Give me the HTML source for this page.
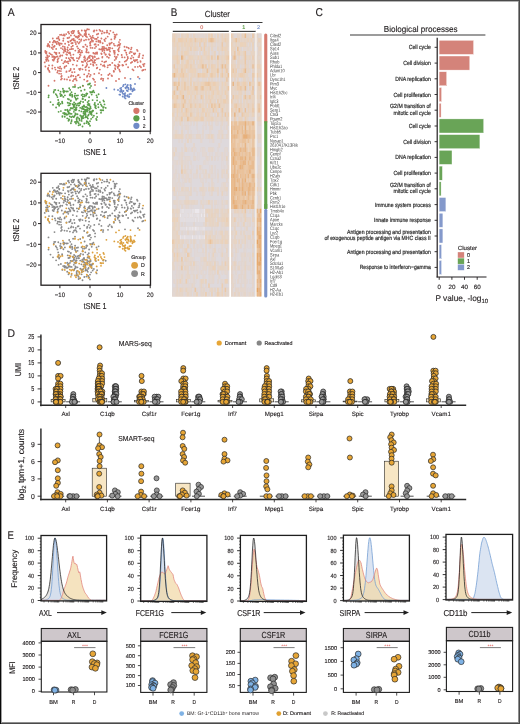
<!DOCTYPE html>
<html><head><meta charset="utf-8"><style>
html,body{margin:0;padding:0;background:#fff;}
body{width:520px;height:724px;overflow:hidden;}
svg{display:block;font-family:"Liberation Sans",sans-serif;text-rendering:geometricPrecision;will-change:transform;}
svg{fill:#231f20;}
text:not([fill]){stroke:#231f20;stroke-width:0.14px;}
</style></head><body>
<svg width="520" height="724" viewBox="0 0 520 724">
<rect x="0" y="0" width="520" height="724" fill="#fff"/>
<rect x="41" y="24.5" width="109.5" height="106.7" fill="none" stroke="#231f20" stroke-width="1.3"/>
<line x1="38" y1="33.2" x2="41" y2="33.2" stroke="#231f20" stroke-width="1"/>
<text x="36.5" y="35.4" font-size="6.3" text-anchor="end" textLength="6.7" lengthAdjust="spacingAndGlyphs">20</text>
<line x1="38" y1="52.9" x2="41" y2="52.9" stroke="#231f20" stroke-width="1"/>
<text x="36.5" y="55.1" font-size="6.3" text-anchor="end" textLength="6.7" lengthAdjust="spacingAndGlyphs">10</text>
<line x1="38" y1="72.6" x2="41" y2="72.6" stroke="#231f20" stroke-width="1"/>
<text x="36.5" y="74.8" font-size="6.3" text-anchor="end" textLength="3.6" lengthAdjust="spacingAndGlyphs">0</text>
<line x1="38" y1="92.3" x2="41" y2="92.3" stroke="#231f20" stroke-width="1"/>
<text x="36.5" y="94.5" font-size="6.3" text-anchor="end" textLength="10.2" lengthAdjust="spacingAndGlyphs">&#8722;10</text>
<line x1="38" y1="112" x2="41" y2="112" stroke="#231f20" stroke-width="1"/>
<text x="36.5" y="114.2" font-size="6.3" text-anchor="end" textLength="10.2" lengthAdjust="spacingAndGlyphs">&#8722;20</text>
<line x1="59.9" y1="131.2" x2="59.9" y2="134.2" stroke="#231f20" stroke-width="1"/>
<text x="59.9" y="142.6" font-size="6.3" text-anchor="middle" textLength="10.2" lengthAdjust="spacingAndGlyphs">&#8722;10</text>
<line x1="90" y1="131.2" x2="90" y2="134.2" stroke="#231f20" stroke-width="1"/>
<text x="90" y="142.6" font-size="6.3" text-anchor="middle" textLength="3.6" lengthAdjust="spacingAndGlyphs">0</text>
<line x1="120.1" y1="131.2" x2="120.1" y2="134.2" stroke="#231f20" stroke-width="1"/>
<text x="120.1" y="142.6" font-size="6.3" text-anchor="middle" textLength="6.7" lengthAdjust="spacingAndGlyphs">10</text>
<line x1="150.2" y1="131.2" x2="150.2" y2="134.2" stroke="#231f20" stroke-width="1"/>
<text x="150.2" y="142.6" font-size="6.3" text-anchor="middle" textLength="6.7" lengthAdjust="spacingAndGlyphs">20</text>
<text x="95.2" y="154.8" font-size="8.6" text-anchor="middle" textLength="22.7" lengthAdjust="spacingAndGlyphs">tSNE 1</text>
<text transform="translate(19 78) rotate(-90)" font-size="8.6" text-anchor="middle" textLength="22.7" lengthAdjust="spacingAndGlyphs">tSNE 2</text>
<path d="M88.6 52.5h0M52.3 68.5h0M90.5 45.4h0M105.8 38.4h0M64.9 48.5h0M52.8 38.5h0M86 35h0M53 42.5h0M46.5 51.9h0M72.1 39.4h0M119 42.1h0M119.5 65.3h0M48.1 43.9h0M119 79h0M96.1 46.5h0M121.7 55h0M83 62h0M74.1 69h0M78.4 31h0M114.6 38.7h0M75.7 36.8h0M83.7 46.9h0M69.3 53.2h0M57.8 61.2h0M102.6 48.7h0M49.2 56.1h0M58 67.5h0M47.8 68.5h0M48.2 67.9h0M94.3 73.9h0M143.3 70h0M52.7 59.8h0M115.3 69.2h0M50.6 54.1h0M94.5 56.5h0M58 38.3h0M74.1 30.8h0M80 77.3h0M93.1 64.4h0M81 35.1h0M95.5 53.8h0M63.1 35.3h0M90.9 60h0M116 81h0M114 71.2h0M119.3 69.7h0M49.1 45.5h0M70.4 70.3h0M75 85h0M87.2 64.7h0M75.9 44h0M62.9 46.5h0M102.4 51h0M68.3 63.3h0M57.5 56.5h0M73.3 33.1h0M118.2 49.6h0M143.1 55.5h0M47.5 46.2h0M133.3 57.6h0M64.7 47h0M56.2 48.9h0M73 81h0M84.2 74.3h0M61.3 68.7h0M69.1 33.5h0M130.4 51.6h0M47.5 45.7h0M64.7 66.7h0M79.6 51.9h0M47.6 59.1h0M90.2 45.5h0M61.8 60.1h0M85.2 61.3h0M70.7 68.9h0M61 79.5h0M53.4 60.5h0M87.3 75.6h0M138 77h0M80 34.2h0M74 79.3h0M69.1 52.7h0M66.5 71.5h0M118.6 49.3h0M114.2 52.4h0M75.2 42.1h0M102.4 31.2h0M108.3 75h0M68.8 58.2h0M80.6 52.8h0M96.3 41.4h0M82.7 65.2h0M132.5 69.3h0M94.6 44.5h0M131 49.3h0M139.2 55.5h0M57.5 61.4h0M47.7 45.3h0M74.6 72.1h0M114.7 50.8h0M69.3 37.5h0M62.3 55.5h0M128.1 67.2h0M119.7 45h0M119.5 47.1h0M73.7 38.8h0M56.9 56.6h0M53.7 60.6h0M87.6 80.8h0M125.3 50.5h0M102.1 61.3h0M72.6 43h0M119.9 39.8h0M85.6 33.1h0M112 76h0M79.2 36.1h0M58.5 42.6h0M69.9 49.3h0M93.5 37.8h0M67.4 49.5h0M71.4 31.9h0M108.8 57.7h0M140.6 61.8h0M145.2 69.6h0M126.2 60.6h0M101.4 74.8h0M109.9 55.2h0M95.3 60.1h0M61.7 75.9h0M142.6 58.1h0M84.6 56.3h0M69.2 71.1h0M68 41.6h0M54.1 57.8h0M54.6 40.8h0M108 78.5h0M55.2 42.3h0M128.8 48.4h0M88.7 73.7h0M100.5 42.2h0M86 39.7h0M84.3 59.9h0M72.1 33.2h0M63.2 40.7h0M90.1 42.3h0M96.6 30.4h0M66.4 71.9h0M117.6 66.9h0M80.5 68.6h0M78.2 31.6h0M118.6 66.3h0M103.3 78.8h0M46.1 59.5h0M59.3 40.1h0M130.9 62.9h0M92.8 57.2h0M115.2 35.1h0M84.1 40.4h0M117.4 45.8h0M56.8 38.4h0M136.4 60.2h0M115.6 65.9h0M128.4 47.8h0M55.8 42.4h0M104.2 65.1h0M60.4 55.5h0M97.9 37.3h0M79.1 68.9h0M103 65.7h0M88.9 34.3h0M53.6 56.4h0M123.2 65.3h0M57.3 41.6h0M110.2 64.9h0M54.6 45.9h0M56.3 54.3h0M109.7 54.9h0M66.2 34.1h0M85.7 69.9h0M137.6 50.9h0M60.1 66.7h0M66.9 61.8h0M59.3 39.5h0M52.4 65.5h0M97.1 53.8h0M89.7 57.9h0M90.7 64.1h0M91.3 59.8h0M139.1 56.9h0M102.4 46.8h0M64.5 79.2h0M96 52.6h0M91.3 37.4h0M71.5 49h0M70.1 53.2h0M114.6 34.6h0M65.3 51.2h0M89.8 76.6h0M86.4 48.8h0M69.9 59.7h0M86.7 50.4h0M84.7 34h0M127.7 56.9h0M47.3 55.5h0M61.7 43.7h0M131.9 55.8h0M116.8 56.9h0M54.3 58.8h0M109.2 54.2h0M122.1 57.2h0M88.5 39.4h0M49 65.4h0M55.5 69.6h0M127.9 58.2h0M81 40.8h0M86.8 52.4h0M137.8 66.8h0M46.4 60.9h0M118.8 48.3h0M95 38.9h0M79.9 54.6h0M71.4 75.3h0M78.7 43.4h0M108 65.3h0M113.8 43.8h0M55.6 41.9h0M54.5 56.8h0M52.8 60.1h0M91.8 40h0M48.4 60.7h0M66.3 65.9h0M88 61.3h0M93 40.8h0M70.7 55.1h0M105.6 48.4h0M67.1 52.2h0M75.8 76.7h0M106.1 61.4h0M122.4 64.9h0M97.1 52.4h0M84.5 35h0M61.1 73.8h0M62.7 49.1h0M109.2 33.7h0M78.7 58.7h0M71.1 57.4h0M73.8 31.8h0M68 38.1h0M122.6 65.5h0M86.4 66.2h0M77.5 37.8h0M87 37.1h0M124.6 57.4h0M111.8 42.6h0M75.3 50.6h0M99.5 29.8h0M70.4 60.5h0M54.1 46.8h0M93.7 31.2h0M72.2 39.3h0M94.3 30.3h0M79.2 39.3h0M119.5 61.9h0M54.9 67.6h0M86.3 30.6h0M124.8 61.6h0M76.6 80.4h0M93.7 31.1h0M100.2 42.5h0M98.4 40.7h0M68.1 61.3h0M117.9 68.1h0M126.7 54.7h0M96 38.9h0M84.7 30.4h0M102.4 56.8h0M109.4 43.3h0M117.9 54.7h0M72.8 45.7h0M85.7 32.3h0M90.1 55.7h0M114.7 60.1h0M87.1 46.5h0M108.9 47.6h0M142.3 70.5h0M88.9 29.4h0M63.5 38.5h0M49.1 70.7h0M118.3 64.5h0M76.9 58.1h0M93 78.6h0M129.6 53.1h0M133.8 53.4h0M57.3 72.5h0M120.3 43.8h0M87.4 76h0M105.7 54.8h0M86.2 52h0M78.9 58.1h0M88.2 57.7h0M101.8 33.5h0M102.7 43.2h0M143.1 64.4h0M85.9 36.3h0M84.1 57.4h0M72.9 64.6h0M52.3 56.9h0M72.6 30.8h0M96.9 58.8h0M107.4 49.9h0M56.5 52.9h0M143.8 66h0M68.5 31.8h0M49.4 53.1h0M88.9 39.5h0M87.3 59.2h0M110.6 43.4h0M73 48.9h0M61.4 34.7h0M75.9 79h0M94 31.5h0M99.9 69.6h0M124.6 50.3h0M77.1 46.5h0M67.5 38h0M65.3 49.4h0M64.5 61.7h0M114.9 45.6h0M74.2 60.3h0M102.3 57.5h0M115.1 68.2h0M64.7 35.5h0M102.2 48.3h0M94.9 48.1h0M96.5 64.8h0M61.2 76.7h0M90.1 36.1h0M78.2 52.4h0M118.8 51.2h0M104.4 62.2h0M114.6 51.9h0M118.1 50.1h0M64.9 62h0M114.8 52.8h0M119.4 45h0M130.7 58.3h0M86.8 49.4h0M88.9 67.3h0M135.4 60.2h0M84.2 79.6h0M93 62.2h0M107.1 56.7h0M82.5 69.3h0M91 38.4h0M82.7 36.4h0M98.2 33.7h0M67 54.7h0M59.5 68.3h0M104.3 48.2h0M90.6 74.9h0M57.8 70.8h0M126.2 64.4h0M55.5 57.2h0M101.6 78.5h0M70.9 35.5h0M99.3 49.2h0M100.4 30.9h0M116.1 58.8h0M102.7 49.6h0M115.4 37h0M68.5 42.2h0M87 81.2h0M78.6 50.8h0M89.1 70.7h0M108.6 49.5h0M93.4 65.5h0M66.9 62h0M75.1 78.8h0M60.1 43.5h0M110 51.5h0M71.2 40.4h0M80.6 55.1h0M46.7 58.8h0M103.9 46.9h0M52.4 44.8h0M120 71.5h0M93.9 62.2h0M94.9 57h0M103.8 48.9h0M94.4 60.1h0M86.8 63.1h0M79.8 56.8h0M74.5 35.4h0M100.9 64.4h0M57.5 62.1h0M73.3 76h0M81.8 61.7h0M53.3 46.8h0M63.3 63.3h0M126 60.9h0M61 48.1h0M106.5 48.5h0M47.8 57.2h0M60 34.8h0M59.4 70.8h0M77.4 61h0M63.6 52.5h0M57.7 59.5h0M49.6 46.8h0M86.1 33.9h0M78.2 31.8h0M83.1 46.7h0M54.3 59h0M101.3 53.5h0M85.5 44.7h0M104.4 50.5h0M89.1 56.5h0M125 78h0M107 30.7h0M134.8 61.2h0M71.4 43.2h0M46 53.2h0M104.4 39.7h0M101.4 38.5h0M139.6 53.7h0M78.1 48.4h0M113.7 70.9h0M68.9 52.9h0M107.7 36.6h0M105.9 54.3h0M79.8 49.7h0M89.7 61h0M65.1 43.7h0M92.9 41.6h0M101.6 54h0M61.9 78.6h0M92.1 37.5h0M135.1 66.9h0M111.3 39.4h0M114.4 45.3h0M137.2 59.8h0M94.1 53.5h0M95 85h0M107.2 45.2h0M126.2 52.7h0M52 54.9h0M110.1 48h0M140.4 61.1h0M91.9 56.1h0M82.1 52.3h0M64.5 67.7h0M94 79.7h0M68.9 45h0M132.1 62h0M54.6 52.3h0M78.6 75h0M134.3 54.3h0M94.9 62.7h0M98.3 44.9h0M107 50h0M55.1 57.8h0M133.5 70.3h0M106.3 32.6h0M59.3 53h0M59.1 73.6h0M139.8 66h0M85.4 67.4h0M81.8 50.8h0M78.5 35.9h0M105.4 54.4h0M58.1 38.2h0M99 73.2h0M98.6 58.4h0M73.4 54.6h0M109.6 44.7h0M64 34.5h0M96.8 68.2h0M110.4 30.8h0M70.9 76.4h0M95.1 81.9h0M72.3 58.2h0M73.5 59.8h0M127.1 59.8h0M79.1 32.9h0M144.5 63.8h0M87.3 29.2h0M45.4 66.5h0M96.8 34.4h0M131.8 52.1h0M81.8 30.5h0M100.1 40.9h0M76.7 65.5h0M113.3 32.4h0M65.2 61h0M131.1 58.5h0M113.7 50.8h0M109.7 73.7h0M78.5 37h0M69.8 52.3h0M114.6 36.8h0M104.2 32.7h0M81.3 39.5h0M49.8 42h0M124.5 46.7h0M48.5 85.7h0M67.7 47.4h0M114.7 65.2h0M51.7 47.7h0M79.8 69.9h0M101 79h0M64.1 50.5h0M92.8 35.8h0M68.6 77.1h0M48.1 69.4h0M68 32.1h0M70 61h0M55.7 53h0M56.8 44h0M73.6 40.2h0M115.9 57.9h0M90.1 43.1h0M66.3 58h0M103 80.5h0M46.3 53.5h0M98.4 41.8h0M93.3 52.9h0M95.6 44.2h0M107.6 67.3h0M137 49.8h0M92.5 47.9h0M45.3 50.8h0M83 86h0M112.3 62.9h0M118.2 45.1h0M58.5 58.3h0M52.9 49.1h0M85.1 58h0M126.7 47.2h0M78.6 33.3h0M76.7 36.7h0M59.6 45.2h0M85.7 60.3h0M44.7 62.4h0M114.6 53.9h0M92.1 60.6h0M46.1 57.3h0M105.6 61.6h0M107.4 32.4h0M70.4 41h0M58.7 43.7h0M90.1 43.6h0M135.2 53.5h0M87 76.7h0M68 50.6h0M92.8 58.5h0M53.8 41h0M104.3 52.7h0M60.9 71.1h0M109.6 49.8h0M116.7 34.5h0M66.3 54.3h0M94.3 61.9h0M119.2 44.3h0M72.1 72.2h0M54.5 80.7h0M104.7 66.5h0M96.7 39h0M77.2 41.9h0M45.3 51.9h0M113.9 71.7h0M138.4 57.1h0M101 49.4h0M97.3 67.7h0M79.6 42.2h0M133.9 60.2h0M71.4 46.8h0M60 56.5h0M77.7 75.3h0M74.9 40.3h0M90.6 47.8h0M114.8 56.4h0M111.6 75.4h0M73.1 58h0M112.3 48.3h0M49.6 71.9h0M105 41.1h0M69.9 80.2h0M91 41.7h0M46.4 60.6h0M141 67.2h0M58.5 37h0M137.7 62.2h0M131.5 47.7h0M109.7 64.8h0M67 79.5h0M85.4 31.5h0" stroke="#d5766a" stroke-width="1.85" stroke-linecap="round" fill="none"/>
<path d="M84 105.4h0M75.3 109.9h0M85.4 107.1h0M68.4 111.9h0M96.5 95.3h0M75 122h0M90 121.2h0M81.8 116.2h0M61.9 95.5h0M72.7 104.2h0M89.1 97.2h0M89.4 112.6h0M75.2 97.6h0M58.3 90.3h0M58.9 102.5h0M87.5 111h0M74.3 104.9h0M77.8 117.5h0M103.1 107.2h0M62.4 103.3h0M87.6 104.8h0M85.3 100h0M71.5 121.4h0M70.5 103.6h0M75.5 109.4h0M92.4 110.7h0M93.9 115.7h0M83.7 115.2h0M86.8 121.2h0M61.4 94.6h0M83.5 118h0M78.6 125.3h0M84.5 96.4h0M59.1 105.1h0M88.5 124h0M86.1 109.7h0M84.8 113.2h0M67.8 91.4h0M64.9 95.3h0M70.9 100.4h0M63.6 90.6h0M62.2 102.4h0M70.3 95.4h0M80.2 124.7h0M59.1 105.8h0M87.2 93.9h0M69.7 105.1h0M68.5 120.7h0M87.1 117.2h0M70.6 108.1h0M96.6 120h0M85.4 113.8h0M77.2 117.5h0M83.4 113.1h0M99.9 102.2h0M74.7 107h0M90.1 91.8h0M65.8 113.4h0M94.4 104.5h0M76.6 118.8h0M89.6 109.4h0M90.4 106.5h0M82.8 96.6h0M79.9 102.7h0M89.2 105.4h0M82.7 98.7h0M70.7 101h0M58.6 111.8h0M84.9 111.4h0M89.5 104.1h0M78.4 105.6h0M73.6 117.1h0M77.7 121.6h0M103.2 107.8h0M80.2 107.8h0M75.6 103.7h0M67.2 118.3h0M86.1 95.5h0M101 112.7h0M88 84.5h0M71.5 92.2h0M74.3 116.4h0M76.4 121.7h0M88.1 115.6h0M87.9 118.5h0M81.4 117h0M62.9 88.7h0M70.2 89.9h0M89.9 108.4h0M88.3 122.5h0M91 86h0M87.6 102.1h0M50.5 102.1h0M60.6 91.7h0M78.3 87.8h0M76.7 121.3h0M63.5 90.4h0M48.5 97.3h0M85.3 112.8h0M67.1 110h0M79.2 118.6h0M97.1 100.4h0M82.8 116.2h0M80.2 124.5h0M82.6 94.4h0M76.7 119.8h0M91.8 114.9h0M90.5 113.7h0M74.1 102.5h0M91.6 112.8h0M76 123.6h0M72.2 96.8h0M81.9 108.3h0M69 99.5h0M92.7 117.3h0M71.3 117.2h0M93.4 90.7h0M87.3 93.7h0M67.9 111.6h0M97.1 117h0M54.2 90.1h0M89.2 83.8h0M74.7 115.4h0M73.8 106.1h0M79.6 120.4h0M91.7 94.6h0M75.7 114.6h0M95.3 107.6h0M81.6 95.1h0M95.5 105.5h0M91 112h0M69.3 119.8h0M76.4 109.5h0M100.9 104.4h0M73.7 106.8h0M63.4 96.9h0M60.4 103.9h0M82.3 106.9h0M79.4 119.3h0M87.2 111.6h0M72.1 94.6h0M98.6 94.2h0M57.6 104.1h0M68.2 111.8h0M83.5 106.1h0M89.8 111.3h0M72.5 116.4h0M81.1 90.7h0M64.3 112.9h0M95.2 107h0M66.6 91.5h0M76 98.9h0M53 104.7h0M83 98.9h0M94.9 102.9h0M70.3 94h0M78.6 123.3h0M65.2 110h0M91.1 118.9h0M70 109.9h0M81.4 111.4h0M74.3 109.9h0M83.5 108.4h0M67.4 109.7h0M90.5 112.5h0M90 87.8h0M70.9 123.2h0M85.8 116h0M80.3 115.5h0M98.1 104.2h0M84.3 123.5h0M90.7 108.2h0M48.7 95.5h0M76 108.1h0M79.2 110.6h0M73.3 104.3h0M74.6 96.2h0M96.7 113.3h0M86.3 110.9h0M69.7 94.9h0M68.4 105.4h0M60.9 111.1h0M95.1 105.3h0M98.4 107.2h0M76.5 105.5h0M82 108.7h0M69.2 103.1h0M63.2 91.6h0M67.9 98.9h0M91.1 113.9h0M82 117.9h0M92.3 91.9h0M92.1 91.7h0M84.6 89.7h0M86.4 123.1h0M85.6 114.3h0M80.8 101.3h0M88.3 103.7h0M87.2 109.7h0M96.1 118.8h0M55.8 94.1h0M81.9 118.8h0M58 104h0M93.1 110.7h0M63.1 113.1h0M85.1 114.1h0M60.1 93.8h0M80.1 103.6h0M91.4 112.1h0M83.1 102h0M82.5 99h0M78 95.3h0M85.4 111.1h0M81.7 119h0M56.1 107.5h0M78.2 103.3h0M83.6 111.6h0M75 86.6h0M66.3 114.7h0M69.2 88.2h0M101.8 110.2h0M83.2 109h0M71.6 113.8h0M55.3 89.9h0M86.3 93.7h0M64.8 116.7h0M75.7 113.6h0M70.1 113.7h0M71 108h0M78.5 123h0M77.6 98.5h0M101.3 110.5h0M64.8 91.2h0M76.1 99.7h0M58.2 100h0M96 108.3h0M77 117.8h0M62.1 101.7h0M60.6 96h0M84.8 109.7h0M103.2 110.2h0M63.8 92.5h0M100.5 110.1h0M104.5 104.4h0M92.4 111.4h0M64.5 114.4h0M87.8 110.5h0M77.7 121.8h0M69.6 113.1h0M82.5 126.5h0M84.3 106.5h0M86.6 106.8h0M88.6 114.7h0M62.4 116.1h0M53.7 92.6h0M73.1 86.9h0M73.4 104.7h0M105.7 107.9h0M67.7 102.7h0M83.8 113.2h0M87.2 121.6h0M68.6 111.1h0M72.2 95.4h0M75.8 110.3h0M104 101.6h0M90.6 92.6h0M97.1 97.2h0M76.6 107.6h0M85.4 117.3h0M58.4 102.6h0M67.7 114.6h0M85.4 112.2h0M95.8 105.9h0M84.4 113.6h0M71.7 108.4h0M57.5 97.1h0M77.5 114.2h0M68.5 113.5h0M71.7 120.1h0M75.3 109.2h0M103.4 100.5h0M89.4 84.2h0M90 83.5h0M74.7 95.6h0M74.9 87.1h0M86.4 109.9h0M76.6 95.6h0M75.4 113.3h0M87.3 108.1h0M73.9 111.8h0M84.4 94.8h0M94.2 92.3h0M68.9 119.2h0M88.8 100.8h0M83 116.3h0M79.5 103h0M82.8 85.6h0M69.8 116.4h0M53.8 91.7h0M80.2 87.2h0M101.7 105.9h0M73.8 117.1h0M62.4 116.7h0M56.7 95.4h0M88.9 108.5h0M86.7 93.4h0M86 110h0M90 125.7h0M89.2 123.9h0M87.2 107.6h0M66.9 114.6h0M81.6 120.9h0M77.7 103.8h0M92.1 92.4h0M103.8 107.1h0M75.1 93.6h0M91.4 114.6h0M72.8 108.2h0M92.6 100.1h0M79.1 105.4h0" stroke="#5c9e4a" stroke-width="1.85" stroke-linecap="round" fill="none"/>
<path d="M120.1 94.7h0M124.7 94.7h0M125.2 93.1h0M122.3 92.5h0M132.4 91.2h0M124.6 97.5h0M130.5 89.6h0M134.7 89.8h0M128.5 89.1h0M127.8 85h0M127.8 91h0M127.6 96.4h0M123 86.2h0M120.1 91.2h0M106.4 88h0M130.6 88.1h0M120.5 88.5h0M125.5 98.4h0M134.6 89.9h0M131.7 88.6h0M121.6 91h0M129 97h0M123.8 93.9h0M125.4 84.3h0M124.6 96.1h0M121.3 87.8h0M132.5 89.9h0M129.3 96.4h0M130.5 78.8h0M125.8 95.7h0M119.4 94.6h0M125.4 87.7h0M121.4 90h0M127.1 85.9h0M125.7 88.2h0M130.4 84.8h0M114.3 89.5h0M133.5 90.2h0M130.6 89.6h0M127 90.7h0M133.9 88.5h0M129.5 94.1h0M130.7 87h0M126.7 86.7h0M128.1 87.6h0M122.7 96.5h0M123.6 84.9h0M131.1 88.1h0M118 90h0M139.5 78.6h0M126.8 90.3h0M130.9 85.3h0M128.3 88.5h0M130.9 93.9h0M123 93.8h0M130.4 85.3h0M121.3 90.1h0M126.7 87.4h0M127.7 95.2h0M125.7 95.8h0M123.4 91h0M120.3 91.7h0M135 84h0M120.2 88.5h0" stroke="#6f8ac6" stroke-width="1.85" stroke-linecap="round" fill="none"/>
<text x="136.2" y="104.9" font-size="5.2" text-anchor="middle" textLength="15.6" lengthAdjust="spacingAndGlyphs">Cluster</text>
<circle cx="136.4" cy="110.8" r="3.1" fill="#d5766a"/>
<text x="142.8" y="112.8" font-size="5.5" textLength="2.8" lengthAdjust="spacingAndGlyphs">0</text>
<circle cx="136.4" cy="118.3" r="3.1" fill="#5c9e4a"/>
<text x="142.8" y="120.3" font-size="5.5" textLength="2.8" lengthAdjust="spacingAndGlyphs">1</text>
<circle cx="136.4" cy="125.8" r="3.1" fill="#6f8ac6"/>
<text x="142.8" y="127.8" font-size="5.5" textLength="2.8" lengthAdjust="spacingAndGlyphs">2</text>
<rect x="41" y="173.3" width="109.5" height="111.9" fill="none" stroke="#231f20" stroke-width="1.3"/>
<line x1="38" y1="182.2" x2="41" y2="182.2" stroke="#231f20" stroke-width="1"/>
<text x="36.5" y="184.4" font-size="6.3" text-anchor="end" textLength="6.7" lengthAdjust="spacingAndGlyphs">20</text>
<line x1="38" y1="202.9" x2="41" y2="202.9" stroke="#231f20" stroke-width="1"/>
<text x="36.5" y="205.1" font-size="6.3" text-anchor="end" textLength="6.7" lengthAdjust="spacingAndGlyphs">10</text>
<line x1="38" y1="223.6" x2="41" y2="223.6" stroke="#231f20" stroke-width="1"/>
<text x="36.5" y="225.8" font-size="6.3" text-anchor="end" textLength="3.6" lengthAdjust="spacingAndGlyphs">0</text>
<line x1="38" y1="244.3" x2="41" y2="244.3" stroke="#231f20" stroke-width="1"/>
<text x="36.5" y="246.5" font-size="6.3" text-anchor="end" textLength="10.2" lengthAdjust="spacingAndGlyphs">&#8722;10</text>
<line x1="38" y1="265" x2="41" y2="265" stroke="#231f20" stroke-width="1"/>
<text x="36.5" y="267.2" font-size="6.3" text-anchor="end" textLength="10.2" lengthAdjust="spacingAndGlyphs">&#8722;20</text>
<line x1="59.9" y1="285.2" x2="59.9" y2="288.2" stroke="#231f20" stroke-width="1"/>
<text x="59.9" y="296.6" font-size="6.3" text-anchor="middle" textLength="10.2" lengthAdjust="spacingAndGlyphs">&#8722;10</text>
<line x1="90" y1="285.2" x2="90" y2="288.2" stroke="#231f20" stroke-width="1"/>
<text x="90" y="296.6" font-size="6.3" text-anchor="middle" textLength="3.6" lengthAdjust="spacingAndGlyphs">0</text>
<line x1="120.1" y1="285.2" x2="120.1" y2="288.2" stroke="#231f20" stroke-width="1"/>
<text x="120.1" y="296.6" font-size="6.3" text-anchor="middle" textLength="6.7" lengthAdjust="spacingAndGlyphs">10</text>
<line x1="150.2" y1="285.2" x2="150.2" y2="288.2" stroke="#231f20" stroke-width="1"/>
<text x="150.2" y="296.6" font-size="6.3" text-anchor="middle" textLength="6.7" lengthAdjust="spacingAndGlyphs">20</text>
<text x="95.2" y="308.6" font-size="8.6" text-anchor="middle" textLength="22.7" lengthAdjust="spacingAndGlyphs">tSNE 1</text>
<text transform="translate(19 230) rotate(-90)" font-size="8.6" text-anchor="middle" textLength="22.7" lengthAdjust="spacingAndGlyphs">tSNE 2</text>
<path d="M88.6 202.5h0M84 258h0M90.5 195h0M105.8 187.7h0M96.5 247.5h0M90 274.6h0M64.9 198.3h0M52.8 187.8h0M81.8 269.4h0M86 184.1h0M72.1 188.7h0M72.7 256.8h0M119 191.5h0M119.5 215.9h0M89.1 249.5h0M96.1 196.2h0M121.7 205.1h0M83 212.4h0M75.2 249.9h0M74.1 219.8h0M78.4 179.9h0M114.6 188h0M75.7 186h0M58.3 242.2h0M83.7 196.6h0M69.3 203.2h0M57.8 211.6h0M102.6 198.5h0M58.9 255h0M58 218.2h0M47.8 219.3h0M74.3 257.6h0M94.3 224.9h0M143.3 220.9h0M52.7 210.2h0M87.6 257.5h0M85.3 252.3h0M71.5 274.9h0M115.3 220h0M75.5 262.2h0M92.4 263.6h0M50.6 204.1h0M94.5 206.7h0M58 187.5h0M74.1 179.7h0M80 228.6h0M93.9 268.9h0M93.1 215h0M81 184.2h0M95.5 203.8h0M63.1 184.5h0M90.9 210.3h0M114 222.2h0M119.3 220.6h0M49.1 195.1h0M61.4 246.7h0M70.4 221.2h0M75 236.6h0M87.2 215.3h0M75.9 193.5h0M102.4 200.9h0M78.6 279h0M68.3 213.8h0M57.5 206.7h0M73.3 182.1h0M118.2 199.4h0M84.5 248.6h0M47.5 195.9h0M133.3 207.8h0M64.7 196.6h0M56.2 198.7h0M73 232.4h0M59.1 257.7h0M84.2 225.3h0M61.3 219.5h0M69.1 182.5h0M130.4 201.5h0M47.5 195.3h0M64.7 217.4h0M79.6 201.9h0M67.8 243.3h0M64.9 247.4h0M70.9 252.8h0M47.6 209.5h0M63.6 242.5h0M62.2 254.9h0M90.2 195.1h0M61.8 210.5h0M85.2 211.7h0M70.7 219.7h0M61 230.9h0M70.3 247.6h0M80.2 278.3h0M53.4 210.9h0M87.3 226.7h0M59.1 258.5h0M87.2 245.9h0M138 228.2h0M80 183.2h0M74 230.7h0M69.7 257.7h0M66.5 222.4h0M68.5 274.2h0M118.6 199.2h0M87.1 270.5h0M114.2 202.3h0M75.2 191.5h0M102.4 180.1h0M70.6 260.9h0M108.3 226.2h0M68.8 208.4h0M96.3 190.8h0M96.6 273.4h0M82.7 215.8h0M132.5 220.1h0M94.6 194.1h0M131 199.1h0M139.2 205.6h0M57.5 211.8h0M47.7 194.9h0M74.6 223h0M85.4 266.9h0M114.7 200.7h0M69.3 186.7h0M62.3 205.7h0M128.1 218h0M119.5 196.8h0M73.7 188.1h0M56.9 206.8h0M77.2 270.8h0M53.7 211h0M83.4 266.2h0M125.3 200.4h0M102.1 211.7h0M72.6 192.4h0M119.9 189.1h0M74.7 259.8h0M90.1 243.8h0M65.8 266.5h0M85.6 182.1h0M112 227.2h0M79.2 185.3h0M76.6 272.1h0M58.5 192.1h0M69.9 199.1h0M93.5 187h0M67.4 199.3h0M82.8 248.8h0M71.4 180.8h0M108.8 208h0M140.6 212.3h0M79.9 255.3h0M89.2 258h0M126.2 211h0M101.4 225.9h0M109.9 205.3h0M95.3 210.5h0M70.7 253.4h0M61.7 227h0M142.6 208.4h0M84.6 206.4h0M69.2 222h0M68 191h0M58.6 264.8h0M84.9 264.4h0M54.1 208h0M54.6 190.2h0M108 229.8h0M55.2 191.8h0M128.8 198.2h0M88.7 224.8h0M78.4 258.2h0M103.2 260.6h0M80.2 260.6h0M75.6 256.3h0M67.2 271.7h0M100.5 191.6h0M86 189h0M84.3 210.3h0M72.1 182.2h0M63.2 190.1h0M86.1 247.7h0M90.1 191.8h0M96.6 179.2h0M88 236.1h0M71.5 244.2h0M74.3 269.6h0M76.4 275.2h0M117.6 217.6h0M80.5 219.4h0M78.2 180.5h0M88.1 268.8h0M87.9 271.8h0M118.6 217h0M103.3 230.1h0M46.1 209.9h0M70.2 241.8h0M59.3 189.4h0M130.9 213.4h0M89.9 261.2h0M88.3 276h0M91 237.6h0M92.8 207.4h0M87.6 254.6h0M50.5 254.6h0M60.6 243.7h0M115.2 184.2h0M84.1 189.7h0M76.7 274.8h0M63.5 242.3h0M48.5 249.6h0M117.4 195.5h0M56.8 187.7h0M136.4 210.6h0M85.3 265.9h0M115.6 216.5h0M67.1 262.9h0M55.8 191.8h0M104.2 215.7h0M60.4 205.6h0M97.9 186.5h0M79.1 219.7h0M103 216.4h0M82.8 269.4h0M88.9 183.3h0M53.6 206.5h0M76.7 273.2h0M91.8 268.1h0M123.2 215.9h0M74.1 255h0M57.3 191h0M110.2 215.5h0M54.6 195.5h0M91.6 265.9h0M56.3 204.4h0M109.7 205h0M85.7 220.7h0M72.2 249h0M137.6 200.8h0M60.1 217.4h0M66.9 212.2h0M59.3 188.8h0M52.4 216.2h0M97.1 203.9h0M89.7 208.2h0M90.7 214.6h0M91.3 210.1h0M139.1 207.1h0M102.4 196.5h0M81.9 261.1h0M69 251.8h0M92.7 270.5h0M64.5 230.6h0M96 202.6h0M91.3 186.6h0M71.5 198.8h0M70.1 203.2h0M114.6 183.7h0M65.3 201.1h0M89.8 227.8h0M86.4 198.6h0M69.9 210h0M86.7 200.2h0M127.7 207.1h0M47.3 205.6h0M61.7 193.3h0M93.4 242.7h0M87.3 245.8h0M67.9 264.6h0M97.1 270.2h0M131.9 206h0M116.8 207.1h0M54.3 209.1h0M109.2 204.3h0M122.1 207.4h0M88.5 188.7h0M49 216.1h0M55.5 220.4h0M54.2 242h0M89.2 235.3h0M127.9 208.5h0M81 190.2h0M74.7 268.6h0M73.8 258.8h0M86.8 202.4h0M137.8 217.5h0M46.4 211.3h0M118.8 198h0M95 188.2h0M79.9 204.7h0M71.4 226.4h0M91.7 246.7h0M78.7 192.9h0M108 215.9h0M75.7 267.7h0M113.8 193.4h0M55.6 191.4h0M54.5 207h0M52.8 210.4h0M91.8 189.3h0M48.4 211.1h0M81.6 247.2h0M88 211.7h0M91 265h0M93 190.2h0M70.7 205.2h0M105.6 198.1h0M67.1 202.1h0M75.8 227.9h0M73.7 259.6h0M106.1 211.9h0M63.4 249.2h0M122.4 215.5h0M82.3 259.6h0M79.4 272.7h0M97.1 202.4h0M87.2 264.6h0M72.1 246.7h0M84.5 184h0M98.6 246.3h0M61.1 224.8h0M109.2 182.7h0M68.2 264.8h0M83.5 258.8h0M78.7 209h0M71.1 207.6h0M73.8 180.8h0M68 187.3h0M89.8 264.2h0M122.6 216.1h0M86.4 216.9h0M64.3 265.9h0M77.5 187.1h0M87 186.3h0M124.6 207.7h0M111.8 192.1h0M75.3 200.5h0M66.6 243.5h0M70.4 210.9h0M54.1 196.5h0M93.7 180.1h0M72.2 188.6h0M94.3 179.1h0M79.2 188.6h0M76 251.2h0M119.5 212.4h0M54.9 218.4h0M86.3 179.5h0M53 257.3h0M124.8 212h0M76.6 231.8h0M93.7 180h0M70.3 246.1h0M100.2 192h0M98.4 190.1h0M68.1 211.7h0M117.9 218.8h0M126.7 204.8h0M96 188.2h0M78.6 276.9h0M84.7 179.3h0M102.4 207h0M109.4 192.8h0M117.9 204.8h0M72.8 195.3h0M85.7 181.2h0M91.1 272.3h0M90.1 205.9h0M114.7 210.5h0M87.1 196.1h0M70 262.8h0M108.9 197.4h0M142.3 221.4h0M88.9 178.2h0M81.4 264.3h0M74.3 262.8h0M83.5 261.2h0M67.4 262.6h0M118.3 215.1h0M90.5 265.6h0M76.9 208.3h0M90 239.6h0M85.8 269.2h0M93 229.9h0M129.6 203.1h0M80.3 268.7h0M133.8 203.4h0M84.3 277h0M57.3 223.5h0M90.7 261h0M120.3 193.4h0M87.4 227.1h0M105.7 204.9h0M86.2 202h0M76 260.9h0M88.2 208h0M74.6 248.4h0M101.8 182.6h0M102.7 192.7h0M143.1 215h0M84.1 207.6h0M72.9 215.1h0M52.3 207.1h0M72.6 179.7h0M68.4 258h0M60.9 264h0M107.4 199.7h0M56.5 202.8h0M143.8 216.7h0M68.5 180.7h0M88.9 188.8h0M87.3 209.6h0M110.6 192.9h0M76.5 258.2h0M61.4 183.8h0M75.9 230.3h0M94 180.4h0M99.9 220.5h0M124.6 200.2h0M67.9 251.3h0M77.1 196.2h0M82 271.2h0M92.3 243.9h0M67.5 187.2h0M92.1 243.6h0M65.3 199.2h0M64.5 212.2h0M114.9 195.3h0M74.2 210.7h0M102.3 207.7h0M64.7 184.6h0M102.2 198.1h0M94.9 197.9h0M96.5 215.4h0M61.2 227.9h0M90.1 185.2h0M78.2 202.4h0M118.8 201.1h0M104.4 212.6h0M114.6 201.9h0M84.6 241.5h0M86.4 276.6h0M85.6 267.5h0M114.8 202.8h0M119.4 194.6h0M130.7 208.5h0M80.8 253.8h0M86.8 199.2h0M88.9 218h0M135.4 210.6h0M87.2 262.6h0M84.2 231h0M93 212.7h0M107.1 206.9h0M82.5 220.1h0M55.8 246.2h0M91 187.7h0M82.7 185.5h0M98.2 182.8h0M67 204.8h0M59.5 219.1h0M104.3 198h0M90.6 226.1h0M57.8 221.7h0M126.2 215h0M55.5 207.4h0M101.6 229.8h0M70.9 184.6h0M99.3 199h0M81.9 272.1h0M116.1 209.1h0M102.7 199.5h0M115.4 186.2h0M58 256.6h0M68.5 191.7h0M87 232.7h0M78.6 200.7h0M89.1 221.6h0M108.6 199.3h0M93.4 216.2h0M66.9 212.4h0M75.1 230.1h0M60.1 193h0M71.2 189.7h0M80.6 205.2h0M63.1 266.1h0M103.9 196.6h0M60.1 245.9h0M120 222.4h0M94.9 207.2h0M91.4 265.1h0M103.8 198.7h0M83.1 254.5h0M94.4 210.5h0M86.8 213.6h0M79.8 207h0M82.5 251.3h0M74.5 184.5h0M100.9 215h0M78 247.5h0M85.4 264.1h0M56.1 260.3h0M73.3 227.2h0M81.8 212.1h0M78.2 255.8h0M53.3 196.5h0M63.3 213.8h0M61 197.9h0M106.5 198.3h0M47.8 207.4h0M60 183.9h0M66.3 267.9h0M59.4 221.7h0M69.2 240h0M83.2 261.9h0M71.6 266.9h0M77.4 211.4h0M63.6 202.5h0M57.7 209.8h0M55.3 241.8h0M49.6 196.4h0M86.3 245.8h0M86.1 183h0M78.2 180.8h0M83.1 196.4h0M54.3 209.3h0M101.3 203.6h0M75.7 266.7h0M70.1 266.8h0M85.5 194.3h0M104.4 200.4h0M71 260.8h0M89.1 206.7h0M125 229.3h0M107 179.6h0M134.8 211.6h0M71.4 192.7h0M78.5 276.5h0M104.4 189.1h0M77.6 250.8h0M101.4 187.8h0M64.8 243.2h0M139.6 203.7h0M78.1 198.2h0M68.9 202.9h0M107.7 185.8h0M58.2 252.4h0M96 261.1h0M105.9 204.3h0M79.8 199.6h0M77 271.1h0M89.7 211.4h0M65.1 193.3h0M62.1 254.2h0M92.9 191h0M60.6 248.2h0M101.6 204h0M61.9 229.9h0M92.1 186.7h0M135.1 217.6h0M84.8 262.6h0M111.3 188.7h0M114.4 194.9h0M137.2 210.1h0M63.8 244.5h0M94.1 203.6h0M95 236.6h0M107.2 194.8h0M126.2 202.7h0M92.4 264.3h0M64.5 267.5h0M52 205h0M110.1 197.7h0M140.4 211.5h0M87.8 263.4h0M91.9 206.2h0M77.7 275.3h0M69.6 266.1h0M64.5 218.4h0M94 231h0M82.5 280.2h0M68.9 194.6h0M132.1 212.5h0M54.6 202.2h0M78.6 226.1h0M84.3 259.2h0M134.3 204.4h0M94.9 213.2h0M98.3 194.5h0M88.6 267.9h0M107 199.9h0M55.1 208h0M133.5 221.2h0M106.3 181.6h0M59.3 203h0M59.1 224.6h0M139.8 216.7h0M81.8 200.7h0M78.5 185.1h0M105.4 204.4h0M58.1 187.5h0M99 224.2h0M98.6 208.7h0M73.4 204.7h0M109.6 194.2h0M73.1 238.7h0M64 183.6h0M96.8 219h0M105.7 260.7h0M67.7 255.3h0M83.8 266.3h0M70.9 227.6h0M95.1 233.4h0M68.6 264h0M72.3 208.5h0M73.5 210.1h0M127.1 210.1h0M72.2 247.6h0M75.8 263.3h0M79.1 181.9h0M144.5 214.3h0M87.3 178h0M96.8 183.5h0M76.6 260.4h0M85.4 270.6h0M131.8 202h0M81.8 179.4h0M100.1 190.3h0M76.7 216.1h0M113.3 181.4h0M65.2 211.4h0M131.1 208.8h0M113.7 200.7h0M67.7 267.7h0M85.4 265.2h0M95.8 258.6h0M109.7 224.7h0M78.5 186.2h0M69.8 202.3h0M114.6 186h0M104.2 181.6h0M81.3 188.8h0M49.8 191.4h0M124.5 196.4h0M48.5 237.4h0M67.7 197.2h0M114.7 215.8h0M51.7 197.4h0M84.4 266.6h0M79.8 220.8h0M57.5 249.4h0M77.5 267.3h0M68.5 266.6h0M75.3 262.1h0M64.1 200.4h0M92.8 184.9h0M68.6 228.3h0M89.4 235.8h0M68 181h0M70 211.4h0M90 235h0M55.7 203h0M56.8 193.5h0M73.6 189.6h0M86.4 262.8h0M76.6 247.8h0M75.4 266.4h0M115.9 208.2h0M87.3 260.9h0M73.9 264.8h0M90.1 192.6h0M103 231.9h0M46.3 203.5h0M98.4 191.3h0M93.3 202.9h0M95.6 193.8h0M107.6 218h0M137 199.7h0M92.5 197.7h0M112.3 213.4h0M118.2 194.7h0M58.5 208.6h0M88.8 253.2h0M52.9 198.9h0M126.7 196.9h0M78.6 182.3h0M83 269.6h0M59.6 194.8h0M79.5 255.5h0M82.8 237.2h0M44.7 212.9h0M114.6 204h0M92.1 211h0M46.1 207.5h0M105.6 212.1h0M107.4 181.4h0M70.4 190.4h0M58.7 193.3h0M90.1 193.1h0M135.2 203.6h0M87 227.9h0M53.8 243.7h0M68 200.5h0M80.2 239h0M92.8 208.8h0M53.8 190.4h0M73.8 270.3h0M104.3 202.7h0M60.9 222.1h0M109.6 199.6h0M116.7 183.6h0M62.4 269.9h0M66.3 204.3h0M94.3 212.3h0M119.2 193.9h0M72.1 223.2h0M54.5 232.1h0M96.7 188.3h0M77.2 191.3h0M45.3 201.9h0M56.7 247.6h0M113.9 222.7h0M88.9 261.3h0M138.4 207.3h0M86.7 245.5h0M90 279.4h0M101 199.2h0M89.2 277.5h0M97.3 218.5h0M79.6 191.7h0M133.9 210.6h0M71.4 196.5h0M87.2 260.4h0M66.9 267.8h0M60 206.7h0M81.6 274.3h0M77.7 256.4h0M77.7 226.4h0M92.1 244.4h0M90.6 197.6h0M114.8 206.6h0M75.1 245.7h0M111.6 226.5h0M73.1 208.2h0M72.8 261h0M112.3 198.1h0M49.6 222.8h0M105 190.5h0M69.9 231.6h0M91 191.2h0M141 217.9h0M58.5 186.2h0M137.7 212.6h0M131.5 197.4h0M109.7 215.4h0M67 230.9h0M79.1 258.1h0M85.4 180.4h0" stroke="#8a8a8a" stroke-width="1.85" stroke-linecap="round" fill="none"/>
<path d="M120.1 246.8h0M75.3 262.8h0M124.7 246.8h0M52.3 219.3h0M85.4 259.9h0M68.4 264.9h0M75 275.5h0M125.2 245.2h0M53 192h0M46.5 201.8h0M61.9 247.7h0M122.3 244.6h0M132.4 243.2h0M48.1 193.5h0M119 230.3h0M124.6 249.8h0M89.4 265.6h0M130.5 241.5h0M134.7 241.6h0M49.2 206.3h0M87.5 264h0M77.8 270.8h0M48.2 218.7h0M103.1 259.9h0M62.4 255.9h0M70.5 256.2h0M128.5 240.9h0M83.7 268.4h0M116 232.4h0M127.8 236.7h0M86.8 274.7h0M127.8 242.9h0M83.5 271.3h0M62.9 196.1h0M127.6 248.6h0M123 237.9h0M143.1 205.6h0M120.1 243.2h0M88.5 277.7h0M86.1 262.6h0M106.4 239.8h0M84.8 266.3h0M130.6 239.9h0M120.5 240.3h0M125.5 250.8h0M134.6 241.8h0M131.7 240.4h0M121.6 243h0M129 249.2h0M123.8 246h0M69.1 202.7h0M80.6 202.8h0M119.7 194.6h0M87.6 232.2h0M99.9 254.7h0M94.4 257.1h0M89.6 262.3h0M90.4 259.3h0M145.2 220.4h0M125.4 235.9h0M124.6 248.3h0M82.7 251h0M121.3 239.6h0M132.5 241.8h0M89.5 256.7h0M73.6 270.3h0M77.7 275.1h0M101 265.8h0M129.3 248.6h0M66.4 222.8h0M81.4 270.2h0M62.9 240.6h0M78.3 239.6h0M79.2 272h0M128.4 197.5h0M97.1 252.8h0M80.2 278.1h0M82.6 246.5h0M90.5 266.8h0M76 277.2h0M66.2 183.2h0M130.5 230.1h0M71.3 270.5h0M125.8 247.9h0M84.7 183h0M119.4 246.7h0M79.6 273.9h0M125.4 239.5h0M95.3 260.4h0M121.4 241.8h0M66.3 216.5h0M95.5 258.1h0M69.3 273.2h0M76.4 262.4h0M100.9 257h0M60.4 256.5h0M62.7 198.9h0M57.6 256.7h0M72.5 269.6h0M81.1 242.7h0M95.2 259.7h0M99.5 178.6h0M83 251.2h0M94.9 255.4h0M127.1 237.6h0M125.7 240h0M130.4 236.4h0M65.2 262.9h0M63.5 187.8h0M49.1 221.6h0M70.9 276.8h0M114.3 241.4h0M98.1 256.8h0M133.5 242.1h0M48.7 247.7h0M78.9 208.4h0M79.2 263.6h0M73.3 256.9h0M96.7 266.4h0M85.9 185.5h0M86.3 263.9h0M69.7 247h0M96.9 209.1h0M95.1 258h0M49.4 203.1h0M98.4 260h0M82 261.6h0M73 198.7h0M69.2 255.6h0M63.2 243.6h0M91.1 267h0M115.1 219h0M118.1 200h0M64.9 212.4h0M88.3 256.3h0M96.1 272.2h0M100.4 179.8h0M130.6 241.4h0M127 242.6h0M133.9 240.3h0M93.1 263.7h0M129.5 246.2h0M110 201.4h0M46.7 209.1h0M85.1 267.2h0M52.4 194.4h0M93.9 212.6h0M130.7 238.7h0M126.7 238.4h0M80.1 256.1h0M81.7 272.3h0M57.5 212.5h0M83.6 264.5h0M126 211.3h0M75 238.3h0M101.8 263.1h0M128.1 239.4h0M122.7 248.7h0M123.6 236.6h0M131.1 239.9h0M118 241.9h0M64.8 269.9h0M46 203.2h0M101.3 263.4h0M113.7 221.9h0M76.1 252.1h0M139.5 229.9h0M103.2 263.1h0M100.5 263h0M104.5 257.1h0M82.1 202.3h0M86.6 259.6h0M126.8 242.2h0M85.4 218.1h0M130.9 237h0M62.4 269.3h0M128.3 240.3h0M53.7 244.6h0M73.4 257.3h0M110.4 179.7h0M130.9 246h0M87.2 275.1h0M104 254.1h0M123 245.9h0M90.6 244.6h0M97.1 249.5h0M45.4 217.2h0M130.4 236.9h0M58.4 255.1h0M121.3 242h0M126.7 239.1h0M127.7 247.4h0M71.7 261.3h0M101 230.3h0M71.7 273.6h0M103.4 252.9h0M48.1 220.2h0M125.7 248h0M74.7 247.7h0M74.9 238.9h0M123.4 242.9h0M84.4 246.9h0M66.3 208.3h0M45.3 200.7h0M94.2 244.4h0M83 237.7h0M68.9 272.6h0M120.3 243.7h0M85.1 208.3h0M135 235.6h0M76.7 185.9h0M85.7 210.7h0M69.8 269.6h0M101.7 258.6h0M120.2 240.3h0M104.7 217.2h0M86 262.9h0M74.9 189.7h0M103.8 259.8h0M91.4 267.7h0M92.6 252.5h0M46.4 211h0" stroke="#dca03e" stroke-width="1.85" stroke-linecap="round" fill="none"/>
<text x="138.4" y="258.6" font-size="5.2" text-anchor="middle" textLength="14.5" lengthAdjust="spacingAndGlyphs">Group</text>
<circle cx="134.6" cy="265.3" r="3.4" fill="#dca03e"/>
<circle cx="134.6" cy="273.6" r="3.4" fill="#8a8a8a"/>
<text x="141" y="267.4" font-size="5.6" textLength="3.8" lengthAdjust="spacingAndGlyphs">D</text>
<text x="141" y="275.7" font-size="5.6" textLength="3.8" lengthAdjust="spacingAndGlyphs">R</text>
<text x="7.8" y="16.4" font-size="11.3" textLength="6.9" lengthAdjust="spacingAndGlyphs">A</text>
<rect x="172.2" y="33.5" width="57" height="263" fill="#e2d0c4"/>
<rect x="231" y="33.5" width="24.3" height="263" fill="#e2d0c4"/>
<rect x="256.7" y="33.5" width="4.8" height="263" fill="#e2d0c4"/>
<path d="M180.4 213.2v4.4M184.9 235.1v4.4M192.4 235.1v4.4M195.4 208.8v4.4M195.4 226.4v4.4M196.9 208.8v4.4M198.4 208.8v4.4M199.9 235.1v4.4M201.4 213.2v4.4M204.4 213.2v4.4" stroke="#ece8ec" stroke-width="1.55" fill="none"/>
<path d="M180.4 235.1v4.4M186.4 226.4v4.4M190.9 213.2v4.4M192.4 226.4v4.4M196.9 226.4v4.4M196.9 235.1v4.4M204.4 208.8v4.4M204.4 235.1v4.4" stroke="#e9e4e8" stroke-width="1.55" fill="none"/>
<path d="M181.9 208.8v4.4M183.4 208.8v4.4M184.9 217.6v4.4M187.9 213.2v4.4M189.4 226.4v4.4M190.9 226.4v4.4M192.4 208.8v4.4M192.4 213.2v4.4M193.9 208.8v4.4M193.9 226.4v4.4M195.4 217.6v4.4M196.9 213.2v4.4M198.4 213.2v4.4M198.4 217.6v4.4M198.4 226.4v4.4M199.9 208.8v4.4M202.9 208.8v4.4M202.9 226.4v4.4M202.9 235.1v4.4M204.4 226.4v4.4" stroke="#e5e1e4" stroke-width="1.55" fill="none"/>
<path d="M180.4 59.8v4.4M180.4 208.8v4.4M180.4 217.6v4.4M180.4 226.4v4.4M181.9 213.2v4.4M181.9 217.6v4.4M181.9 226.4v4.4M181.9 235.1v4.4M183.4 213.2v4.4M183.4 217.6v4.4M183.4 226.4v4.4M183.4 235.1v4.4M184.9 208.8v4.4M184.9 213.2v4.4M184.9 226.4v4.4M186.4 208.8v4.4M186.4 213.2v4.4M186.4 217.6v4.4M186.4 235.1v4.4M187.9 208.8v4.4M187.9 217.6v4.4M187.9 226.4v4.4M187.9 235.1v4.4M189.4 208.8v4.4M189.4 213.2v4.4M189.4 217.6v4.4M189.4 235.1v4.4M190.9 208.8v4.4M190.9 217.6v4.4M190.9 235.1v4.4M192.4 217.6v4.4M193.9 213.2v4.4M193.9 217.6v4.4M193.9 235.1v4.4M195.4 213.2v4.4M195.4 235.1v4.4M196.9 217.6v4.4M198.4 51v4.4M198.4 235.1v4.4M199.9 213.2v4.4M199.9 217.6v4.4M199.9 226.4v4.4M201.4 208.8v4.4M201.4 217.6v4.4M201.4 226.4v4.4M201.4 235.1v4.4M202.9 213.2v4.4M202.9 217.6v4.4M204.4 217.6v4.4" stroke="#e2dde0" stroke-width="1.55" fill="none"/>
<path d="M172.9 138.7v4.4M172.9 143.1v4.4M172.9 160.6v4.4M172.9 169.4v4.4M172.9 173.8v4.4M172.9 191.3v4.4M172.9 195.7v4.4M172.9 279v4.4M172.9 283.4v4.4M174.4 138.7v4.4M174.4 143.1v4.4M174.4 156.2v4.4M174.4 195.7v4.4M174.4 283.4v4.4M175.9 64.2v4.4M175.9 112.4v4.4M175.9 121.2v4.4M175.9 125.6v4.4M175.9 138.7v4.4M175.9 143.1v4.4M175.9 151.9v4.4M175.9 156.2v4.4M175.9 165v4.4M175.9 186.9v4.4M175.9 195.7v4.4M175.9 204.5v4.4M175.9 261.4v4.4M175.9 265.8v4.4M175.9 270.2v4.4M175.9 279v4.4M177.4 77.3v4.4M177.4 138.7v4.4M177.4 143.1v4.4M177.4 147.5v4.4M177.4 156.2v4.4M177.4 173.8v4.4M177.4 191.3v4.4M178.9 121.2v4.4M178.9 125.6v4.4M178.9 129.9v4.4M178.9 143.1v4.4M178.9 147.5v4.4M178.9 151.9v4.4M178.9 160.6v4.4M178.9 165v4.4M178.9 169.4v4.4M178.9 182.5v4.4M178.9 195.7v4.4M178.9 265.8v4.4M178.9 283.4v4.4M180.4 33.5v4.4M180.4 125.6v4.4M180.4 129.9v4.4M180.4 138.7v4.4M180.4 143.1v4.4M180.4 147.5v4.4M180.4 165v4.4M180.4 169.4v4.4M180.4 173.8v4.4M180.4 178.2v4.4M180.4 186.9v4.4M180.4 195.7v4.4M180.4 204.5v4.4M180.4 222v4.4M180.4 230.8v4.4M180.4 248.3v4.4M181.9 143.1v4.4M181.9 178.2v4.4M181.9 182.5v4.4M181.9 195.7v4.4M181.9 248.3v4.4M181.9 283.4v4.4M183.4 121.2v4.4M183.4 138.7v4.4M183.4 143.1v4.4M183.4 147.5v4.4M183.4 156.2v4.4M183.4 165v4.4M183.4 195.7v4.4M183.4 222v4.4M183.4 243.9v4.4M183.4 257.1v4.4M183.4 265.8v4.4M184.9 94.9v4.4M184.9 125.6v4.4M184.9 129.9v4.4M184.9 134.3v4.4M184.9 138.7v4.4M184.9 151.9v4.4M184.9 173.8v4.4M184.9 182.5v4.4M184.9 195.7v4.4M184.9 204.5v4.4M184.9 230.8v4.4M184.9 239.5v4.4M184.9 261.4v4.4M184.9 270.2v4.4M184.9 274.6v4.4M184.9 292.1v4.4M186.4 129.9v4.4M186.4 143.1v4.4M186.4 151.9v4.4M186.4 182.5v4.4M186.4 222v4.4M186.4 252.7v4.4M187.9 143.1v4.4M187.9 147.5v4.4M187.9 151.9v4.4M187.9 178.2v4.4M187.9 182.5v4.4M187.9 222v4.4M187.9 248.3v4.4M187.9 283.4v4.4M189.4 121.2v4.4M189.4 129.9v4.4M189.4 138.7v4.4M189.4 143.1v4.4M189.4 151.9v4.4M189.4 160.6v4.4M189.4 165v4.4M189.4 182.5v4.4M189.4 186.9v4.4M189.4 195.7v4.4M189.4 222v4.4M189.4 239.5v4.4M189.4 248.3v4.4M189.4 265.8v4.4M189.4 279v4.4M190.9 125.6v4.4M190.9 143.1v4.4M190.9 147.5v4.4M190.9 151.9v4.4M190.9 156.2v4.4M190.9 165v4.4M190.9 195.7v4.4M190.9 204.5v4.4M190.9 222v4.4M190.9 243.9v4.4M190.9 270.2v4.4M190.9 283.4v4.4M192.4 121.2v4.4M192.4 125.6v4.4M192.4 129.9v4.4M192.4 138.7v4.4M192.4 143.1v4.4M192.4 151.9v4.4M192.4 156.2v4.4M192.4 160.6v4.4M192.4 169.4v4.4M192.4 173.8v4.4M192.4 178.2v4.4M192.4 182.5v4.4M192.4 186.9v4.4M192.4 191.3v4.4M192.4 195.7v4.4M192.4 222v4.4M192.4 243.9v4.4M192.4 248.3v4.4M192.4 252.7v4.4M192.4 292.1v4.4M193.9 125.6v4.4M193.9 129.9v4.4M193.9 138.7v4.4M193.9 147.5v4.4M193.9 160.6v4.4M193.9 165v4.4M193.9 169.4v4.4M193.9 178.2v4.4M193.9 182.5v4.4M193.9 191.3v4.4M193.9 195.7v4.4M193.9 204.5v4.4M193.9 248.3v4.4M193.9 252.7v4.4M195.4 59.8v4.4M195.4 121.2v4.4M195.4 125.6v4.4M195.4 129.9v4.4M195.4 138.7v4.4M195.4 143.1v4.4M195.4 151.9v4.4M195.4 160.6v4.4M195.4 165v4.4M195.4 169.4v4.4M195.4 178.2v4.4M195.4 182.5v4.4M195.4 191.3v4.4M195.4 195.7v4.4M195.4 204.5v4.4M195.4 222v4.4M195.4 243.9v4.4M195.4 257.1v4.4M195.4 283.4v4.4M196.9 129.9v4.4M196.9 138.7v4.4M196.9 143.1v4.4M196.9 147.5v4.4M196.9 151.9v4.4M196.9 156.2v4.4M196.9 160.6v4.4M196.9 178.2v4.4M196.9 182.5v4.4M196.9 186.9v4.4M196.9 195.7v4.4M196.9 204.5v4.4M196.9 222v4.4M196.9 230.8v4.4M196.9 239.5v4.4M196.9 257.1v4.4M196.9 270.2v4.4M196.9 279v4.4M196.9 283.4v4.4M196.9 287.7v4.4M198.4 121.2v4.4M198.4 125.6v4.4M198.4 138.7v4.4M198.4 143.1v4.4M198.4 147.5v4.4M198.4 160.6v4.4M198.4 165v4.4M198.4 169.4v4.4M198.4 173.8v4.4M198.4 178.2v4.4M198.4 182.5v4.4M198.4 186.9v4.4M198.4 191.3v4.4M198.4 195.7v4.4M198.4 200.1v4.4M198.4 204.5v4.4M198.4 222v4.4M198.4 230.8v4.4M198.4 239.5v4.4M198.4 248.3v4.4M198.4 257.1v4.4M198.4 279v4.4M198.4 283.4v4.4M199.9 121.2v4.4M199.9 125.6v4.4M199.9 129.9v4.4M199.9 138.7v4.4M199.9 143.1v4.4M199.9 147.5v4.4M199.9 151.9v4.4M199.9 156.2v4.4M199.9 160.6v4.4M199.9 169.4v4.4M199.9 178.2v4.4M199.9 182.5v4.4M199.9 191.3v4.4M199.9 195.7v4.4M199.9 200.1v4.4M199.9 204.5v4.4M199.9 222v4.4M199.9 230.8v4.4M199.9 243.9v4.4M199.9 248.3v4.4M199.9 257.1v4.4M199.9 261.4v4.4M199.9 265.8v4.4M199.9 270.2v4.4M199.9 274.6v4.4M199.9 287.7v4.4M199.9 292.1v4.4M201.4 51v4.4M201.4 68.6v4.4M201.4 121.2v4.4M201.4 125.6v4.4M201.4 129.9v4.4M201.4 143.1v4.4M201.4 151.9v4.4M201.4 156.2v4.4M201.4 160.6v4.4M201.4 173.8v4.4M201.4 182.5v4.4M201.4 195.7v4.4M201.4 222v4.4M201.4 248.3v4.4M201.4 274.6v4.4M202.9 42.3v4.4M202.9 121.2v4.4M202.9 138.7v4.4M202.9 143.1v4.4M202.9 156.2v4.4M202.9 160.6v4.4M202.9 165v4.4M202.9 173.8v4.4M202.9 222v4.4M202.9 243.9v4.4M202.9 252.7v4.4M202.9 261.4v4.4M204.4 94.9v4.4M204.4 125.6v4.4M204.4 129.9v4.4M204.4 134.3v4.4M204.4 138.7v4.4M204.4 143.1v4.4M204.4 156.2v4.4M204.4 165v4.4M204.4 178.2v4.4M204.4 182.5v4.4M204.4 195.7v4.4M204.4 204.5v4.4M204.4 230.8v4.4M204.4 243.9v4.4M204.4 248.3v4.4M204.4 270.2v4.4M204.4 283.4v4.4M205.9 129.9v4.4M205.9 138.7v4.4M205.9 143.1v4.4M205.9 147.5v4.4M205.9 165v4.4M205.9 182.5v4.4M205.9 191.3v4.4M205.9 195.7v4.4M205.9 204.5v4.4M205.9 226.4v4.4M205.9 274.6v4.4M205.9 287.7v4.4M207.4 42.3v4.4M207.4 64.2v4.4M207.4 77.3v4.4M207.4 103.6v4.4M207.4 121.2v4.4M207.4 125.6v4.4M207.4 129.9v4.4M207.4 138.7v4.4M207.4 143.1v4.4M207.4 147.5v4.4M207.4 151.9v4.4M207.4 165v4.4M207.4 169.4v4.4M207.4 178.2v4.4M207.4 182.5v4.4M207.4 186.9v4.4M207.4 191.3v4.4M207.4 195.7v4.4M207.4 204.5v4.4M207.4 213.2v4.4M207.4 226.4v4.4M207.4 243.9v4.4M207.4 248.3v4.4M207.4 252.7v4.4M207.4 257.1v4.4M207.4 265.8v4.4M207.4 270.2v4.4M207.4 274.6v4.4M207.4 279v4.4M207.4 283.4v4.4M208.9 125.6v4.4M208.9 129.9v4.4M208.9 138.7v4.4M208.9 143.1v4.4M208.9 151.9v4.4M208.9 160.6v4.4M208.9 165v4.4M208.9 169.4v4.4M208.9 178.2v4.4M208.9 191.3v4.4M208.9 195.7v4.4M208.9 204.5v4.4M208.9 226.4v4.4M208.9 248.3v4.4M210.4 51v4.4M210.4 121.2v4.4M210.4 143.1v4.4M210.4 156.2v4.4M210.4 160.6v4.4M210.4 178.2v4.4M210.4 182.5v4.4M210.4 195.7v4.4M210.4 204.5v4.4M210.4 226.4v4.4M210.4 252.7v4.4M210.4 283.4v4.4M210.4 292.1v4.4M211.9 129.9v4.4M211.9 138.7v4.4M211.9 143.1v4.4M211.9 160.6v4.4M211.9 173.8v4.4M211.9 195.7v4.4M211.9 283.4v4.4M213.4 112.4v4.4M213.4 121.2v4.4M213.4 125.6v4.4M213.4 129.9v4.4M213.4 143.1v4.4M213.4 151.9v4.4M213.4 156.2v4.4M213.4 160.6v4.4M213.4 165v4.4M213.4 169.4v4.4M213.4 178.2v4.4M213.4 191.3v4.4M213.4 195.7v4.4M213.4 200.1v4.4M213.4 204.5v4.4M213.4 226.4v4.4M213.4 230.8v4.4M213.4 243.9v4.4M213.4 283.4v4.4M213.4 292.1v4.4M214.9 46.7v4.4M214.9 121.2v4.4M214.9 125.6v4.4M214.9 129.9v4.4M214.9 134.3v4.4M214.9 138.7v4.4M214.9 143.1v4.4M214.9 147.5v4.4M214.9 151.9v4.4M214.9 160.6v4.4M214.9 178.2v4.4M214.9 182.5v4.4M214.9 191.3v4.4M214.9 195.7v4.4M214.9 252.7v4.4M214.9 274.6v4.4M214.9 279v4.4M214.9 283.4v4.4M216.4 33.5v4.4M216.4 51v4.4M216.4 55.4v4.4M216.4 77.3v4.4M216.4 99.2v4.4M216.4 112.4v4.4M216.4 125.6v4.4M216.4 129.9v4.4M216.4 134.3v4.4M216.4 138.7v4.4M216.4 143.1v4.4M216.4 147.5v4.4M216.4 156.2v4.4M216.4 160.6v4.4M216.4 165v4.4M216.4 169.4v4.4M216.4 173.8v4.4M216.4 178.2v4.4M216.4 182.5v4.4M216.4 191.3v4.4M216.4 195.7v4.4M216.4 204.5v4.4M216.4 217.6v4.4M216.4 243.9v4.4M216.4 248.3v4.4M216.4 257.1v4.4M216.4 265.8v4.4M216.4 270.2v4.4M216.4 274.6v4.4M216.4 279v4.4M216.4 283.4v4.4M217.9 51v4.4M217.9 125.6v4.4M217.9 129.9v4.4M217.9 138.7v4.4M217.9 143.1v4.4M217.9 160.6v4.4M217.9 165v4.4M217.9 182.5v4.4M217.9 195.7v4.4M217.9 200.1v4.4M217.9 226.4v4.4M217.9 230.8v4.4M217.9 243.9v4.4M217.9 248.3v4.4M217.9 252.7v4.4M217.9 257.1v4.4M217.9 274.6v4.4M217.9 283.4v4.4M219.4 73v4.4M219.4 77.3v4.4M219.4 86.1v4.4M219.4 108v4.4M219.4 121.2v4.4M219.4 125.6v4.4M219.4 138.7v4.4M219.4 147.5v4.4M219.4 156.2v4.4M219.4 160.6v4.4M219.4 165v4.4M219.4 169.4v4.4M219.4 173.8v4.4M219.4 178.2v4.4M219.4 182.5v4.4M219.4 186.9v4.4M219.4 191.3v4.4M219.4 195.7v4.4M219.4 213.2v4.4M219.4 222v4.4M219.4 226.4v4.4M219.4 243.9v4.4M219.4 252.7v4.4M219.4 257.1v4.4M219.4 261.4v4.4M219.4 270.2v4.4M219.4 279v4.4M219.4 283.4v4.4M220.9 51v4.4M220.9 134.3v4.4M220.9 143.1v4.4M220.9 147.5v4.4M220.9 151.9v4.4M220.9 156.2v4.4M220.9 160.6v4.4M220.9 165v4.4M220.9 169.4v4.4M220.9 173.8v4.4M220.9 178.2v4.4M220.9 182.5v4.4M220.9 191.3v4.4M220.9 195.7v4.4M220.9 200.1v4.4M220.9 204.5v4.4M220.9 243.9v4.4M220.9 248.3v4.4M220.9 257.1v4.4M220.9 261.4v4.4M220.9 270.2v4.4M220.9 274.6v4.4M220.9 283.4v4.4M222.4 138.7v4.4M222.4 143.1v4.4M222.4 147.5v4.4M222.4 178.2v4.4M222.4 274.6v4.4M223.9 42.3v4.4M223.9 68.6v4.4M223.9 77.3v4.4M223.9 121.2v4.4M223.9 125.6v4.4M223.9 129.9v4.4M223.9 138.7v4.4M223.9 143.1v4.4M223.9 147.5v4.4M223.9 151.9v4.4M223.9 156.2v4.4M223.9 160.6v4.4M223.9 165v4.4M223.9 173.8v4.4M223.9 178.2v4.4M223.9 191.3v4.4M223.9 195.7v4.4M223.9 200.1v4.4M223.9 226.4v4.4M223.9 230.8v4.4M223.9 243.9v4.4M223.9 248.3v4.4M223.9 252.7v4.4M223.9 257.1v4.4M223.9 261.4v4.4M223.9 270.2v4.4M223.9 274.6v4.4M223.9 279v4.4M223.9 283.4v4.4M223.9 287.7v4.4M223.9 292.1v4.4M225.4 129.9v4.4M225.4 138.7v4.4M225.4 143.1v4.4M225.4 160.6v4.4M225.4 178.2v4.4M225.4 195.7v4.4M225.4 204.5v4.4M225.4 248.3v4.4M225.4 274.6v4.4M226.9 121.2v4.4M226.9 129.9v4.4M226.9 138.7v4.4M226.9 143.1v4.4M226.9 151.9v4.4M226.9 182.5v4.4M226.9 195.7v4.4M226.9 204.5v4.4M226.9 226.4v4.4M226.9 283.4v4.4M228.4 125.6v4.4M228.4 138.7v4.4M228.4 143.1v4.4M228.4 147.5v4.4M228.4 156.2v4.4M228.4 169.4v4.4M228.4 178.2v4.4M228.4 186.9v4.4M228.4 191.3v4.4M228.4 195.7v4.4M228.4 226.4v4.4M228.4 243.9v4.4M228.4 248.3v4.4M228.4 252.7v4.4M228.4 270.2v4.4M228.4 274.6v4.4M228.4 283.4v4.4M231.8 55.4v4.4M233.3 257.1v4.4M234.8 252.7v4.4M236.3 59.8v4.4M236.3 226.4v4.4M236.3 279v4.4M236.3 283.4v4.4M237.8 68.6v4.4M237.8 116.8v4.4M237.8 226.4v4.4M237.8 252.7v4.4M237.8 257.1v4.4M237.8 261.4v4.4M237.8 270.2v4.4M237.8 274.6v4.4M237.8 283.4v4.4M239.3 77.3v4.4M239.3 226.4v4.4M239.3 248.3v4.4M239.3 252.7v4.4M239.3 257.1v4.4M239.3 270.2v4.4M239.3 283.4v4.4M240.8 33.5v4.4M240.8 55.4v4.4M240.8 64.2v4.4M240.8 77.3v4.4M240.8 222v4.4M240.8 239.5v4.4M240.8 248.3v4.4M240.8 257.1v4.4M240.8 265.8v4.4M242.4 46.7v4.4M242.4 94.9v4.4M242.4 99.2v4.4M242.4 226.4v4.4M242.4 243.9v4.4M242.4 248.3v4.4M242.4 283.4v4.4M243.9 108v4.4M243.9 116.8v4.4M243.9 226.4v4.4M243.9 243.9v4.4M243.9 270.2v4.4M243.9 283.4v4.4M246.9 51v4.4M246.9 59.8v4.4M246.9 90.5v4.4M246.9 108v4.4M246.9 208.8v4.4M246.9 213.2v4.4M246.9 230.8v4.4M246.9 235.1v4.4M246.9 239.5v4.4M246.9 243.9v4.4M246.9 248.3v4.4M246.9 252.7v4.4M246.9 265.8v4.4M246.9 270.2v4.4M246.9 274.6v4.4M246.9 283.4v4.4M246.9 287.7v4.4M246.9 292.1v4.4M248.4 86.1v4.4M248.4 213.2v4.4M248.4 226.4v4.4M248.4 248.3v4.4M248.4 270.2v4.4M248.4 274.6v4.4M248.4 279v4.4M248.4 283.4v4.4M249.9 64.2v4.4M249.9 73v4.4M249.9 90.5v4.4M249.9 116.8v4.4M249.9 213.2v4.4M249.9 226.4v4.4M249.9 248.3v4.4M249.9 270.2v4.4M249.9 274.6v4.4M249.9 283.4v4.4M249.9 287.7v4.4M251.4 33.5v4.4M251.4 68.6v4.4M251.4 77.3v4.4M251.4 213.2v4.4M251.4 217.6v4.4M251.4 222v4.4M251.4 226.4v4.4M251.4 230.8v4.4M251.4 235.1v4.4M251.4 243.9v4.4M251.4 248.3v4.4M251.4 252.7v4.4M251.4 257.1v4.4M251.4 261.4v4.4M251.4 265.8v4.4M251.4 274.6v4.4M251.4 283.4v4.4M254.5 42.3v4.4M254.5 46.7v4.4M254.5 77.3v4.4M254.5 90.5v4.4M254.5 116.8v4.4M254.5 208.8v4.4M254.5 213.2v4.4M254.5 226.4v4.4M254.5 230.8v4.4M254.5 235.1v4.4M254.5 243.9v4.4M254.5 248.3v4.4M254.5 252.7v4.4M254.5 257.1v4.4M254.5 261.4v4.4M254.5 265.8v4.4M254.5 270.2v4.4M254.5 274.6v4.4M254.5 279v4.4M254.5 283.4v4.4M254.5 287.7v4.4M254.5 292.1v4.4M257.4 138.7v4.4M257.4 143.1v4.4M257.4 156.2v4.4M257.4 160.6v4.4M257.4 165v4.4M257.4 169.4v4.4M257.4 195.7v4.4M259.1 33.5v4.4M259.1 77.3v4.4M259.1 143.1v4.4M259.1 151.9v4.4M259.1 156.2v4.4M259.1 160.6v4.4M259.1 191.3v4.4M260.6 125.6v4.4M260.6 143.1v4.4M260.6 182.5v4.4" stroke="#ded9dc" stroke-width="1.55" fill="none"/>
<path d="M172.9 86.1v4.4M172.9 200.1v4.4M172.9 204.5v4.4M172.9 257.1v4.4M172.9 270.2v4.4M172.9 274.6v4.4M172.9 287.7v4.4M174.4 125.6v4.4M174.4 147.5v4.4M174.4 165v4.4M174.4 169.4v4.4M174.4 204.5v4.4M174.4 270.2v4.4M174.4 274.6v4.4M175.9 46.7v4.4M175.9 77.3v4.4M175.9 160.6v4.4M175.9 173.8v4.4M175.9 178.2v4.4M175.9 182.5v4.4M175.9 213.2v4.4M175.9 248.3v4.4M175.9 274.6v4.4M175.9 283.4v4.4M177.4 125.6v4.4M177.4 151.9v4.4M177.4 165v4.4M177.4 169.4v4.4M177.4 178.2v4.4M178.9 51v4.4M178.9 112.4v4.4M178.9 138.7v4.4M178.9 156.2v4.4M178.9 186.9v4.4M178.9 200.1v4.4M178.9 204.5v4.4M178.9 230.8v4.4M178.9 243.9v4.4M178.9 270.2v4.4M178.9 274.6v4.4M178.9 287.7v4.4M180.4 55.4v4.4M180.4 77.3v4.4M180.4 257.1v4.4M180.4 283.4v4.4M181.9 270.2v4.4M183.4 125.6v4.4M183.4 129.9v4.4M183.4 178.2v4.4M183.4 204.5v4.4M183.4 230.8v4.4M183.4 279v4.4M184.9 156.2v4.4M184.9 160.6v4.4M184.9 191.3v4.4M184.9 222v4.4M184.9 243.9v4.4M184.9 279v4.4M186.4 138.7v4.4M186.4 165v4.4M186.4 230.8v4.4M186.4 243.9v4.4M187.9 121.2v4.4M187.9 134.3v4.4M187.9 160.6v4.4M187.9 169.4v4.4M187.9 191.3v4.4M187.9 279v4.4M189.4 33.5v4.4M189.4 125.6v4.4M189.4 147.5v4.4M189.4 169.4v4.4M189.4 173.8v4.4M189.4 204.5v4.4M189.4 230.8v4.4M189.4 270.2v4.4M190.9 129.9v4.4M190.9 173.8v4.4M190.9 182.5v4.4M190.9 230.8v4.4M190.9 252.7v4.4M190.9 274.6v4.4M190.9 279v4.4M192.4 33.5v4.4M192.4 81.7v4.4M192.4 165v4.4M192.4 204.5v4.4M192.4 230.8v4.4M192.4 239.5v4.4M192.4 261.4v4.4M192.4 274.6v4.4M192.4 279v4.4M192.4 287.7v4.4M193.9 134.3v4.4M193.9 151.9v4.4M193.9 186.9v4.4M193.9 257.1v4.4M193.9 270.2v4.4M193.9 287.7v4.4M195.4 134.3v4.4M195.4 230.8v4.4M195.4 248.3v4.4M195.4 252.7v4.4M195.4 265.8v4.4M195.4 270.2v4.4M195.4 274.6v4.4M195.4 279v4.4M196.9 33.5v4.4M196.9 51v4.4M196.9 64.2v4.4M196.9 125.6v4.4M196.9 165v4.4M196.9 173.8v4.4M196.9 191.3v4.4M196.9 243.9v4.4M196.9 248.3v4.4M196.9 252.7v4.4M196.9 261.4v4.4M198.4 42.3v4.4M198.4 129.9v4.4M198.4 151.9v4.4M198.4 156.2v4.4M198.4 252.7v4.4M198.4 261.4v4.4M198.4 274.6v4.4M198.4 287.7v4.4M198.4 292.1v4.4M199.9 46.7v4.4M199.9 68.6v4.4M199.9 77.3v4.4M199.9 108v4.4M199.9 239.5v4.4M199.9 252.7v4.4M199.9 279v4.4M199.9 283.4v4.4M201.4 77.3v4.4M201.4 99.2v4.4M201.4 134.3v4.4M201.4 147.5v4.4M201.4 169.4v4.4M201.4 191.3v4.4M201.4 204.5v4.4M201.4 230.8v4.4M201.4 252.7v4.4M201.4 265.8v4.4M202.9 33.5v4.4M202.9 125.6v4.4M202.9 178.2v4.4M202.9 195.7v4.4M202.9 200.1v4.4M202.9 270.2v4.4M202.9 274.6v4.4M202.9 283.4v4.4M204.4 121.2v4.4M204.4 169.4v4.4M204.4 252.7v4.4M205.9 125.6v4.4M205.9 134.3v4.4M205.9 156.2v4.4M205.9 160.6v4.4M205.9 178.2v4.4M205.9 270.2v4.4M207.4 33.5v4.4M207.4 160.6v4.4M207.4 173.8v4.4M207.4 287.7v4.4M207.4 292.1v4.4M208.9 73v4.4M208.9 156.2v4.4M208.9 182.5v4.4M208.9 243.9v4.4M208.9 274.6v4.4M208.9 279v4.4M208.9 287.7v4.4M210.4 46.7v4.4M210.4 138.7v4.4M210.4 151.9v4.4M210.4 165v4.4M210.4 191.3v4.4M210.4 248.3v4.4M210.4 257.1v4.4M211.9 151.9v4.4M211.9 243.9v4.4M211.9 248.3v4.4M211.9 252.7v4.4M211.9 279v4.4M213.4 33.5v4.4M213.4 173.8v4.4M213.4 261.4v4.4M213.4 270.2v4.4M214.9 77.3v4.4M214.9 165v4.4M214.9 169.4v4.4M214.9 173.8v4.4M214.9 186.9v4.4M214.9 204.5v4.4M214.9 226.4v4.4M214.9 230.8v4.4M214.9 292.1v4.4M216.4 42.3v4.4M216.4 46.7v4.4M216.4 226.4v4.4M216.4 235.1v4.4M216.4 252.7v4.4M216.4 261.4v4.4M216.4 287.7v4.4M217.9 121.2v4.4M217.9 147.5v4.4M217.9 151.9v4.4M217.9 156.2v4.4M217.9 169.4v4.4M217.9 178.2v4.4M217.9 204.5v4.4M219.4 33.5v4.4M219.4 151.9v4.4M219.4 200.1v4.4M219.4 204.5v4.4M219.4 208.8v4.4M219.4 248.3v4.4M220.9 121.2v4.4M220.9 138.7v4.4M220.9 222v4.4M220.9 226.4v4.4M220.9 235.1v4.4M220.9 252.7v4.4M220.9 279v4.4M220.9 287.7v4.4M222.4 125.6v4.4M222.4 160.6v4.4M222.4 165v4.4M222.4 195.7v4.4M223.9 33.5v4.4M223.9 51v4.4M223.9 112.4v4.4M223.9 134.3v4.4M223.9 204.5v4.4M225.4 121.2v4.4M225.4 125.6v4.4M225.4 134.3v4.4M225.4 156.2v4.4M225.4 165v4.4M225.4 169.4v4.4M225.4 191.3v4.4M226.9 165v4.4M226.9 173.8v4.4M226.9 274.6v4.4M228.4 160.6v4.4M228.4 182.5v4.4M228.4 200.1v4.4M228.4 204.5v4.4M228.4 279v4.4M231.8 94.9v4.4M231.8 226.4v4.4M231.8 261.4v4.4M233.3 77.3v4.4M233.3 213.2v4.4M233.3 226.4v4.4M233.3 235.1v4.4M233.3 248.3v4.4M233.3 270.2v4.4M233.3 287.7v4.4M234.8 33.5v4.4M234.8 248.3v4.4M234.8 270.2v4.4M234.8 274.6v4.4M234.8 283.4v4.4M234.8 287.7v4.4M236.3 33.5v4.4M236.3 46.7v4.4M236.3 77.3v4.4M236.3 222v4.4M236.3 235.1v4.4M236.3 257.1v4.4M236.3 265.8v4.4M236.3 274.6v4.4M237.8 217.6v4.4M237.8 230.8v4.4M237.8 239.5v4.4M237.8 243.9v4.4M237.8 248.3v4.4M239.3 99.2v4.4M239.3 230.8v4.4M239.3 279v4.4M240.8 112.4v4.4M240.8 226.4v4.4M240.8 252.7v4.4M240.8 261.4v4.4M240.8 270.2v4.4M240.8 279v4.4M240.8 292.1v4.4M242.4 230.8v4.4M242.4 274.6v4.4M243.9 90.5v4.4M243.9 235.1v4.4M243.9 248.3v4.4M243.9 257.1v4.4M243.9 261.4v4.4M243.9 279v4.4M245.4 222v4.4M246.9 33.5v4.4M246.9 77.3v4.4M246.9 222v4.4M246.9 257.1v4.4M246.9 261.4v4.4M246.9 279v4.4M248.4 42.3v4.4M248.4 81.7v4.4M248.4 208.8v4.4M248.4 239.5v4.4M248.4 243.9v4.4M248.4 257.1v4.4M248.4 261.4v4.4M248.4 287.7v4.4M249.9 51v4.4M249.9 59.8v4.4M249.9 77.3v4.4M249.9 230.8v4.4M249.9 239.5v4.4M249.9 243.9v4.4M249.9 252.7v4.4M249.9 261.4v4.4M249.9 279v4.4M251.4 42.3v4.4M251.4 46.7v4.4M251.4 73v4.4M251.4 208.8v4.4M251.4 270.2v4.4M251.4 279v4.4M253 222v4.4M253 287.7v4.4M254.5 86.1v4.4M257.4 46.7v4.4M257.4 121.2v4.4M257.4 125.6v4.4M257.4 129.9v4.4M257.4 178.2v4.4M257.4 200.1v4.4M259.1 125.6v4.4M259.1 129.9v4.4M259.1 147.5v4.4M260.6 33.5v4.4M260.6 129.9v4.4M260.6 178.2v4.4M260.6 191.3v4.4M260.6 195.7v4.4" stroke="#e0d8d7" stroke-width="1.55" fill="none"/>
<path d="M172.9 59.8v4.4M172.9 68.6v4.4M172.9 121.2v4.4M172.9 129.9v4.4M172.9 134.3v4.4M172.9 147.5v4.4M172.9 151.9v4.4M172.9 156.2v4.4M172.9 165v4.4M172.9 178.2v4.4M172.9 182.5v4.4M172.9 222v4.4M172.9 252.7v4.4M172.9 292.1v4.4M174.4 77.3v4.4M174.4 116.8v4.4M174.4 129.9v4.4M174.4 160.6v4.4M174.4 178.2v4.4M174.4 182.5v4.4M174.4 261.4v4.4M174.4 292.1v4.4M175.9 108v4.4M175.9 169.4v4.4M175.9 191.3v4.4M175.9 243.9v4.4M175.9 252.7v4.4M175.9 287.7v4.4M177.4 90.5v4.4M177.4 121.2v4.4M177.4 129.9v4.4M177.4 182.5v4.4M177.4 195.7v4.4M177.4 270.2v4.4M177.4 274.6v4.4M178.9 68.6v4.4M178.9 99.2v4.4M178.9 173.8v4.4M178.9 178.2v4.4M178.9 191.3v4.4M178.9 217.6v4.4M178.9 248.3v4.4M178.9 261.4v4.4M178.9 279v4.4M180.4 46.7v4.4M180.4 151.9v4.4M180.4 156.2v4.4M180.4 160.6v4.4M180.4 182.5v4.4M180.4 191.3v4.4M180.4 261.4v4.4M180.4 270.2v4.4M180.4 274.6v4.4M181.9 121.2v4.4M181.9 125.6v4.4M181.9 138.7v4.4M181.9 147.5v4.4M181.9 173.8v4.4M181.9 191.3v4.4M181.9 200.1v4.4M181.9 222v4.4M181.9 230.8v4.4M181.9 252.7v4.4M181.9 279v4.4M183.4 108v4.4M183.4 116.8v4.4M183.4 151.9v4.4M183.4 160.6v4.4M183.4 182.5v4.4M183.4 191.3v4.4M183.4 200.1v4.4M183.4 248.3v4.4M183.4 252.7v4.4M183.4 270.2v4.4M183.4 274.6v4.4M183.4 283.4v4.4M183.4 292.1v4.4M184.9 59.8v4.4M184.9 121.2v4.4M184.9 178.2v4.4M184.9 186.9v4.4M184.9 283.4v4.4M184.9 287.7v4.4M186.4 55.4v4.4M186.4 68.6v4.4M186.4 121.2v4.4M186.4 156.2v4.4M186.4 160.6v4.4M186.4 191.3v4.4M186.4 270.2v4.4M186.4 283.4v4.4M187.9 99.2v4.4M187.9 125.6v4.4M187.9 129.9v4.4M187.9 156.2v4.4M187.9 165v4.4M187.9 195.7v4.4M187.9 204.5v4.4M187.9 239.5v4.4M187.9 261.4v4.4M189.4 73v4.4M189.4 77.3v4.4M189.4 94.9v4.4M189.4 156.2v4.4M189.4 243.9v4.4M189.4 257.1v4.4M189.4 283.4v4.4M190.9 121.2v4.4M190.9 138.7v4.4M190.9 160.6v4.4M190.9 178.2v4.4M190.9 265.8v4.4M192.4 51v4.4M192.4 134.3v4.4M192.4 270.2v4.4M193.9 77.3v4.4M193.9 121.2v4.4M193.9 156.2v4.4M193.9 173.8v4.4M193.9 222v4.4M193.9 230.8v4.4M193.9 265.8v4.4M193.9 279v4.4M193.9 283.4v4.4M195.4 51v4.4M195.4 77.3v4.4M195.4 112.4v4.4M195.4 147.5v4.4M195.4 173.8v4.4M195.4 186.9v4.4M195.4 261.4v4.4M196.9 121.2v4.4M196.9 265.8v4.4M198.4 59.8v4.4M198.4 68.6v4.4M198.4 94.9v4.4M198.4 243.9v4.4M198.4 265.8v4.4M198.4 270.2v4.4M199.9 33.5v4.4M199.9 94.9v4.4M199.9 99.2v4.4M199.9 112.4v4.4M201.4 33.5v4.4M201.4 42.3v4.4M201.4 165v4.4M201.4 178.2v4.4M201.4 239.5v4.4M201.4 261.4v4.4M202.9 46.7v4.4M202.9 51v4.4M202.9 134.3v4.4M202.9 147.5v4.4M202.9 151.9v4.4M202.9 169.4v4.4M202.9 230.8v4.4M202.9 239.5v4.4M202.9 257.1v4.4M202.9 265.8v4.4M202.9 287.7v4.4M204.4 33.5v4.4M204.4 99.2v4.4M204.4 112.4v4.4M204.4 147.5v4.4M204.4 151.9v4.4M204.4 160.6v4.4M204.4 200.1v4.4M204.4 222v4.4M204.4 239.5v4.4M204.4 274.6v4.4M204.4 279v4.4M204.4 292.1v4.4M205.9 46.7v4.4M205.9 121.2v4.4M205.9 151.9v4.4M205.9 173.8v4.4M205.9 186.9v4.4M205.9 200.1v4.4M205.9 283.4v4.4M207.4 37.9v4.4M207.4 222v4.4M208.9 230.8v4.4M208.9 257.1v4.4M208.9 265.8v4.4M208.9 270.2v4.4M208.9 292.1v4.4M210.4 68.6v4.4M210.4 77.3v4.4M210.4 129.9v4.4M210.4 169.4v4.4M210.4 173.8v4.4M210.4 200.1v4.4M210.4 274.6v4.4M210.4 279v4.4M211.9 51v4.4M211.9 108v4.4M211.9 121.2v4.4M211.9 226.4v4.4M211.9 235.1v4.4M211.9 257.1v4.4M211.9 270.2v4.4M211.9 274.6v4.4M213.4 46.7v4.4M213.4 59.8v4.4M213.4 77.3v4.4M213.4 147.5v4.4M213.4 182.5v4.4M213.4 208.8v4.4M213.4 287.7v4.4M214.9 59.8v4.4M214.9 94.9v4.4M214.9 116.8v4.4M214.9 156.2v4.4M214.9 243.9v4.4M214.9 257.1v4.4M216.4 64.2v4.4M216.4 73v4.4M216.4 121.2v4.4M216.4 151.9v4.4M216.4 186.9v4.4M217.9 77.3v4.4M217.9 108v4.4M217.9 134.3v4.4M217.9 235.1v4.4M217.9 261.4v4.4M217.9 279v4.4M219.4 64.2v4.4M219.4 235.1v4.4M219.4 287.7v4.4M220.9 37.9v4.4M220.9 81.7v4.4M220.9 112.4v4.4M220.9 125.6v4.4M220.9 129.9v4.4M220.9 186.9v4.4M220.9 213.2v4.4M222.4 182.5v4.4M222.4 226.4v4.4M222.4 257.1v4.4M222.4 270.2v4.4M223.9 90.5v4.4M223.9 116.8v4.4M223.9 186.9v4.4M223.9 208.8v4.4M223.9 222v4.4M225.4 147.5v4.4M225.4 151.9v4.4M225.4 173.8v4.4M225.4 226.4v4.4M225.4 252.7v4.4M225.4 283.4v4.4M226.9 147.5v4.4M226.9 160.6v4.4M226.9 191.3v4.4M226.9 243.9v4.4M226.9 257.1v4.4M226.9 265.8v4.4M226.9 270.2v4.4M226.9 287.7v4.4M226.9 292.1v4.4M228.4 134.3v4.4M228.4 151.9v4.4M228.4 230.8v4.4M231.8 208.8v4.4M231.8 235.1v4.4M231.8 257.1v4.4M231.8 283.4v4.4M233.3 208.8v4.4M233.3 243.9v4.4M233.3 252.7v4.4M233.3 265.8v4.4M233.3 274.6v4.4M233.3 279v4.4M233.3 292.1v4.4M234.8 213.2v4.4M234.8 257.1v4.4M234.8 279v4.4M236.3 51v4.4M236.3 64.2v4.4M236.3 213.2v4.4M236.3 243.9v4.4M236.3 252.7v4.4M236.3 270.2v4.4M236.3 292.1v4.4M237.8 55.4v4.4M237.8 90.5v4.4M237.8 213.2v4.4M237.8 235.1v4.4M239.3 112.4v4.4M239.3 217.6v4.4M239.3 222v4.4M239.3 235.1v4.4M239.3 243.9v4.4M239.3 261.4v4.4M239.3 287.7v4.4M240.8 213.2v4.4M240.8 235.1v4.4M240.8 274.6v4.4M240.8 283.4v4.4M242.4 77.3v4.4M242.4 213.2v4.4M242.4 217.6v4.4M242.4 222v4.4M242.4 235.1v4.4M242.4 261.4v4.4M242.4 265.8v4.4M242.4 279v4.4M242.4 292.1v4.4M243.9 64.2v4.4M243.9 217.6v4.4M243.9 239.5v4.4M243.9 252.7v4.4M243.9 265.8v4.4M243.9 274.6v4.4M245.4 226.4v4.4M245.4 230.8v4.4M245.4 248.3v4.4M245.4 257.1v4.4M246.9 46.7v4.4M246.9 68.6v4.4M246.9 86.1v4.4M246.9 217.6v4.4M248.4 51v4.4M248.4 73v4.4M248.4 90.5v4.4M248.4 222v4.4M248.4 230.8v4.4M248.4 252.7v4.4M248.4 292.1v4.4M249.9 33.5v4.4M249.9 46.7v4.4M249.9 112.4v4.4M249.9 265.8v4.4M251.4 55.4v4.4M251.4 86.1v4.4M251.4 239.5v4.4M251.4 287.7v4.4M251.4 292.1v4.4M253 116.8v4.4M253 226.4v4.4M253 239.5v4.4M254.5 37.9v4.4M254.5 103.6v4.4M257.4 51v4.4M257.4 134.3v4.4M257.4 147.5v4.4M257.4 151.9v4.4M257.4 182.5v4.4M257.4 191.3v4.4M259.1 55.4v4.4M259.1 121.2v4.4M259.1 165v4.4M259.1 204.5v4.4M260.6 59.8v4.4M260.6 138.7v4.4" stroke="#e2d7d2" stroke-width="1.55" fill="none"/>
<path d="M172.9 46.7v4.4M172.9 51v4.4M172.9 77.3v4.4M172.9 99.2v4.4M172.9 116.8v4.4M172.9 125.6v4.4M172.9 186.9v4.4M172.9 213.2v4.4M172.9 265.8v4.4M174.4 173.8v4.4M174.4 248.3v4.4M174.4 279v4.4M174.4 287.7v4.4M175.9 51v4.4M175.9 86.1v4.4M175.9 129.9v4.4M175.9 200.1v4.4M175.9 226.4v4.4M175.9 235.1v4.4M175.9 257.1v4.4M175.9 292.1v4.4M177.4 33.5v4.4M177.4 160.6v4.4M177.4 186.9v4.4M177.4 200.1v4.4M177.4 204.5v4.4M177.4 222v4.4M177.4 226.4v4.4M177.4 261.4v4.4M177.4 265.8v4.4M178.9 33.5v4.4M178.9 64.2v4.4M178.9 90.5v4.4M178.9 116.8v4.4M178.9 213.2v4.4M178.9 257.1v4.4M178.9 292.1v4.4M180.4 51v4.4M180.4 81.7v4.4M180.4 99.2v4.4M180.4 108v4.4M180.4 200.1v4.4M180.4 239.5v4.4M180.4 252.7v4.4M180.4 265.8v4.4M181.9 151.9v4.4M181.9 156.2v4.4M181.9 204.5v4.4M183.4 134.3v4.4M183.4 169.4v4.4M183.4 173.8v4.4M183.4 287.7v4.4M184.9 33.5v4.4M184.9 46.7v4.4M184.9 90.5v4.4M184.9 143.1v4.4M184.9 147.5v4.4M184.9 165v4.4M184.9 252.7v4.4M186.4 77.3v4.4M186.4 103.6v4.4M186.4 125.6v4.4M186.4 169.4v4.4M186.4 173.8v4.4M186.4 178.2v4.4M186.4 195.7v4.4M186.4 204.5v4.4M186.4 239.5v4.4M186.4 261.4v4.4M186.4 274.6v4.4M186.4 292.1v4.4M187.9 173.8v4.4M187.9 230.8v4.4M187.9 257.1v4.4M187.9 287.7v4.4M189.4 51v4.4M189.4 81.7v4.4M189.4 191.3v4.4M189.4 261.4v4.4M189.4 287.7v4.4M189.4 292.1v4.4M190.9 33.5v4.4M190.9 51v4.4M190.9 169.4v4.4M190.9 200.1v4.4M190.9 239.5v4.4M190.9 248.3v4.4M190.9 257.1v4.4M190.9 287.7v4.4M190.9 292.1v4.4M192.4 46.7v4.4M192.4 59.8v4.4M192.4 77.3v4.4M192.4 94.9v4.4M192.4 99.2v4.4M192.4 257.1v4.4M192.4 265.8v4.4M193.9 42.3v4.4M193.9 51v4.4M193.9 94.9v4.4M193.9 112.4v4.4M193.9 143.1v4.4M193.9 243.9v4.4M193.9 274.6v4.4M193.9 292.1v4.4M195.4 33.5v4.4M195.4 64.2v4.4M195.4 108v4.4M195.4 156.2v4.4M195.4 200.1v4.4M195.4 239.5v4.4M195.4 292.1v4.4M196.9 42.3v4.4M196.9 55.4v4.4M196.9 68.6v4.4M196.9 73v4.4M196.9 77.3v4.4M196.9 94.9v4.4M196.9 200.1v4.4M198.4 33.5v4.4M198.4 46.7v4.4M198.4 99.2v4.4M199.9 51v4.4M199.9 55.4v4.4M199.9 173.8v4.4M199.9 186.9v4.4M201.4 138.7v4.4M201.4 243.9v4.4M201.4 257.1v4.4M201.4 270.2v4.4M202.9 77.3v4.4M202.9 129.9v4.4M202.9 182.5v4.4M202.9 191.3v4.4M202.9 204.5v4.4M202.9 248.3v4.4M204.4 59.8v4.4M204.4 77.3v4.4M204.4 90.5v4.4M204.4 103.6v4.4M204.4 116.8v4.4M204.4 173.8v4.4M204.4 186.9v4.4M204.4 191.3v4.4M204.4 261.4v4.4M204.4 265.8v4.4M205.9 33.5v4.4M205.9 59.8v4.4M205.9 77.3v4.4M205.9 108v4.4M205.9 116.8v4.4M205.9 213.2v4.4M205.9 252.7v4.4M205.9 261.4v4.4M205.9 265.8v4.4M207.4 46.7v4.4M207.4 51v4.4M207.4 59.8v4.4M207.4 90.5v4.4M207.4 134.3v4.4M207.4 156.2v4.4M207.4 200.1v4.4M207.4 230.8v4.4M207.4 235.1v4.4M208.9 42.3v4.4M208.9 99.2v4.4M208.9 121.2v4.4M208.9 147.5v4.4M208.9 222v4.4M208.9 252.7v4.4M208.9 261.4v4.4M210.4 42.3v4.4M210.4 55.4v4.4M210.4 59.8v4.4M210.4 64.2v4.4M210.4 90.5v4.4M210.4 112.4v4.4M210.4 125.6v4.4M210.4 134.3v4.4M210.4 147.5v4.4M210.4 186.9v4.4M210.4 270.2v4.4M211.9 112.4v4.4M211.9 125.6v4.4M211.9 147.5v4.4M211.9 165v4.4M211.9 169.4v4.4M211.9 178.2v4.4M211.9 182.5v4.4M211.9 191.3v4.4M211.9 200.1v4.4M211.9 204.5v4.4M211.9 261.4v4.4M213.4 42.3v4.4M213.4 51v4.4M213.4 134.3v4.4M213.4 138.7v4.4M213.4 248.3v4.4M213.4 257.1v4.4M213.4 274.6v4.4M213.4 279v4.4M214.9 33.5v4.4M214.9 42.3v4.4M214.9 90.5v4.4M214.9 112.4v4.4M214.9 200.1v4.4M214.9 217.6v4.4M214.9 222v4.4M214.9 270.2v4.4M216.4 37.9v4.4M216.4 59.8v4.4M216.4 200.1v4.4M216.4 213.2v4.4M217.9 42.3v4.4M217.9 94.9v4.4M217.9 116.8v4.4M217.9 173.8v4.4M217.9 186.9v4.4M217.9 191.3v4.4M217.9 265.8v4.4M219.4 37.9v4.4M219.4 42.3v4.4M219.4 46.7v4.4M219.4 59.8v4.4M219.4 68.6v4.4M219.4 81.7v4.4M219.4 99.2v4.4M219.4 112.4v4.4M219.4 116.8v4.4M219.4 129.9v4.4M219.4 134.3v4.4M219.4 143.1v4.4M219.4 230.8v4.4M219.4 239.5v4.4M219.4 274.6v4.4M220.9 33.5v4.4M220.9 42.3v4.4M220.9 59.8v4.4M220.9 68.6v4.4M220.9 77.3v4.4M220.9 86.1v4.4M220.9 90.5v4.4M220.9 208.8v4.4M220.9 292.1v4.4M222.4 77.3v4.4M222.4 129.9v4.4M222.4 151.9v4.4M222.4 156.2v4.4M222.4 186.9v4.4M222.4 204.5v4.4M222.4 243.9v4.4M222.4 248.3v4.4M222.4 279v4.4M223.9 73v4.4M223.9 81.7v4.4M223.9 86.1v4.4M223.9 94.9v4.4M223.9 108v4.4M223.9 169.4v4.4M223.9 182.5v4.4M223.9 239.5v4.4M225.4 59.8v4.4M225.4 94.9v4.4M225.4 103.6v4.4M225.4 108v4.4M225.4 116.8v4.4M225.4 182.5v4.4M225.4 200.1v4.4M225.4 243.9v4.4M225.4 257.1v4.4M225.4 270.2v4.4M226.9 112.4v4.4M226.9 125.6v4.4M226.9 134.3v4.4M226.9 178.2v4.4M226.9 235.1v4.4M226.9 252.7v4.4M226.9 261.4v4.4M228.4 46.7v4.4M228.4 68.6v4.4M228.4 81.7v4.4M228.4 90.5v4.4M228.4 103.6v4.4M228.4 108v4.4M228.4 129.9v4.4M228.4 165v4.4M228.4 213.2v4.4M228.4 239.5v4.4M228.4 287.7v4.4M228.4 292.1v4.4M231.8 77.3v4.4M231.8 116.8v4.4M231.8 213.2v4.4M231.8 239.5v4.4M231.8 248.3v4.4M231.8 270.2v4.4M233.3 116.8v4.4M233.3 230.8v4.4M234.8 42.3v4.4M234.8 81.7v4.4M234.8 90.5v4.4M234.8 222v4.4M234.8 230.8v4.4M234.8 243.9v4.4M236.3 99.2v4.4M236.3 217.6v4.4M236.3 261.4v4.4M237.8 42.3v4.4M237.8 73v4.4M237.8 265.8v4.4M237.8 279v4.4M237.8 287.7v4.4M237.8 292.1v4.4M239.3 68.6v4.4M239.3 213.2v4.4M239.3 274.6v4.4M240.8 37.9v4.4M240.8 46.7v4.4M240.8 68.6v4.4M240.8 208.8v4.4M240.8 217.6v4.4M240.8 287.7v4.4M242.4 55.4v4.4M242.4 64.2v4.4M242.4 90.5v4.4M242.4 103.6v4.4M242.4 252.7v4.4M242.4 257.1v4.4M242.4 270.2v4.4M242.4 287.7v4.4M243.9 46.7v4.4M243.9 59.8v4.4M243.9 208.8v4.4M243.9 287.7v4.4M243.9 292.1v4.4M245.4 46.7v4.4M245.4 99.2v4.4M245.4 103.6v4.4M245.4 243.9v4.4M245.4 279v4.4M245.4 283.4v4.4M245.4 287.7v4.4M246.9 42.3v4.4M246.9 64.2v4.4M248.4 99.2v4.4M248.4 116.8v4.4M248.4 217.6v4.4M248.4 265.8v4.4M249.9 37.9v4.4M249.9 68.6v4.4M249.9 99.2v4.4M249.9 208.8v4.4M249.9 217.6v4.4M249.9 222v4.4M249.9 257.1v4.4M249.9 292.1v4.4M251.4 116.8v4.4M253 248.3v4.4M253 270.2v4.4M253 279v4.4M253 283.4v4.4M254.5 33.5v4.4M254.5 55.4v4.4M254.5 68.6v4.4M254.5 81.7v4.4M254.5 99.2v4.4M254.5 112.4v4.4M254.5 222v4.4M254.5 239.5v4.4M257.4 37.9v4.4M257.4 99.2v4.4M259.1 42.3v4.4M259.1 112.4v4.4M259.1 138.7v4.4M259.1 169.4v4.4M259.1 173.8v4.4M259.1 178.2v4.4M259.1 182.5v4.4M259.1 186.9v4.4M259.1 195.7v4.4M260.6 121.2v4.4M260.6 147.5v4.4M260.6 165v4.4M260.6 169.4v4.4" stroke="#e4d6cd" stroke-width="1.55" fill="none"/>
<path d="M172.9 33.5v4.4M172.9 42.3v4.4M172.9 64.2v4.4M172.9 81.7v4.4M172.9 108v4.4M172.9 226.4v4.4M172.9 230.8v4.4M172.9 235.1v4.4M172.9 243.9v4.4M172.9 261.4v4.4M174.4 112.4v4.4M174.4 121.2v4.4M174.4 134.3v4.4M174.4 191.3v4.4M174.4 200.1v4.4M174.4 208.8v4.4M174.4 230.8v4.4M174.4 235.1v4.4M174.4 265.8v4.4M175.9 33.5v4.4M175.9 37.9v4.4M175.9 42.3v4.4M175.9 59.8v4.4M175.9 90.5v4.4M175.9 147.5v4.4M175.9 208.8v4.4M175.9 222v4.4M175.9 230.8v4.4M175.9 239.5v4.4M177.4 37.9v4.4M177.4 99.2v4.4M177.4 116.8v4.4M177.4 213.2v4.4M177.4 283.4v4.4M177.4 292.1v4.4M178.9 42.3v4.4M178.9 108v4.4M178.9 208.8v4.4M178.9 222v4.4M178.9 226.4v4.4M178.9 252.7v4.4M180.4 42.3v4.4M180.4 64.2v4.4M180.4 68.6v4.4M180.4 86.1v4.4M180.4 103.6v4.4M180.4 112.4v4.4M180.4 243.9v4.4M180.4 292.1v4.4M181.9 160.6v4.4M181.9 239.5v4.4M181.9 243.9v4.4M181.9 274.6v4.4M181.9 292.1v4.4M183.4 33.5v4.4M183.4 42.3v4.4M183.4 46.7v4.4M183.4 51v4.4M183.4 186.9v4.4M183.4 261.4v4.4M184.9 77.3v4.4M184.9 108v4.4M184.9 116.8v4.4M184.9 200.1v4.4M184.9 248.3v4.4M184.9 257.1v4.4M186.4 90.5v4.4M186.4 99.2v4.4M186.4 116.8v4.4M186.4 134.3v4.4M186.4 186.9v4.4M186.4 265.8v4.4M187.9 37.9v4.4M187.9 55.4v4.4M187.9 68.6v4.4M187.9 186.9v4.4M187.9 265.8v4.4M187.9 270.2v4.4M187.9 274.6v4.4M189.4 46.7v4.4M189.4 59.8v4.4M189.4 112.4v4.4M189.4 178.2v4.4M189.4 200.1v4.4M189.4 274.6v4.4M190.9 73v4.4M190.9 90.5v4.4M190.9 134.3v4.4M190.9 186.9v4.4M190.9 191.3v4.4M192.4 86.1v4.4M192.4 108v4.4M192.4 147.5v4.4M192.4 200.1v4.4M192.4 283.4v4.4M193.9 37.9v4.4M193.9 55.4v4.4M193.9 103.6v4.4M193.9 108v4.4M193.9 200.1v4.4M193.9 239.5v4.4M195.4 55.4v4.4M195.4 90.5v4.4M195.4 99.2v4.4M196.9 59.8v4.4M196.9 81.7v4.4M196.9 99.2v4.4M196.9 108v4.4M196.9 134.3v4.4M196.9 169.4v4.4M198.4 77.3v4.4M198.4 90.5v4.4M198.4 134.3v4.4M199.9 81.7v4.4M199.9 86.1v4.4M199.9 90.5v4.4M199.9 134.3v4.4M199.9 165v4.4M201.4 108v4.4M201.4 200.1v4.4M201.4 287.7v4.4M201.4 292.1v4.4M202.9 55.4v4.4M202.9 186.9v4.4M202.9 292.1v4.4M204.4 55.4v4.4M204.4 287.7v4.4M205.9 55.4v4.4M205.9 68.6v4.4M205.9 99.2v4.4M205.9 169.4v4.4M205.9 208.8v4.4M205.9 243.9v4.4M205.9 248.3v4.4M207.4 94.9v4.4M207.4 112.4v4.4M208.9 68.6v4.4M208.9 108v4.4M208.9 173.8v4.4M208.9 186.9v4.4M208.9 217.6v4.4M210.4 103.6v4.4M210.4 208.8v4.4M210.4 213.2v4.4M210.4 230.8v4.4M210.4 243.9v4.4M210.4 265.8v4.4M210.4 287.7v4.4M211.9 59.8v4.4M211.9 77.3v4.4M211.9 99.2v4.4M211.9 156.2v4.4M211.9 217.6v4.4M211.9 222v4.4M211.9 230.8v4.4M211.9 265.8v4.4M213.4 55.4v4.4M213.4 99.2v4.4M213.4 213.2v4.4M213.4 235.1v4.4M213.4 239.5v4.4M214.9 108v4.4M214.9 208.8v4.4M214.9 235.1v4.4M214.9 287.7v4.4M216.4 116.8v4.4M216.4 222v4.4M216.4 230.8v4.4M216.4 239.5v4.4M216.4 292.1v4.4M217.9 37.9v4.4M217.9 213.2v4.4M219.4 51v4.4M219.4 217.6v4.4M219.4 265.8v4.4M220.9 46.7v4.4M220.9 55.4v4.4M220.9 108v4.4M220.9 116.8v4.4M220.9 217.6v4.4M222.4 51v4.4M222.4 94.9v4.4M222.4 121.2v4.4M222.4 169.4v4.4M222.4 173.8v4.4M222.4 200.1v4.4M222.4 222v4.4M223.9 55.4v4.4M223.9 59.8v4.4M223.9 213.2v4.4M223.9 235.1v4.4M223.9 265.8v4.4M225.4 42.3v4.4M225.4 77.3v4.4M225.4 86.1v4.4M225.4 186.9v4.4M225.4 208.8v4.4M225.4 265.8v4.4M226.9 73v4.4M226.9 103.6v4.4M226.9 200.1v4.4M226.9 208.8v4.4M228.4 42.3v4.4M228.4 64.2v4.4M228.4 77.3v4.4M228.4 94.9v4.4M228.4 116.8v4.4M228.4 121.2v4.4M228.4 173.8v4.4M228.4 235.1v4.4M228.4 257.1v4.4M231.8 37.9v4.4M231.8 59.8v4.4M231.8 103.6v4.4M231.8 217.6v4.4M231.8 222v4.4M231.8 230.8v4.4M231.8 279v4.4M231.8 287.7v4.4M231.8 292.1v4.4M233.3 33.5v4.4M233.3 42.3v4.4M233.3 86.1v4.4M233.3 90.5v4.4M233.3 99.2v4.4M233.3 217.6v4.4M233.3 222v4.4M233.3 239.5v4.4M233.3 261.4v4.4M233.3 283.4v4.4M234.8 59.8v4.4M234.8 94.9v4.4M234.8 99.2v4.4M234.8 265.8v4.4M236.3 90.5v4.4M236.3 112.4v4.4M236.3 116.8v4.4M236.3 248.3v4.4M236.3 287.7v4.4M237.8 33.5v4.4M237.8 59.8v4.4M237.8 108v4.4M237.8 222v4.4M239.3 33.5v4.4M239.3 42.3v4.4M239.3 46.7v4.4M239.3 64.2v4.4M239.3 94.9v4.4M239.3 208.8v4.4M240.8 51v4.4M240.8 59.8v4.4M240.8 81.7v4.4M240.8 230.8v4.4M240.8 243.9v4.4M242.4 37.9v4.4M242.4 51v4.4M242.4 59.8v4.4M242.4 239.5v4.4M243.9 33.5v4.4M243.9 37.9v4.4M243.9 55.4v4.4M243.9 213.2v4.4M243.9 230.8v4.4M245.4 252.7v4.4M245.4 261.4v4.4M245.4 270.2v4.4M245.4 274.6v4.4M245.4 292.1v4.4M246.9 37.9v4.4M246.9 55.4v4.4M246.9 73v4.4M246.9 94.9v4.4M246.9 103.6v4.4M246.9 116.8v4.4M246.9 226.4v4.4M248.4 33.5v4.4M248.4 46.7v4.4M248.4 55.4v4.4M248.4 59.8v4.4M248.4 64.2v4.4M248.4 77.3v4.4M249.9 42.3v4.4M249.9 103.6v4.4M249.9 108v4.4M251.4 59.8v4.4M251.4 64.2v4.4M251.4 99.2v4.4M251.4 112.4v4.4M253 37.9v4.4M253 208.8v4.4M253 257.1v4.4M253 265.8v4.4M253 274.6v4.4M253 292.1v4.4M254.5 51v4.4M254.5 59.8v4.4M254.5 94.9v4.4M254.5 217.6v4.4M257.4 33.5v4.4M257.4 42.3v4.4M257.4 55.4v4.4M257.4 59.8v4.4M257.4 86.1v4.4M257.4 112.4v4.4M257.4 116.8v4.4M257.4 173.8v4.4M257.4 204.5v4.4M259.1 51v4.4M259.1 68.6v4.4M259.1 94.9v4.4M259.1 99.2v4.4M259.1 134.3v4.4M260.6 51v4.4M260.6 55.4v4.4M260.6 77.3v4.4M260.6 134.3v4.4M260.6 156.2v4.4M260.6 160.6v4.4" stroke="#e5d5c8" stroke-width="1.55" fill="none"/>
<path d="M172.9 55.4v4.4M172.9 90.5v4.4M174.4 46.7v4.4M174.4 51v4.4M174.4 59.8v4.4M174.4 68.6v4.4M174.4 108v4.4M174.4 213.2v4.4M175.9 116.8v4.4M175.9 217.6v4.4M177.4 134.3v4.4M177.4 208.8v4.4M177.4 235.1v4.4M177.4 239.5v4.4M177.4 248.3v4.4M177.4 279v4.4M177.4 287.7v4.4M178.9 46.7v4.4M178.9 55.4v4.4M178.9 86.1v4.4M178.9 94.9v4.4M178.9 134.3v4.4M178.9 235.1v4.4M180.4 94.9v4.4M180.4 121.2v4.4M180.4 134.3v4.4M181.9 46.7v4.4M181.9 77.3v4.4M181.9 112.4v4.4M181.9 129.9v4.4M181.9 186.9v4.4M181.9 287.7v4.4M183.4 59.8v4.4M183.4 64.2v4.4M183.4 239.5v4.4M184.9 55.4v4.4M184.9 169.4v4.4M184.9 265.8v4.4M186.4 33.5v4.4M186.4 42.3v4.4M186.4 46.7v4.4M186.4 81.7v4.4M186.4 147.5v4.4M186.4 200.1v4.4M186.4 257.1v4.4M187.9 73v4.4M187.9 77.3v4.4M187.9 81.7v4.4M187.9 94.9v4.4M187.9 103.6v4.4M187.9 112.4v4.4M187.9 138.7v4.4M187.9 200.1v4.4M187.9 292.1v4.4M189.4 64.2v4.4M189.4 86.1v4.4M189.4 103.6v4.4M189.4 108v4.4M189.4 134.3v4.4M190.9 42.3v4.4M190.9 59.8v4.4M190.9 116.8v4.4M190.9 261.4v4.4M192.4 64.2v4.4M192.4 116.8v4.4M193.9 33.5v4.4M193.9 46.7v4.4M193.9 64.2v4.4M193.9 73v4.4M193.9 90.5v4.4M193.9 99.2v4.4M193.9 116.8v4.4M195.4 81.7v4.4M196.9 46.7v4.4M196.9 103.6v4.4M196.9 112.4v4.4M196.9 274.6v4.4M198.4 37.9v4.4M198.4 86.1v4.4M198.4 103.6v4.4M198.4 108v4.4M199.9 59.8v4.4M199.9 64.2v4.4M199.9 116.8v4.4M201.4 90.5v4.4M201.4 103.6v4.4M201.4 186.9v4.4M201.4 283.4v4.4M202.9 59.8v4.4M202.9 68.6v4.4M202.9 90.5v4.4M202.9 99.2v4.4M202.9 103.6v4.4M202.9 112.4v4.4M202.9 279v4.4M204.4 37.9v4.4M204.4 68.6v4.4M204.4 257.1v4.4M205.9 42.3v4.4M205.9 51v4.4M205.9 103.6v4.4M205.9 222v4.4M205.9 230.8v4.4M205.9 239.5v4.4M205.9 257.1v4.4M207.4 99.2v4.4M207.4 116.8v4.4M207.4 217.6v4.4M207.4 239.5v4.4M207.4 261.4v4.4M208.9 46.7v4.4M208.9 51v4.4M208.9 59.8v4.4M208.9 77.3v4.4M208.9 86.1v4.4M208.9 90.5v4.4M208.9 116.8v4.4M208.9 134.3v4.4M208.9 208.8v4.4M208.9 213.2v4.4M208.9 235.1v4.4M210.4 33.5v4.4M210.4 94.9v4.4M210.4 108v4.4M210.4 116.8v4.4M210.4 217.6v4.4M210.4 222v4.4M210.4 261.4v4.4M211.9 42.3v4.4M211.9 46.7v4.4M211.9 186.9v4.4M211.9 208.8v4.4M211.9 287.7v4.4M213.4 86.1v4.4M213.4 94.9v4.4M213.4 116.8v4.4M213.4 217.6v4.4M213.4 222v4.4M214.9 86.1v4.4M214.9 99.2v4.4M214.9 213.2v4.4M214.9 239.5v4.4M214.9 248.3v4.4M216.4 90.5v4.4M216.4 94.9v4.4M216.4 208.8v4.4M217.9 46.7v4.4M217.9 103.6v4.4M217.9 208.8v4.4M217.9 217.6v4.4M217.9 239.5v4.4M219.4 55.4v4.4M219.4 90.5v4.4M219.4 94.9v4.4M219.4 292.1v4.4M220.9 64.2v4.4M220.9 103.6v4.4M220.9 230.8v4.4M220.9 239.5v4.4M220.9 265.8v4.4M222.4 99.2v4.4M222.4 103.6v4.4M222.4 134.3v4.4M222.4 208.8v4.4M222.4 213.2v4.4M222.4 261.4v4.4M222.4 265.8v4.4M223.9 37.9v4.4M223.9 46.7v4.4M223.9 64.2v4.4M223.9 103.6v4.4M225.4 213.2v4.4M225.4 217.6v4.4M225.4 222v4.4M225.4 230.8v4.4M225.4 235.1v4.4M226.9 33.5v4.4M226.9 51v4.4M226.9 81.7v4.4M226.9 108v4.4M226.9 169.4v4.4M226.9 186.9v4.4M226.9 213.2v4.4M226.9 230.8v4.4M226.9 248.3v4.4M228.4 33.5v4.4M228.4 37.9v4.4M228.4 99.2v4.4M228.4 217.6v4.4M228.4 222v4.4M228.4 261.4v4.4M231.8 51v4.4M231.8 81.7v4.4M231.8 86.1v4.4M231.8 90.5v4.4M231.8 243.9v4.4M231.8 252.7v4.4M231.8 265.8v4.4M231.8 274.6v4.4M233.3 51v4.4M233.3 59.8v4.4M233.3 103.6v4.4M233.3 112.4v4.4M234.8 68.6v4.4M234.8 77.3v4.4M234.8 86.1v4.4M234.8 108v4.4M234.8 226.4v4.4M234.8 235.1v4.4M234.8 239.5v4.4M234.8 292.1v4.4M236.3 55.4v4.4M236.3 73v4.4M236.3 208.8v4.4M236.3 239.5v4.4M237.8 37.9v4.4M237.8 64.2v4.4M237.8 77.3v4.4M237.8 99.2v4.4M237.8 112.4v4.4M239.3 55.4v4.4M239.3 59.8v4.4M239.3 103.6v4.4M239.3 265.8v4.4M239.3 292.1v4.4M240.8 94.9v4.4M240.8 99.2v4.4M242.4 68.6v4.4M242.4 116.8v4.4M243.9 77.3v4.4M243.9 99.2v4.4M243.9 103.6v4.4M245.4 37.9v4.4M245.4 73v4.4M245.4 77.3v4.4M245.4 112.4v4.4M245.4 239.5v4.4M245.4 265.8v4.4M246.9 81.7v4.4M246.9 99.2v4.4M246.9 191.3v4.4M248.4 68.6v4.4M248.4 235.1v4.4M249.9 55.4v4.4M249.9 235.1v4.4M251.4 51v4.4M251.4 81.7v4.4M251.4 94.9v4.4M251.4 103.6v4.4M251.4 108v4.4M253 51v4.4M253 59.8v4.4M253 68.6v4.4M253 213.2v4.4M253 235.1v4.4M253 261.4v4.4M254.5 64.2v4.4M254.5 108v4.4M257.4 68.6v4.4M257.4 77.3v4.4M257.4 90.5v4.4M259.1 46.7v4.4M259.1 59.8v4.4M259.1 73v4.4M259.1 90.5v4.4M259.1 200.1v4.4M260.6 42.3v4.4M260.6 64.2v4.4M260.6 103.6v4.4M260.6 116.8v4.4M260.6 151.9v4.4M260.6 173.8v4.4M260.6 200.1v4.4M260.6 204.5v4.4" stroke="#e7d4c3" stroke-width="1.55" fill="none"/>
<path d="M172.9 37.9v4.4M172.9 103.6v4.4M172.9 208.8v4.4M172.9 217.6v4.4M172.9 248.3v4.4M174.4 86.1v4.4M174.4 151.9v4.4M174.4 222v4.4M174.4 226.4v4.4M174.4 243.9v4.4M174.4 257.1v4.4M175.9 134.3v4.4M177.4 64.2v4.4M177.4 73v4.4M177.4 230.8v4.4M177.4 243.9v4.4M178.9 73v4.4M178.9 239.5v4.4M180.4 116.8v4.4M181.9 33.5v4.4M181.9 42.3v4.4M181.9 59.8v4.4M181.9 134.3v4.4M181.9 165v4.4M181.9 261.4v4.4M183.4 68.6v4.4M183.4 77.3v4.4M183.4 81.7v4.4M183.4 86.1v4.4M183.4 90.5v4.4M183.4 99.2v4.4M184.9 37.9v4.4M184.9 73v4.4M184.9 103.6v4.4M184.9 112.4v4.4M186.4 86.1v4.4M186.4 94.9v4.4M186.4 287.7v4.4M187.9 42.3v4.4M187.9 46.7v4.4M187.9 51v4.4M189.4 68.6v4.4M189.4 252.7v4.4M190.9 55.4v4.4M190.9 86.1v4.4M190.9 99.2v4.4M190.9 108v4.4M192.4 37.9v4.4M192.4 42.3v4.4M192.4 55.4v4.4M192.4 73v4.4M192.4 90.5v4.4M192.4 103.6v4.4M192.4 112.4v4.4M193.9 68.6v4.4M193.9 86.1v4.4M195.4 42.3v4.4M195.4 73v4.4M196.9 37.9v4.4M198.4 64.2v4.4M198.4 81.7v4.4M198.4 116.8v4.4M199.9 37.9v4.4M201.4 112.4v4.4M201.4 279v4.4M202.9 37.9v4.4M204.4 86.1v4.4M205.9 86.1v4.4M205.9 90.5v4.4M205.9 94.9v4.4M205.9 279v4.4M207.4 55.4v4.4M207.4 73v4.4M207.4 108v4.4M207.4 208.8v4.4M208.9 112.4v4.4M210.4 235.1v4.4M211.9 81.7v4.4M211.9 86.1v4.4M211.9 90.5v4.4M211.9 134.3v4.4M211.9 213.2v4.4M213.4 68.6v4.4M213.4 186.9v4.4M213.4 252.7v4.4M214.9 37.9v4.4M214.9 51v4.4M214.9 64.2v4.4M214.9 68.6v4.4M214.9 261.4v4.4M214.9 265.8v4.4M216.4 68.6v4.4M216.4 81.7v4.4M216.4 103.6v4.4M217.9 33.5v4.4M217.9 59.8v4.4M217.9 81.7v4.4M217.9 222v4.4M220.9 73v4.4M220.9 94.9v4.4M220.9 99.2v4.4M222.4 55.4v4.4M222.4 59.8v4.4M222.4 86.1v4.4M222.4 90.5v4.4M222.4 116.8v4.4M222.4 191.3v4.4M222.4 217.6v4.4M222.4 230.8v4.4M222.4 235.1v4.4M222.4 252.7v4.4M223.9 217.6v4.4M225.4 33.5v4.4M225.4 51v4.4M225.4 292.1v4.4M226.9 37.9v4.4M226.9 42.3v4.4M226.9 46.7v4.4M226.9 64.2v4.4M226.9 86.1v4.4M226.9 90.5v4.4M226.9 99.2v4.4M226.9 156.2v4.4M226.9 222v4.4M228.4 51v4.4M228.4 208.8v4.4M231.8 46.7v4.4M233.3 37.9v4.4M233.3 46.7v4.4M233.3 64.2v4.4M233.3 73v4.4M233.3 108v4.4M234.8 46.7v4.4M234.8 64.2v4.4M234.8 208.8v4.4M234.8 261.4v4.4M236.3 42.3v4.4M236.3 81.7v4.4M236.3 86.1v4.4M237.8 94.9v4.4M237.8 103.6v4.4M237.8 208.8v4.4M239.3 90.5v4.4M239.3 116.8v4.4M239.3 239.5v4.4M240.8 90.5v4.4M240.8 103.6v4.4M240.8 116.8v4.4M242.4 108v4.4M243.9 42.3v4.4M243.9 51v4.4M243.9 86.1v4.4M243.9 94.9v4.4M243.9 125.6v4.4M243.9 222v4.4M245.4 90.5v4.4M245.4 213.2v4.4M245.4 235.1v4.4M246.9 112.4v4.4M246.9 125.6v4.4M248.4 37.9v4.4M248.4 94.9v4.4M248.4 112.4v4.4M248.4 143.1v4.4M248.4 147.5v4.4M249.9 86.1v4.4M251.4 138.7v4.4M253 46.7v4.4M253 94.9v4.4M253 99.2v4.4M253 217.6v4.4M253 243.9v4.4M254.5 73v4.4M257.4 81.7v4.4M257.4 94.9v4.4M257.4 103.6v4.4M257.4 108v4.4M259.1 116.8v4.4M260.6 37.9v4.4M260.6 99.2v4.4M260.6 112.4v4.4M260.6 186.9v4.4" stroke="#e9d3be" stroke-width="1.55" fill="none"/>
<path d="M172.9 112.4v4.4M174.4 33.5v4.4M174.4 42.3v4.4M174.4 55.4v4.4M174.4 94.9v4.4M174.4 99.2v4.4M174.4 186.9v4.4M174.4 217.6v4.4M174.4 239.5v4.4M175.9 55.4v4.4M175.9 68.6v4.4M175.9 94.9v4.4M175.9 99.2v4.4M177.4 42.3v4.4M177.4 46.7v4.4M177.4 51v4.4M177.4 81.7v4.4M177.4 103.6v4.4M177.4 108v4.4M177.4 112.4v4.4M177.4 217.6v4.4M177.4 257.1v4.4M178.9 59.8v4.4M178.9 77.3v4.4M178.9 103.6v4.4M180.4 279v4.4M180.4 287.7v4.4M181.9 51v4.4M181.9 64.2v4.4M181.9 81.7v4.4M181.9 86.1v4.4M181.9 90.5v4.4M181.9 99.2v4.4M181.9 103.6v4.4M183.4 37.9v4.4M183.4 112.4v4.4M184.9 42.3v4.4M184.9 51v4.4M184.9 64.2v4.4M184.9 68.6v4.4M186.4 51v4.4M186.4 59.8v4.4M186.4 73v4.4M186.4 248.3v4.4M187.9 33.5v4.4M187.9 64.2v4.4M187.9 90.5v4.4M187.9 108v4.4M187.9 243.9v4.4M189.4 37.9v4.4M189.4 42.3v4.4M189.4 55.4v4.4M189.4 90.5v4.4M189.4 99.2v4.4M189.4 116.8v4.4M190.9 68.6v4.4M190.9 77.3v4.4M190.9 94.9v4.4M192.4 68.6v4.4M193.9 59.8v4.4M193.9 81.7v4.4M193.9 261.4v4.4M195.4 46.7v4.4M195.4 68.6v4.4M195.4 116.8v4.4M196.9 90.5v4.4M196.9 116.8v4.4M196.9 292.1v4.4M198.4 55.4v4.4M198.4 112.4v4.4M201.4 55.4v4.4M201.4 59.8v4.4M201.4 73v4.4M201.4 81.7v4.4M202.9 81.7v4.4M202.9 94.9v4.4M204.4 51v4.4M204.4 64.2v4.4M204.4 108v4.4M205.9 37.9v4.4M205.9 73v4.4M205.9 217.6v4.4M205.9 235.1v4.4M207.4 86.1v4.4M208.9 33.5v4.4M208.9 55.4v4.4M208.9 64.2v4.4M208.9 94.9v4.4M208.9 103.6v4.4M208.9 200.1v4.4M211.9 68.6v4.4M211.9 94.9v4.4M211.9 116.8v4.4M211.9 292.1v4.4M213.4 64.2v4.4M213.4 73v4.4M213.4 103.6v4.4M213.4 265.8v4.4M214.9 55.4v4.4M214.9 73v4.4M216.4 86.1v4.4M216.4 108v4.4M217.9 64.2v4.4M217.9 86.1v4.4M217.9 90.5v4.4M217.9 270.2v4.4M217.9 287.7v4.4M222.4 33.5v4.4M222.4 37.9v4.4M222.4 81.7v4.4M222.4 239.5v4.4M222.4 287.7v4.4M222.4 292.1v4.4M225.4 46.7v4.4M225.4 55.4v4.4M225.4 68.6v4.4M225.4 73v4.4M225.4 81.7v4.4M225.4 239.5v4.4M225.4 279v4.4M226.9 59.8v4.4M226.9 116.8v4.4M226.9 239.5v4.4M226.9 279v4.4M228.4 59.8v4.4M228.4 265.8v4.4M231.8 42.3v4.4M231.8 64.2v4.4M231.8 68.6v4.4M231.8 73v4.4M231.8 112.4v4.4M234.8 37.9v4.4M234.8 73v4.4M236.3 94.9v4.4M236.3 230.8v4.4M237.8 51v4.4M237.8 121.2v4.4M239.3 37.9v4.4M239.3 73v4.4M240.8 42.3v4.4M240.8 108v4.4M240.8 143.1v4.4M242.4 33.5v4.4M242.4 42.3v4.4M242.4 81.7v4.4M242.4 86.1v4.4M242.4 208.8v4.4M243.9 73v4.4M243.9 112.4v4.4M245.4 42.3v4.4M245.4 217.6v4.4M246.9 143.1v4.4M246.9 178.2v4.4M248.4 108v4.4M251.4 37.9v4.4M251.4 90.5v4.4M251.4 143.1v4.4M253 42.3v4.4M253 81.7v4.4M253 112.4v4.4M253 252.7v4.4M254.5 138.7v4.4M254.5 143.1v4.4M254.5 195.7v4.4M254.5 200.1v4.4M254.5 204.5v4.4M257.4 64.2v4.4M257.4 186.9v4.4M259.1 37.9v4.4M259.1 64.2v4.4M259.1 86.1v4.4M260.6 46.7v4.4M260.6 68.6v4.4M260.6 73v4.4M260.6 90.5v4.4M260.6 108v4.4" stroke="#ebd2b9" stroke-width="1.55" fill="none"/>
<path d="M172.9 73v4.4M172.9 94.9v4.4M174.4 37.9v4.4M174.4 252.7v4.4M175.9 73v4.4M177.4 55.4v4.4M177.4 59.8v4.4M177.4 68.6v4.4M177.4 252.7v4.4M178.9 37.9v4.4M180.4 37.9v4.4M180.4 73v4.4M180.4 90.5v4.4M181.9 37.9v4.4M181.9 73v4.4M181.9 94.9v4.4M181.9 108v4.4M183.4 55.4v4.4M186.4 37.9v4.4M186.4 64.2v4.4M186.4 112.4v4.4M186.4 279v4.4M187.9 59.8v4.4M187.9 86.1v4.4M190.9 37.9v4.4M190.9 46.7v4.4M190.9 64.2v4.4M190.9 81.7v4.4M195.4 94.9v4.4M195.4 103.6v4.4M199.9 42.3v4.4M199.9 73v4.4M199.9 103.6v4.4M201.4 37.9v4.4M201.4 46.7v4.4M201.4 64.2v4.4M201.4 116.8v4.4M202.9 73v4.4M202.9 108v4.4M202.9 116.8v4.4M204.4 42.3v4.4M204.4 46.7v4.4M204.4 73v4.4M204.4 81.7v4.4M205.9 112.4v4.4M205.9 292.1v4.4M208.9 37.9v4.4M208.9 239.5v4.4M208.9 283.4v4.4M210.4 73v4.4M210.4 81.7v4.4M210.4 99.2v4.4M211.9 33.5v4.4M211.9 64.2v4.4M211.9 239.5v4.4M213.4 81.7v4.4M213.4 90.5v4.4M214.9 81.7v4.4M217.9 73v4.4M217.9 99.2v4.4M217.9 112.4v4.4M217.9 292.1v4.4M222.4 46.7v4.4M222.4 68.6v4.4M222.4 112.4v4.4M222.4 283.4v4.4M223.9 99.2v4.4M225.4 37.9v4.4M225.4 90.5v4.4M225.4 99.2v4.4M225.4 261.4v4.4M226.9 55.4v4.4M226.9 94.9v4.4M226.9 217.6v4.4M228.4 112.4v4.4M231.8 33.5v4.4M231.8 99.2v4.4M231.8 108v4.4M233.3 121.2v4.4M234.8 103.6v4.4M234.8 116.8v4.4M234.8 217.6v4.4M236.3 68.6v4.4M236.3 108v4.4M236.3 138.7v4.4M236.3 143.1v4.4M236.3 165v4.4M236.3 195.7v4.4M237.8 86.1v4.4M237.8 138.7v4.4M239.3 51v4.4M239.3 81.7v4.4M239.3 86.1v4.4M239.3 173.8v4.4M240.8 73v4.4M240.8 134.3v4.4M240.8 178.2v4.4M242.4 73v4.4M243.9 68.6v4.4M243.9 81.7v4.4M243.9 143.1v4.4M245.4 64.2v4.4M245.4 81.7v4.4M245.4 116.8v4.4M245.4 195.7v4.4M246.9 138.7v4.4M246.9 160.6v4.4M248.4 103.6v4.4M248.4 125.6v4.4M249.9 138.7v4.4M249.9 143.1v4.4M249.9 147.5v4.4M249.9 173.8v4.4M249.9 178.2v4.4M251.4 125.6v4.4M251.4 151.9v4.4M251.4 195.7v4.4M253 55.4v4.4M253 77.3v4.4M253 103.6v4.4M253 230.8v4.4M254.5 121.2v4.4M254.5 125.6v4.4M254.5 160.6v4.4M254.5 165v4.4M254.5 169.4v4.4M257.4 73v4.4M260.6 81.7v4.4M260.6 86.1v4.4" stroke="#ecceb1" stroke-width="1.55" fill="none"/>
<path d="M172.9 239.5v4.4M174.4 64.2v4.4M175.9 81.7v4.4M175.9 103.6v4.4M177.4 94.9v4.4M181.9 68.6v4.4M181.9 116.8v4.4M181.9 169.4v4.4M181.9 257.1v4.4M181.9 265.8v4.4M183.4 73v4.4M184.9 81.7v4.4M184.9 86.1v4.4M184.9 99.2v4.4M186.4 108v4.4M187.9 252.7v4.4M190.9 103.6v4.4M190.9 112.4v4.4M195.4 37.9v4.4M195.4 86.1v4.4M195.4 287.7v4.4M196.9 86.1v4.4M198.4 73v4.4M201.4 86.1v4.4M201.4 94.9v4.4M205.9 64.2v4.4M205.9 81.7v4.4M207.4 81.7v4.4M210.4 86.1v4.4M211.9 55.4v4.4M211.9 73v4.4M213.4 37.9v4.4M213.4 108v4.4M214.9 103.6v4.4M222.4 42.3v4.4M222.4 73v4.4M222.4 108v4.4M225.4 112.4v4.4M225.4 287.7v4.4M226.9 68.6v4.4M226.9 77.3v4.4M228.4 55.4v4.4M228.4 86.1v4.4M233.3 55.4v4.4M233.3 68.6v4.4M233.3 94.9v4.4M233.3 129.9v4.4M233.3 138.7v4.4M233.3 165v4.4M234.8 51v4.4M236.3 103.6v4.4M236.3 129.9v4.4M236.3 147.5v4.4M236.3 156.2v4.4M236.3 169.4v4.4M236.3 182.5v4.4M237.8 81.7v4.4M237.8 143.1v4.4M237.8 147.5v4.4M237.8 160.6v4.4M237.8 165v4.4M237.8 182.5v4.4M239.3 129.9v4.4M239.3 134.3v4.4M239.3 138.7v4.4M239.3 143.1v4.4M239.3 160.6v4.4M239.3 204.5v4.4M240.8 86.1v4.4M240.8 125.6v4.4M240.8 129.9v4.4M240.8 138.7v4.4M240.8 151.9v4.4M240.8 182.5v4.4M240.8 191.3v4.4M240.8 195.7v4.4M242.4 112.4v4.4M242.4 143.1v4.4M242.4 195.7v4.4M243.9 129.9v4.4M243.9 151.9v4.4M245.4 51v4.4M245.4 55.4v4.4M245.4 59.8v4.4M245.4 165v4.4M245.4 169.4v4.4M245.4 208.8v4.4M246.9 121.2v4.4M246.9 147.5v4.4M246.9 156.2v4.4M246.9 165v4.4M246.9 173.8v4.4M246.9 195.7v4.4M246.9 204.5v4.4M248.4 129.9v4.4M248.4 151.9v4.4M248.4 156.2v4.4M248.4 178.2v4.4M249.9 94.9v4.4M249.9 121.2v4.4M249.9 160.6v4.4M249.9 195.7v4.4M249.9 204.5v4.4M251.4 121.2v4.4M251.4 129.9v4.4M251.4 134.3v4.4M251.4 147.5v4.4M251.4 169.4v4.4M251.4 178.2v4.4M251.4 191.3v4.4M253 33.5v4.4M253 73v4.4M253 90.5v4.4M253 108v4.4M253 125.6v4.4M253 169.4v4.4M254.5 129.9v4.4M254.5 156.2v4.4M254.5 178.2v4.4M254.5 191.3v4.4M257.4 274.6v4.4M259.1 103.6v4.4M259.1 208.8v4.4M259.1 222v4.4M260.6 94.9v4.4" stroke="#ebc8a6" stroke-width="1.55" fill="none"/>
<path d="M174.4 81.7v4.4M174.4 90.5v4.4M174.4 103.6v4.4M178.9 81.7v4.4M183.4 103.6v4.4M187.9 116.8v4.4M202.9 86.1v4.4M207.4 68.6v4.4M208.9 81.7v4.4M210.4 37.9v4.4M210.4 239.5v4.4M211.9 103.6v4.4M217.9 68.6v4.4M219.4 103.6v4.4M225.4 64.2v4.4M228.4 73v4.4M231.8 121.2v4.4M231.8 143.1v4.4M231.8 147.5v4.4M231.8 156.2v4.4M231.8 160.6v4.4M231.8 165v4.4M231.8 169.4v4.4M231.8 200.1v4.4M231.8 204.5v4.4M233.3 125.6v4.4M233.3 143.1v4.4M233.3 151.9v4.4M233.3 169.4v4.4M234.8 121.2v4.4M234.8 129.9v4.4M234.8 138.7v4.4M234.8 143.1v4.4M234.8 195.7v4.4M236.3 37.9v4.4M236.3 121.2v4.4M236.3 125.6v4.4M236.3 178.2v4.4M236.3 191.3v4.4M237.8 46.7v4.4M237.8 125.6v4.4M237.8 134.3v4.4M237.8 151.9v4.4M237.8 156.2v4.4M237.8 186.9v4.4M237.8 191.3v4.4M237.8 200.1v4.4M239.3 121.2v4.4M239.3 125.6v4.4M239.3 147.5v4.4M239.3 156.2v4.4M239.3 169.4v4.4M239.3 191.3v4.4M239.3 195.7v4.4M239.3 200.1v4.4M240.8 121.2v4.4M240.8 169.4v4.4M240.8 186.9v4.4M240.8 200.1v4.4M240.8 204.5v4.4M242.4 121.2v4.4M242.4 134.3v4.4M242.4 138.7v4.4M242.4 147.5v4.4M242.4 151.9v4.4M242.4 169.4v4.4M242.4 173.8v4.4M243.9 121.2v4.4M243.9 138.7v4.4M243.9 156.2v4.4M243.9 165v4.4M243.9 169.4v4.4M243.9 173.8v4.4M243.9 178.2v4.4M243.9 195.7v4.4M243.9 204.5v4.4M245.4 94.9v4.4M245.4 108v4.4M245.4 138.7v4.4M245.4 151.9v4.4M245.4 182.5v4.4M245.4 186.9v4.4M245.4 204.5v4.4M246.9 129.9v4.4M246.9 151.9v4.4M246.9 169.4v4.4M246.9 186.9v4.4M248.4 121.2v4.4M248.4 138.7v4.4M248.4 165v4.4M248.4 169.4v4.4M248.4 182.5v4.4M248.4 200.1v4.4M249.9 81.7v4.4M249.9 125.6v4.4M249.9 129.9v4.4M249.9 200.1v4.4M251.4 156.2v4.4M251.4 160.6v4.4M251.4 173.8v4.4M251.4 182.5v4.4M251.4 186.9v4.4M251.4 200.1v4.4M253 64.2v4.4M253 86.1v4.4M253 129.9v4.4M253 134.3v4.4M253 138.7v4.4M253 143.1v4.4M253 156.2v4.4M253 182.5v4.4M254.5 134.3v4.4M254.5 147.5v4.4M254.5 151.9v4.4M254.5 173.8v4.4M254.5 186.9v4.4M257.4 213.2v4.4M257.4 235.1v4.4M257.4 248.3v4.4M259.1 81.7v4.4M259.1 108v4.4M259.1 265.8v4.4M259.1 283.4v4.4" stroke="#eac29b" stroke-width="1.55" fill="none"/>
<path d="M177.4 86.1v4.4M202.9 64.2v4.4M211.9 37.9v4.4M217.9 55.4v4.4M222.4 64.2v4.4M231.8 125.6v4.4M231.8 134.3v4.4M231.8 138.7v4.4M231.8 151.9v4.4M231.8 178.2v4.4M231.8 182.5v4.4M231.8 186.9v4.4M231.8 191.3v4.4M231.8 195.7v4.4M233.3 134.3v4.4M233.3 178.2v4.4M233.3 182.5v4.4M233.3 186.9v4.4M233.3 191.3v4.4M233.3 204.5v4.4M234.8 55.4v4.4M234.8 125.6v4.4M234.8 147.5v4.4M234.8 156.2v4.4M234.8 160.6v4.4M236.3 134.3v4.4M236.3 151.9v4.4M236.3 160.6v4.4M236.3 173.8v4.4M236.3 200.1v4.4M237.8 169.4v4.4M237.8 173.8v4.4M237.8 195.7v4.4M237.8 204.5v4.4M239.3 108v4.4M239.3 151.9v4.4M239.3 165v4.4M239.3 178.2v4.4M239.3 182.5v4.4M240.8 160.6v4.4M240.8 173.8v4.4M242.4 125.6v4.4M242.4 129.9v4.4M242.4 160.6v4.4M242.4 200.1v4.4M243.9 147.5v4.4M243.9 182.5v4.4M243.9 186.9v4.4M243.9 191.3v4.4M245.4 33.5v4.4M245.4 68.6v4.4M245.4 86.1v4.4M245.4 173.8v4.4M246.9 182.5v4.4M246.9 200.1v4.4M248.4 134.3v4.4M248.4 160.6v4.4M248.4 195.7v4.4M249.9 134.3v4.4M249.9 151.9v4.4M249.9 165v4.4M249.9 191.3v4.4M251.4 165v4.4M251.4 204.5v4.4M253 178.2v4.4M253 191.3v4.4M253 195.7v4.4M254.5 182.5v4.4M257.4 222v4.4M257.4 283.4v4.4M259.1 226.4v4.4M259.1 248.3v4.4M259.1 257.1v4.4M259.1 279v4.4M260.6 213.2v4.4M260.6 270.2v4.4M260.6 274.6v4.4" stroke="#e9bc90" stroke-width="1.55" fill="none"/>
<path d="M174.4 73v4.4M183.4 94.9v4.4M231.8 129.9v4.4M231.8 173.8v4.4M233.3 81.7v4.4M233.3 147.5v4.4M233.3 195.7v4.4M234.8 112.4v4.4M234.8 134.3v4.4M234.8 165v4.4M234.8 169.4v4.4M234.8 173.8v4.4M234.8 178.2v4.4M234.8 182.5v4.4M234.8 191.3v4.4M234.8 200.1v4.4M237.8 129.9v4.4M237.8 178.2v4.4M239.3 186.9v4.4M240.8 147.5v4.4M240.8 156.2v4.4M242.4 156.2v4.4M242.4 165v4.4M242.4 178.2v4.4M242.4 182.5v4.4M242.4 191.3v4.4M243.9 200.1v4.4M245.4 129.9v4.4M245.4 143.1v4.4M245.4 147.5v4.4M245.4 160.6v4.4M248.4 173.8v4.4M248.4 186.9v4.4M248.4 191.3v4.4M248.4 204.5v4.4M249.9 156.2v4.4M249.9 186.9v4.4M253 147.5v4.4M253 151.9v4.4M253 160.6v4.4M253 165v4.4M253 186.9v4.4M253 204.5v4.4M257.4 208.8v4.4M257.4 217.6v4.4M257.4 243.9v4.4M257.4 279v4.4M257.4 292.1v4.4M259.1 217.6v4.4M259.1 239.5v4.4M259.1 274.6v4.4M259.1 292.1v4.4M260.6 222v4.4M260.6 230.8v4.4M260.6 265.8v4.4M260.6 287.7v4.4" stroke="#e8b685" stroke-width="1.55" fill="none"/>
<path d="M181.9 55.4v4.4M233.3 156.2v4.4M233.3 160.6v4.4M233.3 173.8v4.4M233.3 200.1v4.4M234.8 151.9v4.4M234.8 186.9v4.4M234.8 204.5v4.4M236.3 204.5v4.4M240.8 165v4.4M242.4 186.9v4.4M242.4 204.5v4.4M243.9 134.3v4.4M243.9 160.6v4.4M245.4 121.2v4.4M245.4 125.6v4.4M245.4 134.3v4.4M245.4 156.2v4.4M245.4 178.2v4.4M245.4 191.3v4.4M245.4 200.1v4.4M246.9 134.3v4.4M249.9 169.4v4.4M249.9 182.5v4.4M253 121.2v4.4M253 173.8v4.4M253 200.1v4.4M257.4 226.4v4.4M257.4 230.8v4.4M257.4 265.8v4.4M257.4 270.2v4.4M259.1 213.2v4.4M259.1 230.8v4.4M259.1 243.9v4.4M259.1 252.7v4.4M259.1 287.7v4.4M260.6 226.4v4.4M260.6 239.5v4.4M260.6 243.9v4.4M260.6 248.3v4.4M260.6 283.4v4.4" stroke="#e7b07a" stroke-width="1.55" fill="none"/>
<path d="M236.3 186.9v4.4M257.4 252.7v4.4M257.4 257.1v4.4M257.4 261.4v4.4M259.1 235.1v4.4M259.1 270.2v4.4M260.6 217.6v4.4M260.6 235.1v4.4M260.6 252.7v4.4M260.6 261.4v4.4M260.6 279v4.4M260.6 292.1v4.4" stroke="#e6aa6f" stroke-width="1.55" fill="none"/>
<path d="M257.4 239.5v4.4M257.4 287.7v4.4M259.1 261.4v4.4M260.6 208.8v4.4M260.6 257.1v4.4" stroke="#e5a464" stroke-width="1.55" fill="none"/>
<text x="170.8" y="16.3" font-size="11.3" textLength="6.6" lengthAdjust="spacingAndGlyphs">B</text>
<text x="217.4" y="17.4" font-size="8.8" text-anchor="middle" textLength="25.2" lengthAdjust="spacingAndGlyphs">Cluster</text>
<line x1="172.8" y1="22.5" x2="262.5" y2="22.5" stroke="#3a3a3a" stroke-width="1.1"/>
<line x1="172.8" y1="31.4" x2="228.8" y2="31.4" stroke="#3a3a3a" stroke-width="1.1"/>
<line x1="231.2" y1="31.4" x2="255.6" y2="31.4" stroke="#3a3a3a" stroke-width="1.1"/>
<text x="201.7" y="29.4" font-size="5.4" text-anchor="middle" textLength="3" lengthAdjust="spacingAndGlyphs" fill="#d5786c" stroke="#d5786c" stroke-width="0.2">0</text>
<text x="243.8" y="29.4" font-size="5.4" text-anchor="middle" textLength="3" lengthAdjust="spacingAndGlyphs" fill="#5f9f4a" stroke="#5f9f4a" stroke-width="0.2">1</text>
<text x="258.4" y="29.4" font-size="5.4" text-anchor="middle" textLength="3" lengthAdjust="spacingAndGlyphs" fill="#7b93c8" stroke="#7b93c8" stroke-width="0.2">2</text>
<rect x="264.2" y="33.5" width="3.1" height="90" rx="1.5" fill="#d5786c"/>
<rect x="264.2" y="121.2" width="3.1" height="87.6" fill="#5f9f4a"/>
<rect x="264.2" y="208.8" width="3.1" height="88.6" rx="1.5" fill="#7b93c8"/>
<rect x="264.2" y="204" width="3.1" height="4.8" fill="#5f9f4a"/>
<text x="270" y="37.2" transform="rotate(0.08 270 37.2)" font-size="4.9" fill="#3a3a3a" textLength="11.3" lengthAdjust="spacingAndGlyphs">Cited2</text>
<text x="270" y="41.6" transform="rotate(0.08 270 41.6)" font-size="4.9" fill="#3a3a3a" textLength="8.7" lengthAdjust="spacingAndGlyphs">Itga4</text>
<text x="270" y="46" transform="rotate(0.08 270 46)" font-size="4.9" fill="#3a3a3a" textLength="11.3" lengthAdjust="spacingAndGlyphs">Cited2</text>
<text x="270" y="50.3" transform="rotate(0.08 270 50.3)" font-size="4.9" fill="#3a3a3a" textLength="9.2" lengthAdjust="spacingAndGlyphs">Sp14</text>
<text x="270" y="54.7" transform="rotate(0.08 270 54.7)" font-size="4.9" fill="#3a3a3a" textLength="8.7" lengthAdjust="spacingAndGlyphs">Aass</text>
<text x="270" y="59.1" transform="rotate(0.08 270 59.1)" font-size="4.9" fill="#3a3a3a" textLength="9.2" lengthAdjust="spacingAndGlyphs">Sub1</text>
<text x="270" y="63.5" transform="rotate(0.08 270 63.5)" font-size="4.9" fill="#3a3a3a" textLength="9.4" lengthAdjust="spacingAndGlyphs">Rhob</text>
<text x="270" y="67.9" transform="rotate(0.08 270 67.9)" font-size="4.9" fill="#3a3a3a" textLength="12.2" lengthAdjust="spacingAndGlyphs">Phlda1</text>
<text x="270" y="72.3" transform="rotate(0.08 270 72.3)" font-size="4.9" fill="#3a3a3a" textLength="14.6" lengthAdjust="spacingAndGlyphs">Adam10</text>
<text x="270" y="76.6" transform="rotate(0.08 270 76.6)" font-size="4.9" fill="#3a3a3a" textLength="5.7" lengthAdjust="spacingAndGlyphs">Lbr</text>
<text x="270" y="81" transform="rotate(0.08 270 81)" font-size="4.9" fill="#3a3a3a" textLength="15.5" lengthAdjust="spacingAndGlyphs">Dync1h1</text>
<text x="270" y="85.4" transform="rotate(0.08 270 85.4)" font-size="4.9" fill="#3a3a3a" textLength="8.9" lengthAdjust="spacingAndGlyphs">Pim3</text>
<text x="270" y="89.8" transform="rotate(0.08 270 89.8)" font-size="4.9" fill="#3a3a3a" textLength="7.2" lengthAdjust="spacingAndGlyphs">Myc</text>
<text x="270" y="94.2" transform="rotate(0.08 270 94.2)" font-size="4.9" fill="#3a3a3a" textLength="17.4" lengthAdjust="spacingAndGlyphs">Hist1h2bc</text>
<text x="270" y="98.6" transform="rotate(0.08 270 98.6)" font-size="4.9" fill="#3a3a3a" textLength="5.7" lengthAdjust="spacingAndGlyphs">Irf4</text>
<text x="270" y="102.9" transform="rotate(0.08 270 102.9)" font-size="4.9" fill="#3a3a3a" textLength="8.5" lengthAdjust="spacingAndGlyphs">Igfc3</text>
<text x="270" y="107.3" transform="rotate(0.08 270 107.3)" font-size="4.9" fill="#3a3a3a" textLength="10" lengthAdjust="spacingAndGlyphs">Pold1</text>
<text x="270" y="111.7" transform="rotate(0.08 270 111.7)" font-size="4.9" fill="#3a3a3a" textLength="10.5" lengthAdjust="spacingAndGlyphs">Serp1</text>
<text x="270" y="116.1" transform="rotate(0.08 270 116.1)" font-size="4.9" fill="#3a3a3a" textLength="8.3" lengthAdjust="spacingAndGlyphs">Ctn3</text>
<text x="270" y="120.5" transform="rotate(0.08 270 120.5)" font-size="4.9" fill="#3a3a3a" textLength="12.4" lengthAdjust="spacingAndGlyphs">Pgam2</text>
<text x="270" y="124.9" transform="rotate(0.08 270 124.9)" font-size="4.9" fill="#3a3a3a" textLength="10.7" lengthAdjust="spacingAndGlyphs">Top2a</text>
<text x="270" y="129.2" transform="rotate(0.08 270 129.2)" font-size="4.9" fill="#3a3a3a" textLength="17.7" lengthAdjust="spacingAndGlyphs">Hist1h2ao</text>
<text x="270" y="133.6" transform="rotate(0.08 270 133.6)" font-size="4.9" fill="#3a3a3a" textLength="11" lengthAdjust="spacingAndGlyphs">Tubb5</text>
<text x="270" y="138" transform="rotate(0.08 270 138)" font-size="4.9" fill="#3a3a3a" textLength="8.1" lengthAdjust="spacingAndGlyphs">Prc1</text>
<text x="270" y="142.4" transform="rotate(0.08 270 142.4)" font-size="4.9" fill="#3a3a3a" textLength="13.5" lengthAdjust="spacingAndGlyphs">Nusap1</text>
<text x="270" y="146.8" transform="rotate(0.08 270 146.8)" font-size="4.9" fill="#3a3a3a" textLength="27.9" lengthAdjust="spacingAndGlyphs">2610417K13Rik</text>
<text x="270" y="151.2" transform="rotate(0.08 270 151.2)" font-size="4.9" fill="#3a3a3a" textLength="12.6" lengthAdjust="spacingAndGlyphs">Hmgb2</text>
<text x="270" y="155.5" transform="rotate(0.08 270 155.5)" font-size="4.9" fill="#3a3a3a" textLength="10.5" lengthAdjust="spacingAndGlyphs">Cenpf</text>
<text x="270" y="159.9" transform="rotate(0.08 270 159.9)" font-size="4.9" fill="#3a3a3a" textLength="11.3" lengthAdjust="spacingAndGlyphs">Ccna2</text>
<text x="270" y="164.3" transform="rotate(0.08 270 164.3)" font-size="4.9" fill="#3a3a3a" textLength="8.6" lengthAdjust="spacingAndGlyphs">Kif11</text>
<text x="270" y="168.7" transform="rotate(0.08 270 168.7)" font-size="4.9" fill="#3a3a3a" textLength="11.3" lengthAdjust="spacingAndGlyphs">Ube2c</text>
<text x="270" y="173.1" transform="rotate(0.08 270 173.1)" font-size="4.9" fill="#3a3a3a" textLength="11.6" lengthAdjust="spacingAndGlyphs">Cenpe</text>
<text x="270" y="177.5" transform="rotate(0.08 270 177.5)" font-size="4.9" fill="#3a3a3a" textLength="10.2" lengthAdjust="spacingAndGlyphs">H2afx</text>
<text x="270" y="181.8" transform="rotate(0.08 270 181.8)" font-size="4.9" fill="#3a3a3a" textLength="8.7" lengthAdjust="spacingAndGlyphs">Tpx2</text>
<text x="270" y="186.2" transform="rotate(0.08 270 186.2)" font-size="4.9" fill="#3a3a3a" textLength="9.2" lengthAdjust="spacingAndGlyphs">Cdk1</text>
<text x="270" y="190.6" transform="rotate(0.08 270 190.6)" font-size="4.9" fill="#3a3a3a" textLength="10.7" lengthAdjust="spacingAndGlyphs">Hmmr</text>
<text x="270" y="195" transform="rotate(0.08 270 195)" font-size="4.9" fill="#3a3a3a" textLength="6.8" lengthAdjust="spacingAndGlyphs">Pbk</text>
<text x="270" y="199.4" transform="rotate(0.08 270 199.4)" font-size="4.9" fill="#3a3a3a" textLength="11.3" lengthAdjust="spacingAndGlyphs">Ccnb1</text>
<text x="270" y="203.8" transform="rotate(0.08 270 203.8)" font-size="4.9" fill="#3a3a3a" textLength="9.6" lengthAdjust="spacingAndGlyphs">Rrm2</text>
<text x="270" y="208.1" transform="rotate(0.08 270 208.1)" font-size="4.9" fill="#3a3a3a" textLength="15.5" lengthAdjust="spacingAndGlyphs">Hist1h1e</text>
<text x="270" y="212.5" transform="rotate(0.08 270 212.5)" font-size="4.9" fill="#3a3a3a" textLength="13.9" lengthAdjust="spacingAndGlyphs">Tmsb4x</text>
<text x="270" y="216.9" transform="rotate(0.08 270 216.9)" font-size="4.9" fill="#3a3a3a" textLength="9.4" lengthAdjust="spacingAndGlyphs">C1qa</text>
<text x="270" y="221.3" transform="rotate(0.08 270 221.3)" font-size="4.9" fill="#3a3a3a" textLength="9.2" lengthAdjust="spacingAndGlyphs">Apoe</text>
<text x="270" y="225.7" transform="rotate(0.08 270 225.7)" font-size="4.9" fill="#3a3a3a" textLength="12.6" lengthAdjust="spacingAndGlyphs">Marcks</text>
<text x="270" y="230.1" transform="rotate(0.08 270 230.1)" font-size="4.9" fill="#3a3a3a" textLength="9.2" lengthAdjust="spacingAndGlyphs">C1qc</text>
<text x="270" y="234.4" transform="rotate(0.08 270 234.4)" font-size="4.9" fill="#3a3a3a" textLength="8.1" lengthAdjust="spacingAndGlyphs">Lyz2</text>
<text x="270" y="238.8" transform="rotate(0.08 270 238.8)" font-size="4.9" fill="#3a3a3a" textLength="9.4" lengthAdjust="spacingAndGlyphs">C1qb</text>
<text x="270" y="243.2" transform="rotate(0.08 270 243.2)" font-size="4.9" fill="#3a3a3a" textLength="12.2" lengthAdjust="spacingAndGlyphs">Fcer1g</text>
<text x="270" y="247.6" transform="rotate(0.08 270 247.6)" font-size="4.9" fill="#3a3a3a" textLength="12" lengthAdjust="spacingAndGlyphs">Mpeg1</text>
<text x="270" y="252" transform="rotate(0.08 270 252)" font-size="4.9" fill="#3a3a3a" textLength="12.2" lengthAdjust="spacingAndGlyphs">Vcam1</text>
<text x="270" y="256.4" transform="rotate(0.08 270 256.4)" font-size="4.9" fill="#3a3a3a" textLength="9.2" lengthAdjust="spacingAndGlyphs">Sirpa</text>
<text x="270" y="260.7" transform="rotate(0.08 270 260.7)" font-size="4.9" fill="#3a3a3a" textLength="5.4" lengthAdjust="spacingAndGlyphs">Axl</text>
<text x="270" y="265.1" transform="rotate(0.08 270 265.1)" font-size="4.9" fill="#3a3a3a" textLength="13.3" lengthAdjust="spacingAndGlyphs">Sdc4a1</text>
<text x="270" y="269.5" transform="rotate(0.08 270 269.5)" font-size="4.9" fill="#3a3a3a" textLength="13.5" lengthAdjust="spacingAndGlyphs">S100a9</text>
<text x="270" y="273.9" transform="rotate(0.08 270 273.9)" font-size="4.9" fill="#3a3a3a" textLength="13.3" lengthAdjust="spacingAndGlyphs">H2-Ab1</text>
<text x="270" y="278.3" transform="rotate(0.08 270 278.3)" font-size="4.9" fill="#3a3a3a" textLength="11.6" lengthAdjust="spacingAndGlyphs">Lgals3</text>
<text x="270" y="282.7" transform="rotate(0.08 270 282.7)" font-size="4.9" fill="#3a3a3a" textLength="5.7" lengthAdjust="spacingAndGlyphs">Irf7</text>
<text x="270" y="287" transform="rotate(0.08 270 287)" font-size="4.9" fill="#3a3a3a" textLength="7.2" lengthAdjust="spacingAndGlyphs">Cd9</text>
<text x="270" y="291.4" transform="rotate(0.08 270 291.4)" font-size="4.9" fill="#3a3a3a" textLength="11.1" lengthAdjust="spacingAndGlyphs">H2-Aa</text>
<text x="270" y="295.8" transform="rotate(0.08 270 295.8)" font-size="4.9" fill="#3a3a3a" textLength="13.3" lengthAdjust="spacingAndGlyphs">H2-Eb1</text>
<text x="315.6" y="16.3" font-size="11.3" textLength="7.4" lengthAdjust="spacingAndGlyphs">C</text>
<text x="420.7" y="31.6" font-size="8.6" text-anchor="middle" textLength="73.9" lengthAdjust="spacingAndGlyphs">Biological processes</text>
<line x1="350" y1="35" x2="485.4" y2="35" stroke="#3a3a3a" stroke-width="1.1"/>
<rect x="439.1" y="40.3" width="34.5" height="14.1" fill="#d4837a" stroke="#fff" stroke-width="0.4"/>
<line x1="434.6" y1="47.3" x2="437.2" y2="47.3" stroke="#231f20" stroke-width="0.9"/>
<text x="430.8" y="49.3" font-size="6" text-anchor="end" textLength="22.1" lengthAdjust="spacingAndGlyphs" fill="#2a2a2a" stroke="#2a2a2a" stroke-width="0.2">Cell cycle</text>
<rect x="439.1" y="56" width="30.7" height="14.1" fill="#d4837a" stroke="#fff" stroke-width="0.4"/>
<line x1="434.6" y1="63.1" x2="437.2" y2="63.1" stroke="#231f20" stroke-width="0.9"/>
<text x="430.8" y="65.1" font-size="6" text-anchor="end" textLength="27.5" lengthAdjust="spacingAndGlyphs" fill="#2a2a2a" stroke="#2a2a2a" stroke-width="0.2">Cell division</text>
<rect x="439.1" y="71.7" width="7.6" height="14.1" fill="#d4837a" stroke="#fff" stroke-width="0.4"/>
<line x1="434.6" y1="78.8" x2="437.2" y2="78.8" stroke="#231f20" stroke-width="0.9"/>
<text x="430.8" y="80.8" font-size="6" text-anchor="end" textLength="35.6" lengthAdjust="spacingAndGlyphs" fill="#2a2a2a" stroke="#2a2a2a" stroke-width="0.2">DNA replication</text>
<rect x="439.1" y="87.5" width="2.5" height="14.1" fill="#d4837a" stroke="#fff" stroke-width="0.4"/>
<line x1="434.6" y1="94.5" x2="437.2" y2="94.5" stroke="#231f20" stroke-width="0.9"/>
<text x="430.8" y="96.5" font-size="6" text-anchor="end" textLength="37.3" lengthAdjust="spacingAndGlyphs" fill="#2a2a2a" stroke="#2a2a2a" stroke-width="0.2">Cell proliferation</text>
<rect x="439.1" y="103.2" width="2" height="14.1" fill="#d4837a" stroke="#fff" stroke-width="0.4"/>
<line x1="434.6" y1="110.2" x2="437.2" y2="110.2" stroke="#231f20" stroke-width="0.9"/>
<text x="430.8" y="107.9" font-size="6" text-anchor="end" textLength="40.7" lengthAdjust="spacingAndGlyphs" fill="#2a2a2a" stroke="#2a2a2a" stroke-width="0.2">G2/M transition of</text>
<text x="430.8" y="114.6" font-size="6" text-anchor="end" textLength="37.3" lengthAdjust="spacingAndGlyphs" fill="#2a2a2a" stroke="#2a2a2a" stroke-width="0.2">mitotic cell cycle</text>
<rect x="439.1" y="118.9" width="44.6" height="14.1" fill="#69a457" stroke="#fff" stroke-width="0.4"/>
<line x1="434.6" y1="126" x2="437.2" y2="126" stroke="#231f20" stroke-width="0.9"/>
<text x="430.8" y="128" font-size="6" text-anchor="end" textLength="22.1" lengthAdjust="spacingAndGlyphs" fill="#2a2a2a" stroke="#2a2a2a" stroke-width="0.2">Cell cycle</text>
<rect x="439.1" y="134.6" width="40.8" height="14.1" fill="#69a457" stroke="#fff" stroke-width="0.4"/>
<line x1="434.6" y1="141.7" x2="437.2" y2="141.7" stroke="#231f20" stroke-width="0.9"/>
<text x="430.8" y="143.7" font-size="6" text-anchor="end" textLength="27.5" lengthAdjust="spacingAndGlyphs" fill="#2a2a2a" stroke="#2a2a2a" stroke-width="0.2">Cell division</text>
<rect x="439.1" y="150.3" width="12.9" height="14.1" fill="#69a457" stroke="#fff" stroke-width="0.4"/>
<line x1="434.6" y1="157.4" x2="437.2" y2="157.4" stroke="#231f20" stroke-width="0.9"/>
<text x="430.8" y="159.4" font-size="6" text-anchor="end" textLength="35.6" lengthAdjust="spacingAndGlyphs" fill="#2a2a2a" stroke="#2a2a2a" stroke-width="0.2">DNA replication</text>
<rect x="439.1" y="166.1" width="3.3" height="14.1" fill="#69a457" stroke="#fff" stroke-width="0.4"/>
<line x1="434.6" y1="173.1" x2="437.2" y2="173.1" stroke="#231f20" stroke-width="0.9"/>
<text x="430.8" y="175.1" font-size="6" text-anchor="end" textLength="37.3" lengthAdjust="spacingAndGlyphs" fill="#2a2a2a" stroke="#2a2a2a" stroke-width="0.2">Cell proliferation</text>
<rect x="439.1" y="181.8" width="2" height="14.1" fill="#69a457" stroke="#fff" stroke-width="0.4"/>
<line x1="434.6" y1="188.8" x2="437.2" y2="188.8" stroke="#231f20" stroke-width="0.9"/>
<text x="430.8" y="186.5" font-size="6" text-anchor="end" textLength="40.7" lengthAdjust="spacingAndGlyphs" fill="#2a2a2a" stroke="#2a2a2a" stroke-width="0.2">G2/M transition of</text>
<text x="430.8" y="193.2" font-size="6" text-anchor="end" textLength="37.3" lengthAdjust="spacingAndGlyphs" fill="#2a2a2a" stroke="#2a2a2a" stroke-width="0.2">mitotic cell cycle</text>
<rect x="439.1" y="197.5" width="6.8" height="14.1" fill="#8499cb" stroke="#fff" stroke-width="0.4"/>
<line x1="434.6" y1="204.6" x2="437.2" y2="204.6" stroke="#231f20" stroke-width="0.9"/>
<text x="430.8" y="206.6" font-size="6" text-anchor="end" textLength="55.9" lengthAdjust="spacingAndGlyphs" fill="#2a2a2a" stroke="#2a2a2a" stroke-width="0.2">Immune system process</text>
<rect x="439.1" y="213.2" width="3.8" height="14.1" fill="#8499cb" stroke="#fff" stroke-width="0.4"/>
<line x1="434.6" y1="220.3" x2="437.2" y2="220.3" stroke="#231f20" stroke-width="0.9"/>
<text x="430.8" y="222.3" font-size="6" text-anchor="end" textLength="56.8" lengthAdjust="spacingAndGlyphs" fill="#2a2a2a" stroke="#2a2a2a" stroke-width="0.2">Innate immune response</text>
<rect x="439.1" y="228.9" width="3.8" height="14.1" fill="#8499cb" stroke="#fff" stroke-width="0.4"/>
<line x1="434.6" y1="236" x2="437.2" y2="236" stroke="#231f20" stroke-width="0.9"/>
<text x="430.8" y="233.7" font-size="6" text-anchor="end" textLength="83.8" lengthAdjust="spacingAndGlyphs" fill="#2a2a2a" stroke="#2a2a2a" stroke-width="0.2">Antigen processing and presentation</text>
<text x="430.8" y="240.4" font-size="6" text-anchor="end" textLength="106.4" lengthAdjust="spacingAndGlyphs" fill="#2a2a2a" stroke="#2a2a2a" stroke-width="0.2">of exogenous peptide antigen via MHC class II</text>
<rect x="439.1" y="244.7" width="2.5" height="14.1" fill="#8499cb" stroke="#fff" stroke-width="0.4"/>
<line x1="434.6" y1="251.7" x2="437.2" y2="251.7" stroke="#231f20" stroke-width="0.9"/>
<text x="430.8" y="253.7" font-size="6" text-anchor="end" textLength="83.8" lengthAdjust="spacingAndGlyphs" fill="#2a2a2a" stroke="#2a2a2a" stroke-width="0.2">Antigen processing and presentation</text>
<rect x="439.1" y="260.4" width="2.5" height="14.1" fill="#8499cb" stroke="#fff" stroke-width="0.4"/>
<line x1="434.6" y1="267.4" x2="437.2" y2="267.4" stroke="#231f20" stroke-width="0.9"/>
<text x="430.8" y="269.4" font-size="6" text-anchor="end" textLength="71.1" lengthAdjust="spacingAndGlyphs" fill="#2a2a2a" stroke="#2a2a2a" stroke-width="0.2">Response to interferon&#8722;gamma</text>
<line x1="437.2" y1="37.8" x2="437.2" y2="277.6" stroke="#231f20" stroke-width="1.2"/>
<line x1="436.6" y1="277" x2="486.5" y2="277" stroke="#231f20" stroke-width="1.2"/>
<line x1="439.2" y1="277" x2="439.2" y2="279.8" stroke="#231f20" stroke-width="0.9"/>
<text x="439.2" y="289" font-size="6.2" text-anchor="middle" textLength="3.4" lengthAdjust="spacingAndGlyphs">0</text>
<line x1="451.9" y1="277" x2="451.9" y2="279.8" stroke="#231f20" stroke-width="0.9"/>
<text x="451.9" y="289" font-size="6.2" text-anchor="middle" textLength="7" lengthAdjust="spacingAndGlyphs">20</text>
<line x1="464.5" y1="277" x2="464.5" y2="279.8" stroke="#231f20" stroke-width="0.9"/>
<text x="464.5" y="289" font-size="6.2" text-anchor="middle" textLength="7" lengthAdjust="spacingAndGlyphs">40</text>
<line x1="477.2" y1="277" x2="477.2" y2="279.8" stroke="#231f20" stroke-width="0.9"/>
<text x="477.2" y="289" font-size="6.2" text-anchor="middle" textLength="7" lengthAdjust="spacingAndGlyphs">60</text>
<text x="435.4" y="301.2" font-size="8.3">P value, -log<tspan font-size="6" dy="2">10</tspan></text>
<text x="457.7" y="249.5" font-size="5.9" textLength="19.5" lengthAdjust="spacingAndGlyphs">Cluster</text>
<rect x="457.7" y="252" width="6.5" height="6" fill="#d4837a" stroke="#fff" stroke-width="0.3"/>
<text x="467" y="256.7" font-size="5.6" textLength="3" lengthAdjust="spacingAndGlyphs">0</text>
<rect x="457.7" y="258.1" width="6.5" height="6" fill="#69a457" stroke="#fff" stroke-width="0.3"/>
<text x="467" y="262.8" font-size="5.6" textLength="3" lengthAdjust="spacingAndGlyphs">1</text>
<rect x="457.7" y="264.3" width="6.5" height="6" fill="#8499cb" stroke="#fff" stroke-width="0.3"/>
<text x="467" y="269" font-size="5.6" textLength="3" lengthAdjust="spacingAndGlyphs">2</text>
<text x="7.4" y="337.2" font-size="11.3" textLength="7.5" lengthAdjust="spacingAndGlyphs">D</text>
<line x1="40.9" y1="334.5" x2="40.9" y2="406.2" stroke="#4a4a4a" stroke-width="1.7"/>
<line x1="40.1" y1="405.3" x2="466.2" y2="405.3" stroke="#2a2a2a" stroke-width="1.5"/>
<line x1="37.6" y1="401.9" x2="41.2" y2="401.9" stroke="#231f20" stroke-width="0.9"/>
<text x="34.3" y="404.4" font-size="7.2" text-anchor="end" textLength="3" lengthAdjust="spacingAndGlyphs">0</text>
<line x1="37.6" y1="388.9" x2="41.2" y2="388.9" stroke="#231f20" stroke-width="0.9"/>
<text x="34.3" y="391.4" font-size="7.2" text-anchor="end" textLength="3" lengthAdjust="spacingAndGlyphs">5</text>
<line x1="37.6" y1="375.9" x2="41.2" y2="375.9" stroke="#231f20" stroke-width="0.9"/>
<text x="34.3" y="378.4" font-size="7.2" text-anchor="end" textLength="6" lengthAdjust="spacingAndGlyphs">10</text>
<line x1="37.6" y1="362.9" x2="41.2" y2="362.9" stroke="#231f20" stroke-width="0.9"/>
<text x="34.3" y="365.4" font-size="7.2" text-anchor="end" textLength="6" lengthAdjust="spacingAndGlyphs">15</text>
<line x1="37.6" y1="349.9" x2="41.2" y2="349.9" stroke="#231f20" stroke-width="0.9"/>
<text x="34.3" y="352.4" font-size="7.2" text-anchor="end" textLength="6" lengthAdjust="spacingAndGlyphs">20</text>
<line x1="37.6" y1="336.9" x2="41.2" y2="336.9" stroke="#231f20" stroke-width="0.9"/>
<text x="34.3" y="339.4" font-size="7.2" text-anchor="end" textLength="6" lengthAdjust="spacingAndGlyphs">25</text>
<text transform="translate(21.3 369.6) rotate(-90)" font-size="8.6" text-anchor="middle" textLength="13.5" lengthAdjust="spacingAndGlyphs">UMI</text>
<text x="135.3" y="345.8" font-size="7.2" text-anchor="middle" textLength="33" lengthAdjust="spacingAndGlyphs">MARS-seq</text>
<circle cx="219.2" cy="343" r="2.6" fill="#e7a636"/>
<text x="224.8" y="344.9" font-size="5.5" textLength="21.5" lengthAdjust="spacingAndGlyphs">Dormant</text>
<circle cx="259.2" cy="343" r="2.6" fill="#858585"/>
<text x="264.5" y="344.9" font-size="5.5" textLength="28" lengthAdjust="spacingAndGlyphs">Reactivated</text>
<line x1="65.7" y1="405" x2="65.7" y2="408" stroke="#231f20" stroke-width="0.8"/>
<text x="65.7" y="416.3" font-size="6.2" text-anchor="middle">Axl</text>
<rect x="51.1" y="399.3" width="14" height="2.6" fill="#f7e6c4" stroke="#262626" stroke-width="0.6"/>
<line x1="66.1" y1="401.8" x2="80.1" y2="401.8" stroke="#262626" stroke-width="0.8"/>
<circle cx="58.1" cy="362.9" r="2.5" fill="#e7a636" stroke="#262626" stroke-width="0.75"/>
<circle cx="58.1" cy="375.9" r="2.5" fill="#e7a636" stroke="#262626" stroke-width="0.75"/>
<circle cx="60.6" cy="375.9" r="2.5" fill="#e7a636" stroke="#262626" stroke-width="0.75"/>
<circle cx="58.1" cy="378.5" r="2.5" fill="#e7a636" stroke="#262626" stroke-width="0.75"/>
<circle cx="58.1" cy="383.7" r="2.5" fill="#e7a636" stroke="#262626" stroke-width="0.75"/>
<circle cx="60.4" cy="383.7" r="2.5" fill="#e7a636" stroke="#262626" stroke-width="0.75"/>
<circle cx="57.9" cy="386.3" r="2.5" fill="#e7a636" stroke="#262626" stroke-width="0.75"/>
<circle cx="60.4" cy="386.3" r="2.5" fill="#e7a636" stroke="#262626" stroke-width="0.75"/>
<circle cx="58.2" cy="388.9" r="2.5" fill="#e7a636" stroke="#262626" stroke-width="0.75"/>
<circle cx="60.5" cy="388.9" r="2.5" fill="#e7a636" stroke="#262626" stroke-width="0.75"/>
<circle cx="55.6" cy="388.9" r="2.5" fill="#e7a636" stroke="#262626" stroke-width="0.75"/>
<circle cx="57" cy="388.9" r="2.5" fill="#e7a636" stroke="#262626" stroke-width="0.75"/>
<circle cx="58.3" cy="391.5" r="2.5" fill="#e7a636" stroke="#262626" stroke-width="0.75"/>
<circle cx="56" cy="391.5" r="2.5" fill="#e7a636" stroke="#262626" stroke-width="0.75"/>
<circle cx="56.3" cy="391.5" r="2.5" fill="#e7a636" stroke="#262626" stroke-width="0.75"/>
<circle cx="60.3" cy="391.5" r="2.5" fill="#e7a636" stroke="#262626" stroke-width="0.75"/>
<circle cx="58.2" cy="394.1" r="2.5" fill="#e7a636" stroke="#262626" stroke-width="0.75"/>
<circle cx="60.1" cy="394.1" r="2.5" fill="#e7a636" stroke="#262626" stroke-width="0.75"/>
<circle cx="55.6" cy="394.1" r="2.5" fill="#e7a636" stroke="#262626" stroke-width="0.75"/>
<circle cx="58" cy="394.1" r="2.5" fill="#e7a636" stroke="#262626" stroke-width="0.75"/>
<circle cx="56.5" cy="394.1" r="2.5" fill="#e7a636" stroke="#262626" stroke-width="0.75"/>
<circle cx="55.9" cy="394.1" r="2.5" fill="#e7a636" stroke="#262626" stroke-width="0.75"/>
<circle cx="58.1" cy="396.7" r="2.5" fill="#e7a636" stroke="#262626" stroke-width="0.75"/>
<circle cx="60.6" cy="396.7" r="2.5" fill="#e7a636" stroke="#262626" stroke-width="0.75"/>
<circle cx="55.9" cy="396.7" r="2.5" fill="#e7a636" stroke="#262626" stroke-width="0.75"/>
<circle cx="58.7" cy="396.7" r="2.5" fill="#e7a636" stroke="#262626" stroke-width="0.75"/>
<circle cx="58.8" cy="396.7" r="2.5" fill="#e7a636" stroke="#262626" stroke-width="0.75"/>
<circle cx="57.4" cy="396.7" r="2.5" fill="#e7a636" stroke="#262626" stroke-width="0.75"/>
<circle cx="60.6" cy="396.7" r="2.5" fill="#e7a636" stroke="#262626" stroke-width="0.75"/>
<circle cx="58.2" cy="399.3" r="2.5" fill="#e7a636" stroke="#262626" stroke-width="0.75"/>
<circle cx="60.2" cy="399.3" r="2.5" fill="#e7a636" stroke="#262626" stroke-width="0.75"/>
<circle cx="55.7" cy="399.3" r="2.5" fill="#e7a636" stroke="#262626" stroke-width="0.75"/>
<circle cx="56.9" cy="399.3" r="2.5" fill="#e7a636" stroke="#262626" stroke-width="0.75"/>
<circle cx="59.3" cy="399.3" r="2.5" fill="#e7a636" stroke="#262626" stroke-width="0.75"/>
<circle cx="59.6" cy="399.3" r="2.5" fill="#e7a636" stroke="#262626" stroke-width="0.75"/>
<circle cx="60.4" cy="399.3" r="2.5" fill="#e7a636" stroke="#262626" stroke-width="0.75"/>
<circle cx="55.6" cy="399.3" r="2.5" fill="#e7a636" stroke="#262626" stroke-width="0.75"/>
<circle cx="58.3" cy="401.9" r="2.5" fill="#e7a636" stroke="#262626" stroke-width="0.75"/>
<circle cx="55.8" cy="401.9" r="2.5" fill="#e7a636" stroke="#262626" stroke-width="0.75"/>
<circle cx="60.2" cy="401.9" r="2.5" fill="#e7a636" stroke="#262626" stroke-width="0.75"/>
<circle cx="56.2" cy="401.9" r="2.5" fill="#e7a636" stroke="#262626" stroke-width="0.75"/>
<circle cx="59.2" cy="401.9" r="2.5" fill="#e7a636" stroke="#262626" stroke-width="0.75"/>
<circle cx="56.1" cy="401.9" r="2.5" fill="#e7a636" stroke="#262626" stroke-width="0.75"/>
<circle cx="60.4" cy="401.9" r="2.5" fill="#e7a636" stroke="#262626" stroke-width="0.75"/>
<circle cx="56.2" cy="401.9" r="2.5" fill="#e7a636" stroke="#262626" stroke-width="0.75"/>
<circle cx="56" cy="401.9" r="2.5" fill="#e7a636" stroke="#262626" stroke-width="0.75"/>
<circle cx="73.3" cy="394.1" r="2.5" fill="#999999" stroke="#262626" stroke-width="0.75"/>
<circle cx="72.9" cy="396.7" r="2.5" fill="#999999" stroke="#262626" stroke-width="0.75"/>
<circle cx="73.3" cy="396.7" r="2.5" fill="#999999" stroke="#262626" stroke-width="0.75"/>
<circle cx="72.9" cy="399.3" r="2.5" fill="#999999" stroke="#262626" stroke-width="0.75"/>
<circle cx="73.8" cy="399.3" r="2.5" fill="#999999" stroke="#262626" stroke-width="0.75"/>
<circle cx="73.4" cy="399.3" r="2.5" fill="#999999" stroke="#262626" stroke-width="0.75"/>
<circle cx="72.6" cy="399.3" r="2.5" fill="#999999" stroke="#262626" stroke-width="0.75"/>
<circle cx="73" cy="401.9" r="2.5" fill="#999999" stroke="#262626" stroke-width="0.75"/>
<circle cx="75.1" cy="401.9" r="2.5" fill="#999999" stroke="#262626" stroke-width="0.75"/>
<circle cx="72.6" cy="401.9" r="2.5" fill="#999999" stroke="#262626" stroke-width="0.75"/>
<circle cx="71.9" cy="401.9" r="2.5" fill="#999999" stroke="#262626" stroke-width="0.75"/>
<circle cx="74.5" cy="401.9" r="2.5" fill="#999999" stroke="#262626" stroke-width="0.75"/>
<line x1="107.4" y1="405" x2="107.4" y2="408" stroke="#231f20" stroke-width="0.8"/>
<text x="107.4" y="416.3" font-size="6.2" text-anchor="middle">C1qb</text>
<rect x="92.8" y="398.5" width="14" height="3.4" fill="#f7e6c4" stroke="#262626" stroke-width="0.6"/>
<line x1="107.8" y1="401.8" x2="121.8" y2="401.8" stroke="#262626" stroke-width="0.8"/>
<circle cx="99.6" cy="347.3" r="2.5" fill="#e7a636" stroke="#262626" stroke-width="0.75"/>
<circle cx="100.1" cy="365.5" r="2.5" fill="#e7a636" stroke="#262626" stroke-width="0.75"/>
<circle cx="99.6" cy="368.1" r="2.5" fill="#e7a636" stroke="#262626" stroke-width="0.75"/>
<circle cx="99.7" cy="370.7" r="2.5" fill="#e7a636" stroke="#262626" stroke-width="0.75"/>
<circle cx="100" cy="373.3" r="2.5" fill="#e7a636" stroke="#262626" stroke-width="0.75"/>
<circle cx="102" cy="373.3" r="2.5" fill="#e7a636" stroke="#262626" stroke-width="0.75"/>
<circle cx="99.7" cy="375.9" r="2.5" fill="#e7a636" stroke="#262626" stroke-width="0.75"/>
<circle cx="101.8" cy="375.9" r="2.5" fill="#e7a636" stroke="#262626" stroke-width="0.75"/>
<circle cx="99.6" cy="378.5" r="2.5" fill="#e7a636" stroke="#262626" stroke-width="0.75"/>
<circle cx="102.1" cy="378.5" r="2.5" fill="#e7a636" stroke="#262626" stroke-width="0.75"/>
<circle cx="98.7" cy="378.5" r="2.5" fill="#e7a636" stroke="#262626" stroke-width="0.75"/>
<circle cx="99.7" cy="381.1" r="2.5" fill="#e7a636" stroke="#262626" stroke-width="0.75"/>
<circle cx="102" cy="381.1" r="2.5" fill="#e7a636" stroke="#262626" stroke-width="0.75"/>
<circle cx="97.8" cy="381.1" r="2.5" fill="#e7a636" stroke="#262626" stroke-width="0.75"/>
<circle cx="99.8" cy="383.7" r="2.5" fill="#e7a636" stroke="#262626" stroke-width="0.75"/>
<circle cx="102.1" cy="383.7" r="2.5" fill="#e7a636" stroke="#262626" stroke-width="0.75"/>
<circle cx="97.8" cy="383.7" r="2.5" fill="#e7a636" stroke="#262626" stroke-width="0.75"/>
<circle cx="98.2" cy="383.7" r="2.5" fill="#e7a636" stroke="#262626" stroke-width="0.75"/>
<circle cx="100.1" cy="386.3" r="2.5" fill="#e7a636" stroke="#262626" stroke-width="0.75"/>
<circle cx="97.8" cy="386.3" r="2.5" fill="#e7a636" stroke="#262626" stroke-width="0.75"/>
<circle cx="98.5" cy="386.3" r="2.5" fill="#e7a636" stroke="#262626" stroke-width="0.75"/>
<circle cx="101.2" cy="386.3" r="2.5" fill="#e7a636" stroke="#262626" stroke-width="0.75"/>
<circle cx="98.7" cy="386.3" r="2.5" fill="#e7a636" stroke="#262626" stroke-width="0.75"/>
<circle cx="100" cy="388.9" r="2.5" fill="#e7a636" stroke="#262626" stroke-width="0.75"/>
<circle cx="97.6" cy="388.9" r="2.5" fill="#e7a636" stroke="#262626" stroke-width="0.75"/>
<circle cx="99.2" cy="388.9" r="2.5" fill="#e7a636" stroke="#262626" stroke-width="0.75"/>
<circle cx="98" cy="388.9" r="2.5" fill="#e7a636" stroke="#262626" stroke-width="0.75"/>
<circle cx="98.7" cy="388.9" r="2.5" fill="#e7a636" stroke="#262626" stroke-width="0.75"/>
<circle cx="99.7" cy="391.5" r="2.5" fill="#e7a636" stroke="#262626" stroke-width="0.75"/>
<circle cx="102.3" cy="391.5" r="2.5" fill="#e7a636" stroke="#262626" stroke-width="0.75"/>
<circle cx="97.6" cy="391.5" r="2.5" fill="#e7a636" stroke="#262626" stroke-width="0.75"/>
<circle cx="98.7" cy="391.5" r="2.5" fill="#e7a636" stroke="#262626" stroke-width="0.75"/>
<circle cx="100.6" cy="391.5" r="2.5" fill="#e7a636" stroke="#262626" stroke-width="0.75"/>
<circle cx="99.7" cy="394.1" r="2.5" fill="#e7a636" stroke="#262626" stroke-width="0.75"/>
<circle cx="102.1" cy="394.1" r="2.5" fill="#e7a636" stroke="#262626" stroke-width="0.75"/>
<circle cx="97.8" cy="394.1" r="2.5" fill="#e7a636" stroke="#262626" stroke-width="0.75"/>
<circle cx="100.2" cy="394.1" r="2.5" fill="#e7a636" stroke="#262626" stroke-width="0.75"/>
<circle cx="101.6" cy="394.1" r="2.5" fill="#e7a636" stroke="#262626" stroke-width="0.75"/>
<circle cx="99.5" cy="396.7" r="2.5" fill="#e7a636" stroke="#262626" stroke-width="0.75"/>
<circle cx="101.5" cy="396.7" r="2.5" fill="#e7a636" stroke="#262626" stroke-width="0.75"/>
<circle cx="99.3" cy="396.7" r="2.5" fill="#e7a636" stroke="#262626" stroke-width="0.75"/>
<circle cx="98.3" cy="396.7" r="2.5" fill="#e7a636" stroke="#262626" stroke-width="0.75"/>
<circle cx="99.9" cy="396.7" r="2.5" fill="#e7a636" stroke="#262626" stroke-width="0.75"/>
<circle cx="99.7" cy="399.3" r="2.5" fill="#e7a636" stroke="#262626" stroke-width="0.75"/>
<circle cx="102.3" cy="399.3" r="2.5" fill="#e7a636" stroke="#262626" stroke-width="0.75"/>
<circle cx="97.9" cy="399.3" r="2.5" fill="#e7a636" stroke="#262626" stroke-width="0.75"/>
<circle cx="100.7" cy="399.3" r="2.5" fill="#e7a636" stroke="#262626" stroke-width="0.75"/>
<circle cx="100" cy="399.3" r="2.5" fill="#e7a636" stroke="#262626" stroke-width="0.75"/>
<circle cx="99.5" cy="401.9" r="2.5" fill="#e7a636" stroke="#262626" stroke-width="0.75"/>
<circle cx="101.8" cy="401.9" r="2.5" fill="#e7a636" stroke="#262626" stroke-width="0.75"/>
<circle cx="101.8" cy="401.9" r="2.5" fill="#e7a636" stroke="#262626" stroke-width="0.75"/>
<circle cx="101.7" cy="401.9" r="2.5" fill="#e7a636" stroke="#262626" stroke-width="0.75"/>
<circle cx="100.4" cy="401.9" r="2.5" fill="#e7a636" stroke="#262626" stroke-width="0.75"/>
<circle cx="100.8" cy="401.9" r="2.5" fill="#e7a636" stroke="#262626" stroke-width="0.75"/>
<circle cx="101.9" cy="401.9" r="2.5" fill="#e7a636" stroke="#262626" stroke-width="0.75"/>
<circle cx="114.8" cy="386.3" r="2.5" fill="#999999" stroke="#262626" stroke-width="0.75"/>
<circle cx="116" cy="386.3" r="2.5" fill="#999999" stroke="#262626" stroke-width="0.75"/>
<circle cx="115.8" cy="386.3" r="2.5" fill="#999999" stroke="#262626" stroke-width="0.75"/>
<circle cx="115" cy="388.9" r="2.5" fill="#999999" stroke="#262626" stroke-width="0.75"/>
<circle cx="116.3" cy="388.9" r="2.5" fill="#999999" stroke="#262626" stroke-width="0.75"/>
<circle cx="115.8" cy="388.9" r="2.5" fill="#999999" stroke="#262626" stroke-width="0.75"/>
<circle cx="115" cy="391.5" r="2.5" fill="#999999" stroke="#262626" stroke-width="0.75"/>
<circle cx="114.7" cy="391.5" r="2.5" fill="#999999" stroke="#262626" stroke-width="0.75"/>
<circle cx="116.2" cy="391.5" r="2.5" fill="#999999" stroke="#262626" stroke-width="0.75"/>
<circle cx="115.2" cy="391.5" r="2.5" fill="#999999" stroke="#262626" stroke-width="0.75"/>
<circle cx="114.9" cy="394.1" r="2.5" fill="#999999" stroke="#262626" stroke-width="0.75"/>
<circle cx="115" cy="394.1" r="2.5" fill="#999999" stroke="#262626" stroke-width="0.75"/>
<circle cx="115.6" cy="394.1" r="2.5" fill="#999999" stroke="#262626" stroke-width="0.75"/>
<circle cx="116.4" cy="394.1" r="2.5" fill="#999999" stroke="#262626" stroke-width="0.75"/>
<circle cx="114.8" cy="396.7" r="2.5" fill="#999999" stroke="#262626" stroke-width="0.75"/>
<circle cx="115.8" cy="396.7" r="2.5" fill="#999999" stroke="#262626" stroke-width="0.75"/>
<circle cx="114.8" cy="396.7" r="2.5" fill="#999999" stroke="#262626" stroke-width="0.75"/>
<circle cx="113.4" cy="396.7" r="2.5" fill="#999999" stroke="#262626" stroke-width="0.75"/>
<circle cx="114.5" cy="399.3" r="2.5" fill="#999999" stroke="#262626" stroke-width="0.75"/>
<circle cx="115.2" cy="399.3" r="2.5" fill="#999999" stroke="#262626" stroke-width="0.75"/>
<circle cx="113.9" cy="399.3" r="2.5" fill="#999999" stroke="#262626" stroke-width="0.75"/>
<circle cx="114.9" cy="399.3" r="2.5" fill="#999999" stroke="#262626" stroke-width="0.75"/>
<circle cx="115.1" cy="401.9" r="2.5" fill="#999999" stroke="#262626" stroke-width="0.75"/>
<circle cx="113.6" cy="401.9" r="2.5" fill="#999999" stroke="#262626" stroke-width="0.75"/>
<circle cx="114.2" cy="401.9" r="2.5" fill="#999999" stroke="#262626" stroke-width="0.75"/>
<circle cx="113.5" cy="401.9" r="2.5" fill="#999999" stroke="#262626" stroke-width="0.75"/>
<circle cx="116.5" cy="401.9" r="2.5" fill="#999999" stroke="#262626" stroke-width="0.75"/>
<line x1="149.1" y1="405" x2="149.1" y2="408" stroke="#231f20" stroke-width="0.8"/>
<text x="149.1" y="416.3" font-size="6.2" text-anchor="middle">Csf1r</text>
<rect x="134.5" y="400.3" width="14" height="1.6" fill="#f7e6c4" stroke="#262626" stroke-width="0.6"/>
<line x1="149.5" y1="401.8" x2="163.5" y2="401.8" stroke="#262626" stroke-width="0.8"/>
<circle cx="141.5" cy="375.9" r="2.5" fill="#e7a636" stroke="#262626" stroke-width="0.75"/>
<circle cx="141.8" cy="381.1" r="2.5" fill="#e7a636" stroke="#262626" stroke-width="0.75"/>
<circle cx="141.4" cy="391.5" r="2.5" fill="#e7a636" stroke="#262626" stroke-width="0.75"/>
<circle cx="143.9" cy="391.5" r="2.5" fill="#e7a636" stroke="#262626" stroke-width="0.75"/>
<circle cx="141.4" cy="394.1" r="2.5" fill="#e7a636" stroke="#262626" stroke-width="0.75"/>
<circle cx="143.7" cy="394.1" r="2.5" fill="#e7a636" stroke="#262626" stroke-width="0.75"/>
<circle cx="143.2" cy="394.1" r="2.5" fill="#e7a636" stroke="#262626" stroke-width="0.75"/>
<circle cx="141.8" cy="396.7" r="2.5" fill="#e7a636" stroke="#262626" stroke-width="0.75"/>
<circle cx="139.2" cy="396.7" r="2.5" fill="#e7a636" stroke="#262626" stroke-width="0.75"/>
<circle cx="141.8" cy="396.7" r="2.5" fill="#e7a636" stroke="#262626" stroke-width="0.75"/>
<circle cx="139.9" cy="396.7" r="2.5" fill="#e7a636" stroke="#262626" stroke-width="0.75"/>
<circle cx="141.7" cy="399.3" r="2.5" fill="#e7a636" stroke="#262626" stroke-width="0.75"/>
<circle cx="139.5" cy="399.3" r="2.5" fill="#e7a636" stroke="#262626" stroke-width="0.75"/>
<circle cx="142.8" cy="399.3" r="2.5" fill="#e7a636" stroke="#262626" stroke-width="0.75"/>
<circle cx="140.3" cy="399.3" r="2.5" fill="#e7a636" stroke="#262626" stroke-width="0.75"/>
<circle cx="141.5" cy="401.9" r="2.5" fill="#e7a636" stroke="#262626" stroke-width="0.75"/>
<circle cx="143.7" cy="401.9" r="2.5" fill="#e7a636" stroke="#262626" stroke-width="0.75"/>
<circle cx="139.1" cy="401.9" r="2.5" fill="#e7a636" stroke="#262626" stroke-width="0.75"/>
<circle cx="141.2" cy="401.9" r="2.5" fill="#e7a636" stroke="#262626" stroke-width="0.75"/>
<circle cx="141.4" cy="401.9" r="2.5" fill="#e7a636" stroke="#262626" stroke-width="0.75"/>
<circle cx="156.7" cy="396.7" r="2.5" fill="#999999" stroke="#262626" stroke-width="0.75"/>
<circle cx="158.3" cy="396.7" r="2.5" fill="#999999" stroke="#262626" stroke-width="0.75"/>
<circle cx="154.6" cy="396.7" r="2.5" fill="#999999" stroke="#262626" stroke-width="0.75"/>
<circle cx="156.8" cy="399.3" r="2.5" fill="#999999" stroke="#262626" stroke-width="0.75"/>
<circle cx="154.9" cy="399.3" r="2.5" fill="#999999" stroke="#262626" stroke-width="0.75"/>
<circle cx="156.7" cy="399.3" r="2.5" fill="#999999" stroke="#262626" stroke-width="0.75"/>
<circle cx="157.4" cy="399.3" r="2.5" fill="#999999" stroke="#262626" stroke-width="0.75"/>
<circle cx="156.3" cy="401.9" r="2.5" fill="#999999" stroke="#262626" stroke-width="0.75"/>
<circle cx="156.1" cy="401.9" r="2.5" fill="#999999" stroke="#262626" stroke-width="0.75"/>
<circle cx="157.6" cy="401.9" r="2.5" fill="#999999" stroke="#262626" stroke-width="0.75"/>
<circle cx="154.9" cy="401.9" r="2.5" fill="#999999" stroke="#262626" stroke-width="0.75"/>
<line x1="190.9" y1="405" x2="190.9" y2="408" stroke="#231f20" stroke-width="0.8"/>
<text x="190.9" y="416.3" font-size="6.2" text-anchor="middle">Fcer1g</text>
<rect x="176.3" y="399.3" width="14" height="2.6" fill="#f7e6c4" stroke="#262626" stroke-width="0.6"/>
<line x1="191.3" y1="401.8" x2="205.3" y2="401.8" stroke="#262626" stroke-width="0.8"/>
<circle cx="183.3" cy="368.1" r="2.5" fill="#e7a636" stroke="#262626" stroke-width="0.75"/>
<circle cx="183.2" cy="370.7" r="2.5" fill="#e7a636" stroke="#262626" stroke-width="0.75"/>
<circle cx="183.3" cy="378.5" r="2.5" fill="#e7a636" stroke="#262626" stroke-width="0.75"/>
<circle cx="185.6" cy="378.5" r="2.5" fill="#e7a636" stroke="#262626" stroke-width="0.75"/>
<circle cx="183.4" cy="381.1" r="2.5" fill="#e7a636" stroke="#262626" stroke-width="0.75"/>
<circle cx="181.3" cy="381.1" r="2.5" fill="#e7a636" stroke="#262626" stroke-width="0.75"/>
<circle cx="183.4" cy="383.7" r="2.5" fill="#e7a636" stroke="#262626" stroke-width="0.75"/>
<circle cx="185.3" cy="383.7" r="2.5" fill="#e7a636" stroke="#262626" stroke-width="0.75"/>
<circle cx="183.2" cy="386.3" r="2.5" fill="#e7a636" stroke="#262626" stroke-width="0.75"/>
<circle cx="185.3" cy="386.3" r="2.5" fill="#e7a636" stroke="#262626" stroke-width="0.75"/>
<circle cx="183" cy="388.9" r="2.5" fill="#e7a636" stroke="#262626" stroke-width="0.75"/>
<circle cx="185" cy="388.9" r="2.5" fill="#e7a636" stroke="#262626" stroke-width="0.75"/>
<circle cx="184.1" cy="388.9" r="2.5" fill="#e7a636" stroke="#262626" stroke-width="0.75"/>
<circle cx="183.1" cy="391.5" r="2.5" fill="#e7a636" stroke="#262626" stroke-width="0.75"/>
<circle cx="185.4" cy="391.5" r="2.5" fill="#e7a636" stroke="#262626" stroke-width="0.75"/>
<circle cx="181.1" cy="391.5" r="2.5" fill="#e7a636" stroke="#262626" stroke-width="0.75"/>
<circle cx="183.3" cy="394.1" r="2.5" fill="#e7a636" stroke="#262626" stroke-width="0.75"/>
<circle cx="185.6" cy="394.1" r="2.5" fill="#e7a636" stroke="#262626" stroke-width="0.75"/>
<circle cx="181.2" cy="394.1" r="2.5" fill="#e7a636" stroke="#262626" stroke-width="0.75"/>
<circle cx="183.2" cy="396.7" r="2.5" fill="#e7a636" stroke="#262626" stroke-width="0.75"/>
<circle cx="185.7" cy="396.7" r="2.5" fill="#e7a636" stroke="#262626" stroke-width="0.75"/>
<circle cx="181.3" cy="396.7" r="2.5" fill="#e7a636" stroke="#262626" stroke-width="0.75"/>
<circle cx="181.6" cy="396.7" r="2.5" fill="#e7a636" stroke="#262626" stroke-width="0.75"/>
<circle cx="183.4" cy="399.3" r="2.5" fill="#e7a636" stroke="#262626" stroke-width="0.75"/>
<circle cx="185.3" cy="399.3" r="2.5" fill="#e7a636" stroke="#262626" stroke-width="0.75"/>
<circle cx="181" cy="399.3" r="2.5" fill="#e7a636" stroke="#262626" stroke-width="0.75"/>
<circle cx="184.1" cy="399.3" r="2.5" fill="#e7a636" stroke="#262626" stroke-width="0.75"/>
<circle cx="183.2" cy="401.9" r="2.5" fill="#e7a636" stroke="#262626" stroke-width="0.75"/>
<circle cx="185.6" cy="401.9" r="2.5" fill="#e7a636" stroke="#262626" stroke-width="0.75"/>
<circle cx="181.2" cy="401.9" r="2.5" fill="#e7a636" stroke="#262626" stroke-width="0.75"/>
<circle cx="184.9" cy="401.9" r="2.5" fill="#e7a636" stroke="#262626" stroke-width="0.75"/>
<circle cx="183.2" cy="401.9" r="2.5" fill="#e7a636" stroke="#262626" stroke-width="0.75"/>
<circle cx="198.1" cy="396.7" r="2.5" fill="#999999" stroke="#262626" stroke-width="0.75"/>
<circle cx="199.3" cy="396.7" r="2.5" fill="#999999" stroke="#262626" stroke-width="0.75"/>
<circle cx="198.9" cy="396.7" r="2.5" fill="#999999" stroke="#262626" stroke-width="0.75"/>
<circle cx="198.1" cy="399.3" r="2.5" fill="#999999" stroke="#262626" stroke-width="0.75"/>
<circle cx="200.1" cy="399.3" r="2.5" fill="#999999" stroke="#262626" stroke-width="0.75"/>
<circle cx="200.1" cy="399.3" r="2.5" fill="#999999" stroke="#262626" stroke-width="0.75"/>
<circle cx="198.4" cy="401.9" r="2.5" fill="#999999" stroke="#262626" stroke-width="0.75"/>
<circle cx="197.8" cy="401.9" r="2.5" fill="#999999" stroke="#262626" stroke-width="0.75"/>
<circle cx="199.5" cy="401.9" r="2.5" fill="#999999" stroke="#262626" stroke-width="0.75"/>
<circle cx="196.6" cy="401.9" r="2.5" fill="#999999" stroke="#262626" stroke-width="0.75"/>
<line x1="232.6" y1="405" x2="232.6" y2="408" stroke="#231f20" stroke-width="0.8"/>
<text x="232.6" y="416.3" font-size="6.2" text-anchor="middle">Irf7</text>
<rect x="218" y="400.3" width="14" height="1.6" fill="#f7e6c4" stroke="#262626" stroke-width="0.6"/>
<line x1="233" y1="401.8" x2="247" y2="401.8" stroke="#262626" stroke-width="0.8"/>
<circle cx="225" cy="383.7" r="2.5" fill="#e7a636" stroke="#262626" stroke-width="0.75"/>
<circle cx="225.1" cy="386.3" r="2.5" fill="#e7a636" stroke="#262626" stroke-width="0.75"/>
<circle cx="227.2" cy="386.3" r="2.5" fill="#e7a636" stroke="#262626" stroke-width="0.75"/>
<circle cx="224.7" cy="388.9" r="2.5" fill="#e7a636" stroke="#262626" stroke-width="0.75"/>
<circle cx="227" cy="388.9" r="2.5" fill="#e7a636" stroke="#262626" stroke-width="0.75"/>
<circle cx="223.2" cy="388.9" r="2.5" fill="#e7a636" stroke="#262626" stroke-width="0.75"/>
<circle cx="224.8" cy="391.5" r="2.5" fill="#e7a636" stroke="#262626" stroke-width="0.75"/>
<circle cx="227.1" cy="391.5" r="2.5" fill="#e7a636" stroke="#262626" stroke-width="0.75"/>
<circle cx="225.2" cy="394.1" r="2.5" fill="#e7a636" stroke="#262626" stroke-width="0.75"/>
<circle cx="222.5" cy="394.1" r="2.5" fill="#e7a636" stroke="#262626" stroke-width="0.75"/>
<circle cx="223.4" cy="394.1" r="2.5" fill="#e7a636" stroke="#262626" stroke-width="0.75"/>
<circle cx="225.1" cy="396.7" r="2.5" fill="#e7a636" stroke="#262626" stroke-width="0.75"/>
<circle cx="227.4" cy="396.7" r="2.5" fill="#e7a636" stroke="#262626" stroke-width="0.75"/>
<circle cx="222.8" cy="396.7" r="2.5" fill="#e7a636" stroke="#262626" stroke-width="0.75"/>
<circle cx="225.2" cy="399.3" r="2.5" fill="#e7a636" stroke="#262626" stroke-width="0.75"/>
<circle cx="222.7" cy="399.3" r="2.5" fill="#e7a636" stroke="#262626" stroke-width="0.75"/>
<circle cx="226.8" cy="399.3" r="2.5" fill="#e7a636" stroke="#262626" stroke-width="0.75"/>
<circle cx="224.8" cy="401.9" r="2.5" fill="#e7a636" stroke="#262626" stroke-width="0.75"/>
<circle cx="227.2" cy="401.9" r="2.5" fill="#e7a636" stroke="#262626" stroke-width="0.75"/>
<circle cx="222.6" cy="401.9" r="2.5" fill="#e7a636" stroke="#262626" stroke-width="0.75"/>
<circle cx="226.1" cy="401.9" r="2.5" fill="#e7a636" stroke="#262626" stroke-width="0.75"/>
<circle cx="240" cy="394.1" r="2.5" fill="#999999" stroke="#262626" stroke-width="0.75"/>
<circle cx="240.2" cy="396.7" r="2.5" fill="#999999" stroke="#262626" stroke-width="0.75"/>
<circle cx="240.1" cy="396.7" r="2.5" fill="#999999" stroke="#262626" stroke-width="0.75"/>
<circle cx="239.7" cy="396.7" r="2.5" fill="#999999" stroke="#262626" stroke-width="0.75"/>
<circle cx="240.2" cy="399.3" r="2.5" fill="#999999" stroke="#262626" stroke-width="0.75"/>
<circle cx="239.1" cy="399.3" r="2.5" fill="#999999" stroke="#262626" stroke-width="0.75"/>
<circle cx="241.8" cy="399.3" r="2.5" fill="#999999" stroke="#262626" stroke-width="0.75"/>
<circle cx="240" cy="401.9" r="2.5" fill="#999999" stroke="#262626" stroke-width="0.75"/>
<circle cx="238.9" cy="401.9" r="2.5" fill="#999999" stroke="#262626" stroke-width="0.75"/>
<circle cx="240.1" cy="401.9" r="2.5" fill="#999999" stroke="#262626" stroke-width="0.75"/>
<circle cx="238.5" cy="401.9" r="2.5" fill="#999999" stroke="#262626" stroke-width="0.75"/>
<line x1="274.3" y1="405" x2="274.3" y2="408" stroke="#231f20" stroke-width="0.8"/>
<text x="274.3" y="416.3" font-size="6.2" text-anchor="middle">Mpeg1</text>
<rect x="259.7" y="398.8" width="14" height="3.1" fill="#f7e6c4" stroke="#262626" stroke-width="0.6"/>
<line x1="274.7" y1="401.8" x2="288.7" y2="401.8" stroke="#262626" stroke-width="0.8"/>
<circle cx="266.7" cy="368.1" r="2.5" fill="#e7a636" stroke="#262626" stroke-width="0.75"/>
<circle cx="266.6" cy="370.7" r="2.5" fill="#e7a636" stroke="#262626" stroke-width="0.75"/>
<circle cx="266.9" cy="375.9" r="2.5" fill="#e7a636" stroke="#262626" stroke-width="0.75"/>
<circle cx="266.7" cy="378.5" r="2.5" fill="#e7a636" stroke="#262626" stroke-width="0.75"/>
<circle cx="266.7" cy="381.1" r="2.5" fill="#e7a636" stroke="#262626" stroke-width="0.75"/>
<circle cx="269.1" cy="381.1" r="2.5" fill="#e7a636" stroke="#262626" stroke-width="0.75"/>
<circle cx="266.4" cy="383.7" r="2.5" fill="#e7a636" stroke="#262626" stroke-width="0.75"/>
<circle cx="269" cy="383.7" r="2.5" fill="#e7a636" stroke="#262626" stroke-width="0.75"/>
<circle cx="266.6" cy="386.3" r="2.5" fill="#e7a636" stroke="#262626" stroke-width="0.75"/>
<circle cx="269.2" cy="386.3" r="2.5" fill="#e7a636" stroke="#262626" stroke-width="0.75"/>
<circle cx="264.7" cy="386.3" r="2.5" fill="#e7a636" stroke="#262626" stroke-width="0.75"/>
<circle cx="266.6" cy="388.9" r="2.5" fill="#e7a636" stroke="#262626" stroke-width="0.75"/>
<circle cx="268.9" cy="388.9" r="2.5" fill="#e7a636" stroke="#262626" stroke-width="0.75"/>
<circle cx="264.2" cy="388.9" r="2.5" fill="#e7a636" stroke="#262626" stroke-width="0.75"/>
<circle cx="266.7" cy="391.5" r="2.5" fill="#e7a636" stroke="#262626" stroke-width="0.75"/>
<circle cx="269.1" cy="391.5" r="2.5" fill="#e7a636" stroke="#262626" stroke-width="0.75"/>
<circle cx="264.7" cy="391.5" r="2.5" fill="#e7a636" stroke="#262626" stroke-width="0.75"/>
<circle cx="266.7" cy="394.1" r="2.5" fill="#e7a636" stroke="#262626" stroke-width="0.75"/>
<circle cx="268.8" cy="394.1" r="2.5" fill="#e7a636" stroke="#262626" stroke-width="0.75"/>
<circle cx="264.3" cy="394.1" r="2.5" fill="#e7a636" stroke="#262626" stroke-width="0.75"/>
<circle cx="266.8" cy="396.7" r="2.5" fill="#e7a636" stroke="#262626" stroke-width="0.75"/>
<circle cx="269.2" cy="396.7" r="2.5" fill="#e7a636" stroke="#262626" stroke-width="0.75"/>
<circle cx="264.2" cy="396.7" r="2.5" fill="#e7a636" stroke="#262626" stroke-width="0.75"/>
<circle cx="266.9" cy="399.3" r="2.5" fill="#e7a636" stroke="#262626" stroke-width="0.75"/>
<circle cx="264.2" cy="399.3" r="2.5" fill="#e7a636" stroke="#262626" stroke-width="0.75"/>
<circle cx="265.1" cy="399.3" r="2.5" fill="#e7a636" stroke="#262626" stroke-width="0.75"/>
<circle cx="266.8" cy="401.9" r="2.5" fill="#e7a636" stroke="#262626" stroke-width="0.75"/>
<circle cx="268.8" cy="401.9" r="2.5" fill="#e7a636" stroke="#262626" stroke-width="0.75"/>
<circle cx="264.4" cy="401.9" r="2.5" fill="#e7a636" stroke="#262626" stroke-width="0.75"/>
<circle cx="267" cy="401.9" r="2.5" fill="#e7a636" stroke="#262626" stroke-width="0.75"/>
<circle cx="267.5" cy="401.9" r="2.5" fill="#e7a636" stroke="#262626" stroke-width="0.75"/>
<circle cx="281.7" cy="391.5" r="2.5" fill="#999999" stroke="#262626" stroke-width="0.75"/>
<circle cx="280.6" cy="391.5" r="2.5" fill="#999999" stroke="#262626" stroke-width="0.75"/>
<circle cx="281.7" cy="394.1" r="2.5" fill="#999999" stroke="#262626" stroke-width="0.75"/>
<circle cx="281.4" cy="394.1" r="2.5" fill="#999999" stroke="#262626" stroke-width="0.75"/>
<circle cx="281.4" cy="394.1" r="2.5" fill="#999999" stroke="#262626" stroke-width="0.75"/>
<circle cx="281.5" cy="396.7" r="2.5" fill="#999999" stroke="#262626" stroke-width="0.75"/>
<circle cx="280.7" cy="396.7" r="2.5" fill="#999999" stroke="#262626" stroke-width="0.75"/>
<circle cx="282.2" cy="396.7" r="2.5" fill="#999999" stroke="#262626" stroke-width="0.75"/>
<circle cx="281.9" cy="399.3" r="2.5" fill="#999999" stroke="#262626" stroke-width="0.75"/>
<circle cx="282.3" cy="399.3" r="2.5" fill="#999999" stroke="#262626" stroke-width="0.75"/>
<circle cx="280.8" cy="399.3" r="2.5" fill="#999999" stroke="#262626" stroke-width="0.75"/>
<circle cx="281.9" cy="401.9" r="2.5" fill="#999999" stroke="#262626" stroke-width="0.75"/>
<circle cx="283.1" cy="401.9" r="2.5" fill="#999999" stroke="#262626" stroke-width="0.75"/>
<circle cx="281.3" cy="401.9" r="2.5" fill="#999999" stroke="#262626" stroke-width="0.75"/>
<circle cx="280.9" cy="401.9" r="2.5" fill="#999999" stroke="#262626" stroke-width="0.75"/>
<line x1="316" y1="405" x2="316" y2="408" stroke="#231f20" stroke-width="0.8"/>
<text x="316" y="416.3" font-size="6.2" text-anchor="middle">Sirpa</text>
<rect x="301.4" y="399.8" width="14" height="2.1" fill="#f7e6c4" stroke="#262626" stroke-width="0.6"/>
<line x1="316.4" y1="401.8" x2="330.4" y2="401.8" stroke="#262626" stroke-width="0.8"/>
<circle cx="308.7" cy="378.5" r="2.5" fill="#e7a636" stroke="#262626" stroke-width="0.75"/>
<circle cx="308.2" cy="381.1" r="2.5" fill="#e7a636" stroke="#262626" stroke-width="0.75"/>
<circle cx="310.5" cy="381.1" r="2.5" fill="#e7a636" stroke="#262626" stroke-width="0.75"/>
<circle cx="308.6" cy="383.7" r="2.5" fill="#e7a636" stroke="#262626" stroke-width="0.75"/>
<circle cx="308.3" cy="386.3" r="2.5" fill="#e7a636" stroke="#262626" stroke-width="0.75"/>
<circle cx="310.4" cy="386.3" r="2.5" fill="#e7a636" stroke="#262626" stroke-width="0.75"/>
<circle cx="308.6" cy="388.9" r="2.5" fill="#e7a636" stroke="#262626" stroke-width="0.75"/>
<circle cx="306.1" cy="388.9" r="2.5" fill="#e7a636" stroke="#262626" stroke-width="0.75"/>
<circle cx="308.6" cy="391.5" r="2.5" fill="#e7a636" stroke="#262626" stroke-width="0.75"/>
<circle cx="305.9" cy="391.5" r="2.5" fill="#e7a636" stroke="#262626" stroke-width="0.75"/>
<circle cx="308.1" cy="391.5" r="2.5" fill="#e7a636" stroke="#262626" stroke-width="0.75"/>
<circle cx="308.1" cy="394.1" r="2.5" fill="#e7a636" stroke="#262626" stroke-width="0.75"/>
<circle cx="310" cy="394.1" r="2.5" fill="#e7a636" stroke="#262626" stroke-width="0.75"/>
<circle cx="309.5" cy="394.1" r="2.5" fill="#e7a636" stroke="#262626" stroke-width="0.75"/>
<circle cx="308.7" cy="396.7" r="2.5" fill="#e7a636" stroke="#262626" stroke-width="0.75"/>
<circle cx="305.9" cy="396.7" r="2.5" fill="#e7a636" stroke="#262626" stroke-width="0.75"/>
<circle cx="308.6" cy="396.7" r="2.5" fill="#e7a636" stroke="#262626" stroke-width="0.75"/>
<circle cx="308.4" cy="399.3" r="2.5" fill="#e7a636" stroke="#262626" stroke-width="0.75"/>
<circle cx="310.8" cy="399.3" r="2.5" fill="#e7a636" stroke="#262626" stroke-width="0.75"/>
<circle cx="306" cy="399.3" r="2.5" fill="#e7a636" stroke="#262626" stroke-width="0.75"/>
<circle cx="308.2" cy="401.9" r="2.5" fill="#e7a636" stroke="#262626" stroke-width="0.75"/>
<circle cx="310.4" cy="401.9" r="2.5" fill="#e7a636" stroke="#262626" stroke-width="0.75"/>
<circle cx="306.3" cy="401.9" r="2.5" fill="#e7a636" stroke="#262626" stroke-width="0.75"/>
<circle cx="308.5" cy="401.9" r="2.5" fill="#e7a636" stroke="#262626" stroke-width="0.75"/>
<circle cx="323.2" cy="391.5" r="2.5" fill="#999999" stroke="#262626" stroke-width="0.75"/>
<circle cx="323.2" cy="394.1" r="2.5" fill="#999999" stroke="#262626" stroke-width="0.75"/>
<circle cx="322.5" cy="394.1" r="2.5" fill="#999999" stroke="#262626" stroke-width="0.75"/>
<circle cx="323.7" cy="396.7" r="2.5" fill="#999999" stroke="#262626" stroke-width="0.75"/>
<circle cx="321.9" cy="396.7" r="2.5" fill="#999999" stroke="#262626" stroke-width="0.75"/>
<circle cx="321.6" cy="396.7" r="2.5" fill="#999999" stroke="#262626" stroke-width="0.75"/>
<circle cx="323.7" cy="399.3" r="2.5" fill="#999999" stroke="#262626" stroke-width="0.75"/>
<circle cx="323.4" cy="399.3" r="2.5" fill="#999999" stroke="#262626" stroke-width="0.75"/>
<circle cx="322.7" cy="399.3" r="2.5" fill="#999999" stroke="#262626" stroke-width="0.75"/>
<circle cx="323.4" cy="401.9" r="2.5" fill="#999999" stroke="#262626" stroke-width="0.75"/>
<circle cx="323.2" cy="401.9" r="2.5" fill="#999999" stroke="#262626" stroke-width="0.75"/>
<circle cx="321.7" cy="401.9" r="2.5" fill="#999999" stroke="#262626" stroke-width="0.75"/>
<line x1="357.7" y1="405" x2="357.7" y2="408" stroke="#231f20" stroke-width="0.8"/>
<text x="357.7" y="416.3" font-size="6.2" text-anchor="middle">Spic</text>
<rect x="343.1" y="401.1" width="14" height="0.8" fill="#f7e6c4" stroke="#262626" stroke-width="0.6"/>
<line x1="358.1" y1="401.8" x2="372.1" y2="401.8" stroke="#262626" stroke-width="0.8"/>
<circle cx="350.3" cy="381.1" r="2.5" fill="#e7a636" stroke="#262626" stroke-width="0.75"/>
<circle cx="349.9" cy="391.5" r="2.5" fill="#e7a636" stroke="#262626" stroke-width="0.75"/>
<circle cx="352.4" cy="391.5" r="2.5" fill="#e7a636" stroke="#262626" stroke-width="0.75"/>
<circle cx="350.3" cy="394.1" r="2.5" fill="#e7a636" stroke="#262626" stroke-width="0.75"/>
<circle cx="352.3" cy="394.1" r="2.5" fill="#e7a636" stroke="#262626" stroke-width="0.75"/>
<circle cx="350" cy="396.7" r="2.5" fill="#e7a636" stroke="#262626" stroke-width="0.75"/>
<circle cx="352.2" cy="396.7" r="2.5" fill="#e7a636" stroke="#262626" stroke-width="0.75"/>
<circle cx="350.1" cy="399.3" r="2.5" fill="#e7a636" stroke="#262626" stroke-width="0.75"/>
<circle cx="352.1" cy="399.3" r="2.5" fill="#e7a636" stroke="#262626" stroke-width="0.75"/>
<circle cx="348.1" cy="399.3" r="2.5" fill="#e7a636" stroke="#262626" stroke-width="0.75"/>
<circle cx="350.3" cy="401.9" r="2.5" fill="#e7a636" stroke="#262626" stroke-width="0.75"/>
<circle cx="348" cy="401.9" r="2.5" fill="#e7a636" stroke="#262626" stroke-width="0.75"/>
<circle cx="351.9" cy="401.9" r="2.5" fill="#e7a636" stroke="#262626" stroke-width="0.75"/>
<circle cx="349.8" cy="401.9" r="2.5" fill="#e7a636" stroke="#262626" stroke-width="0.75"/>
<circle cx="365.1" cy="399.3" r="2.5" fill="#999999" stroke="#262626" stroke-width="0.75"/>
<circle cx="367.2" cy="399.3" r="2.5" fill="#999999" stroke="#262626" stroke-width="0.75"/>
<circle cx="364.5" cy="399.3" r="2.5" fill="#999999" stroke="#262626" stroke-width="0.75"/>
<circle cx="365.3" cy="401.9" r="2.5" fill="#999999" stroke="#262626" stroke-width="0.75"/>
<circle cx="366.4" cy="401.9" r="2.5" fill="#999999" stroke="#262626" stroke-width="0.75"/>
<circle cx="365" cy="401.9" r="2.5" fill="#999999" stroke="#262626" stroke-width="0.75"/>
<line x1="399.5" y1="405" x2="399.5" y2="408" stroke="#231f20" stroke-width="0.8"/>
<text x="399.5" y="416.3" font-size="6.2" text-anchor="middle">Tyrobp</text>
<rect x="384.9" y="399.3" width="14" height="2.6" fill="#f7e6c4" stroke="#262626" stroke-width="0.6"/>
<line x1="399.9" y1="401.8" x2="413.9" y2="401.8" stroke="#262626" stroke-width="0.8"/>
<circle cx="392.1" cy="388.9" r="2.5" fill="#e7a636" stroke="#262626" stroke-width="0.75"/>
<circle cx="389.7" cy="388.9" r="2.5" fill="#e7a636" stroke="#262626" stroke-width="0.75"/>
<circle cx="393.2" cy="388.9" r="2.5" fill="#e7a636" stroke="#262626" stroke-width="0.75"/>
<circle cx="391.6" cy="388.9" r="2.5" fill="#e7a636" stroke="#262626" stroke-width="0.75"/>
<circle cx="391.6" cy="391.5" r="2.5" fill="#e7a636" stroke="#262626" stroke-width="0.75"/>
<circle cx="394" cy="391.5" r="2.5" fill="#e7a636" stroke="#262626" stroke-width="0.75"/>
<circle cx="391.4" cy="391.5" r="2.5" fill="#e7a636" stroke="#262626" stroke-width="0.75"/>
<circle cx="391.3" cy="391.5" r="2.5" fill="#e7a636" stroke="#262626" stroke-width="0.75"/>
<circle cx="391.9" cy="394.1" r="2.5" fill="#e7a636" stroke="#262626" stroke-width="0.75"/>
<circle cx="393.9" cy="394.1" r="2.5" fill="#e7a636" stroke="#262626" stroke-width="0.75"/>
<circle cx="389.9" cy="394.1" r="2.5" fill="#e7a636" stroke="#262626" stroke-width="0.75"/>
<circle cx="392.5" cy="394.1" r="2.5" fill="#e7a636" stroke="#262626" stroke-width="0.75"/>
<circle cx="392" cy="396.7" r="2.5" fill="#e7a636" stroke="#262626" stroke-width="0.75"/>
<circle cx="394.2" cy="396.7" r="2.5" fill="#e7a636" stroke="#262626" stroke-width="0.75"/>
<circle cx="389.6" cy="396.7" r="2.5" fill="#e7a636" stroke="#262626" stroke-width="0.75"/>
<circle cx="391.7" cy="396.7" r="2.5" fill="#e7a636" stroke="#262626" stroke-width="0.75"/>
<circle cx="391.9" cy="399.3" r="2.5" fill="#e7a636" stroke="#262626" stroke-width="0.75"/>
<circle cx="394.2" cy="399.3" r="2.5" fill="#e7a636" stroke="#262626" stroke-width="0.75"/>
<circle cx="389.8" cy="399.3" r="2.5" fill="#e7a636" stroke="#262626" stroke-width="0.75"/>
<circle cx="393.8" cy="399.3" r="2.5" fill="#e7a636" stroke="#262626" stroke-width="0.75"/>
<circle cx="391.9" cy="401.9" r="2.5" fill="#e7a636" stroke="#262626" stroke-width="0.75"/>
<circle cx="394.3" cy="401.9" r="2.5" fill="#e7a636" stroke="#262626" stroke-width="0.75"/>
<circle cx="389.5" cy="401.9" r="2.5" fill="#e7a636" stroke="#262626" stroke-width="0.75"/>
<circle cx="391.1" cy="401.9" r="2.5" fill="#e7a636" stroke="#262626" stroke-width="0.75"/>
<circle cx="390.4" cy="401.9" r="2.5" fill="#e7a636" stroke="#262626" stroke-width="0.75"/>
<circle cx="406.6" cy="386.3" r="2.5" fill="#999999" stroke="#262626" stroke-width="0.75"/>
<circle cx="406.7" cy="388.9" r="2.5" fill="#999999" stroke="#262626" stroke-width="0.75"/>
<circle cx="408.4" cy="388.9" r="2.5" fill="#999999" stroke="#262626" stroke-width="0.75"/>
<circle cx="407.2" cy="388.9" r="2.5" fill="#999999" stroke="#262626" stroke-width="0.75"/>
<circle cx="406.9" cy="391.5" r="2.5" fill="#999999" stroke="#262626" stroke-width="0.75"/>
<circle cx="408.8" cy="391.5" r="2.5" fill="#999999" stroke="#262626" stroke-width="0.75"/>
<circle cx="407.8" cy="391.5" r="2.5" fill="#999999" stroke="#262626" stroke-width="0.75"/>
<circle cx="406.9" cy="394.1" r="2.5" fill="#999999" stroke="#262626" stroke-width="0.75"/>
<circle cx="407.6" cy="394.1" r="2.5" fill="#999999" stroke="#262626" stroke-width="0.75"/>
<circle cx="408.3" cy="394.1" r="2.5" fill="#999999" stroke="#262626" stroke-width="0.75"/>
<circle cx="406.8" cy="396.7" r="2.5" fill="#999999" stroke="#262626" stroke-width="0.75"/>
<circle cx="405.6" cy="396.7" r="2.5" fill="#999999" stroke="#262626" stroke-width="0.75"/>
<circle cx="407" cy="396.7" r="2.5" fill="#999999" stroke="#262626" stroke-width="0.75"/>
<circle cx="407.1" cy="399.3" r="2.5" fill="#999999" stroke="#262626" stroke-width="0.75"/>
<circle cx="406.6" cy="399.3" r="2.5" fill="#999999" stroke="#262626" stroke-width="0.75"/>
<circle cx="407.2" cy="399.3" r="2.5" fill="#999999" stroke="#262626" stroke-width="0.75"/>
<circle cx="406.7" cy="401.9" r="2.5" fill="#999999" stroke="#262626" stroke-width="0.75"/>
<circle cx="407.5" cy="401.9" r="2.5" fill="#999999" stroke="#262626" stroke-width="0.75"/>
<circle cx="406.2" cy="401.9" r="2.5" fill="#999999" stroke="#262626" stroke-width="0.75"/>
<circle cx="405.8" cy="401.9" r="2.5" fill="#999999" stroke="#262626" stroke-width="0.75"/>
<line x1="441.2" y1="405" x2="441.2" y2="408" stroke="#231f20" stroke-width="0.8"/>
<text x="441.2" y="416.3" font-size="6.2" text-anchor="middle">Vcam1</text>
<rect x="426.6" y="398.8" width="14" height="3.1" fill="#f7e6c4" stroke="#262626" stroke-width="0.6"/>
<line x1="441.6" y1="401.8" x2="455.6" y2="401.8" stroke="#262626" stroke-width="0.8"/>
<circle cx="433.4" cy="336.9" r="2.5" fill="#e7a636" stroke="#262626" stroke-width="0.75"/>
<circle cx="433.3" cy="370.7" r="2.5" fill="#e7a636" stroke="#262626" stroke-width="0.75"/>
<circle cx="435.6" cy="370.7" r="2.5" fill="#e7a636" stroke="#262626" stroke-width="0.75"/>
<circle cx="433.7" cy="373.3" r="2.5" fill="#e7a636" stroke="#262626" stroke-width="0.75"/>
<circle cx="435.8" cy="373.3" r="2.5" fill="#e7a636" stroke="#262626" stroke-width="0.75"/>
<circle cx="433.8" cy="375.9" r="2.5" fill="#e7a636" stroke="#262626" stroke-width="0.75"/>
<circle cx="433.7" cy="378.5" r="2.5" fill="#e7a636" stroke="#262626" stroke-width="0.75"/>
<circle cx="435.6" cy="378.5" r="2.5" fill="#e7a636" stroke="#262626" stroke-width="0.75"/>
<circle cx="433.9" cy="381.1" r="2.5" fill="#e7a636" stroke="#262626" stroke-width="0.75"/>
<circle cx="432" cy="381.1" r="2.5" fill="#e7a636" stroke="#262626" stroke-width="0.75"/>
<circle cx="433.3" cy="383.7" r="2.5" fill="#e7a636" stroke="#262626" stroke-width="0.75"/>
<circle cx="436.1" cy="383.7" r="2.5" fill="#e7a636" stroke="#262626" stroke-width="0.75"/>
<circle cx="433.5" cy="386.3" r="2.5" fill="#e7a636" stroke="#262626" stroke-width="0.75"/>
<circle cx="435.8" cy="386.3" r="2.5" fill="#e7a636" stroke="#262626" stroke-width="0.75"/>
<circle cx="431.6" cy="386.3" r="2.5" fill="#e7a636" stroke="#262626" stroke-width="0.75"/>
<circle cx="433.4" cy="388.9" r="2.5" fill="#e7a636" stroke="#262626" stroke-width="0.75"/>
<circle cx="435.8" cy="388.9" r="2.5" fill="#e7a636" stroke="#262626" stroke-width="0.75"/>
<circle cx="431.6" cy="388.9" r="2.5" fill="#e7a636" stroke="#262626" stroke-width="0.75"/>
<circle cx="433.7" cy="391.5" r="2.5" fill="#e7a636" stroke="#262626" stroke-width="0.75"/>
<circle cx="435.8" cy="391.5" r="2.5" fill="#e7a636" stroke="#262626" stroke-width="0.75"/>
<circle cx="431.6" cy="391.5" r="2.5" fill="#e7a636" stroke="#262626" stroke-width="0.75"/>
<circle cx="433.8" cy="394.1" r="2.5" fill="#e7a636" stroke="#262626" stroke-width="0.75"/>
<circle cx="431.4" cy="394.1" r="2.5" fill="#e7a636" stroke="#262626" stroke-width="0.75"/>
<circle cx="431.9" cy="394.1" r="2.5" fill="#e7a636" stroke="#262626" stroke-width="0.75"/>
<circle cx="433.6" cy="396.7" r="2.5" fill="#e7a636" stroke="#262626" stroke-width="0.75"/>
<circle cx="435.7" cy="396.7" r="2.5" fill="#e7a636" stroke="#262626" stroke-width="0.75"/>
<circle cx="431.1" cy="396.7" r="2.5" fill="#e7a636" stroke="#262626" stroke-width="0.75"/>
<circle cx="433.6" cy="399.3" r="2.5" fill="#e7a636" stroke="#262626" stroke-width="0.75"/>
<circle cx="435.6" cy="399.3" r="2.5" fill="#e7a636" stroke="#262626" stroke-width="0.75"/>
<circle cx="431.3" cy="399.3" r="2.5" fill="#e7a636" stroke="#262626" stroke-width="0.75"/>
<circle cx="433.7" cy="401.9" r="2.5" fill="#e7a636" stroke="#262626" stroke-width="0.75"/>
<circle cx="435.8" cy="401.9" r="2.5" fill="#e7a636" stroke="#262626" stroke-width="0.75"/>
<circle cx="431.2" cy="401.9" r="2.5" fill="#e7a636" stroke="#262626" stroke-width="0.75"/>
<circle cx="433.9" cy="401.9" r="2.5" fill="#e7a636" stroke="#262626" stroke-width="0.75"/>
<circle cx="434.9" cy="401.9" r="2.5" fill="#e7a636" stroke="#262626" stroke-width="0.75"/>
<circle cx="448.9" cy="396.7" r="2.5" fill="#999999" stroke="#262626" stroke-width="0.75"/>
<circle cx="448.9" cy="399.3" r="2.5" fill="#999999" stroke="#262626" stroke-width="0.75"/>
<circle cx="449.3" cy="399.3" r="2.5" fill="#999999" stroke="#262626" stroke-width="0.75"/>
<circle cx="448.3" cy="401.9" r="2.5" fill="#999999" stroke="#262626" stroke-width="0.75"/>
<circle cx="450.2" cy="401.9" r="2.5" fill="#999999" stroke="#262626" stroke-width="0.75"/>
<circle cx="449" cy="401.9" r="2.5" fill="#999999" stroke="#262626" stroke-width="0.75"/>
<line x1="40.9" y1="428.5" x2="40.9" y2="500.2" stroke="#4a4a4a" stroke-width="1.7"/>
<line x1="40.1" y1="499.4" x2="466.2" y2="499.4" stroke="#2a2a2a" stroke-width="1.5"/>
<line x1="37.6" y1="496.2" x2="41.2" y2="496.2" stroke="#231f20" stroke-width="0.9"/>
<text x="34.9" y="498.7" font-size="7.2" text-anchor="end" textLength="3.8" lengthAdjust="spacingAndGlyphs">0</text>
<line x1="37.6" y1="478.9" x2="41.2" y2="478.9" stroke="#231f20" stroke-width="0.9"/>
<text x="34.9" y="481.4" font-size="7.2" text-anchor="end" textLength="3.8" lengthAdjust="spacingAndGlyphs">3</text>
<line x1="37.6" y1="461.6" x2="41.2" y2="461.6" stroke="#231f20" stroke-width="0.9"/>
<text x="34.9" y="464.1" font-size="7.2" text-anchor="end" textLength="3.8" lengthAdjust="spacingAndGlyphs">6</text>
<line x1="37.6" y1="444.3" x2="41.2" y2="444.3" stroke="#231f20" stroke-width="0.9"/>
<text x="34.9" y="446.8" font-size="7.2" text-anchor="end" textLength="3.8" lengthAdjust="spacingAndGlyphs">9</text>
<text transform="translate(23.6 464.6) rotate(-90)" font-size="8.6" text-anchor="middle">log<tspan font-size="6" dy="2">2</tspan><tspan dy="-2"> tpm+1, counts</tspan></text>
<text x="136.4" y="441.2" font-size="7.2" text-anchor="middle" textLength="36.3" lengthAdjust="spacingAndGlyphs">SMART-seq</text>
<line x1="65.7" y1="499.3" x2="65.7" y2="502.3" stroke="#231f20" stroke-width="0.8"/>
<text x="65.7" y="510.8" font-size="6.2" text-anchor="middle">Axl</text>
<line x1="51.2" y1="496.2" x2="64.2" y2="496.2" stroke="#262626" stroke-width="0.8"/>
<line x1="66.8" y1="496.2" x2="79.8" y2="496.2" stroke="#262626" stroke-width="0.8"/>
<circle cx="57.6" cy="445.4" r="2.5" fill="#e7a636" stroke="#262626" stroke-width="0.7"/>
<circle cx="57.8" cy="460.4" r="2.5" fill="#e7a636" stroke="#262626" stroke-width="0.7"/>
<circle cx="55" cy="462.2" r="2.5" fill="#e7a636" stroke="#262626" stroke-width="0.7"/>
<circle cx="57.8" cy="470.2" r="2.5" fill="#e7a636" stroke="#262626" stroke-width="0.7"/>
<circle cx="57.8" cy="478.3" r="2.5" fill="#e7a636" stroke="#262626" stroke-width="0.7"/>
<circle cx="57.9" cy="482.9" r="2.5" fill="#e7a636" stroke="#262626" stroke-width="0.7"/>
<circle cx="56.2" cy="485.8" r="2.5" fill="#e7a636" stroke="#262626" stroke-width="0.7"/>
<circle cx="57.5" cy="492.2" r="2.5" fill="#e7a636" stroke="#262626" stroke-width="0.7"/>
<circle cx="60.7" cy="493.9" r="2.5" fill="#e7a636" stroke="#262626" stroke-width="0.7"/>
<circle cx="56.1" cy="495" r="2.5" fill="#e7a636" stroke="#262626" stroke-width="0.7"/>
<circle cx="60.5" cy="496.2" r="2.5" fill="#e7a636" stroke="#262626" stroke-width="0.7"/>
<circle cx="54" cy="496.2" r="2.5" fill="#e7a636" stroke="#262626" stroke-width="0.7"/>
<circle cx="57.2" cy="496.2" r="2.5" fill="#e7a636" stroke="#262626" stroke-width="0.7"/>
<circle cx="73.1" cy="496.2" r="2.5" fill="#999999" stroke="#262626" stroke-width="0.7"/>
<circle cx="76.5" cy="496.2" r="2.5" fill="#999999" stroke="#262626" stroke-width="0.7"/>
<circle cx="69.4" cy="496.2" r="2.5" fill="#999999" stroke="#262626" stroke-width="0.7"/>
<circle cx="70.1" cy="496.2" r="2.5" fill="#999999" stroke="#262626" stroke-width="0.7"/>
<line x1="107.4" y1="499.3" x2="107.4" y2="502.3" stroke="#231f20" stroke-width="0.8"/>
<text x="107.4" y="510.8" font-size="6.2" text-anchor="middle">C1qb</text>
<line x1="99.4" y1="468.2" x2="99.4" y2="435" stroke="#262626" stroke-width="0.7"/>
<rect x="92.2" y="468.2" width="14.4" height="28" fill="#f7e6c4" stroke="#262626" stroke-width="0.6"/>
<line x1="108.5" y1="496.2" x2="121.5" y2="496.2" stroke="#262626" stroke-width="0.8"/>
<circle cx="99.5" cy="434.5" r="2.5" fill="#e7a636" stroke="#262626" stroke-width="0.7"/>
<circle cx="99.5" cy="445.4" r="2.5" fill="#e7a636" stroke="#262626" stroke-width="0.7"/>
<circle cx="102" cy="447.2" r="2.5" fill="#e7a636" stroke="#262626" stroke-width="0.7"/>
<circle cx="98.1" cy="448.3" r="2.5" fill="#e7a636" stroke="#262626" stroke-width="0.7"/>
<circle cx="99.2" cy="454.1" r="2.5" fill="#e7a636" stroke="#262626" stroke-width="0.7"/>
<circle cx="100.7" cy="457" r="2.5" fill="#e7a636" stroke="#262626" stroke-width="0.7"/>
<circle cx="99.6" cy="461" r="2.5" fill="#e7a636" stroke="#262626" stroke-width="0.7"/>
<circle cx="99.6" cy="466.2" r="2.5" fill="#e7a636" stroke="#262626" stroke-width="0.7"/>
<circle cx="99.2" cy="473.7" r="2.5" fill="#e7a636" stroke="#262626" stroke-width="0.7"/>
<circle cx="99.2" cy="487" r="2.5" fill="#e7a636" stroke="#262626" stroke-width="0.7"/>
<circle cx="99.6" cy="492.7" r="2.5" fill="#e7a636" stroke="#262626" stroke-width="0.7"/>
<circle cx="96.8" cy="494.5" r="2.5" fill="#e7a636" stroke="#262626" stroke-width="0.7"/>
<circle cx="101.4" cy="495.6" r="2.5" fill="#e7a636" stroke="#262626" stroke-width="0.7"/>
<circle cx="97.1" cy="496.2" r="2.5" fill="#e7a636" stroke="#262626" stroke-width="0.7"/>
<circle cx="97.7" cy="496.2" r="2.5" fill="#e7a636" stroke="#262626" stroke-width="0.7"/>
<circle cx="114.9" cy="490.4" r="2.5" fill="#999999" stroke="#262626" stroke-width="0.7"/>
<circle cx="117.8" cy="492.2" r="2.5" fill="#999999" stroke="#262626" stroke-width="0.7"/>
<circle cx="115.3" cy="493.9" r="2.5" fill="#999999" stroke="#262626" stroke-width="0.7"/>
<circle cx="112.2" cy="495.6" r="2.5" fill="#999999" stroke="#262626" stroke-width="0.7"/>
<circle cx="117.7" cy="496.2" r="2.5" fill="#999999" stroke="#262626" stroke-width="0.7"/>
<line x1="149.1" y1="499.3" x2="149.1" y2="502.3" stroke="#231f20" stroke-width="0.8"/>
<text x="149.1" y="510.8" font-size="6.2" text-anchor="middle">Csf1r</text>
<line x1="134.6" y1="496.2" x2="147.6" y2="496.2" stroke="#262626" stroke-width="0.8"/>
<line x1="150.2" y1="496.2" x2="163.2" y2="496.2" stroke="#262626" stroke-width="0.8"/>
<circle cx="141.3" cy="466.2" r="2.5" fill="#e7a636" stroke="#262626" stroke-width="0.7"/>
<circle cx="141.4" cy="473.7" r="2.5" fill="#e7a636" stroke="#262626" stroke-width="0.7"/>
<circle cx="141.1" cy="481.2" r="2.5" fill="#e7a636" stroke="#262626" stroke-width="0.7"/>
<circle cx="141.1" cy="491.6" r="2.5" fill="#e7a636" stroke="#262626" stroke-width="0.7"/>
<circle cx="140.9" cy="495" r="2.5" fill="#e7a636" stroke="#262626" stroke-width="0.7"/>
<circle cx="144.1" cy="496.2" r="2.5" fill="#e7a636" stroke="#262626" stroke-width="0.7"/>
<circle cx="137.7" cy="496.2" r="2.5" fill="#e7a636" stroke="#262626" stroke-width="0.7"/>
<circle cx="156.5" cy="478.3" r="2.5" fill="#999999" stroke="#262626" stroke-width="0.7"/>
<circle cx="156.8" cy="490.4" r="2.5" fill="#999999" stroke="#262626" stroke-width="0.7"/>
<circle cx="156.7" cy="494.5" r="2.5" fill="#999999" stroke="#262626" stroke-width="0.7"/>
<circle cx="159.6" cy="496.2" r="2.5" fill="#999999" stroke="#262626" stroke-width="0.7"/>
<circle cx="153.9" cy="496.2" r="2.5" fill="#999999" stroke="#262626" stroke-width="0.7"/>
<line x1="190.9" y1="499.3" x2="190.9" y2="502.3" stroke="#231f20" stroke-width="0.8"/>
<text x="190.9" y="510.8" font-size="6.2" text-anchor="middle">Fcer1g</text>
<rect x="175.7" y="483.2" width="14.4" height="13" fill="#f7e6c4" stroke="#262626" stroke-width="0.6"/>
<line x1="192" y1="496.2" x2="205" y2="496.2" stroke="#262626" stroke-width="0.8"/>
<circle cx="183" cy="432.7" r="2.5" fill="#e7a636" stroke="#262626" stroke-width="0.7"/>
<circle cx="182.6" cy="437.3" r="2.5" fill="#e7a636" stroke="#262626" stroke-width="0.7"/>
<circle cx="182.7" cy="446" r="2.5" fill="#e7a636" stroke="#262626" stroke-width="0.7"/>
<circle cx="184.3" cy="448.9" r="2.5" fill="#e7a636" stroke="#262626" stroke-width="0.7"/>
<circle cx="182.6" cy="454.1" r="2.5" fill="#e7a636" stroke="#262626" stroke-width="0.7"/>
<circle cx="184.1" cy="457" r="2.5" fill="#e7a636" stroke="#262626" stroke-width="0.7"/>
<circle cx="183" cy="460.4" r="2.5" fill="#e7a636" stroke="#262626" stroke-width="0.7"/>
<circle cx="185.2" cy="462.7" r="2.5" fill="#e7a636" stroke="#262626" stroke-width="0.7"/>
<circle cx="182.7" cy="490.4" r="2.5" fill="#e7a636" stroke="#262626" stroke-width="0.7"/>
<circle cx="184.9" cy="492.7" r="2.5" fill="#e7a636" stroke="#262626" stroke-width="0.7"/>
<circle cx="181.9" cy="494.5" r="2.5" fill="#e7a636" stroke="#262626" stroke-width="0.7"/>
<circle cx="186.6" cy="495.6" r="2.5" fill="#e7a636" stroke="#262626" stroke-width="0.7"/>
<circle cx="179.2" cy="496.2" r="2.5" fill="#e7a636" stroke="#262626" stroke-width="0.7"/>
<circle cx="179.9" cy="496.2" r="2.5" fill="#e7a636" stroke="#262626" stroke-width="0.7"/>
<circle cx="198.5" cy="484.7" r="2.5" fill="#999999" stroke="#262626" stroke-width="0.7"/>
<circle cx="201" cy="487" r="2.5" fill="#999999" stroke="#262626" stroke-width="0.7"/>
<circle cx="198.7" cy="489.3" r="2.5" fill="#999999" stroke="#262626" stroke-width="0.7"/>
<circle cx="196.5" cy="491.6" r="2.5" fill="#999999" stroke="#262626" stroke-width="0.7"/>
<circle cx="198.9" cy="493.9" r="2.5" fill="#999999" stroke="#262626" stroke-width="0.7"/>
<circle cx="196.8" cy="496.2" r="2.5" fill="#999999" stroke="#262626" stroke-width="0.7"/>
<line x1="232.6" y1="499.3" x2="232.6" y2="502.3" stroke="#231f20" stroke-width="0.8"/>
<text x="232.6" y="510.8" font-size="6.2" text-anchor="middle">Irf7</text>
<line x1="218.1" y1="496.2" x2="231.1" y2="496.2" stroke="#262626" stroke-width="0.8"/>
<line x1="233.7" y1="496.2" x2="246.7" y2="496.2" stroke="#262626" stroke-width="0.8"/>
<circle cx="224.5" cy="439.7" r="2.5" fill="#e7a636" stroke="#262626" stroke-width="0.7"/>
<circle cx="224.5" cy="454.1" r="2.5" fill="#e7a636" stroke="#262626" stroke-width="0.7"/>
<circle cx="224.5" cy="458.7" r="2.5" fill="#e7a636" stroke="#262626" stroke-width="0.7"/>
<circle cx="227.5" cy="460.4" r="2.5" fill="#e7a636" stroke="#262626" stroke-width="0.7"/>
<circle cx="223.5" cy="461.6" r="2.5" fill="#e7a636" stroke="#262626" stroke-width="0.7"/>
<circle cx="224.4" cy="493.3" r="2.5" fill="#e7a636" stroke="#262626" stroke-width="0.7"/>
<circle cx="227.6" cy="494.5" r="2.5" fill="#e7a636" stroke="#262626" stroke-width="0.7"/>
<circle cx="221.3" cy="495" r="2.5" fill="#e7a636" stroke="#262626" stroke-width="0.7"/>
<circle cx="223.4" cy="496.2" r="2.5" fill="#e7a636" stroke="#262626" stroke-width="0.7"/>
<circle cx="223.5" cy="496.2" r="2.5" fill="#e7a636" stroke="#262626" stroke-width="0.7"/>
<circle cx="240.2" cy="492.2" r="2.5" fill="#999999" stroke="#262626" stroke-width="0.7"/>
<circle cx="243.1" cy="493.9" r="2.5" fill="#999999" stroke="#262626" stroke-width="0.7"/>
<circle cx="240.2" cy="495.6" r="2.5" fill="#999999" stroke="#262626" stroke-width="0.7"/>
<circle cx="237.2" cy="496.2" r="2.5" fill="#999999" stroke="#262626" stroke-width="0.7"/>
<line x1="274.3" y1="499.3" x2="274.3" y2="502.3" stroke="#231f20" stroke-width="0.8"/>
<text x="274.3" y="510.8" font-size="6.2" text-anchor="middle">Mpeg1</text>
<line x1="259.8" y1="496.2" x2="272.8" y2="496.2" stroke="#262626" stroke-width="0.8"/>
<line x1="275.4" y1="496.2" x2="288.4" y2="496.2" stroke="#262626" stroke-width="0.8"/>
<circle cx="266.3" cy="461" r="2.5" fill="#e7a636" stroke="#262626" stroke-width="0.7"/>
<circle cx="266.1" cy="467.9" r="2.5" fill="#e7a636" stroke="#262626" stroke-width="0.7"/>
<circle cx="266.5" cy="475.4" r="2.5" fill="#e7a636" stroke="#262626" stroke-width="0.7"/>
<circle cx="266.5" cy="481.2" r="2.5" fill="#e7a636" stroke="#262626" stroke-width="0.7"/>
<circle cx="266.2" cy="486.4" r="2.5" fill="#e7a636" stroke="#262626" stroke-width="0.7"/>
<circle cx="267.4" cy="489.3" r="2.5" fill="#e7a636" stroke="#262626" stroke-width="0.7"/>
<circle cx="266.3" cy="496.2" r="2.5" fill="#e7a636" stroke="#262626" stroke-width="0.7"/>
<circle cx="269.5" cy="496.2" r="2.5" fill="#e7a636" stroke="#262626" stroke-width="0.7"/>
<circle cx="281.9" cy="496.2" r="2.5" fill="#999999" stroke="#262626" stroke-width="0.7"/>
<circle cx="279" cy="496.2" r="2.5" fill="#999999" stroke="#262626" stroke-width="0.7"/>
<circle cx="285.6" cy="496.2" r="2.5" fill="#999999" stroke="#262626" stroke-width="0.7"/>
<line x1="316" y1="499.3" x2="316" y2="502.3" stroke="#231f20" stroke-width="0.8"/>
<text x="316" y="510.8" font-size="6.2" text-anchor="middle">Sirpa</text>
<line x1="301.5" y1="496.2" x2="314.5" y2="496.2" stroke="#262626" stroke-width="0.8"/>
<line x1="317.1" y1="496.2" x2="330.1" y2="496.2" stroke="#262626" stroke-width="0.8"/>
<circle cx="308.2" cy="457.5" r="2.5" fill="#e7a636" stroke="#262626" stroke-width="0.7"/>
<circle cx="307.8" cy="461.6" r="2.5" fill="#e7a636" stroke="#262626" stroke-width="0.7"/>
<circle cx="309.4" cy="464.5" r="2.5" fill="#e7a636" stroke="#262626" stroke-width="0.7"/>
<circle cx="308.2" cy="467.3" r="2.5" fill="#e7a636" stroke="#262626" stroke-width="0.7"/>
<circle cx="307.8" cy="496.2" r="2.5" fill="#e7a636" stroke="#262626" stroke-width="0.7"/>
<circle cx="310.9" cy="496.2" r="2.5" fill="#e7a636" stroke="#262626" stroke-width="0.7"/>
<circle cx="304.6" cy="496.2" r="2.5" fill="#e7a636" stroke="#262626" stroke-width="0.7"/>
<circle cx="323.9" cy="496.2" r="2.5" fill="#999999" stroke="#262626" stroke-width="0.7"/>
<circle cx="320.2" cy="496.2" r="2.5" fill="#999999" stroke="#262626" stroke-width="0.7"/>
<circle cx="327.3" cy="496.2" r="2.5" fill="#999999" stroke="#262626" stroke-width="0.7"/>
<line x1="357.7" y1="499.3" x2="357.7" y2="502.3" stroke="#231f20" stroke-width="0.8"/>
<text x="357.7" y="510.8" font-size="6.2" text-anchor="middle">Spic</text>
<line x1="343.2" y1="496.2" x2="356.2" y2="496.2" stroke="#262626" stroke-width="0.8"/>
<line x1="358.8" y1="496.2" x2="371.8" y2="496.2" stroke="#262626" stroke-width="0.8"/>
<circle cx="349.5" cy="438.5" r="2.5" fill="#e7a636" stroke="#262626" stroke-width="0.7"/>
<circle cx="349.9" cy="457.5" r="2.5" fill="#e7a636" stroke="#262626" stroke-width="0.7"/>
<circle cx="349.8" cy="494.5" r="2.5" fill="#e7a636" stroke="#262626" stroke-width="0.7"/>
<circle cx="352.7" cy="495.6" r="2.5" fill="#e7a636" stroke="#262626" stroke-width="0.7"/>
<circle cx="346.9" cy="496.2" r="2.5" fill="#e7a636" stroke="#262626" stroke-width="0.7"/>
<circle cx="351.9" cy="496.2" r="2.5" fill="#e7a636" stroke="#262626" stroke-width="0.7"/>
<circle cx="365.5" cy="492.2" r="2.5" fill="#999999" stroke="#262626" stroke-width="0.7"/>
<circle cx="363" cy="494.5" r="2.5" fill="#999999" stroke="#262626" stroke-width="0.7"/>
<circle cx="365.7" cy="496.2" r="2.5" fill="#999999" stroke="#262626" stroke-width="0.7"/>
<line x1="399.5" y1="499.3" x2="399.5" y2="502.3" stroke="#231f20" stroke-width="0.8"/>
<text x="399.5" y="510.8" font-size="6.2" text-anchor="middle">Tyrobp</text>
<rect x="384.3" y="461.2" width="14.4" height="35" fill="#f7e6c4" stroke="#262626" stroke-width="0.6"/>
<line x1="400.6" y1="496.2" x2="413.6" y2="496.2" stroke="#262626" stroke-width="0.8"/>
<circle cx="391.7" cy="434.5" r="2.5" fill="#e7a636" stroke="#262626" stroke-width="0.7"/>
<circle cx="390.2" cy="437.3" r="2.5" fill="#e7a636" stroke="#262626" stroke-width="0.7"/>
<circle cx="391.5" cy="440.2" r="2.5" fill="#e7a636" stroke="#262626" stroke-width="0.7"/>
<circle cx="393.7" cy="442.5" r="2.5" fill="#e7a636" stroke="#262626" stroke-width="0.7"/>
<circle cx="391.1" cy="444.3" r="2.5" fill="#e7a636" stroke="#262626" stroke-width="0.7"/>
<circle cx="391.6" cy="447.7" r="2.5" fill="#e7a636" stroke="#262626" stroke-width="0.7"/>
<circle cx="394" cy="450" r="2.5" fill="#e7a636" stroke="#262626" stroke-width="0.7"/>
<circle cx="391" cy="451.8" r="2.5" fill="#e7a636" stroke="#262626" stroke-width="0.7"/>
<circle cx="391.7" cy="455.2" r="2.5" fill="#e7a636" stroke="#262626" stroke-width="0.7"/>
<circle cx="391.6" cy="458.7" r="2.5" fill="#e7a636" stroke="#262626" stroke-width="0.7"/>
<circle cx="391.7" cy="462.7" r="2.5" fill="#e7a636" stroke="#262626" stroke-width="0.7"/>
<circle cx="391.6" cy="486.4" r="2.5" fill="#e7a636" stroke="#262626" stroke-width="0.7"/>
<circle cx="391.7" cy="490.4" r="2.5" fill="#e7a636" stroke="#262626" stroke-width="0.7"/>
<circle cx="390.3" cy="493.3" r="2.5" fill="#e7a636" stroke="#262626" stroke-width="0.7"/>
<circle cx="393.5" cy="495" r="2.5" fill="#e7a636" stroke="#262626" stroke-width="0.7"/>
<circle cx="388.8" cy="496.2" r="2.5" fill="#e7a636" stroke="#262626" stroke-width="0.7"/>
<circle cx="407.1" cy="485.8" r="2.5" fill="#999999" stroke="#262626" stroke-width="0.7"/>
<circle cx="409.4" cy="488.1" r="2.5" fill="#999999" stroke="#262626" stroke-width="0.7"/>
<circle cx="407.2" cy="490.4" r="2.5" fill="#999999" stroke="#262626" stroke-width="0.7"/>
<circle cx="405.7" cy="493.3" r="2.5" fill="#999999" stroke="#262626" stroke-width="0.7"/>
<circle cx="407" cy="496.2" r="2.5" fill="#999999" stroke="#262626" stroke-width="0.7"/>
<line x1="441.2" y1="499.3" x2="441.2" y2="502.3" stroke="#231f20" stroke-width="0.8"/>
<text x="441.2" y="510.8" font-size="6.2" text-anchor="middle">Vcam1</text>
<line x1="426.7" y1="496.2" x2="439.7" y2="496.2" stroke="#262626" stroke-width="0.8"/>
<line x1="442.3" y1="496.2" x2="455.3" y2="496.2" stroke="#262626" stroke-width="0.8"/>
<circle cx="433" cy="454.7" r="2.5" fill="#e7a636" stroke="#262626" stroke-width="0.7"/>
<circle cx="433.3" cy="459.3" r="2.5" fill="#e7a636" stroke="#262626" stroke-width="0.7"/>
<circle cx="430.8" cy="461" r="2.5" fill="#e7a636" stroke="#262626" stroke-width="0.7"/>
<circle cx="433.1" cy="467.3" r="2.5" fill="#e7a636" stroke="#262626" stroke-width="0.7"/>
<circle cx="433" cy="473.7" r="2.5" fill="#e7a636" stroke="#262626" stroke-width="0.7"/>
<circle cx="435.7" cy="475.4" r="2.5" fill="#e7a636" stroke="#262626" stroke-width="0.7"/>
<circle cx="433.1" cy="485.8" r="2.5" fill="#e7a636" stroke="#262626" stroke-width="0.7"/>
<circle cx="433.1" cy="493.3" r="2.5" fill="#e7a636" stroke="#262626" stroke-width="0.7"/>
<circle cx="436.2" cy="495" r="2.5" fill="#e7a636" stroke="#262626" stroke-width="0.7"/>
<circle cx="431.6" cy="496.2" r="2.5" fill="#e7a636" stroke="#262626" stroke-width="0.7"/>
<circle cx="448.7" cy="496.2" r="2.5" fill="#999999" stroke="#262626" stroke-width="0.7"/>
<circle cx="451.7" cy="496.2" r="2.5" fill="#999999" stroke="#262626" stroke-width="0.7"/>
<circle cx="445.3" cy="496.2" r="2.5" fill="#999999" stroke="#262626" stroke-width="0.7"/>
<text x="7.4" y="538.8" font-size="11.3" textLength="6.4" lengthAdjust="spacingAndGlyphs">E</text>
<text transform="translate(17.4 568.7) rotate(-90)" font-size="8.2" text-anchor="middle" textLength="38" lengthAdjust="spacingAndGlyphs">Frequency</text>
<path d="M41.5 600.3L41.5 599.2L41.9 599.1L42.2 598.9L42.6 598.7L42.9 598.5L43.3 598.3L43.6 598L44 597.8L44.3 597.5L44.7 597.2L45 596.8L45.4 596.4L45.7 596L46.1 595.6L46.4 595L46.8 594.4L47.1 593.8L47.5 593L47.8 592.1L48.2 591L48.5 589.7L48.9 588.2L49.2 586.4L49.6 584.3L49.9 581.9L50.3 579.2L50.6 576.1L51 572.6L51.3 568.9L51.7 565L52 560.8L52.4 556.7L52.7 552.6L53.1 548.8L53.4 545.4L53.8 542.5L54.1 540.2L54.5 538.7L54.8 538L55.2 538.1L55.5 538.7L55.9 539.8L56.2 541.3L56.6 543.1L56.9 545.4L57.3 547.9L57.6 550.7L58 553.6L58.3 556.7L58.7 559.8L59 562.9L59.4 566L59.7 568.9L60.1 571.7L60.4 574.4L60.8 576.9L61.1 579.2L61.5 581.3L61.8 583.2L62.2 584.9L62.5 586.4L62.9 587.8L63.2 589L63.6 590L63.9 591L64.3 591.8L64.6 592.5L65 593.2L65.3 593.8L65.7 594.3L66 594.7L66.4 595.2L66.7 595.6L67.1 595.9L67.4 596.2L67.8 596.5L68.1 596.8L68.5 597.1L68.8 597.3L69.2 597.6L69.5 597.8L69.8 598L70.2 598.2L70.5 598.4L70.9 598.5L71.2 598.7L71.6 598.8L71.9 598.9L72.3 599.1L72.6 599.2L73 599.3L73.3 599.4L73.7 599.5L74 599.6L74.4 599.6L74.7 599.7L75.1 599.8L75.4 599.8L75.8 599.9L76.1 599.9L76.5 600L76.8 600L77.2 600L77.5 600.1L77.9 600.1L78.2 600.1L78.6 600.1L78.9 600.2L79.3 600.2L79.6 600.2L80 600.2L80.3 600.2L80.7 600.2L81 600.2L81.4 600.2L81.7 600.3L82.1 600.3L82.4 600.3L82.8 600.3L83.1 600.3L83.5 600.3L83.8 600.3L84.2 600.3L84.5 600.3L84.9 600.3L85.2 600.3L85.6 600.3L85.9 600.3L86.3 600.3L86.6 600.3L87 600.3L87.3 600.3L87.7 600.3L88 600.3L88.4 600.3L88.7 600.3L89.1 600.3L89.4 600.3L89.8 600.3L90.1 600.3L90.5 600.3L90.8 600.3L91.2 600.3L91.5 600.3L91.9 600.3L92.2 600.3L92.6 600.3L92.9 600.3L93.3 600.3L93.6 600.3L94 600.3L94.3 600.3L94.7 600.3L95 600.3L95.4 600.3L95.7 600.3L96.1 600.3L96.4 600.3L96.8 600.3L97.1 600.3L97.5 600.3L97.8 600.3L98.2 600.3L98.5 600.3L98.9 600.3L99.2 600.3L99.6 600.3L99.9 600.3L100.3 600.3L100.6 600.3L101 600.3L101.3 600.3L101.7 600.3L102 600.3L102.4 600.3L102.7 600.3L103.1 600.3L103.4 600.3L103.8 600.3L104.1 600.3L104.5 600.3L104.8 600.3L105.2 600.3L105.5 600.3L105.9 600.3L105.9 600.3" fill="#dcdcdc" fill-opacity="0.8"/>
<path d="M41.5 600.3L41.5 600.3L41.9 600.3L42.2 600.3L42.6 600.3L42.9 600.2L43.3 600.2L43.6 600.2L44 600.2L44.3 600.1L44.7 600.1L45 600L45.4 600L45.7 599.9L46.1 599.8L46.4 599.7L46.8 599.6L47.1 599.4L47.5 599.3L47.8 599.1L48.2 598.9L48.5 598.6L48.9 598.3L49.2 597.9L49.6 597.3L49.9 596.6L50.3 595.5L50.6 594.1L51 592.1L51.3 589.5L51.7 586L52 581.6L52.4 576.3L52.7 570.3L53.1 563.6L53.4 556.8L53.8 550.3L54.1 544.7L54.5 540.6L54.8 538.4L55.2 538.1L55.5 539.5L55.9 542.1L56.2 545.9L56.6 550.6L56.9 555.9L57.3 561.5L57.6 567L58 572.3L58.3 577.2L58.7 581.5L59 585.1L59.4 588.2L59.7 590.7L60.1 592.7L60.4 594.2L60.8 595.4L61.1 596.3L61.5 597L61.8 597.5L62.2 597.9L62.5 598.3L62.9 598.5L63.2 598.8L63.6 599L63.9 599.1L64.3 599.3L64.6 599.4L65 599.5L65.3 599.7L65.7 599.7L66 599.8L66.4 599.9L66.7 600L67.1 600L67.4 600.1L67.8 600.1L68.1 600.1L68.5 600.2L68.8 600.2L69.2 600.2L69.5 600.2L69.8 600.2L70.2 600.3L70.5 600.3L70.9 600.3L71.2 600.3L71.6 600.3L71.9 600.3L72.3 600.3L72.6 600.3L73 600.3L73.3 600.3L73.7 600.3L74 600.3L74.4 600.3L74.7 600.3L75.1 600.3L75.4 600.3L75.8 600.3L76.1 600.3L76.5 600.3L76.8 600.3L77.2 600.3L77.5 600.3L77.9 600.3L78.2 600.3L78.6 600.3L78.9 600.3L79.3 600.3L79.6 600.3L80 600.3L80.3 600.3L80.7 600.3L81 600.3L81.4 600.3L81.7 600.3L82.1 600.3L82.4 600.3L82.8 600.3L83.1 600.3L83.5 600.3L83.8 600.3L84.2 600.3L84.5 600.3L84.9 600.3L85.2 600.3L85.6 600.3L85.9 600.3L86.3 600.3L86.6 600.3L87 600.3L87.3 600.3L87.7 600.3L88 600.3L88.4 600.3L88.7 600.3L89.1 600.3L89.4 600.3L89.8 600.3L90.1 600.3L90.5 600.3L90.8 600.3L91.2 600.3L91.5 600.3L91.9 600.3L92.2 600.3L92.6 600.3L92.9 600.3L93.3 600.3L93.6 600.3L94 600.3L94.3 600.3L94.7 600.3L95 600.3L95.4 600.3L95.7 600.3L96.1 600.3L96.4 600.3L96.8 600.3L97.1 600.3L97.5 600.3L97.8 600.3L98.2 600.3L98.5 600.3L98.9 600.3L99.2 600.3L99.6 600.3L99.9 600.3L100.3 600.3L100.6 600.3L101 600.3L101.3 600.3L101.7 600.3L102 600.3L102.4 600.3L102.7 600.3L103.1 600.3L103.4 600.3L103.8 600.3L104.1 600.3L104.5 600.3L104.8 600.3L105.2 600.3L105.5 600.3L105.9 600.3L105.9 600.3" fill="#d2ddef" fill-opacity="0.8"/>
<path d="M41.5 600.3L41.5 600.3L41.9 600.3L42.2 600.3L42.6 600.3L42.9 600.3L43.3 600.3L43.6 600.3L44 600.3L44.3 600.3L44.7 600.3L45 600.3L45.4 600.3L45.7 600.3L46.1 600.3L46.4 600.3L46.8 600.3L47.1 600.3L47.5 600.3L47.8 600.3L48.2 600.3L48.5 600.3L48.9 600.3L49.2 600.3L49.6 600.3L49.9 600.3L50.3 600.3L50.6 600.3L51 600.3L51.3 600.3L51.7 600.3L52 600.3L52.4 600.3L52.7 600.3L53.1 600.3L53.4 600.3L53.8 600.3L54.1 600.3L54.5 600.3L54.8 600.3L55.2 600.3L55.5 600.3L55.9 600.3L56.2 600.3L56.6 600.3L56.9 600.3L57.3 600.3L57.6 600.3L58 600.3L58.3 600.3L58.7 600.3L59 600.3L59.4 600.3L59.7 600.1L60.1 599.6L60.4 599.2L60.8 598.7L61.1 598.2L61.5 597.3L61.8 596.4L62.2 595.6L62.5 594.7L62.9 593.3L63.2 591.9L63.6 590.5L63.9 589.5L64.3 588.6L64.6 587.7L65 586.7L65.3 585.8L65.7 584.9L66 583.9L66.4 583L66.7 581.7L67.1 580.3L67.4 578.9L67.8 577.4L68.1 576.3L68.5 575.2L68.8 574.1L69.2 573.1L69.5 572.1L69.8 571L70.2 570L70.5 568.9L70.9 567.2L71.2 565.4L71.6 563.5L71.9 561.4L72.3 559.2L72.6 557L73 556.2L73.3 558.6L73.7 560.9L74 562.4L74.4 563.5L74.7 563.2L75.1 563L75.4 563.4L75.8 564.2L76.1 564.7L76.5 564.4L76.8 564.4L77.2 565.9L77.5 567.5L77.9 569.1L78.2 570.8L78.6 572L78.9 572.8L79.3 572.3L79.6 571.8L80 572.9L80.3 575.1L80.7 577.2L81 579.3L81.4 581L81.7 582.8L82.1 584.5L82.4 585.8L82.8 587.1L83.1 588.2L83.5 589.2L83.8 590.1L84.2 590.9L84.5 591.7L84.9 592.6L85.2 593.1L85.6 593.6L85.9 594L86.3 594.4L86.6 594.9L87 595.5L87.3 596.1L87.7 596.7L88 597.2L88.4 597.6L88.7 598L89.1 598.4L89.4 598.8L89.8 599.3L90.1 599.5L90.5 599.8L90.8 600L91.2 600.2L91.5 600.3L91.9 600.3L92.2 600.3L92.6 600.3L92.9 600.3L93.3 600.3L93.6 600.3L94 600.3L94.3 600.3L94.7 600.3L95 600.3L95.4 600.3L95.7 600.3L96.1 600.3L96.4 600.3L96.8 600.3L97.1 600.3L97.5 600.3L97.8 600.3L98.2 600.3L98.5 600.3L98.9 600.3L99.2 600.3L99.6 600.3L99.9 600.3L100.3 600.3L100.6 600.3L101 600.3L101.3 600.3L101.7 600.3L102 600.3L102.4 600.3L102.7 600.3L103.1 600.3L103.4 600.3L103.8 600.3L104.1 600.3L104.5 600.3L104.8 600.3L105.2 600.3L105.5 600.3L105.9 600.3L105.9 600.3" fill="#f2d9aa" fill-opacity="0.75"/>
<path d="M41.5 600.3L41.5 600.3L41.9 600.3L42.2 600.3L42.6 600.3L42.9 600.2L43.3 600.2L43.6 600.2L44 600.2L44.3 600.1L44.7 600.1L45 600L45.4 600L45.7 599.9L46.1 599.8L46.4 599.7L46.8 599.6L47.1 599.4L47.5 599.3L47.8 599.1L48.2 598.9L48.5 598.6L48.9 598.3L49.2 597.9L49.6 597.3L49.9 596.6L50.3 595.5L50.6 594.1L51 592.1L51.3 589.5L51.7 586L52 581.6L52.4 576.3L52.7 570.3L53.1 563.6L53.4 556.8L53.8 550.3L54.1 544.7L54.5 540.6L54.8 538.4L55.2 538.1L55.5 539.5L55.9 542.1L56.2 545.9L56.6 550.6L56.9 555.9L57.3 561.5L57.6 567L58 572.3L58.3 577.2L58.7 581.5L59 585.1L59.4 588.2L59.7 590.7L60.1 592.7L60.4 594.2L60.8 595.4L61.1 596.3L61.5 597L61.8 597.5L62.2 597.9L62.5 598.3L62.9 598.5L63.2 598.8L63.6 599L63.9 599.1L64.3 599.3L64.6 599.4L65 599.5L65.3 599.7L65.7 599.7L66 599.8L66.4 599.9L66.7 600L67.1 600L67.4 600.1L67.8 600.1L68.1 600.1L68.5 600.2L68.8 600.2L69.2 600.2L69.5 600.2L69.8 600.2L70.2 600.3L70.5 600.3L70.9 600.3L71.2 600.3L71.6 600.3L71.9 600.3L72.3 600.3L72.6 600.3L73 600.3L73.3 600.3L73.7 600.3L74 600.3L74.4 600.3L74.7 600.3L75.1 600.3L75.4 600.3L75.8 600.3L76.1 600.3L76.5 600.3L76.8 600.3L77.2 600.3L77.5 600.3L77.9 600.3L78.2 600.3L78.6 600.3L78.9 600.3L79.3 600.3L79.6 600.3L80 600.3L80.3 600.3L80.7 600.3L81 600.3L81.4 600.3L81.7 600.3L82.1 600.3L82.4 600.3L82.8 600.3L83.1 600.3L83.5 600.3L83.8 600.3L84.2 600.3L84.5 600.3L84.9 600.3L85.2 600.3L85.6 600.3L85.9 600.3L86.3 600.3L86.6 600.3L87 600.3L87.3 600.3L87.7 600.3L88 600.3L88.4 600.3L88.7 600.3L89.1 600.3L89.4 600.3L89.8 600.3L90.1 600.3L90.5 600.3L90.8 600.3L91.2 600.3L91.5 600.3L91.9 600.3L92.2 600.3L92.6 600.3L92.9 600.3L93.3 600.3L93.6 600.3L94 600.3L94.3 600.3L94.7 600.3L95 600.3L95.4 600.3L95.7 600.3L96.1 600.3L96.4 600.3L96.8 600.3L97.1 600.3L97.5 600.3L97.8 600.3L98.2 600.3L98.5 600.3L98.9 600.3L99.2 600.3L99.6 600.3L99.9 600.3L100.3 600.3L100.6 600.3L101 600.3L101.3 600.3L101.7 600.3L102 600.3L102.4 600.3L102.7 600.3L103.1 600.3L103.4 600.3L103.8 600.3L104.1 600.3L104.5 600.3L104.8 600.3L105.2 600.3L105.5 600.3L105.9 600.3L105.9 600.3" fill="none" stroke="#6f9bd2" stroke-width="0.75" stroke-linejoin="round"/>
<path d="M41.5 600.3L41.5 600.3L41.9 600.3L42.2 600.3L42.6 600.3L42.9 600.3L43.3 600.3L43.6 600.3L44 600.3L44.3 600.3L44.7 600.3L45 600.3L45.4 600.3L45.7 600.3L46.1 600.3L46.4 600.3L46.8 600.3L47.1 600.3L47.5 600.3L47.8 600.3L48.2 600.3L48.5 600.3L48.9 600.3L49.2 600.3L49.6 600.3L49.9 600.3L50.3 600.3L50.6 600.3L51 600.3L51.3 600.3L51.7 600.3L52 600.3L52.4 600.3L52.7 600.3L53.1 600.3L53.4 600.3L53.8 600.3L54.1 600.3L54.5 600.3L54.8 600.3L55.2 600.3L55.5 600.3L55.9 600.3L56.2 600.3L56.6 600.3L56.9 600.3L57.3 600.3L57.6 600.3L58 600.3L58.3 600.3L58.7 600.3L59 600.3L59.4 600.3L59.7 600.1L60.1 599.6L60.4 599.2L60.8 598.7L61.1 598.2L61.5 597.3L61.8 596.4L62.2 595.6L62.5 594.7L62.9 593.3L63.2 591.9L63.6 590.5L63.9 589.5L64.3 588.6L64.6 587.7L65 586.7L65.3 585.8L65.7 584.9L66 583.9L66.4 583L66.7 581.7L67.1 580.3L67.4 578.9L67.8 577.4L68.1 576.3L68.5 575.2L68.8 574.1L69.2 573.1L69.5 572.1L69.8 571L70.2 570L70.5 568.9L70.9 567.2L71.2 565.4L71.6 563.5L71.9 561.4L72.3 559.2L72.6 557L73 556.2L73.3 558.6L73.7 560.9L74 562.4L74.4 563.5L74.7 563.2L75.1 563L75.4 563.4L75.8 564.2L76.1 564.7L76.5 564.4L76.8 564.4L77.2 565.9L77.5 567.5L77.9 569.1L78.2 570.8L78.6 572L78.9 572.8L79.3 572.3L79.6 571.8L80 572.9L80.3 575.1L80.7 577.2L81 579.3L81.4 581L81.7 582.8L82.1 584.5L82.4 585.8L82.8 587.1L83.1 588.2L83.5 589.2L83.8 590.1L84.2 590.9L84.5 591.7L84.9 592.6L85.2 593.1L85.6 593.6L85.9 594L86.3 594.4L86.6 594.9L87 595.5L87.3 596.1L87.7 596.7L88 597.2L88.4 597.6L88.7 598L89.1 598.4L89.4 598.8L89.8 599.3L90.1 599.5L90.5 599.8L90.8 600L91.2 600.2L91.5 600.3L91.9 600.3L92.2 600.3L92.6 600.3L92.9 600.3L93.3 600.3L93.6 600.3L94 600.3L94.3 600.3L94.7 600.3L95 600.3L95.4 600.3L95.7 600.3L96.1 600.3L96.4 600.3L96.8 600.3L97.1 600.3L97.5 600.3L97.8 600.3L98.2 600.3L98.5 600.3L98.9 600.3L99.2 600.3L99.6 600.3L99.9 600.3L100.3 600.3L100.6 600.3L101 600.3L101.3 600.3L101.7 600.3L102 600.3L102.4 600.3L102.7 600.3L103.1 600.3L103.4 600.3L103.8 600.3L104.1 600.3L104.5 600.3L104.8 600.3L105.2 600.3L105.5 600.3L105.9 600.3L105.9 600.3" fill="none" stroke="#e07f78" stroke-width="0.75" stroke-linejoin="round"/>
<path d="M41.5 600.3L41.5 599.2L41.9 599.1L42.2 598.9L42.6 598.7L42.9 598.5L43.3 598.3L43.6 598L44 597.8L44.3 597.5L44.7 597.2L45 596.8L45.4 596.4L45.7 596L46.1 595.6L46.4 595L46.8 594.4L47.1 593.8L47.5 593L47.8 592.1L48.2 591L48.5 589.7L48.9 588.2L49.2 586.4L49.6 584.3L49.9 581.9L50.3 579.2L50.6 576.1L51 572.6L51.3 568.9L51.7 565L52 560.8L52.4 556.7L52.7 552.6L53.1 548.8L53.4 545.4L53.8 542.5L54.1 540.2L54.5 538.7L54.8 538L55.2 538.1L55.5 538.7L55.9 539.8L56.2 541.3L56.6 543.1L56.9 545.4L57.3 547.9L57.6 550.7L58 553.6L58.3 556.7L58.7 559.8L59 562.9L59.4 566L59.7 568.9L60.1 571.7L60.4 574.4L60.8 576.9L61.1 579.2L61.5 581.3L61.8 583.2L62.2 584.9L62.5 586.4L62.9 587.8L63.2 589L63.6 590L63.9 591L64.3 591.8L64.6 592.5L65 593.2L65.3 593.8L65.7 594.3L66 594.7L66.4 595.2L66.7 595.6L67.1 595.9L67.4 596.2L67.8 596.5L68.1 596.8L68.5 597.1L68.8 597.3L69.2 597.6L69.5 597.8L69.8 598L70.2 598.2L70.5 598.4L70.9 598.5L71.2 598.7L71.6 598.8L71.9 598.9L72.3 599.1L72.6 599.2L73 599.3L73.3 599.4L73.7 599.5L74 599.6L74.4 599.6L74.7 599.7L75.1 599.8L75.4 599.8L75.8 599.9L76.1 599.9L76.5 600L76.8 600L77.2 600L77.5 600.1L77.9 600.1L78.2 600.1L78.6 600.1L78.9 600.2L79.3 600.2L79.6 600.2L80 600.2L80.3 600.2L80.7 600.2L81 600.2L81.4 600.2L81.7 600.3L82.1 600.3L82.4 600.3L82.8 600.3L83.1 600.3L83.5 600.3L83.8 600.3L84.2 600.3L84.5 600.3L84.9 600.3L85.2 600.3L85.6 600.3L85.9 600.3L86.3 600.3L86.6 600.3L87 600.3L87.3 600.3L87.7 600.3L88 600.3L88.4 600.3L88.7 600.3L89.1 600.3L89.4 600.3L89.8 600.3L90.1 600.3L90.5 600.3L90.8 600.3L91.2 600.3L91.5 600.3L91.9 600.3L92.2 600.3L92.6 600.3L92.9 600.3L93.3 600.3L93.6 600.3L94 600.3L94.3 600.3L94.7 600.3L95 600.3L95.4 600.3L95.7 600.3L96.1 600.3L96.4 600.3L96.8 600.3L97.1 600.3L97.5 600.3L97.8 600.3L98.2 600.3L98.5 600.3L98.9 600.3L99.2 600.3L99.6 600.3L99.9 600.3L100.3 600.3L100.6 600.3L101 600.3L101.3 600.3L101.7 600.3L102 600.3L102.4 600.3L102.7 600.3L103.1 600.3L103.4 600.3L103.8 600.3L104.1 600.3L104.5 600.3L104.8 600.3L105.2 600.3L105.5 600.3L105.9 600.3L105.9 600.3" fill="none" stroke="#1e1e1e" stroke-width="0.75" stroke-linejoin="round"/>
<rect x="41" y="535.5" width="65.6" height="65.4" fill="none" stroke="#1e1e1e" stroke-width="1.3"/>
<line x1="37.7" y1="600.5" x2="41" y2="600.5" stroke="#1e1e1e" stroke-width="0.9"/>
<text x="34.1" y="602.6" font-size="6.1" text-anchor="end" textLength="3.1" lengthAdjust="spacingAndGlyphs">0</text>
<line x1="37.7" y1="588" x2="41" y2="588" stroke="#1e1e1e" stroke-width="0.9"/>
<text x="34.1" y="590.1" font-size="6.1" text-anchor="end" textLength="6.1" lengthAdjust="spacingAndGlyphs">20</text>
<line x1="37.7" y1="575.6" x2="41" y2="575.6" stroke="#1e1e1e" stroke-width="0.9"/>
<text x="34.1" y="577.7" font-size="6.1" text-anchor="end" textLength="6.1" lengthAdjust="spacingAndGlyphs">40</text>
<line x1="37.7" y1="563.1" x2="41" y2="563.1" stroke="#1e1e1e" stroke-width="0.9"/>
<text x="34.1" y="565.2" font-size="6.1" text-anchor="end" textLength="6.1" lengthAdjust="spacingAndGlyphs">60</text>
<line x1="37.7" y1="550.7" x2="41" y2="550.7" stroke="#1e1e1e" stroke-width="0.9"/>
<text x="34.1" y="552.8" font-size="6.1" text-anchor="end" textLength="6.1" lengthAdjust="spacingAndGlyphs">80</text>
<line x1="37.7" y1="538.2" x2="41" y2="538.2" stroke="#1e1e1e" stroke-width="0.9"/>
<text x="34.1" y="540.3" font-size="6.1" text-anchor="end" textLength="9.2" lengthAdjust="spacingAndGlyphs">100</text>
<path d="M41 597.4h-1.3M41 594.3h-1.3M41 591.2h-1.3M41 584.9h-1.3M41 581.8h-1.3M41 578.7h-1.3M41 572.5h-1.3M41 569.4h-1.3M41 566.2h-1.3M41 560h-1.3M41 556.9h-1.3M41 553.8h-1.3M41 547.5h-1.3M41 544.4h-1.3M41 541.3h-1.3" stroke="#1e1e1e" stroke-width="0.6"/>
<path d="M44 600.9v1.6M48.5 600.9v1.6M51.1 600.9v1.6M53 600.9v1.6M54.4 600.9v1.6M55.6 600.9v1.6M56.6 600.9v1.6M57.5 600.9v1.6M58.2 600.9v1.6M58.9 600.9v1.6M63.4 600.9v1.6M66 600.9v1.6M67.9 600.9v1.6M69.3 600.9v1.6M70.5 600.9v1.6M71.5 600.9v1.6M72.4 600.9v1.6M73.1 600.9v1.6M73.8 600.9v1.6M78.3 600.9v1.6M80.9 600.9v1.6M82.8 600.9v1.6M84.2 600.9v1.6M85.4 600.9v1.6M86.4 600.9v1.6M87.3 600.9v1.6M88 600.9v1.6M88.7 600.9v1.6M93.2 600.9v1.6M95.8 600.9v1.6M97.7 600.9v1.6M99.1 600.9v1.6M100.3 600.9v1.6M101.3 600.9v1.6M102.2 600.9v1.6M102.9 600.9v1.6" stroke="#1e1e1e" stroke-width="0.6"/>
<text x="39" y="615.5" font-size="8.6" textLength="12.8" lengthAdjust="spacingAndGlyphs">AXL</text>
<line x1="57" y1="612.6" x2="103.8" y2="612.6" stroke="#1e1e1e" stroke-width="1"/>
<path d="M101.3 610.2L106.8 612.6L101.3 615z" fill="#1e1e1e"/>
<path d="M141.2 600.8L141.2 600.8L141.5 600.8L141.9 600.8L142.2 600.8L142.6 600.8L142.9 600.8L143.3 600.8L143.6 600.8L144 600.8L144.3 600.8L144.7 600.8L145 600.8L145.4 600.8L145.7 600.8L146.1 600.8L146.4 600.8L146.8 600.8L147.1 600.8L147.5 600.8L147.8 600.8L148.2 600.8L148.5 600.8L148.9 600.8L149.2 600.8L149.6 600.8L149.9 600.8L150.3 600.8L150.6 600.8L151 600.8L151.3 600.7L151.7 600.7L152 600.7L152.4 600.7L152.7 600.6L153.1 600.6L153.4 600.5L153.8 600.4L154.1 600.3L154.5 600.2L154.8 600L155.2 599.9L155.5 599.7L155.9 599.4L156.2 599.1L156.6 598.8L156.9 598.4L157.3 597.8L157.6 597.1L158 596.1L158.3 594.7L158.7 592.6L159 589.8L159.4 586L159.7 581.1L160.1 575L160.4 568L160.8 560.4L161.1 552.9L161.5 546.2L161.8 541.2L162.2 538.3L162.5 538.1L162.9 539.8L163.2 543.3L163.6 548.2L163.9 554.1L164.3 560.4L164.6 566.8L165 572.9L165.3 578.3L165.7 583L166 586.9L166.4 590L166.7 592.4L167.1 594.2L167.4 595.5L167.8 596.5L168.1 597.3L168.5 597.9L168.8 598.3L169.2 598.7L169.5 599L169.9 599.3L170.2 599.5L170.6 599.7L170.9 599.9L171.3 600L171.6 600.1L172 600.3L172.3 600.4L172.7 600.4L173 600.5L173.4 600.6L173.7 600.6L174.1 600.6L174.4 600.7L174.8 600.7L175.1 600.7L175.5 600.7L175.8 600.8L176.2 600.8L176.5 600.8L176.9 600.8L177.2 600.8L177.6 600.8L177.9 600.8L178.3 600.8L178.6 600.8L179 600.8L179.3 600.8L179.7 600.8L180 600.8L180.4 600.8L180.7 600.8L181.1 600.8L181.4 600.8L181.8 600.8L182.1 600.8L182.5 600.8L182.8 600.8L183.2 600.8L183.5 600.8L183.9 600.8L184.2 600.8L184.6 600.8L184.9 600.8L185.3 600.8L185.6 600.8L186 600.8L186.3 600.8L186.7 600.8L187 600.8L187.4 600.8L187.7 600.8L188.1 600.8L188.4 600.8L188.8 600.8L189.1 600.8L189.5 600.8L189.8 600.8L190.2 600.8L190.5 600.8L190.9 600.8L191.2 600.8L191.6 600.8L191.9 600.8L192.3 600.8L192.6 600.8L193 600.8L193.3 600.8L193.7 600.8L194 600.8L194.4 600.8L194.7 600.8L195.1 600.8L195.4 600.8L195.8 600.8L196.1 600.8L196.5 600.8L196.8 600.8L197.2 600.8L197.5 600.8L197.9 600.8L198.2 600.8L198.6 600.8L198.9 600.8L199.3 600.8L199.6 600.8L200 600.8L200.3 600.8L200.7 600.8L201 600.8L201.4 600.8L201.7 600.8L202.1 600.8L202.4 600.8L202.8 600.8L203.1 600.8L203.5 600.8L203.8 600.8L204.2 600.8L204.5 600.8L204.9 600.8L205.2 600.8L205.6 600.8L205.9 600.8L206.3 600.8L206.3 600.8" fill="#dcdcdc" fill-opacity="0.8"/>
<path d="M141.2 600.8L141.2 600.8L141.5 600.8L141.9 600.8L142.2 600.8L142.6 600.8L142.9 600.8L143.3 600.8L143.6 600.8L144 600.8L144.3 600.8L144.7 600.8L145 600.8L145.4 600.8L145.7 600.8L146.1 600.8L146.4 600.8L146.8 600.8L147.1 600.8L147.5 600.8L147.8 600.8L148.2 600.8L148.5 600.8L148.9 600.8L149.2 600.8L149.6 600.8L149.9 600.8L150.3 600.8L150.6 600.8L151 600.8L151.3 600.8L151.7 600.8L152 600.7L152.4 600.7L152.7 600.7L153.1 600.7L153.4 600.6L153.8 600.6L154.1 600.5L154.5 600.4L154.8 600.3L155.2 600.2L155.5 600L155.9 599.9L156.2 599.7L156.6 599.4L156.9 599.1L157.3 598.8L157.6 598.3L158 597.7L158.3 596.8L158.7 595.5L159 593.6L159.4 590.9L159.7 587.3L160.1 582.5L160.4 576.5L160.8 569.5L161.1 561.9L161.5 554.2L161.8 547.3L162.2 541.8L162.5 538.6L162.9 538L163.2 539.5L163.6 542.8L163.9 547.6L164.3 553.4L164.6 559.9L165 566.4L165.3 572.6L165.7 578.2L166 583L166.4 587.1L166.7 590.3L167.1 592.7L167.4 594.6L167.8 595.9L168.1 597L168.5 597.7L168.8 598.2L169.2 598.7L169.5 599L169.9 599.3L170.2 599.5L170.6 599.7L170.9 599.9L171.3 600L171.6 600.1L172 600.2L172.3 600.3L172.7 600.4L173 600.5L173.4 600.5L173.7 600.6L174.1 600.6L174.4 600.7L174.8 600.7L175.1 600.7L175.5 600.7L175.8 600.8L176.2 600.8L176.5 600.8L176.9 600.8L177.2 600.8L177.6 600.8L177.9 600.8L178.3 600.8L178.6 600.8L179 600.8L179.3 600.8L179.7 600.8L180 600.8L180.4 600.8L180.7 600.8L181.1 600.8L181.4 600.8L181.8 600.8L182.1 600.8L182.5 600.8L182.8 600.8L183.2 600.8L183.5 600.8L183.9 600.8L184.2 600.8L184.6 600.8L184.9 600.8L185.3 600.8L185.6 600.8L186 600.8L186.3 600.8L186.7 600.8L187 600.8L187.4 600.8L187.7 600.8L188.1 600.8L188.4 600.8L188.8 600.8L189.1 600.8L189.5 600.8L189.8 600.8L190.2 600.8L190.5 600.8L190.9 600.8L191.2 600.8L191.6 600.8L191.9 600.8L192.3 600.8L192.6 600.8L193 600.8L193.3 600.8L193.7 600.8L194 600.8L194.4 600.8L194.7 600.8L195.1 600.8L195.4 600.8L195.8 600.8L196.1 600.8L196.5 600.8L196.8 600.8L197.2 600.8L197.5 600.8L197.9 600.8L198.2 600.8L198.6 600.8L198.9 600.8L199.3 600.8L199.6 600.8L200 600.8L200.3 600.8L200.7 600.8L201 600.8L201.4 600.8L201.7 600.8L202.1 600.8L202.4 600.8L202.8 600.8L203.1 600.8L203.5 600.8L203.8 600.8L204.2 600.8L204.5 600.8L204.9 600.8L205.2 600.8L205.6 600.8L205.9 600.8L206.3 600.8L206.3 600.8" fill="#d2ddef" fill-opacity="0.8"/>
<path d="M141.2 600.8L141.2 600.8L141.5 600.8L141.9 600.8L142.2 600.8L142.6 600.8L142.9 600.8L143.3 600.8L143.6 600.8L144 600.8L144.3 600.8L144.7 600.8L145 600.8L145.4 600.8L145.7 600.8L146.1 600.8L146.4 600.8L146.8 600.8L147.1 600.8L147.5 600.8L147.8 600.8L148.2 600.8L148.5 600.8L148.9 600.8L149.2 600.8L149.6 600.8L149.9 600.8L150.3 600.8L150.6 600.8L151 600.8L151.3 600.8L151.7 600.5L152 600.1L152.4 599.7L152.7 599.2L153.1 598.7L153.4 598L153.8 597.2L154.1 596.5L154.5 595.8L154.8 594.7L155.2 593.7L155.5 592.7L155.9 591.7L156.2 590.2L156.6 588.6L156.9 587L157.3 585.4L157.6 583.8L158 582.3L158.3 580.9L158.7 579.4L159 578L159.4 577L159.7 576L160.1 574.9L160.4 573.9L160.8 573.3L161.1 572.8L161.5 572.3L161.8 571.9L162.2 572.1L162.5 572.3L162.9 572.4L163.2 572.7L163.6 573L163.9 573.3L164.3 573.6L164.6 573.7L165 573.4L165.3 573.2L165.7 572.6L166 571.7L166.4 570.9L166.7 569.8L167.1 568.7L167.4 567.6L167.8 566.7L168.1 565.7L168.5 566.8L168.8 568.1L169.2 569.1L169.5 569.8L169.9 570.4L170.2 570.9L170.6 571.4L170.9 571.8L171.3 572.2L171.6 572.7L172 573.1L172.3 573.6L172.7 574L173 574.6L173.4 576.4L173.7 578.2L174.1 579.7L174.4 580.5L174.8 581.4L175.1 582.2L175.5 583L175.8 583.4L176.2 583.7L176.5 584L176.9 584.4L177.2 585L177.6 585.7L177.9 586.4L178.3 587.2L178.6 588L179 589.1L179.3 590.1L179.7 591.1L180 592.1L180.4 593L180.7 593.9L181.1 594.8L181.4 595.6L181.8 596.4L182.1 597.1L182.5 597.9L182.8 598.6L183.2 599.1L183.5 599.5L183.9 599.9L184.2 600.2L184.6 600.5L184.9 600.6L185.3 600.7L185.6 600.8L186 600.8L186.3 600.8L186.7 600.8L187 600.8L187.4 600.8L187.7 600.8L188.1 600.8L188.4 600.8L188.8 600.8L189.1 600.8L189.5 600.8L189.8 600.8L190.2 600.8L190.5 600.8L190.9 600.8L191.2 600.8L191.6 600.8L191.9 600.8L192.3 600.8L192.6 600.8L193 600.8L193.3 600.8L193.7 600.8L194 600.8L194.4 600.8L194.7 600.8L195.1 600.8L195.4 600.8L195.8 600.8L196.1 600.8L196.5 600.8L196.8 600.8L197.2 600.8L197.5 600.8L197.9 600.8L198.2 600.8L198.6 600.8L198.9 600.8L199.3 600.8L199.6 600.8L200 600.8L200.3 600.8L200.7 600.8L201 600.8L201.4 600.8L201.7 600.8L202.1 600.8L202.4 600.8L202.8 600.8L203.1 600.8L203.5 600.8L203.8 600.8L204.2 600.8L204.5 600.8L204.9 600.8L205.2 600.8L205.6 600.8L205.9 600.8L206.3 600.8L206.3 600.8" fill="#f2d9aa" fill-opacity="0.75"/>
<path d="M141.2 600.8L141.2 600.8L141.5 600.8L141.9 600.8L142.2 600.8L142.6 600.8L142.9 600.8L143.3 600.8L143.6 600.8L144 600.8L144.3 600.8L144.7 600.8L145 600.8L145.4 600.8L145.7 600.8L146.1 600.8L146.4 600.8L146.8 600.8L147.1 600.8L147.5 600.8L147.8 600.8L148.2 600.8L148.5 600.8L148.9 600.8L149.2 600.8L149.6 600.8L149.9 600.8L150.3 600.8L150.6 600.8L151 600.8L151.3 600.8L151.7 600.8L152 600.7L152.4 600.7L152.7 600.7L153.1 600.7L153.4 600.6L153.8 600.6L154.1 600.5L154.5 600.4L154.8 600.3L155.2 600.2L155.5 600L155.9 599.9L156.2 599.7L156.6 599.4L156.9 599.1L157.3 598.8L157.6 598.3L158 597.7L158.3 596.8L158.7 595.5L159 593.6L159.4 590.9L159.7 587.3L160.1 582.5L160.4 576.5L160.8 569.5L161.1 561.9L161.5 554.2L161.8 547.3L162.2 541.8L162.5 538.6L162.9 538L163.2 539.5L163.6 542.8L163.9 547.6L164.3 553.4L164.6 559.9L165 566.4L165.3 572.6L165.7 578.2L166 583L166.4 587.1L166.7 590.3L167.1 592.7L167.4 594.6L167.8 595.9L168.1 597L168.5 597.7L168.8 598.2L169.2 598.7L169.5 599L169.9 599.3L170.2 599.5L170.6 599.7L170.9 599.9L171.3 600L171.6 600.1L172 600.2L172.3 600.3L172.7 600.4L173 600.5L173.4 600.5L173.7 600.6L174.1 600.6L174.4 600.7L174.8 600.7L175.1 600.7L175.5 600.7L175.8 600.8L176.2 600.8L176.5 600.8L176.9 600.8L177.2 600.8L177.6 600.8L177.9 600.8L178.3 600.8L178.6 600.8L179 600.8L179.3 600.8L179.7 600.8L180 600.8L180.4 600.8L180.7 600.8L181.1 600.8L181.4 600.8L181.8 600.8L182.1 600.8L182.5 600.8L182.8 600.8L183.2 600.8L183.5 600.8L183.9 600.8L184.2 600.8L184.6 600.8L184.9 600.8L185.3 600.8L185.6 600.8L186 600.8L186.3 600.8L186.7 600.8L187 600.8L187.4 600.8L187.7 600.8L188.1 600.8L188.4 600.8L188.8 600.8L189.1 600.8L189.5 600.8L189.8 600.8L190.2 600.8L190.5 600.8L190.9 600.8L191.2 600.8L191.6 600.8L191.9 600.8L192.3 600.8L192.6 600.8L193 600.8L193.3 600.8L193.7 600.8L194 600.8L194.4 600.8L194.7 600.8L195.1 600.8L195.4 600.8L195.8 600.8L196.1 600.8L196.5 600.8L196.8 600.8L197.2 600.8L197.5 600.8L197.9 600.8L198.2 600.8L198.6 600.8L198.9 600.8L199.3 600.8L199.6 600.8L200 600.8L200.3 600.8L200.7 600.8L201 600.8L201.4 600.8L201.7 600.8L202.1 600.8L202.4 600.8L202.8 600.8L203.1 600.8L203.5 600.8L203.8 600.8L204.2 600.8L204.5 600.8L204.9 600.8L205.2 600.8L205.6 600.8L205.9 600.8L206.3 600.8L206.3 600.8" fill="none" stroke="#6f9bd2" stroke-width="0.75" stroke-linejoin="round"/>
<path d="M141.2 600.8L141.2 600.8L141.5 600.8L141.9 600.8L142.2 600.8L142.6 600.8L142.9 600.8L143.3 600.8L143.6 600.8L144 600.8L144.3 600.8L144.7 600.8L145 600.8L145.4 600.8L145.7 600.8L146.1 600.8L146.4 600.8L146.8 600.8L147.1 600.8L147.5 600.8L147.8 600.8L148.2 600.8L148.5 600.8L148.9 600.8L149.2 600.8L149.6 600.8L149.9 600.8L150.3 600.8L150.6 600.8L151 600.8L151.3 600.8L151.7 600.5L152 600.1L152.4 599.7L152.7 599.2L153.1 598.7L153.4 598L153.8 597.2L154.1 596.5L154.5 595.8L154.8 594.7L155.2 593.7L155.5 592.7L155.9 591.7L156.2 590.2L156.6 588.6L156.9 587L157.3 585.4L157.6 583.8L158 582.3L158.3 580.9L158.7 579.4L159 578L159.4 577L159.7 576L160.1 574.9L160.4 573.9L160.8 573.3L161.1 572.8L161.5 572.3L161.8 571.9L162.2 572.1L162.5 572.3L162.9 572.4L163.2 572.7L163.6 573L163.9 573.3L164.3 573.6L164.6 573.7L165 573.4L165.3 573.2L165.7 572.6L166 571.7L166.4 570.9L166.7 569.8L167.1 568.7L167.4 567.6L167.8 566.7L168.1 565.7L168.5 566.8L168.8 568.1L169.2 569.1L169.5 569.8L169.9 570.4L170.2 570.9L170.6 571.4L170.9 571.8L171.3 572.2L171.6 572.7L172 573.1L172.3 573.6L172.7 574L173 574.6L173.4 576.4L173.7 578.2L174.1 579.7L174.4 580.5L174.8 581.4L175.1 582.2L175.5 583L175.8 583.4L176.2 583.7L176.5 584L176.9 584.4L177.2 585L177.6 585.7L177.9 586.4L178.3 587.2L178.6 588L179 589.1L179.3 590.1L179.7 591.1L180 592.1L180.4 593L180.7 593.9L181.1 594.8L181.4 595.6L181.8 596.4L182.1 597.1L182.5 597.9L182.8 598.6L183.2 599.1L183.5 599.5L183.9 599.9L184.2 600.2L184.6 600.5L184.9 600.6L185.3 600.7L185.6 600.8L186 600.8L186.3 600.8L186.7 600.8L187 600.8L187.4 600.8L187.7 600.8L188.1 600.8L188.4 600.8L188.8 600.8L189.1 600.8L189.5 600.8L189.8 600.8L190.2 600.8L190.5 600.8L190.9 600.8L191.2 600.8L191.6 600.8L191.9 600.8L192.3 600.8L192.6 600.8L193 600.8L193.3 600.8L193.7 600.8L194 600.8L194.4 600.8L194.7 600.8L195.1 600.8L195.4 600.8L195.8 600.8L196.1 600.8L196.5 600.8L196.8 600.8L197.2 600.8L197.5 600.8L197.9 600.8L198.2 600.8L198.6 600.8L198.9 600.8L199.3 600.8L199.6 600.8L200 600.8L200.3 600.8L200.7 600.8L201 600.8L201.4 600.8L201.7 600.8L202.1 600.8L202.4 600.8L202.8 600.8L203.1 600.8L203.5 600.8L203.8 600.8L204.2 600.8L204.5 600.8L204.9 600.8L205.2 600.8L205.6 600.8L205.9 600.8L206.3 600.8L206.3 600.8" fill="none" stroke="#e07f78" stroke-width="0.75" stroke-linejoin="round"/>
<path d="M141.2 600.8L141.2 600.8L141.5 600.8L141.9 600.8L142.2 600.8L142.6 600.8L142.9 600.8L143.3 600.8L143.6 600.8L144 600.8L144.3 600.8L144.7 600.8L145 600.8L145.4 600.8L145.7 600.8L146.1 600.8L146.4 600.8L146.8 600.8L147.1 600.8L147.5 600.8L147.8 600.8L148.2 600.8L148.5 600.8L148.9 600.8L149.2 600.8L149.6 600.8L149.9 600.8L150.3 600.8L150.6 600.8L151 600.8L151.3 600.7L151.7 600.7L152 600.7L152.4 600.7L152.7 600.6L153.1 600.6L153.4 600.5L153.8 600.4L154.1 600.3L154.5 600.2L154.8 600L155.2 599.9L155.5 599.7L155.9 599.4L156.2 599.1L156.6 598.8L156.9 598.4L157.3 597.8L157.6 597.1L158 596.1L158.3 594.7L158.7 592.6L159 589.8L159.4 586L159.7 581.1L160.1 575L160.4 568L160.8 560.4L161.1 552.9L161.5 546.2L161.8 541.2L162.2 538.3L162.5 538.1L162.9 539.8L163.2 543.3L163.6 548.2L163.9 554.1L164.3 560.4L164.6 566.8L165 572.9L165.3 578.3L165.7 583L166 586.9L166.4 590L166.7 592.4L167.1 594.2L167.4 595.5L167.8 596.5L168.1 597.3L168.5 597.9L168.8 598.3L169.2 598.7L169.5 599L169.9 599.3L170.2 599.5L170.6 599.7L170.9 599.9L171.3 600L171.6 600.1L172 600.3L172.3 600.4L172.7 600.4L173 600.5L173.4 600.6L173.7 600.6L174.1 600.6L174.4 600.7L174.8 600.7L175.1 600.7L175.5 600.7L175.8 600.8L176.2 600.8L176.5 600.8L176.9 600.8L177.2 600.8L177.6 600.8L177.9 600.8L178.3 600.8L178.6 600.8L179 600.8L179.3 600.8L179.7 600.8L180 600.8L180.4 600.8L180.7 600.8L181.1 600.8L181.4 600.8L181.8 600.8L182.1 600.8L182.5 600.8L182.8 600.8L183.2 600.8L183.5 600.8L183.9 600.8L184.2 600.8L184.6 600.8L184.9 600.8L185.3 600.8L185.6 600.8L186 600.8L186.3 600.8L186.7 600.8L187 600.8L187.4 600.8L187.7 600.8L188.1 600.8L188.4 600.8L188.8 600.8L189.1 600.8L189.5 600.8L189.8 600.8L190.2 600.8L190.5 600.8L190.9 600.8L191.2 600.8L191.6 600.8L191.9 600.8L192.3 600.8L192.6 600.8L193 600.8L193.3 600.8L193.7 600.8L194 600.8L194.4 600.8L194.7 600.8L195.1 600.8L195.4 600.8L195.8 600.8L196.1 600.8L196.5 600.8L196.8 600.8L197.2 600.8L197.5 600.8L197.9 600.8L198.2 600.8L198.6 600.8L198.9 600.8L199.3 600.8L199.6 600.8L200 600.8L200.3 600.8L200.7 600.8L201 600.8L201.4 600.8L201.7 600.8L202.1 600.8L202.4 600.8L202.8 600.8L203.1 600.8L203.5 600.8L203.8 600.8L204.2 600.8L204.5 600.8L204.9 600.8L205.2 600.8L205.6 600.8L205.9 600.8L206.3 600.8L206.3 600.8" fill="none" stroke="#1e1e1e" stroke-width="0.75" stroke-linejoin="round"/>
<rect x="140.7" y="535.4" width="66.2" height="66" fill="none" stroke="#1e1e1e" stroke-width="1.3"/>
<line x1="137.4" y1="601" x2="140.7" y2="601" stroke="#1e1e1e" stroke-width="0.9"/>
<text x="133.8" y="603.1" font-size="6.1" text-anchor="end" textLength="3.1" lengthAdjust="spacingAndGlyphs">0</text>
<line x1="137.4" y1="588.4" x2="140.7" y2="588.4" stroke="#1e1e1e" stroke-width="0.9"/>
<text x="133.8" y="590.5" font-size="6.1" text-anchor="end" textLength="6.1" lengthAdjust="spacingAndGlyphs">20</text>
<line x1="137.4" y1="575.8" x2="140.7" y2="575.8" stroke="#1e1e1e" stroke-width="0.9"/>
<text x="133.8" y="577.9" font-size="6.1" text-anchor="end" textLength="6.1" lengthAdjust="spacingAndGlyphs">40</text>
<line x1="137.4" y1="563.3" x2="140.7" y2="563.3" stroke="#1e1e1e" stroke-width="0.9"/>
<text x="133.8" y="565.4" font-size="6.1" text-anchor="end" textLength="6.1" lengthAdjust="spacingAndGlyphs">60</text>
<line x1="137.4" y1="550.7" x2="140.7" y2="550.7" stroke="#1e1e1e" stroke-width="0.9"/>
<text x="133.8" y="552.8" font-size="6.1" text-anchor="end" textLength="6.1" lengthAdjust="spacingAndGlyphs">80</text>
<line x1="137.4" y1="538.1" x2="140.7" y2="538.1" stroke="#1e1e1e" stroke-width="0.9"/>
<text x="133.8" y="540.2" font-size="6.1" text-anchor="end" textLength="9.2" lengthAdjust="spacingAndGlyphs">100</text>
<path d="M140.7 597.9h-1.3M140.7 594.7h-1.3M140.7 591.6h-1.3M140.7 585.3h-1.3M140.7 582.1h-1.3M140.7 579h-1.3M140.7 572.7h-1.3M140.7 569.5h-1.3M140.7 566.4h-1.3M140.7 560.1h-1.3M140.7 557h-1.3M140.7 553.8h-1.3M140.7 547.5h-1.3M140.7 544.4h-1.3M140.7 541.2h-1.3" stroke="#1e1e1e" stroke-width="0.6"/>
<path d="M143.7 601.4v1.6M148.2 601.4v1.6M150.9 601.4v1.6M152.8 601.4v1.6M154.2 601.4v1.6M155.4 601.4v1.6M156.4 601.4v1.6M157.3 601.4v1.6M158.1 601.4v1.6M158.8 601.4v1.6M163.3 601.4v1.6M165.9 601.4v1.6M167.8 601.4v1.6M169.3 601.4v1.6M170.5 601.4v1.6M171.5 601.4v1.6M172.3 601.4v1.6M173.1 601.4v1.6M173.8 601.4v1.6M178.3 601.4v1.6M181 601.4v1.6M182.9 601.4v1.6M184.3 601.4v1.6M185.5 601.4v1.6M186.5 601.4v1.6M187.4 601.4v1.6M188.2 601.4v1.6M188.8 601.4v1.6M193.4 601.4v1.6M196 601.4v1.6M197.9 601.4v1.6M199.4 601.4v1.6M200.6 601.4v1.6M201.6 601.4v1.6M202.4 601.4v1.6M203.2 601.4v1.6" stroke="#1e1e1e" stroke-width="0.6"/>
<text x="135.8" y="615.5" font-size="8.6" textLength="28.2" lengthAdjust="spacingAndGlyphs">FCER1G</text>
<line x1="171.3" y1="612.6" x2="203.3" y2="612.6" stroke="#1e1e1e" stroke-width="1"/>
<path d="M200.8 610.2L206.3 612.6L200.8 615z" fill="#1e1e1e"/>
<path d="M240.9 600.8L240.9 600.8L241.2 600.8L241.6 600.7L241.9 600.7L242.3 600.7L242.6 600.7L243 600.6L243.3 600.6L243.7 600.5L244 600.5L244.4 600.4L244.7 600.3L245.1 600.1L245.4 600L245.8 599.8L246.1 599.6L246.5 599.3L246.8 599L247.2 598.7L247.5 598.3L247.9 597.8L248.2 597.2L248.6 596.5L248.9 595.5L249.3 594.2L249.6 592.4L250 590L250.3 586.8L250.7 582.7L251 577.6L251.4 571.6L251.7 564.9L252.1 557.9L252.4 551.1L252.8 545.2L253.1 540.7L253.5 538.3L253.8 538L254.2 539.2L254.5 541.6L254.9 545L255.2 549.2L255.6 554L255.9 559.1L256.3 564.3L256.6 569.4L257 574.1L257.3 578.3L257.7 582.1L258 585.3L258.4 588L258.7 590.3L259.1 592.1L259.4 593.5L259.8 594.7L260.2 595.6L260.5 596.3L260.9 596.9L261.2 597.4L261.6 597.8L261.9 598.2L262.3 598.5L262.6 598.8L263 599L263.3 599.2L263.7 599.4L264 599.6L264.4 599.8L264.7 599.9L265.1 600L265.4 600.1L265.8 600.2L266.1 600.3L266.5 600.4L266.8 600.5L267.2 600.5L267.5 600.6L267.9 600.6L268.2 600.6L268.6 600.7L268.9 600.7L269.3 600.7L269.6 600.7L270 600.7L270.3 600.8L270.7 600.8L271 600.8L271.4 600.8L271.7 600.8L272.1 600.8L272.4 600.8L272.8 600.8L273.1 600.8L273.5 600.8L273.8 600.8L274.2 600.8L274.5 600.8L274.9 600.8L275.2 600.8L275.6 600.8L275.9 600.8L276.3 600.8L276.6 600.8L277 600.8L277.3 600.8L277.7 600.8L278 600.8L278.4 600.8L278.7 600.8L279.1 600.8L279.4 600.8L279.8 600.8L280.1 600.8L280.5 600.8L280.8 600.8L281.2 600.8L281.5 600.8L281.9 600.8L282.2 600.8L282.6 600.8L282.9 600.8L283.3 600.8L283.6 600.8L284 600.8L284.3 600.8L284.7 600.8L285 600.8L285.4 600.8L285.7 600.8L286.1 600.8L286.4 600.8L286.8 600.8L287.1 600.8L287.5 600.8L287.8 600.8L288.2 600.8L288.5 600.8L288.9 600.8L289.2 600.8L289.6 600.8L289.9 600.8L290.3 600.8L290.6 600.8L291 600.8L291.3 600.8L291.7 600.8L292 600.8L292.4 600.8L292.7 600.8L293.1 600.8L293.4 600.8L293.8 600.8L294.1 600.8L294.5 600.8L294.8 600.8L295.2 600.8L295.5 600.8L295.9 600.8L296.2 600.8L296.6 600.8L296.9 600.8L297.3 600.8L297.6 600.8L298 600.8L298.3 600.8L298.7 600.8L299 600.8L299.4 600.8L299.7 600.8L300.1 600.8L300.4 600.8L300.8 600.8L301.1 600.8L301.5 600.8L301.8 600.8L302.2 600.8L302.5 600.8L302.9 600.8L303.2 600.8L303.6 600.8L303.9 600.8L304.3 600.8L304.6 600.8L305 600.8L305.3 600.8L305.7 600.8L305.7 600.8" fill="#dcdcdc" fill-opacity="0.8"/>
<path d="M240.9 600.8L240.9 600.8L241.2 600.8L241.6 600.8L241.9 600.8L242.3 600.8L242.6 600.8L243 600.8L243.3 600.8L243.7 600.8L244 600.8L244.4 600.8L244.7 600.8L245.1 600.8L245.4 600.8L245.8 600.8L246.1 600.8L246.5 600.8L246.8 600.8L247.2 600.8L247.5 600.8L247.9 600.8L248.2 600.8L248.6 600.8L248.9 600.8L249.3 600.8L249.6 600.8L250 600.8L250.3 600.7L250.7 600.6L251 600.6L251.4 600.5L251.7 600.4L252.1 600.3L252.4 600.2L252.8 600.1L253.1 600.1L253.5 600L253.8 599.9L254.2 599.8L254.5 599.8L254.9 599.8L255.2 599.8L255.6 599.8L255.9 599.8L256.3 599.8L256.6 599.8L257 599.7L257.3 599.7L257.7 599.7L258 599.7L258.4 599.7L258.7 599.7L259.1 599.7L259.4 599.6L259.8 599.6L260.2 599.6L260.5 599.6L260.9 599.6L261.2 599.6L261.6 599.6L261.9 599.5L262.3 599.5L262.6 599.6L263 599.6L263.3 599.6L263.7 599.6L264 599.6L264.4 599.6L264.7 599.6L265.1 599.6L265.4 599.6L265.8 599.6L266.1 599.6L266.5 599.6L266.8 599.7L267.2 599.7L267.5 599.7L267.9 599.7L268.2 599.7L268.6 599.7L268.9 599.7L269.3 599.7L269.6 599.7L270 599.7L270.3 599.7L270.7 599.8L271 599.8L271.4 599.8L271.7 599.8L272.1 599.8L272.4 599.8L272.8 599.8L273.1 599.8L273.5 599.8L273.8 599.8L274.2 599.8L274.5 599.8L274.9 599.9L275.2 599.9L275.6 599.9L275.9 599.9L276.3 599.9L276.6 599.9L277 599.9L277.3 599.9L277.7 599.9L278 599.9L278.4 599.9L278.7 599.9L279.1 599.9L279.4 599.9L279.8 600L280.1 600L280.5 600L280.8 600L281.2 600L281.5 600L281.9 600L282.2 600L282.6 600L282.9 600L283.3 600L283.6 600L284 600L284.3 600.1L284.7 600.1L285 600.1L285.4 600.1L285.7 600.1L286.1 600.1L286.4 600.1L286.8 600.1L287.1 600.1L287.5 600.1L287.8 600.1L288.2 600.1L288.5 600.1L288.9 600.1L289.2 600.2L289.6 600.2L289.9 600.2L290.3 600.2L290.6 600.2L291 600.2L291.3 600.2L291.7 600.2L292 600.2L292.4 600.2L292.7 600.3L293.1 600.3L293.4 600.3L293.8 600.3L294.1 600.3L294.5 600.3L294.8 600.3L295.2 600.3L295.5 600.3L295.9 600.4L296.2 600.4L296.6 600.4L296.9 600.4L297.3 600.4L297.6 600.4L298 600.4L298.3 600.4L298.7 600.4L299 600.5L299.4 600.5L299.7 600.5L300.1 600.5L300.4 600.5L300.8 600.5L301.1 600.5L301.5 600.6L301.8 600.6L302.2 600.6L302.5 600.6L302.9 600.6L303.2 600.7L303.6 600.7L303.9 600.7L304.3 600.7L304.6 600.7L305 600.7L305.3 600.8L305.7 600.8L305.7 600.8" fill="#d2ddef" fill-opacity="0.8"/>
<path d="M240.9 600.8L240.9 600.8L241.2 600.8L241.6 600.8L241.9 600.8L242.3 600.8L242.6 600.8L243 600.8L243.3 600.8L243.7 600.8L244 600.8L244.4 600.8L244.7 600.8L245.1 600.8L245.4 600.8L245.8 600.8L246.1 600.8L246.5 600.8L246.8 600.8L247.2 600.8L247.5 600.8L247.9 600.8L248.2 600.2L248.6 599.3L248.9 598.4L249.3 597.5L249.6 595.8L250 593L250.3 590.3L250.7 587.5L251 584.3L251.4 579.3L251.7 574.2L252.1 569.1L252.4 564.3L252.8 559.9L253.1 555.5L253.5 552.4L253.8 550.2L254.2 549.1L254.5 550.8L254.9 552.5L255.2 554.9L255.6 557.5L255.9 560.2L256.3 562.4L256.6 564.6L257 566.8L257.3 567.9L257.7 569L258 570.1L258.4 571.2L258.7 572.6L259.1 574L259.4 575.4L259.8 577.5L260.2 579.7L260.5 581.9L260.9 583.5L261.2 585L261.6 586.4L261.9 587L262.3 587.6L262.6 588.2L263 589.9L263.3 591.6L263.7 593.3L264 594.8L264.4 596.4L264.7 597.5L265.1 598.4L265.4 599.2L265.8 600.1L266.1 600.3L266.5 600.5L266.8 600.7L267.2 600.8L267.5 600.8L267.9 600.8L268.2 600.8L268.6 600.8L268.9 600.8L269.3 600.8L269.6 600.8L270 600.8L270.3 600.8L270.7 600.8L271 600.8L271.4 600.8L271.7 600.8L272.1 600.8L272.4 600.8L272.8 600.8L273.1 600.8L273.5 600.8L273.8 600.8L274.2 600.8L274.5 600.8L274.9 600.8L275.2 600.8L275.6 600.8L275.9 600.8L276.3 600.8L276.6 600.8L277 600.8L277.3 600.8L277.7 600.8L278 600.8L278.4 600.8L278.7 600.8L279.1 600.8L279.4 600.8L279.8 600.8L280.1 600.8L280.5 600.8L280.8 600.8L281.2 600.8L281.5 600.8L281.9 600.8L282.2 600.8L282.6 600.8L282.9 600.8L283.3 600.8L283.6 600.8L284 600.8L284.3 600.8L284.7 600.8L285 600.8L285.4 600.8L285.7 600.8L286.1 600.8L286.4 600.8L286.8 600.8L287.1 600.8L287.5 600.8L287.8 600.8L288.2 600.8L288.5 600.8L288.9 600.8L289.2 600.8L289.6 600.8L289.9 600.8L290.3 600.8L290.6 600.8L291 600.8L291.3 600.8L291.7 600.8L292 600.8L292.4 600.8L292.7 600.8L293.1 600.8L293.4 600.8L293.8 600.8L294.1 600.8L294.5 600.8L294.8 600.8L295.2 600.8L295.5 600.8L295.9 600.8L296.2 600.8L296.6 600.8L296.9 600.8L297.3 600.8L297.6 600.8L298 600.8L298.3 600.8L298.7 600.8L299 600.8L299.4 600.8L299.7 600.8L300.1 600.8L300.4 600.8L300.8 600.8L301.1 600.8L301.5 600.8L301.8 600.8L302.2 600.8L302.5 600.8L302.9 600.8L303.2 600.8L303.6 600.8L303.9 600.8L304.3 600.8L304.6 600.8L305 600.8L305.3 600.8L305.7 600.8L305.7 600.8" fill="#f2d9aa" fill-opacity="0.75"/>
<path d="M240.9 600.8L240.9 600.8L241.2 600.8L241.6 600.8L241.9 600.8L242.3 600.8L242.6 600.8L243 600.8L243.3 600.8L243.7 600.8L244 600.8L244.4 600.8L244.7 600.8L245.1 600.8L245.4 600.8L245.8 600.8L246.1 600.8L246.5 600.8L246.8 600.8L247.2 600.8L247.5 600.8L247.9 600.8L248.2 600.8L248.6 600.8L248.9 600.8L249.3 600.8L249.6 600.8L250 600.8L250.3 600.7L250.7 600.6L251 600.6L251.4 600.5L251.7 600.4L252.1 600.3L252.4 600.2L252.8 600.1L253.1 600.1L253.5 600L253.8 599.9L254.2 599.8L254.5 599.8L254.9 599.8L255.2 599.8L255.6 599.8L255.9 599.8L256.3 599.8L256.6 599.8L257 599.7L257.3 599.7L257.7 599.7L258 599.7L258.4 599.7L258.7 599.7L259.1 599.7L259.4 599.6L259.8 599.6L260.2 599.6L260.5 599.6L260.9 599.6L261.2 599.6L261.6 599.6L261.9 599.5L262.3 599.5L262.6 599.6L263 599.6L263.3 599.6L263.7 599.6L264 599.6L264.4 599.6L264.7 599.6L265.1 599.6L265.4 599.6L265.8 599.6L266.1 599.6L266.5 599.6L266.8 599.7L267.2 599.7L267.5 599.7L267.9 599.7L268.2 599.7L268.6 599.7L268.9 599.7L269.3 599.7L269.6 599.7L270 599.7L270.3 599.7L270.7 599.8L271 599.8L271.4 599.8L271.7 599.8L272.1 599.8L272.4 599.8L272.8 599.8L273.1 599.8L273.5 599.8L273.8 599.8L274.2 599.8L274.5 599.8L274.9 599.9L275.2 599.9L275.6 599.9L275.9 599.9L276.3 599.9L276.6 599.9L277 599.9L277.3 599.9L277.7 599.9L278 599.9L278.4 599.9L278.7 599.9L279.1 599.9L279.4 599.9L279.8 600L280.1 600L280.5 600L280.8 600L281.2 600L281.5 600L281.9 600L282.2 600L282.6 600L282.9 600L283.3 600L283.6 600L284 600L284.3 600.1L284.7 600.1L285 600.1L285.4 600.1L285.7 600.1L286.1 600.1L286.4 600.1L286.8 600.1L287.1 600.1L287.5 600.1L287.8 600.1L288.2 600.1L288.5 600.1L288.9 600.1L289.2 600.2L289.6 600.2L289.9 600.2L290.3 600.2L290.6 600.2L291 600.2L291.3 600.2L291.7 600.2L292 600.2L292.4 600.2L292.7 600.3L293.1 600.3L293.4 600.3L293.8 600.3L294.1 600.3L294.5 600.3L294.8 600.3L295.2 600.3L295.5 600.3L295.9 600.4L296.2 600.4L296.6 600.4L296.9 600.4L297.3 600.4L297.6 600.4L298 600.4L298.3 600.4L298.7 600.4L299 600.5L299.4 600.5L299.7 600.5L300.1 600.5L300.4 600.5L300.8 600.5L301.1 600.5L301.5 600.6L301.8 600.6L302.2 600.6L302.5 600.6L302.9 600.6L303.2 600.7L303.6 600.7L303.9 600.7L304.3 600.7L304.6 600.7L305 600.7L305.3 600.8L305.7 600.8L305.7 600.8" fill="none" stroke="#6f9bd2" stroke-width="0.75" stroke-linejoin="round"/>
<path d="M240.9 600.8L240.9 600.8L241.2 600.8L241.6 600.8L241.9 600.8L242.3 600.8L242.6 600.8L243 600.8L243.3 600.8L243.7 600.8L244 600.8L244.4 600.8L244.7 600.8L245.1 600.8L245.4 600.8L245.8 600.8L246.1 600.8L246.5 600.8L246.8 600.8L247.2 600.8L247.5 600.8L247.9 600.8L248.2 600.2L248.6 599.3L248.9 598.4L249.3 597.5L249.6 595.8L250 593L250.3 590.3L250.7 587.5L251 584.3L251.4 579.3L251.7 574.2L252.1 569.1L252.4 564.3L252.8 559.9L253.1 555.5L253.5 552.4L253.8 550.2L254.2 549.1L254.5 550.8L254.9 552.5L255.2 554.9L255.6 557.5L255.9 560.2L256.3 562.4L256.6 564.6L257 566.8L257.3 567.9L257.7 569L258 570.1L258.4 571.2L258.7 572.6L259.1 574L259.4 575.4L259.8 577.5L260.2 579.7L260.5 581.9L260.9 583.5L261.2 585L261.6 586.4L261.9 587L262.3 587.6L262.6 588.2L263 589.9L263.3 591.6L263.7 593.3L264 594.8L264.4 596.4L264.7 597.5L265.1 598.4L265.4 599.2L265.8 600.1L266.1 600.3L266.5 600.5L266.8 600.7L267.2 600.8L267.5 600.8L267.9 600.8L268.2 600.8L268.6 600.8L268.9 600.8L269.3 600.8L269.6 600.8L270 600.8L270.3 600.8L270.7 600.8L271 600.8L271.4 600.8L271.7 600.8L272.1 600.8L272.4 600.8L272.8 600.8L273.1 600.8L273.5 600.8L273.8 600.8L274.2 600.8L274.5 600.8L274.9 600.8L275.2 600.8L275.6 600.8L275.9 600.8L276.3 600.8L276.6 600.8L277 600.8L277.3 600.8L277.7 600.8L278 600.8L278.4 600.8L278.7 600.8L279.1 600.8L279.4 600.8L279.8 600.8L280.1 600.8L280.5 600.8L280.8 600.8L281.2 600.8L281.5 600.8L281.9 600.8L282.2 600.8L282.6 600.8L282.9 600.8L283.3 600.8L283.6 600.8L284 600.8L284.3 600.8L284.7 600.8L285 600.8L285.4 600.8L285.7 600.8L286.1 600.8L286.4 600.8L286.8 600.8L287.1 600.8L287.5 600.8L287.8 600.8L288.2 600.8L288.5 600.8L288.9 600.8L289.2 600.8L289.6 600.8L289.9 600.8L290.3 600.8L290.6 600.8L291 600.8L291.3 600.8L291.7 600.8L292 600.8L292.4 600.8L292.7 600.8L293.1 600.8L293.4 600.8L293.8 600.8L294.1 600.8L294.5 600.8L294.8 600.8L295.2 600.8L295.5 600.8L295.9 600.8L296.2 600.8L296.6 600.8L296.9 600.8L297.3 600.8L297.6 600.8L298 600.8L298.3 600.8L298.7 600.8L299 600.8L299.4 600.8L299.7 600.8L300.1 600.8L300.4 600.8L300.8 600.8L301.1 600.8L301.5 600.8L301.8 600.8L302.2 600.8L302.5 600.8L302.9 600.8L303.2 600.8L303.6 600.8L303.9 600.8L304.3 600.8L304.6 600.8L305 600.8L305.3 600.8L305.7 600.8L305.7 600.8" fill="none" stroke="#e07f78" stroke-width="0.75" stroke-linejoin="round"/>
<path d="M240.9 600.8L240.9 600.8L241.2 600.8L241.6 600.7L241.9 600.7L242.3 600.7L242.6 600.7L243 600.6L243.3 600.6L243.7 600.5L244 600.5L244.4 600.4L244.7 600.3L245.1 600.1L245.4 600L245.8 599.8L246.1 599.6L246.5 599.3L246.8 599L247.2 598.7L247.5 598.3L247.9 597.8L248.2 597.2L248.6 596.5L248.9 595.5L249.3 594.2L249.6 592.4L250 590L250.3 586.8L250.7 582.7L251 577.6L251.4 571.6L251.7 564.9L252.1 557.9L252.4 551.1L252.8 545.2L253.1 540.7L253.5 538.3L253.8 538L254.2 539.2L254.5 541.6L254.9 545L255.2 549.2L255.6 554L255.9 559.1L256.3 564.3L256.6 569.4L257 574.1L257.3 578.3L257.7 582.1L258 585.3L258.4 588L258.7 590.3L259.1 592.1L259.4 593.5L259.8 594.7L260.2 595.6L260.5 596.3L260.9 596.9L261.2 597.4L261.6 597.8L261.9 598.2L262.3 598.5L262.6 598.8L263 599L263.3 599.2L263.7 599.4L264 599.6L264.4 599.8L264.7 599.9L265.1 600L265.4 600.1L265.8 600.2L266.1 600.3L266.5 600.4L266.8 600.5L267.2 600.5L267.5 600.6L267.9 600.6L268.2 600.6L268.6 600.7L268.9 600.7L269.3 600.7L269.6 600.7L270 600.7L270.3 600.8L270.7 600.8L271 600.8L271.4 600.8L271.7 600.8L272.1 600.8L272.4 600.8L272.8 600.8L273.1 600.8L273.5 600.8L273.8 600.8L274.2 600.8L274.5 600.8L274.9 600.8L275.2 600.8L275.6 600.8L275.9 600.8L276.3 600.8L276.6 600.8L277 600.8L277.3 600.8L277.7 600.8L278 600.8L278.4 600.8L278.7 600.8L279.1 600.8L279.4 600.8L279.8 600.8L280.1 600.8L280.5 600.8L280.8 600.8L281.2 600.8L281.5 600.8L281.9 600.8L282.2 600.8L282.6 600.8L282.9 600.8L283.3 600.8L283.6 600.8L284 600.8L284.3 600.8L284.7 600.8L285 600.8L285.4 600.8L285.7 600.8L286.1 600.8L286.4 600.8L286.8 600.8L287.1 600.8L287.5 600.8L287.8 600.8L288.2 600.8L288.5 600.8L288.9 600.8L289.2 600.8L289.6 600.8L289.9 600.8L290.3 600.8L290.6 600.8L291 600.8L291.3 600.8L291.7 600.8L292 600.8L292.4 600.8L292.7 600.8L293.1 600.8L293.4 600.8L293.8 600.8L294.1 600.8L294.5 600.8L294.8 600.8L295.2 600.8L295.5 600.8L295.9 600.8L296.2 600.8L296.6 600.8L296.9 600.8L297.3 600.8L297.6 600.8L298 600.8L298.3 600.8L298.7 600.8L299 600.8L299.4 600.8L299.7 600.8L300.1 600.8L300.4 600.8L300.8 600.8L301.1 600.8L301.5 600.8L301.8 600.8L302.2 600.8L302.5 600.8L302.9 600.8L303.2 600.8L303.6 600.8L303.9 600.8L304.3 600.8L304.6 600.8L305 600.8L305.3 600.8L305.7 600.8L305.7 600.8" fill="none" stroke="#1e1e1e" stroke-width="0.75" stroke-linejoin="round"/>
<rect x="240.4" y="535.4" width="66" height="66" fill="none" stroke="#1e1e1e" stroke-width="1.3"/>
<line x1="237.1" y1="601" x2="240.4" y2="601" stroke="#1e1e1e" stroke-width="0.9"/>
<text x="233.5" y="603.1" font-size="6.1" text-anchor="end" textLength="3.1" lengthAdjust="spacingAndGlyphs">0</text>
<line x1="237.1" y1="588.4" x2="240.4" y2="588.4" stroke="#1e1e1e" stroke-width="0.9"/>
<text x="233.5" y="590.5" font-size="6.1" text-anchor="end" textLength="6.1" lengthAdjust="spacingAndGlyphs">20</text>
<line x1="237.1" y1="575.8" x2="240.4" y2="575.8" stroke="#1e1e1e" stroke-width="0.9"/>
<text x="233.5" y="577.9" font-size="6.1" text-anchor="end" textLength="6.1" lengthAdjust="spacingAndGlyphs">40</text>
<line x1="237.1" y1="563.3" x2="240.4" y2="563.3" stroke="#1e1e1e" stroke-width="0.9"/>
<text x="233.5" y="565.4" font-size="6.1" text-anchor="end" textLength="6.1" lengthAdjust="spacingAndGlyphs">60</text>
<line x1="237.1" y1="550.7" x2="240.4" y2="550.7" stroke="#1e1e1e" stroke-width="0.9"/>
<text x="233.5" y="552.8" font-size="6.1" text-anchor="end" textLength="6.1" lengthAdjust="spacingAndGlyphs">80</text>
<line x1="237.1" y1="538.1" x2="240.4" y2="538.1" stroke="#1e1e1e" stroke-width="0.9"/>
<text x="233.5" y="540.2" font-size="6.1" text-anchor="end" textLength="9.2" lengthAdjust="spacingAndGlyphs">100</text>
<path d="M240.4 597.9h-1.3M240.4 594.7h-1.3M240.4 591.6h-1.3M240.4 585.3h-1.3M240.4 582.1h-1.3M240.4 579h-1.3M240.4 572.7h-1.3M240.4 569.5h-1.3M240.4 566.4h-1.3M240.4 560.1h-1.3M240.4 557h-1.3M240.4 553.8h-1.3M240.4 547.5h-1.3M240.4 544.4h-1.3M240.4 541.2h-1.3" stroke="#1e1e1e" stroke-width="0.6"/>
<path d="M243.4 601.4v1.6M247.9 601.4v1.6M250.6 601.4v1.6M252.4 601.4v1.6M253.9 601.4v1.6M255.1 601.4v1.6M256.1 601.4v1.6M256.9 601.4v1.6M257.7 601.4v1.6M258.4 601.4v1.6M262.9 601.4v1.6M265.6 601.4v1.6M267.4 601.4v1.6M268.9 601.4v1.6M270.1 601.4v1.6M271.1 601.4v1.6M271.9 601.4v1.6M272.7 601.4v1.6M273.4 601.4v1.6M277.9 601.4v1.6M280.6 601.4v1.6M282.4 601.4v1.6M283.9 601.4v1.6M285.1 601.4v1.6M286.1 601.4v1.6M286.9 601.4v1.6M287.7 601.4v1.6M288.4 601.4v1.6M292.9 601.4v1.6M295.6 601.4v1.6M297.4 601.4v1.6M298.9 601.4v1.6M300.1 601.4v1.6M301.1 601.4v1.6M301.9 601.4v1.6M302.7 601.4v1.6" stroke="#1e1e1e" stroke-width="0.6"/>
<text x="237.2" y="615.5" font-size="8.6" textLength="23.3" lengthAdjust="spacingAndGlyphs">CSF1R</text>
<line x1="263.7" y1="612.6" x2="302.5" y2="612.6" stroke="#1e1e1e" stroke-width="1"/>
<path d="M300 610.2L305.5 612.6L300 615z" fill="#1e1e1e"/>
<path d="M343.9 600.4L343.9 600.4L344.2 600.4L344.6 600.4L345 600.4L345.3 600.4L345.7 600.4L346 600.3L346.4 600.3L346.7 600.3L347.1 600.2L347.4 600.2L347.8 600.1L348.1 600L348.5 599.9L348.8 599.8L349.2 599.6L349.5 599.4L349.9 599.2L350.2 598.9L350.6 598.5L350.9 598.1L351.3 597.6L351.6 597L352 596.2L352.3 595.2L352.7 593.7L353 591.5L353.4 588.6L353.7 584.5L354.1 579.2L354.4 572.7L354.8 565.2L355.1 557.3L355.5 549.7L355.8 543.4L356.2 539.2L356.5 537.7L356.9 538.5L357.2 541L357.6 544.8L357.9 549.7L358.3 555.4L358.6 561.3L359 567.2L359.3 572.7L359.7 577.7L360 582L360.4 585.6L360.7 588.6L361.1 590.9L361.4 592.7L361.8 594.1L362.1 595.2L362.5 596L362.8 596.7L363.2 597.2L363.5 597.6L363.9 598L364.2 598.3L364.6 598.6L364.9 598.9L365.3 599.1L365.6 599.3L366 599.5L366.3 599.6L366.7 599.7L367 599.9L367.4 600L367.7 600L368.1 600.1L368.4 600.2L368.8 600.2L369.1 600.2L369.5 600.3L369.8 600.3L370.2 600.3L370.5 600.3L370.9 600.4L371.2 600.4L371.6 600.4L371.9 600.4L372.3 600.4L372.6 600.4L373 600.4L373.3 600.4L373.7 600.4L374 600.4L374.4 600.4L374.7 600.4L375.1 600.4L375.4 600.4L375.8 600.4L376.1 600.4L376.5 600.4L376.8 600.4L377.2 600.4L377.5 600.4L377.9 600.4L378.2 600.4L378.6 600.4L378.9 600.4L379.3 600.4L379.6 600.4L380 600.4L380.3 600.4L380.7 600.4L381 600.4L381.4 600.4L381.7 600.4L382.1 600.4L382.4 600.4L382.8 600.4L383.1 600.4L383.5 600.4L383.8 600.4L384.2 600.4L384.5 600.4L384.9 600.4L385.2 600.4L385.6 600.4L385.9 600.4L386.3 600.4L386.6 600.4L387 600.4L387.3 600.4L387.7 600.4L388 600.4L388.4 600.4L388.7 600.4L389.1 600.4L389.4 600.4L389.8 600.4L390.1 600.4L390.5 600.4L390.8 600.4L391.2 600.4L391.5 600.4L391.9 600.4L392.2 600.4L392.6 600.4L392.9 600.4L393.3 600.4L393.6 600.4L394 600.4L394.3 600.4L394.7 600.4L395 600.4L395.4 600.4L395.7 600.4L396.1 600.4L396.4 600.4L396.8 600.4L397.1 600.4L397.5 600.4L397.8 600.4L398.2 600.4L398.5 600.4L398.9 600.4L399.2 600.4L399.6 600.4L399.9 600.4L400.3 600.4L400.6 600.4L401 600.4L401.3 600.4L401.7 600.4L402 600.4L402.4 600.4L402.7 600.4L403.1 600.4L403.4 600.4L403.8 600.4L404.1 600.4L404.5 600.4L404.8 600.4L405.2 600.4L405.5 600.4L405.9 600.4L406.2 600.4L406.6 600.4L406.9 600.4L407.3 600.4L407.6 600.4L408 600.4L408.3 600.4L408.7 600.4L408.7 600.4" fill="#dcdcdc" fill-opacity="0.8"/>
<path d="M343.9 600.4L343.9 600.4L344.2 600.4L344.6 600.4L345 600.4L345.3 600.4L345.7 600.4L346 600.4L346.4 600.4L346.7 600.4L347.1 600.4L347.4 600.4L347.8 600.4L348.1 600.4L348.5 600.4L348.8 600.4L349.2 600.4L349.5 600.4L349.9 600.4L350.2 600.4L350.6 600.4L350.9 600.4L351.3 600.4L351.6 600.4L352 600.3L352.3 600.3L352.7 600.3L353 600.3L353.4 600.3L353.7 600.3L354.1 600.3L354.4 600.2L354.8 600.2L355.1 600.2L355.5 600.1L355.8 600.1L356.2 600L356.5 600L356.9 599.9L357.2 599.8L357.6 599.7L357.9 599.7L358.3 599.6L358.6 599.4L359 599.3L359.3 599.2L359.7 599L360 598.9L360.4 598.7L360.7 598.4L361.1 598.2L361.4 597.9L361.8 597.5L362.1 597L362.5 596.4L362.8 595.7L363.2 594.8L363.5 593.6L363.9 592.2L364.2 590.4L364.6 588.3L364.9 585.7L365.3 582.7L365.6 579.3L366 575.4L366.3 571.1L366.7 566.6L367 561.9L367.4 557.1L367.7 552.5L368.1 548.2L368.4 544.5L368.8 541.4L369.1 539.2L369.5 538L369.8 537.7L370.2 538.3L370.5 539.7L370.9 541.8L371.2 544.5L371.6 547.7L371.9 551.3L372.3 555.1L372.6 559.1L373 563.2L373.3 567.1L373.7 570.7L374 574.1L374.4 577.1L374.7 579.7L375.1 581.8L375.4 583.6L375.8 584.9L376.1 585.9L376.5 586.6L376.8 587.2L377.2 587.6L377.5 588.1L377.9 588.6L378.2 589.1L378.6 589.7L378.9 590.3L379.3 590.9L379.6 591.6L380 592.3L380.3 593L380.7 593.7L381 594.3L381.4 595L381.7 595.7L382.1 596.3L382.4 596.8L382.8 597.4L383.1 597.8L383.5 598.2L383.8 598.6L384.2 598.9L384.5 599.2L384.9 599.4L385.2 599.6L385.6 599.7L385.9 599.9L386.3 600L386.6 600L387 600.1L387.3 600.2L387.7 600.2L388 600.2L388.4 600.3L388.7 600.3L389.1 600.3L389.4 600.3L389.8 600.3L390.1 600.3L390.5 600.4L390.8 600.4L391.2 600.4L391.5 600.4L391.9 600.4L392.2 600.4L392.6 600.4L392.9 600.4L393.3 600.4L393.6 600.4L394 600.4L394.3 600.4L394.7 600.4L395 600.4L395.4 600.4L395.7 600.4L396.1 600.4L396.4 600.4L396.8 600.4L397.1 600.4L397.5 600.4L397.8 600.4L398.2 600.4L398.5 600.4L398.9 600.4L399.2 600.4L399.6 600.4L399.9 600.4L400.3 600.4L400.6 600.4L401 600.4L401.3 600.4L401.7 600.4L402 600.4L402.4 600.4L402.7 600.4L403.1 600.4L403.4 600.4L403.8 600.4L404.1 600.4L404.5 600.4L404.8 600.4L405.2 600.4L405.5 600.4L405.9 600.4L406.2 600.4L406.6 600.4L406.9 600.4L407.3 600.4L407.6 600.4L408 600.4L408.3 600.4L408.7 600.4L408.7 600.4" fill="#d2ddef" fill-opacity="0.8"/>
<path d="M343.9 600.4L343.9 600.4L344.2 600.4L344.6 600.4L345 600.4L345.3 600.4L345.7 600.4L346 600.4L346.4 600.4L346.7 600.4L347.1 600.4L347.4 600.4L347.8 600.4L348.1 600.4L348.5 600.4L348.8 600.4L349.2 600.4L349.5 600.4L349.9 599.5L350.2 598.6L350.6 597.8L350.9 596.9L351.3 595.4L351.6 593.6L352 591.9L352.3 590.1L352.7 588.2L353 586.2L353.4 584.1L353.7 582.1L354.1 580.1L354.4 578.2L354.8 576.3L355.1 574.4L355.5 572.5L355.8 570.8L356.2 569.2L356.5 567.6L356.9 566L357.2 564.6L357.6 563.4L357.9 562.2L358.3 561.1L358.6 560.8L359 560.6L359.3 560.5L359.7 560.3L360 560.9L360.4 561.5L360.7 562.2L361.1 563L361.4 564.8L361.8 566.5L362.1 568.2L362.5 569.7L362.8 571.1L363.2 572.6L363.5 574.1L363.9 575.2L364.2 576.4L364.6 577.6L364.9 578.7L365.3 579.5L365.6 580.1L366 580.7L366.3 581.3L366.7 581.7L367 582L367.4 582.2L367.7 582.5L368.1 582.7L368.4 582.8L368.8 582.7L369.1 582.5L369.5 582.4L369.8 582.3L370.2 582.2L370.5 582L370.9 581.9L371.2 581.7L371.6 581.5L371.9 580.9L372.3 580.3L372.6 579.8L373 579.2L373.3 578.1L373.7 576.9L374 575.7L374.4 574.6L374.7 573.4L375.1 572.2L375.4 571L375.8 569.9L376.1 569L376.5 568.2L376.8 568.2L377.2 568.9L377.5 569.7L377.9 572.1L378.2 574.5L378.6 576.9L378.9 578.9L379.3 580.9L379.6 582.9L380 584.4L380.3 585.1L380.7 585.9L381 586.6L381.4 587.2L381.7 587.7L382.1 588.3L382.4 588.8L382.8 589.3L383.1 589.9L383.5 590.4L383.8 591L384.2 591.5L384.5 592.1L384.9 592.6L385.2 593.1L385.6 593.4L385.9 593.8L386.3 594.1L386.6 594.5L387 594.8L387.3 595.2L387.7 595.5L388 595.8L388.4 596L388.7 596.3L389.1 596.6L389.4 596.8L389.8 597.1L390.1 597.3L390.5 597.5L390.8 597.7L391.2 597.8L391.5 598L391.9 598.2L392.2 598.4L392.6 598.5L392.9 598.7L393.3 598.8L393.6 598.9L394 599.1L394.3 599.2L394.7 599.3L395 599.5L395.4 599.5L395.7 599.6L396.1 599.7L396.4 599.8L396.8 599.8L397.1 599.9L397.5 600L397.8 600L398.2 600.1L398.5 600.2L398.9 600.2L399.2 600.3L399.6 600.3L399.9 600.4L400.3 600.4L400.6 600.4L401 600.4L401.3 600.4L401.7 600.4L402 600.4L402.4 600.4L402.7 600.4L403.1 600.4L403.4 600.4L403.8 600.4L404.1 600.4L404.5 600.4L404.8 600.4L405.2 600.4L405.5 600.4L405.9 600.4L406.2 600.4L406.6 600.4L406.9 600.4L407.3 600.4L407.6 600.4L408 600.4L408.3 600.4L408.7 600.4L408.7 600.4" fill="#f2d9aa" fill-opacity="0.75"/>
<path d="M343.9 600.4L343.9 600.4L344.2 600.4L344.6 600.4L345 600.4L345.3 600.4L345.7 600.4L346 600.4L346.4 600.4L346.7 600.4L347.1 600.4L347.4 600.4L347.8 600.4L348.1 600.4L348.5 600.4L348.8 600.4L349.2 600.4L349.5 600.4L349.9 600.4L350.2 600.4L350.6 600.4L350.9 600.4L351.3 600.4L351.6 600.4L352 600.3L352.3 600.3L352.7 600.3L353 600.3L353.4 600.3L353.7 600.3L354.1 600.3L354.4 600.2L354.8 600.2L355.1 600.2L355.5 600.1L355.8 600.1L356.2 600L356.5 600L356.9 599.9L357.2 599.8L357.6 599.7L357.9 599.7L358.3 599.6L358.6 599.4L359 599.3L359.3 599.2L359.7 599L360 598.9L360.4 598.7L360.7 598.4L361.1 598.2L361.4 597.9L361.8 597.5L362.1 597L362.5 596.4L362.8 595.7L363.2 594.8L363.5 593.6L363.9 592.2L364.2 590.4L364.6 588.3L364.9 585.7L365.3 582.7L365.6 579.3L366 575.4L366.3 571.1L366.7 566.6L367 561.9L367.4 557.1L367.7 552.5L368.1 548.2L368.4 544.5L368.8 541.4L369.1 539.2L369.5 538L369.8 537.7L370.2 538.3L370.5 539.7L370.9 541.8L371.2 544.5L371.6 547.7L371.9 551.3L372.3 555.1L372.6 559.1L373 563.2L373.3 567.1L373.7 570.7L374 574.1L374.4 577.1L374.7 579.7L375.1 581.8L375.4 583.6L375.8 584.9L376.1 585.9L376.5 586.6L376.8 587.2L377.2 587.6L377.5 588.1L377.9 588.6L378.2 589.1L378.6 589.7L378.9 590.3L379.3 590.9L379.6 591.6L380 592.3L380.3 593L380.7 593.7L381 594.3L381.4 595L381.7 595.7L382.1 596.3L382.4 596.8L382.8 597.4L383.1 597.8L383.5 598.2L383.8 598.6L384.2 598.9L384.5 599.2L384.9 599.4L385.2 599.6L385.6 599.7L385.9 599.9L386.3 600L386.6 600L387 600.1L387.3 600.2L387.7 600.2L388 600.2L388.4 600.3L388.7 600.3L389.1 600.3L389.4 600.3L389.8 600.3L390.1 600.3L390.5 600.4L390.8 600.4L391.2 600.4L391.5 600.4L391.9 600.4L392.2 600.4L392.6 600.4L392.9 600.4L393.3 600.4L393.6 600.4L394 600.4L394.3 600.4L394.7 600.4L395 600.4L395.4 600.4L395.7 600.4L396.1 600.4L396.4 600.4L396.8 600.4L397.1 600.4L397.5 600.4L397.8 600.4L398.2 600.4L398.5 600.4L398.9 600.4L399.2 600.4L399.6 600.4L399.9 600.4L400.3 600.4L400.6 600.4L401 600.4L401.3 600.4L401.7 600.4L402 600.4L402.4 600.4L402.7 600.4L403.1 600.4L403.4 600.4L403.8 600.4L404.1 600.4L404.5 600.4L404.8 600.4L405.2 600.4L405.5 600.4L405.9 600.4L406.2 600.4L406.6 600.4L406.9 600.4L407.3 600.4L407.6 600.4L408 600.4L408.3 600.4L408.7 600.4L408.7 600.4" fill="none" stroke="#6f9bd2" stroke-width="0.75" stroke-linejoin="round"/>
<path d="M343.9 600.4L343.9 600.4L344.2 600.4L344.6 600.4L345 600.4L345.3 600.4L345.7 600.4L346 600.4L346.4 600.4L346.7 600.4L347.1 600.4L347.4 600.4L347.8 600.4L348.1 600.4L348.5 600.4L348.8 600.4L349.2 600.4L349.5 600.4L349.9 599.5L350.2 598.6L350.6 597.8L350.9 596.9L351.3 595.4L351.6 593.6L352 591.9L352.3 590.1L352.7 588.2L353 586.2L353.4 584.1L353.7 582.1L354.1 580.1L354.4 578.2L354.8 576.3L355.1 574.4L355.5 572.5L355.8 570.8L356.2 569.2L356.5 567.6L356.9 566L357.2 564.6L357.6 563.4L357.9 562.2L358.3 561.1L358.6 560.8L359 560.6L359.3 560.5L359.7 560.3L360 560.9L360.4 561.5L360.7 562.2L361.1 563L361.4 564.8L361.8 566.5L362.1 568.2L362.5 569.7L362.8 571.1L363.2 572.6L363.5 574.1L363.9 575.2L364.2 576.4L364.6 577.6L364.9 578.7L365.3 579.5L365.6 580.1L366 580.7L366.3 581.3L366.7 581.7L367 582L367.4 582.2L367.7 582.5L368.1 582.7L368.4 582.8L368.8 582.7L369.1 582.5L369.5 582.4L369.8 582.3L370.2 582.2L370.5 582L370.9 581.9L371.2 581.7L371.6 581.5L371.9 580.9L372.3 580.3L372.6 579.8L373 579.2L373.3 578.1L373.7 576.9L374 575.7L374.4 574.6L374.7 573.4L375.1 572.2L375.4 571L375.8 569.9L376.1 569L376.5 568.2L376.8 568.2L377.2 568.9L377.5 569.7L377.9 572.1L378.2 574.5L378.6 576.9L378.9 578.9L379.3 580.9L379.6 582.9L380 584.4L380.3 585.1L380.7 585.9L381 586.6L381.4 587.2L381.7 587.7L382.1 588.3L382.4 588.8L382.8 589.3L383.1 589.9L383.5 590.4L383.8 591L384.2 591.5L384.5 592.1L384.9 592.6L385.2 593.1L385.6 593.4L385.9 593.8L386.3 594.1L386.6 594.5L387 594.8L387.3 595.2L387.7 595.5L388 595.8L388.4 596L388.7 596.3L389.1 596.6L389.4 596.8L389.8 597.1L390.1 597.3L390.5 597.5L390.8 597.7L391.2 597.8L391.5 598L391.9 598.2L392.2 598.4L392.6 598.5L392.9 598.7L393.3 598.8L393.6 598.9L394 599.1L394.3 599.2L394.7 599.3L395 599.5L395.4 599.5L395.7 599.6L396.1 599.7L396.4 599.8L396.8 599.8L397.1 599.9L397.5 600L397.8 600L398.2 600.1L398.5 600.2L398.9 600.2L399.2 600.3L399.6 600.3L399.9 600.4L400.3 600.4L400.6 600.4L401 600.4L401.3 600.4L401.7 600.4L402 600.4L402.4 600.4L402.7 600.4L403.1 600.4L403.4 600.4L403.8 600.4L404.1 600.4L404.5 600.4L404.8 600.4L405.2 600.4L405.5 600.4L405.9 600.4L406.2 600.4L406.6 600.4L406.9 600.4L407.3 600.4L407.6 600.4L408 600.4L408.3 600.4L408.7 600.4L408.7 600.4" fill="none" stroke="#e07f78" stroke-width="0.75" stroke-linejoin="round"/>
<path d="M343.9 600.4L343.9 600.4L344.2 600.4L344.6 600.4L345 600.4L345.3 600.4L345.7 600.4L346 600.3L346.4 600.3L346.7 600.3L347.1 600.2L347.4 600.2L347.8 600.1L348.1 600L348.5 599.9L348.8 599.8L349.2 599.6L349.5 599.4L349.9 599.2L350.2 598.9L350.6 598.5L350.9 598.1L351.3 597.6L351.6 597L352 596.2L352.3 595.2L352.7 593.7L353 591.5L353.4 588.6L353.7 584.5L354.1 579.2L354.4 572.7L354.8 565.2L355.1 557.3L355.5 549.7L355.8 543.4L356.2 539.2L356.5 537.7L356.9 538.5L357.2 541L357.6 544.8L357.9 549.7L358.3 555.4L358.6 561.3L359 567.2L359.3 572.7L359.7 577.7L360 582L360.4 585.6L360.7 588.6L361.1 590.9L361.4 592.7L361.8 594.1L362.1 595.2L362.5 596L362.8 596.7L363.2 597.2L363.5 597.6L363.9 598L364.2 598.3L364.6 598.6L364.9 598.9L365.3 599.1L365.6 599.3L366 599.5L366.3 599.6L366.7 599.7L367 599.9L367.4 600L367.7 600L368.1 600.1L368.4 600.2L368.8 600.2L369.1 600.2L369.5 600.3L369.8 600.3L370.2 600.3L370.5 600.3L370.9 600.4L371.2 600.4L371.6 600.4L371.9 600.4L372.3 600.4L372.6 600.4L373 600.4L373.3 600.4L373.7 600.4L374 600.4L374.4 600.4L374.7 600.4L375.1 600.4L375.4 600.4L375.8 600.4L376.1 600.4L376.5 600.4L376.8 600.4L377.2 600.4L377.5 600.4L377.9 600.4L378.2 600.4L378.6 600.4L378.9 600.4L379.3 600.4L379.6 600.4L380 600.4L380.3 600.4L380.7 600.4L381 600.4L381.4 600.4L381.7 600.4L382.1 600.4L382.4 600.4L382.8 600.4L383.1 600.4L383.5 600.4L383.8 600.4L384.2 600.4L384.5 600.4L384.9 600.4L385.2 600.4L385.6 600.4L385.9 600.4L386.3 600.4L386.6 600.4L387 600.4L387.3 600.4L387.7 600.4L388 600.4L388.4 600.4L388.7 600.4L389.1 600.4L389.4 600.4L389.8 600.4L390.1 600.4L390.5 600.4L390.8 600.4L391.2 600.4L391.5 600.4L391.9 600.4L392.2 600.4L392.6 600.4L392.9 600.4L393.3 600.4L393.6 600.4L394 600.4L394.3 600.4L394.7 600.4L395 600.4L395.4 600.4L395.7 600.4L396.1 600.4L396.4 600.4L396.8 600.4L397.1 600.4L397.5 600.4L397.8 600.4L398.2 600.4L398.5 600.4L398.9 600.4L399.2 600.4L399.6 600.4L399.9 600.4L400.3 600.4L400.6 600.4L401 600.4L401.3 600.4L401.7 600.4L402 600.4L402.4 600.4L402.7 600.4L403.1 600.4L403.4 600.4L403.8 600.4L404.1 600.4L404.5 600.4L404.8 600.4L405.2 600.4L405.5 600.4L405.9 600.4L406.2 600.4L406.6 600.4L406.9 600.4L407.3 600.4L407.6 600.4L408 600.4L408.3 600.4L408.7 600.4L408.7 600.4" fill="none" stroke="#1e1e1e" stroke-width="0.75" stroke-linejoin="round"/>
<rect x="343.4" y="535.2" width="66" height="65.8" fill="none" stroke="#1e1e1e" stroke-width="1.3"/>
<line x1="340.1" y1="600.6" x2="343.4" y2="600.6" stroke="#1e1e1e" stroke-width="0.9"/>
<text x="336.5" y="602.7" font-size="6.1" text-anchor="end" textLength="3.1" lengthAdjust="spacingAndGlyphs">0</text>
<line x1="340.1" y1="588.1" x2="343.4" y2="588.1" stroke="#1e1e1e" stroke-width="0.9"/>
<text x="336.5" y="590.2" font-size="6.1" text-anchor="end" textLength="6.1" lengthAdjust="spacingAndGlyphs">20</text>
<line x1="340.1" y1="575.5" x2="343.4" y2="575.5" stroke="#1e1e1e" stroke-width="0.9"/>
<text x="336.5" y="577.6" font-size="6.1" text-anchor="end" textLength="6.1" lengthAdjust="spacingAndGlyphs">40</text>
<line x1="340.1" y1="563" x2="343.4" y2="563" stroke="#1e1e1e" stroke-width="0.9"/>
<text x="336.5" y="565.1" font-size="6.1" text-anchor="end" textLength="6.1" lengthAdjust="spacingAndGlyphs">60</text>
<line x1="340.1" y1="550.4" x2="343.4" y2="550.4" stroke="#1e1e1e" stroke-width="0.9"/>
<text x="336.5" y="552.5" font-size="6.1" text-anchor="end" textLength="6.1" lengthAdjust="spacingAndGlyphs">80</text>
<line x1="340.1" y1="537.9" x2="343.4" y2="537.9" stroke="#1e1e1e" stroke-width="0.9"/>
<text x="336.5" y="540" font-size="6.1" text-anchor="end" textLength="9.2" lengthAdjust="spacingAndGlyphs">100</text>
<path d="M343.4 597.5h-1.3M343.4 594.3h-1.3M343.4 591.2h-1.3M343.4 584.9h-1.3M343.4 581.8h-1.3M343.4 578.7h-1.3M343.4 572.4h-1.3M343.4 569.2h-1.3M343.4 566.1h-1.3M343.4 559.8h-1.3M343.4 556.7h-1.3M343.4 553.6h-1.3M343.4 547.3h-1.3M343.4 544.2h-1.3M343.4 541h-1.3" stroke="#1e1e1e" stroke-width="0.6"/>
<path d="M346.4 601v1.6M350.9 601v1.6M353.6 601v1.6M355.4 601v1.6M356.9 601v1.6M358.1 601v1.6M359.1 601v1.6M359.9 601v1.6M360.7 601v1.6M361.4 601v1.6M365.9 601v1.6M368.6 601v1.6M370.4 601v1.6M371.9 601v1.6M373.1 601v1.6M374.1 601v1.6M374.9 601v1.6M375.7 601v1.6M376.4 601v1.6M380.9 601v1.6M383.6 601v1.6M385.4 601v1.6M386.9 601v1.6M388.1 601v1.6M389.1 601v1.6M389.9 601v1.6M390.7 601v1.6M391.4 601v1.6M395.9 601v1.6M398.6 601v1.6M400.4 601v1.6M401.9 601v1.6M403.1 601v1.6M404.1 601v1.6M404.9 601v1.6M405.7 601v1.6" stroke="#1e1e1e" stroke-width="0.6"/>
<text x="339.6" y="615.5" font-size="8.6" textLength="20.7" lengthAdjust="spacingAndGlyphs">SIRPA</text>
<line x1="364.6" y1="612.6" x2="406" y2="612.6" stroke="#1e1e1e" stroke-width="1"/>
<path d="M403.5 610.2L409 612.6L403.5 615z" fill="#1e1e1e"/>
<path d="M446.5 599.4L446.5 599.4L446.9 599.4L447.2 599.4L447.6 599.4L447.9 599.4L448.3 599.4L448.6 599.4L449 599.4L449.3 599.4L449.7 599.4L450 599.4L450.4 599.4L450.7 599.4L451.1 599.4L451.4 599.4L451.8 599.3L452.1 599.3L452.5 599.3L452.8 599.2L453.2 599.2L453.5 599.1L453.9 599L454.2 598.9L454.6 598.8L454.9 598.6L455.3 598.4L455.6 598.1L456 597.8L456.3 597.4L456.7 596.9L457 596.3L457.4 595.4L457.7 594.1L458.1 592.1L458.4 589.2L458.8 585.1L459.1 579.5L459.5 572.4L459.8 564.2L460.2 555.6L460.5 547.5L460.9 541.1L461.2 537.5L461.6 537.1L461.9 539.3L462.3 543.6L462.6 549.4L463 556.2L463.3 563.4L463.7 570.2L464 576.4L464.4 581.7L464.7 586L465.1 589.3L465.4 591.7L465.8 593.5L466.1 594.8L466.5 595.7L466.8 596.4L467.2 596.9L467.5 597.3L467.9 597.7L468.2 597.9L468.6 598.2L468.9 598.4L469.3 598.6L469.6 598.7L470 598.9L470.3 599L470.7 599L471 599.1L471.4 599.2L471.7 599.2L472.1 599.3L472.4 599.3L472.8 599.3L473.1 599.3L473.5 599.4L473.8 599.4L474.2 599.4L474.5 599.4L474.9 599.4L475.2 599.4L475.6 599.4L475.9 599.4L476.3 599.4L476.6 599.4L477 599.4L477.3 599.4L477.7 599.4L478 599.4L478.4 599.4L478.7 599.4L479.1 599.4L479.4 599.4L479.8 599.4L480.1 599.4L480.5 599.4L480.8 599.4L481.2 599.4L481.5 599.4L481.9 599.4L482.2 599.4L482.6 599.4L482.9 599.4L483.3 599.4L483.6 599.4L484 599.4L484.3 599.4L484.7 599.4L485 599.4L485.4 599.4L485.7 599.4L486.1 599.4L486.4 599.4L486.8 599.4L487.1 599.4L487.5 599.4L487.8 599.4L488.2 599.4L488.5 599.4L488.9 599.4L489.2 599.4L489.6 599.4L489.9 599.4L490.3 599.4L490.6 599.4L491 599.4L491.3 599.4L491.7 599.4L492 599.4L492.4 599.4L492.7 599.4L493.1 599.4L493.4 599.4L493.8 599.4L494.1 599.4L494.5 599.4L494.8 599.4L495.2 599.4L495.5 599.4L495.9 599.4L496.2 599.4L496.6 599.4L496.9 599.4L497.3 599.4L497.6 599.4L498 599.4L498.3 599.4L498.7 599.4L499 599.4L499.4 599.4L499.7 599.4L500.1 599.4L500.4 599.4L500.8 599.4L501.1 599.4L501.5 599.4L501.8 599.4L502.2 599.4L502.5 599.4L502.9 599.4L503.2 599.4L503.6 599.4L503.9 599.4L504.3 599.4L504.6 599.4L505 599.4L505.3 599.4L505.7 599.4L506 599.4L506.4 599.4L506.7 599.4L507.1 599.4L507.4 599.4L507.8 599.4L508.1 599.4L508.5 599.4L508.8 599.4L509.2 599.4L509.5 599.4L509.9 599.4L510.2 599.4L510.6 599.4L510.9 599.4L511.3 599.4L511.6 599.4L512 599.4L512 599.4" fill="#dcdcdc" fill-opacity="0.8"/>
<path d="M446.5 599.4L446.5 599.4L446.9 599.4L447.2 599.4L447.6 599.4L447.9 599.4L448.3 599.4L448.6 599.4L449 599.4L449.3 599.4L449.7 599.4L450 599.4L450.4 599.4L450.7 599.4L451.1 599.4L451.4 599.4L451.8 599.4L452.1 599.4L452.5 599.4L452.8 599.4L453.2 599.4L453.5 599.4L453.9 599.4L454.2 599.4L454.6 599.4L454.9 599.4L455.3 599.4L455.6 599.4L456 599.4L456.3 599.4L456.7 599.4L457 599.4L457.4 599.4L457.7 599.4L458.1 599.4L458.4 599.4L458.8 599.4L459.1 599.4L459.5 599.4L459.8 599.4L460.2 599.4L460.5 599.4L460.9 599.4L461.2 599.4L461.6 599.4L461.9 599.4L462.3 599.4L462.6 599.4L463 599.4L463.3 599.4L463.7 599.4L464 599.4L464.4 599.4L464.7 599.4L465.1 599.4L465.4 599.4L465.8 599.4L466.1 599.4L466.5 599.4L466.8 599.4L467.2 599.4L467.5 599.4L467.9 599.4L468.2 599.4L468.6 599.4L468.9 599.4L469.3 599.4L469.6 599.4L470 599.4L470.3 599.4L470.7 599.4L471 599.4L471.4 599.4L471.7 599.4L472.1 599.4L472.4 599.1L472.8 598.8L473.1 598.5L473.5 598.2L473.8 597.1L474.2 596L474.5 594.8L474.9 593.6L475.2 591.9L475.6 589.7L475.9 587.5L476.3 585.3L476.6 582.9L477 580L477.3 577.1L477.7 574.2L478 571.3L478.4 567.8L478.7 564.2L479.1 560.7L479.4 557.2L479.8 553.7L480.1 551.4L480.5 549.3L480.8 547.3L481.2 545.2L481.5 543.1L481.9 542L482.2 540.8L482.6 539.6L482.9 538.5L483.3 537.8L483.6 537.4L484 537L484.3 537.3L484.7 537.7L485 538.2L485.4 538.6L485.7 539.4L486.1 540.4L486.4 541.4L486.8 542.4L487.1 543.5L487.5 544.7L487.8 545.8L488.2 547L488.5 548.3L488.9 549.7L489.2 551.2L489.6 552.6L489.9 554L490.3 555.5L490.6 557L491 558.6L491.3 560.1L491.7 561.6L492 563.2L492.4 564.5L492.7 565.8L493.1 567.2L493.4 568.5L493.8 569.9L494.1 571.2L494.5 572.6L494.8 574.1L495.2 575.7L495.5 577.3L495.9 578.9L496.2 580.5L496.6 582.1L496.9 583.6L497.3 585L497.6 586.5L498 587.9L498.3 589.4L498.7 590.9L499 592.2L499.4 593.3L499.7 594.4L500.1 595.5L500.4 596.6L500.8 597.2L501.1 597.7L501.5 598.1L501.8 598.5L502.2 598.8L502.5 598.9L502.9 599L503.2 599.2L503.6 599.3L503.9 599.4L504.3 599.4L504.6 599.4L505 599.4L505.3 599.4L505.7 599.4L506 599.4L506.4 599.4L506.7 599.4L507.1 599.4L507.4 599.4L507.8 599.4L508.1 599.4L508.5 599.4L508.8 599.4L509.2 599.4L509.5 599.4L509.9 599.4L510.2 599.4L510.6 599.4L510.9 599.4L511.3 599.4L511.6 599.4L512 599.4L512 599.4" fill="#d2ddef" fill-opacity="0.8"/>
<path d="M446.5 599.4L446.5 599.4L446.9 599.4L447.2 599.4L447.6 599.4L447.9 599.4L448.3 599.4L448.6 599.4L449 599.3L449.3 599.3L449.7 599.3L450 599.3L450.4 599.3L450.7 599.2L451.1 599.2L451.4 599.1L451.8 599L452.1 598.9L452.5 598.8L452.8 598.7L453.2 598.6L453.5 598.4L453.9 598.2L454.2 598L454.6 597.7L454.9 597.4L455.3 597L455.6 596.6L456 596.1L456.3 595.4L456.7 594.6L457 593.4L457.4 591.9L457.7 589.8L458.1 587.2L458.4 583.8L458.8 579.7L459.1 574.8L459.5 569.4L459.8 563.6L460.2 557.9L460.5 552.7L460.9 548.4L461.2 545.6L461.6 544.4L461.9 544.7L462.3 546L462.6 548.1L463 551L463.3 554.4L463.7 558.3L464 562.4L464.4 566.6L464.7 570.7L465.1 574.6L465.4 578.2L465.8 581.4L466.1 584.2L466.5 586.7L466.8 588.7L467.2 590.5L467.5 591.9L467.9 593L468.2 594L468.6 594.7L468.9 595.3L469.3 595.8L469.6 596.3L470 596.6L470.3 596.9L470.7 597.2L471 597.4L471.4 597.7L471.7 597.9L472.1 598L472.4 598.2L472.8 598.3L473.1 598.5L473.5 598.6L473.8 598.7L474.2 598.8L474.5 598.9L474.9 598.9L475.2 599L475.6 599.1L475.9 599.1L476.3 599.2L476.6 599.2L477 599.2L477.3 599.3L477.7 599.3L478 599.3L478.4 599.3L478.7 599.3L479.1 599.3L479.4 599.4L479.8 599.4L480.1 599.4L480.5 599.4L480.8 599.4L481.2 599.4L481.5 599.4L481.9 599.4L482.2 599.4L482.6 599.4L482.9 599.4L483.3 599.4L483.6 599.4L484 599.4L484.3 599.4L484.7 599.4L485 599.4L485.4 599.4L485.7 599.4L486.1 599.4L486.4 599.4L486.8 599.4L487.1 599.4L487.5 599.4L487.8 599.4L488.2 599.4L488.5 599.4L488.9 599.4L489.2 599.4L489.6 599.4L489.9 599.4L490.3 599.4L490.6 599.4L491 599.4L491.3 599.4L491.7 599.4L492 599.4L492.4 599.4L492.7 599.4L493.1 599.4L493.4 599.4L493.8 599.4L494.1 599.4L494.5 599.4L494.8 599.4L495.2 599.4L495.5 599.4L495.9 599.4L496.2 599.4L496.6 599.4L496.9 599.4L497.3 599.4L497.6 599.4L498 599.4L498.3 599.4L498.7 599.4L499 599.4L499.4 599.4L499.7 599.4L500.1 599.4L500.4 599.4L500.8 599.4L501.1 599.4L501.5 599.4L501.8 599.4L502.2 599.4L502.5 599.4L502.9 599.4L503.2 599.4L503.6 599.4L503.9 599.4L504.3 599.4L504.6 599.4L505 599.4L505.3 599.4L505.7 599.4L506 599.4L506.4 599.4L506.7 599.4L507.1 599.4L507.4 599.4L507.8 599.4L508.1 599.4L508.5 599.4L508.8 599.4L509.2 599.4L509.5 599.4L509.9 599.4L510.2 599.4L510.6 599.4L510.9 599.4L511.3 599.4L511.6 599.4L512 599.4L512 599.4" fill="#f2d9aa" fill-opacity="0.75"/>
<path d="M446.5 599.4L446.5 599.4L446.9 599.4L447.2 599.4L447.6 599.4L447.9 599.4L448.3 599.4L448.6 599.4L449 599.4L449.3 599.4L449.7 599.4L450 599.4L450.4 599.4L450.7 599.4L451.1 599.4L451.4 599.4L451.8 599.4L452.1 599.4L452.5 599.4L452.8 599.4L453.2 599.4L453.5 599.4L453.9 599.4L454.2 599.4L454.6 599.4L454.9 599.4L455.3 599.4L455.6 599.4L456 599.4L456.3 599.4L456.7 599.4L457 599.4L457.4 599.4L457.7 599.4L458.1 599.4L458.4 599.4L458.8 599.4L459.1 599.4L459.5 599.4L459.8 599.4L460.2 599.4L460.5 599.4L460.9 599.4L461.2 599.4L461.6 599.4L461.9 599.4L462.3 599.4L462.6 599.4L463 599.4L463.3 599.4L463.7 599.4L464 599.4L464.4 599.4L464.7 599.4L465.1 599.4L465.4 599.4L465.8 599.4L466.1 599.4L466.5 599.4L466.8 599.4L467.2 599.4L467.5 599.4L467.9 599.4L468.2 599.4L468.6 599.4L468.9 599.4L469.3 599.4L469.6 599.4L470 599.4L470.3 599.4L470.7 599.4L471 599.4L471.4 599.4L471.7 599.4L472.1 599.4L472.4 599.1L472.8 598.8L473.1 598.5L473.5 598.2L473.8 597.1L474.2 596L474.5 594.8L474.9 593.6L475.2 591.9L475.6 589.7L475.9 587.5L476.3 585.3L476.6 582.9L477 580L477.3 577.1L477.7 574.2L478 571.3L478.4 567.8L478.7 564.2L479.1 560.7L479.4 557.2L479.8 553.7L480.1 551.4L480.5 549.3L480.8 547.3L481.2 545.2L481.5 543.1L481.9 542L482.2 540.8L482.6 539.6L482.9 538.5L483.3 537.8L483.6 537.4L484 537L484.3 537.3L484.7 537.7L485 538.2L485.4 538.6L485.7 539.4L486.1 540.4L486.4 541.4L486.8 542.4L487.1 543.5L487.5 544.7L487.8 545.8L488.2 547L488.5 548.3L488.9 549.7L489.2 551.2L489.6 552.6L489.9 554L490.3 555.5L490.6 557L491 558.6L491.3 560.1L491.7 561.6L492 563.2L492.4 564.5L492.7 565.8L493.1 567.2L493.4 568.5L493.8 569.9L494.1 571.2L494.5 572.6L494.8 574.1L495.2 575.7L495.5 577.3L495.9 578.9L496.2 580.5L496.6 582.1L496.9 583.6L497.3 585L497.6 586.5L498 587.9L498.3 589.4L498.7 590.9L499 592.2L499.4 593.3L499.7 594.4L500.1 595.5L500.4 596.6L500.8 597.2L501.1 597.7L501.5 598.1L501.8 598.5L502.2 598.8L502.5 598.9L502.9 599L503.2 599.2L503.6 599.3L503.9 599.4L504.3 599.4L504.6 599.4L505 599.4L505.3 599.4L505.7 599.4L506 599.4L506.4 599.4L506.7 599.4L507.1 599.4L507.4 599.4L507.8 599.4L508.1 599.4L508.5 599.4L508.8 599.4L509.2 599.4L509.5 599.4L509.9 599.4L510.2 599.4L510.6 599.4L510.9 599.4L511.3 599.4L511.6 599.4L512 599.4L512 599.4" fill="none" stroke="#6f9bd2" stroke-width="0.75" stroke-linejoin="round"/>
<path d="M446.5 599.4L446.5 599.4L446.9 599.4L447.2 599.4L447.6 599.4L447.9 599.4L448.3 599.4L448.6 599.4L449 599.3L449.3 599.3L449.7 599.3L450 599.3L450.4 599.3L450.7 599.2L451.1 599.2L451.4 599.1L451.8 599L452.1 598.9L452.5 598.8L452.8 598.7L453.2 598.6L453.5 598.4L453.9 598.2L454.2 598L454.6 597.7L454.9 597.4L455.3 597L455.6 596.6L456 596.1L456.3 595.4L456.7 594.6L457 593.4L457.4 591.9L457.7 589.8L458.1 587.2L458.4 583.8L458.8 579.7L459.1 574.8L459.5 569.4L459.8 563.6L460.2 557.9L460.5 552.7L460.9 548.4L461.2 545.6L461.6 544.4L461.9 544.7L462.3 546L462.6 548.1L463 551L463.3 554.4L463.7 558.3L464 562.4L464.4 566.6L464.7 570.7L465.1 574.6L465.4 578.2L465.8 581.4L466.1 584.2L466.5 586.7L466.8 588.7L467.2 590.5L467.5 591.9L467.9 593L468.2 594L468.6 594.7L468.9 595.3L469.3 595.8L469.6 596.3L470 596.6L470.3 596.9L470.7 597.2L471 597.4L471.4 597.7L471.7 597.9L472.1 598L472.4 598.2L472.8 598.3L473.1 598.5L473.5 598.6L473.8 598.7L474.2 598.8L474.5 598.9L474.9 598.9L475.2 599L475.6 599.1L475.9 599.1L476.3 599.2L476.6 599.2L477 599.2L477.3 599.3L477.7 599.3L478 599.3L478.4 599.3L478.7 599.3L479.1 599.3L479.4 599.4L479.8 599.4L480.1 599.4L480.5 599.4L480.8 599.4L481.2 599.4L481.5 599.4L481.9 599.4L482.2 599.4L482.6 599.4L482.9 599.4L483.3 599.4L483.6 599.4L484 599.4L484.3 599.4L484.7 599.4L485 599.4L485.4 599.4L485.7 599.4L486.1 599.4L486.4 599.4L486.8 599.4L487.1 599.4L487.5 599.4L487.8 599.4L488.2 599.4L488.5 599.4L488.9 599.4L489.2 599.4L489.6 599.4L489.9 599.4L490.3 599.4L490.6 599.4L491 599.4L491.3 599.4L491.7 599.4L492 599.4L492.4 599.4L492.7 599.4L493.1 599.4L493.4 599.4L493.8 599.4L494.1 599.4L494.5 599.4L494.8 599.4L495.2 599.4L495.5 599.4L495.9 599.4L496.2 599.4L496.6 599.4L496.9 599.4L497.3 599.4L497.6 599.4L498 599.4L498.3 599.4L498.7 599.4L499 599.4L499.4 599.4L499.7 599.4L500.1 599.4L500.4 599.4L500.8 599.4L501.1 599.4L501.5 599.4L501.8 599.4L502.2 599.4L502.5 599.4L502.9 599.4L503.2 599.4L503.6 599.4L503.9 599.4L504.3 599.4L504.6 599.4L505 599.4L505.3 599.4L505.7 599.4L506 599.4L506.4 599.4L506.7 599.4L507.1 599.4L507.4 599.4L507.8 599.4L508.1 599.4L508.5 599.4L508.8 599.4L509.2 599.4L509.5 599.4L509.9 599.4L510.2 599.4L510.6 599.4L510.9 599.4L511.3 599.4L511.6 599.4L512 599.4L512 599.4" fill="none" stroke="#e07f78" stroke-width="0.75" stroke-linejoin="round"/>
<path d="M446.5 599.4L446.5 599.4L446.9 599.4L447.2 599.4L447.6 599.4L447.9 599.4L448.3 599.4L448.6 599.4L449 599.4L449.3 599.4L449.7 599.4L450 599.4L450.4 599.4L450.7 599.4L451.1 599.4L451.4 599.4L451.8 599.3L452.1 599.3L452.5 599.3L452.8 599.2L453.2 599.2L453.5 599.1L453.9 599L454.2 598.9L454.6 598.8L454.9 598.6L455.3 598.4L455.6 598.1L456 597.8L456.3 597.4L456.7 596.9L457 596.3L457.4 595.4L457.7 594.1L458.1 592.1L458.4 589.2L458.8 585.1L459.1 579.5L459.5 572.4L459.8 564.2L460.2 555.6L460.5 547.5L460.9 541.1L461.2 537.5L461.6 537.1L461.9 539.3L462.3 543.6L462.6 549.4L463 556.2L463.3 563.4L463.7 570.2L464 576.4L464.4 581.7L464.7 586L465.1 589.3L465.4 591.7L465.8 593.5L466.1 594.8L466.5 595.7L466.8 596.4L467.2 596.9L467.5 597.3L467.9 597.7L468.2 597.9L468.6 598.2L468.9 598.4L469.3 598.6L469.6 598.7L470 598.9L470.3 599L470.7 599L471 599.1L471.4 599.2L471.7 599.2L472.1 599.3L472.4 599.3L472.8 599.3L473.1 599.3L473.5 599.4L473.8 599.4L474.2 599.4L474.5 599.4L474.9 599.4L475.2 599.4L475.6 599.4L475.9 599.4L476.3 599.4L476.6 599.4L477 599.4L477.3 599.4L477.7 599.4L478 599.4L478.4 599.4L478.7 599.4L479.1 599.4L479.4 599.4L479.8 599.4L480.1 599.4L480.5 599.4L480.8 599.4L481.2 599.4L481.5 599.4L481.9 599.4L482.2 599.4L482.6 599.4L482.9 599.4L483.3 599.4L483.6 599.4L484 599.4L484.3 599.4L484.7 599.4L485 599.4L485.4 599.4L485.7 599.4L486.1 599.4L486.4 599.4L486.8 599.4L487.1 599.4L487.5 599.4L487.8 599.4L488.2 599.4L488.5 599.4L488.9 599.4L489.2 599.4L489.6 599.4L489.9 599.4L490.3 599.4L490.6 599.4L491 599.4L491.3 599.4L491.7 599.4L492 599.4L492.4 599.4L492.7 599.4L493.1 599.4L493.4 599.4L493.8 599.4L494.1 599.4L494.5 599.4L494.8 599.4L495.2 599.4L495.5 599.4L495.9 599.4L496.2 599.4L496.6 599.4L496.9 599.4L497.3 599.4L497.6 599.4L498 599.4L498.3 599.4L498.7 599.4L499 599.4L499.4 599.4L499.7 599.4L500.1 599.4L500.4 599.4L500.8 599.4L501.1 599.4L501.5 599.4L501.8 599.4L502.2 599.4L502.5 599.4L502.9 599.4L503.2 599.4L503.6 599.4L503.9 599.4L504.3 599.4L504.6 599.4L505 599.4L505.3 599.4L505.7 599.4L506 599.4L506.4 599.4L506.7 599.4L507.1 599.4L507.4 599.4L507.8 599.4L508.1 599.4L508.5 599.4L508.8 599.4L509.2 599.4L509.5 599.4L509.9 599.4L510.2 599.4L510.6 599.4L510.9 599.4L511.3 599.4L511.6 599.4L512 599.4L512 599.4" fill="none" stroke="#1e1e1e" stroke-width="0.75" stroke-linejoin="round"/>
<rect x="446" y="534.4" width="66.6" height="65.6" fill="none" stroke="#1e1e1e" stroke-width="1.3"/>
<line x1="442.7" y1="599.6" x2="446" y2="599.6" stroke="#1e1e1e" stroke-width="0.9"/>
<text x="439.1" y="601.7" font-size="6.1" text-anchor="end" textLength="3.1" lengthAdjust="spacingAndGlyphs">0</text>
<line x1="442.7" y1="587.1" x2="446" y2="587.1" stroke="#1e1e1e" stroke-width="0.9"/>
<text x="439.1" y="589.2" font-size="6.1" text-anchor="end" textLength="6.1" lengthAdjust="spacingAndGlyphs">20</text>
<line x1="442.7" y1="574.6" x2="446" y2="574.6" stroke="#1e1e1e" stroke-width="0.9"/>
<text x="439.1" y="576.7" font-size="6.1" text-anchor="end" textLength="6.1" lengthAdjust="spacingAndGlyphs">40</text>
<line x1="442.7" y1="562.1" x2="446" y2="562.1" stroke="#1e1e1e" stroke-width="0.9"/>
<text x="439.1" y="564.2" font-size="6.1" text-anchor="end" textLength="6.1" lengthAdjust="spacingAndGlyphs">60</text>
<line x1="442.7" y1="549.6" x2="446" y2="549.6" stroke="#1e1e1e" stroke-width="0.9"/>
<text x="439.1" y="551.7" font-size="6.1" text-anchor="end" textLength="6.1" lengthAdjust="spacingAndGlyphs">80</text>
<line x1="442.7" y1="537.1" x2="446" y2="537.1" stroke="#1e1e1e" stroke-width="0.9"/>
<text x="439.1" y="539.2" font-size="6.1" text-anchor="end" textLength="9.2" lengthAdjust="spacingAndGlyphs">100</text>
<path d="M446 596.5h-1.3M446 593.4h-1.3M446 590.2h-1.3M446 584h-1.3M446 580.9h-1.3M446 577.7h-1.3M446 571.5h-1.3M446 568.4h-1.3M446 565.2h-1.3M446 559h-1.3M446 555.9h-1.3M446 552.7h-1.3M446 546.5h-1.3M446 543.4h-1.3M446 540.2h-1.3" stroke="#1e1e1e" stroke-width="0.6"/>
<path d="M449 600v1.6M453.6 600v1.6M456.2 600v1.6M458.1 600v1.6M459.6 600v1.6M460.8 600v1.6M461.8 600v1.6M462.7 600v1.6M463.5 600v1.6M464.1 600v1.6M468.7 600v1.6M471.4 600v1.6M473.3 600v1.6M474.7 600v1.6M475.9 600v1.6M477 600v1.6M477.8 600v1.6M478.6 600v1.6M479.3 600v1.6M483.9 600v1.6M486.5 600v1.6M488.4 600v1.6M489.9 600v1.6M491.1 600v1.6M492.1 600v1.6M493 600v1.6M493.8 600v1.6M494.5 600v1.6M499 600v1.6M501.7 600v1.6M503.6 600v1.6M505 600v1.6M506.2 600v1.6M507.3 600v1.6M508.1 600v1.6M508.9 600v1.6" stroke="#1e1e1e" stroke-width="0.6"/>
<text x="443.4" y="615.5" font-size="8.6" textLength="24.1" lengthAdjust="spacingAndGlyphs">CD11b</text>
<line x1="471.3" y1="612.6" x2="509.2" y2="612.6" stroke="#1e1e1e" stroke-width="1"/>
<path d="M506.7 610.2L512.2 612.6L506.7 615z" fill="#1e1e1e"/>
<text transform="translate(15.2 667.6) rotate(-90)" font-size="8.2" text-anchor="middle" textLength="12.5" lengthAdjust="spacingAndGlyphs">MFI</text>
<rect x="41.3" y="628.5" width="65.6" height="12.8" fill="#cec7cb" stroke="#1e1e1e" stroke-width="1.1"/>
<text x="74.1" y="638" font-size="8.8" text-anchor="middle" textLength="13.6" lengthAdjust="spacingAndGlyphs">AXL</text>
<rect x="41.3" y="641.3" width="65.6" height="50.7" fill="none" stroke="#1e1e1e" stroke-width="1.1"/>
<line x1="38.5" y1="691.3" x2="41.3" y2="691.3" stroke="#1e1e1e" stroke-width="0.8"/>
<text x="34.9" y="693.2" font-size="5.6" text-anchor="end">0</text>
<line x1="38.5" y1="679.2" x2="41.3" y2="679.2" stroke="#1e1e1e" stroke-width="0.8"/>
<text x="34.9" y="681.1" font-size="5.6" text-anchor="end">1000</text>
<line x1="38.5" y1="667.1" x2="41.3" y2="667.1" stroke="#1e1e1e" stroke-width="0.8"/>
<text x="34.9" y="669" font-size="5.6" text-anchor="end">2000</text>
<line x1="38.5" y1="655" x2="41.3" y2="655" stroke="#1e1e1e" stroke-width="0.8"/>
<text x="34.9" y="656.9" font-size="5.6" text-anchor="end">3000</text>
<line x1="38.5" y1="642.9" x2="41.3" y2="642.9" stroke="#1e1e1e" stroke-width="0.8"/>
<text x="34.9" y="644.8" font-size="5.6" text-anchor="end">4000</text>
<line x1="53.5" y1="692" x2="53.5" y2="695.2" stroke="#1e1e1e" stroke-width="0.8"/>
<text x="53.5" y="703.9" font-size="5.9" text-anchor="middle" textLength="8.7" lengthAdjust="spacingAndGlyphs">BM</text>
<circle cx="54.1" cy="689.8" r="2.9" fill="#7fb2e5" stroke="#2b2b2b" stroke-width="0.7"/>
<circle cx="56" cy="690.1" r="2.9" fill="#7fb2e5" stroke="#2b2b2b" stroke-width="0.7"/>
<circle cx="54.8" cy="690.2" r="2.9" fill="#7fb2e5" stroke="#2b2b2b" stroke-width="0.7"/>
<line x1="73.6" y1="692" x2="73.6" y2="695.2" stroke="#1e1e1e" stroke-width="0.8"/>
<text x="73.6" y="703.9" font-size="5.9" text-anchor="middle" textLength="3.6" lengthAdjust="spacingAndGlyphs">R</text>
<circle cx="75.4" cy="689.5" r="2.9" fill="#8f8f8f" stroke="#2b2b2b" stroke-width="0.7"/>
<circle cx="71.1" cy="689.7" r="2.9" fill="#8f8f8f" stroke="#2b2b2b" stroke-width="0.7"/>
<circle cx="72.6" cy="690.1" r="2.9" fill="#8f8f8f" stroke="#2b2b2b" stroke-width="0.7"/>
<line x1="94.5" y1="692" x2="94.5" y2="695.2" stroke="#1e1e1e" stroke-width="0.8"/>
<text x="94.5" y="703.9" font-size="5.9" text-anchor="middle" textLength="3.6" lengthAdjust="spacingAndGlyphs">D</text>
<circle cx="92.8" cy="653.8" r="2.9" fill="#e7a636" stroke="#2b2b2b" stroke-width="0.7"/>
<circle cx="92.3" cy="661.7" r="2.9" fill="#e7a636" stroke="#2b2b2b" stroke-width="0.7"/>
<circle cx="97.1" cy="662.9" r="2.9" fill="#e7a636" stroke="#2b2b2b" stroke-width="0.7"/>
<circle cx="94.3" cy="663.5" r="2.9" fill="#e7a636" stroke="#2b2b2b" stroke-width="0.7"/>
<circle cx="96.8" cy="664.7" r="2.9" fill="#e7a636" stroke="#2b2b2b" stroke-width="0.7"/>
<circle cx="92" cy="667.1" r="2.9" fill="#e7a636" stroke="#2b2b2b" stroke-width="0.7"/>
<circle cx="95.4" cy="668.3" r="2.9" fill="#e7a636" stroke="#2b2b2b" stroke-width="0.7"/>
<line x1="74.1" y1="647.6" x2="95.5" y2="647.6" stroke="#6f6f6f" stroke-width="0.9"/>
<text x="85" y="648" font-size="5.2" text-anchor="middle" fill="#e0504a">***</text>
<rect x="140.7" y="628.5" width="66.2" height="12.8" fill="#cec7cb" stroke="#1e1e1e" stroke-width="1.1"/>
<text x="173.8" y="638" font-size="8.8" text-anchor="middle" textLength="29.3" lengthAdjust="spacingAndGlyphs">FCER1G</text>
<rect x="140.7" y="641.3" width="66.2" height="51.1" fill="none" stroke="#1e1e1e" stroke-width="1.1"/>
<line x1="137.9" y1="685.5" x2="140.7" y2="685.5" stroke="#1e1e1e" stroke-width="0.8"/>
<text x="135" y="687.4" font-size="5.6" text-anchor="end">100</text>
<line x1="137.9" y1="675.6" x2="140.7" y2="675.6" stroke="#1e1e1e" stroke-width="0.8"/>
<text x="135" y="677.5" font-size="5.6" text-anchor="end">200</text>
<line x1="137.9" y1="665.6" x2="140.7" y2="665.6" stroke="#1e1e1e" stroke-width="0.8"/>
<text x="135" y="667.5" font-size="5.6" text-anchor="end">300</text>
<line x1="137.9" y1="655.7" x2="140.7" y2="655.7" stroke="#1e1e1e" stroke-width="0.8"/>
<text x="135" y="657.6" font-size="5.6" text-anchor="end">400</text>
<line x1="137.9" y1="645.8" x2="140.7" y2="645.8" stroke="#1e1e1e" stroke-width="0.8"/>
<text x="135" y="647.6" font-size="5.6" text-anchor="end">500</text>
<line x1="153" y1="692.4" x2="153" y2="695.6" stroke="#1e1e1e" stroke-width="0.8"/>
<text x="153" y="704.3" font-size="5.9" text-anchor="middle" textLength="8.7" lengthAdjust="spacingAndGlyphs">BM</text>
<circle cx="152.6" cy="680.6" r="2.9" fill="#7fb2e5" stroke="#2b2b2b" stroke-width="0.7"/>
<circle cx="152.5" cy="681.6" r="2.9" fill="#7fb2e5" stroke="#2b2b2b" stroke-width="0.7"/>
<circle cx="155" cy="683.1" r="2.9" fill="#7fb2e5" stroke="#2b2b2b" stroke-width="0.7"/>
<circle cx="151.7" cy="684.6" r="2.9" fill="#7fb2e5" stroke="#2b2b2b" stroke-width="0.7"/>
<circle cx="153.4" cy="685.5" r="2.9" fill="#7fb2e5" stroke="#2b2b2b" stroke-width="0.7"/>
<circle cx="153.9" cy="686" r="2.9" fill="#7fb2e5" stroke="#2b2b2b" stroke-width="0.7"/>
<circle cx="152" cy="687" r="2.9" fill="#7fb2e5" stroke="#2b2b2b" stroke-width="0.7"/>
<circle cx="151.6" cy="687.5" r="2.9" fill="#7fb2e5" stroke="#2b2b2b" stroke-width="0.7"/>
<circle cx="153.1" cy="688.3" r="2.9" fill="#7fb2e5" stroke="#2b2b2b" stroke-width="0.7"/>
<line x1="173" y1="692.4" x2="173" y2="695.6" stroke="#1e1e1e" stroke-width="0.8"/>
<text x="173" y="704.3" font-size="5.9" text-anchor="middle" textLength="3.6" lengthAdjust="spacingAndGlyphs">R</text>
<circle cx="173.5" cy="682.6" r="2.9" fill="#8f8f8f" stroke="#2b2b2b" stroke-width="0.7"/>
<circle cx="170.6" cy="684.6" r="2.9" fill="#8f8f8f" stroke="#2b2b2b" stroke-width="0.7"/>
<circle cx="173.8" cy="685.5" r="2.9" fill="#8f8f8f" stroke="#2b2b2b" stroke-width="0.7"/>
<circle cx="172.5" cy="687.5" r="2.9" fill="#8f8f8f" stroke="#2b2b2b" stroke-width="0.7"/>
<circle cx="171.7" cy="689.5" r="2.9" fill="#8f8f8f" stroke="#2b2b2b" stroke-width="0.7"/>
<circle cx="170.7" cy="690" r="2.9" fill="#8f8f8f" stroke="#2b2b2b" stroke-width="0.7"/>
<line x1="194.2" y1="692.4" x2="194.2" y2="695.6" stroke="#1e1e1e" stroke-width="0.8"/>
<text x="194.2" y="704.3" font-size="5.9" text-anchor="middle" textLength="3.6" lengthAdjust="spacingAndGlyphs">D</text>
<circle cx="192.5" cy="655.7" r="2.9" fill="#e7a636" stroke="#2b2b2b" stroke-width="0.7"/>
<circle cx="196.5" cy="656.7" r="2.9" fill="#e7a636" stroke="#2b2b2b" stroke-width="0.7"/>
<circle cx="193.8" cy="658.7" r="2.9" fill="#e7a636" stroke="#2b2b2b" stroke-width="0.7"/>
<circle cx="192.6" cy="659.7" r="2.9" fill="#e7a636" stroke="#2b2b2b" stroke-width="0.7"/>
<circle cx="195.7" cy="662.7" r="2.9" fill="#e7a636" stroke="#2b2b2b" stroke-width="0.7"/>
<circle cx="191.7" cy="665.6" r="2.9" fill="#e7a636" stroke="#2b2b2b" stroke-width="0.7"/>
<circle cx="196.7" cy="666.6" r="2.9" fill="#e7a636" stroke="#2b2b2b" stroke-width="0.7"/>
<circle cx="194.8" cy="668.6" r="2.9" fill="#e7a636" stroke="#2b2b2b" stroke-width="0.7"/>
<circle cx="192.8" cy="670.6" r="2.9" fill="#e7a636" stroke="#2b2b2b" stroke-width="0.7"/>
<circle cx="196" cy="671.6" r="2.9" fill="#e7a636" stroke="#2b2b2b" stroke-width="0.7"/>
<circle cx="195" cy="677.6" r="2.9" fill="#e7a636" stroke="#2b2b2b" stroke-width="0.7"/>
<line x1="173.5" y1="647.6" x2="195.2" y2="647.6" stroke="#6f6f6f" stroke-width="0.9"/>
<text x="184.6" y="648" font-size="5.2" text-anchor="middle" fill="#e0504a">***</text>
<rect x="240.3" y="628.5" width="66" height="12.8" fill="#cec7cb" stroke="#1e1e1e" stroke-width="1.1"/>
<text x="273.3" y="638" font-size="8.8" text-anchor="middle" textLength="23.7" lengthAdjust="spacingAndGlyphs">CSF1R</text>
<rect x="240.3" y="641.3" width="66" height="51.1" fill="none" stroke="#1e1e1e" stroke-width="1.1"/>
<line x1="237.5" y1="685.6" x2="240.3" y2="685.6" stroke="#1e1e1e" stroke-width="0.8"/>
<text x="235" y="687.5" font-size="5.6" text-anchor="end">50</text>
<line x1="237.5" y1="674.5" x2="240.3" y2="674.5" stroke="#1e1e1e" stroke-width="0.8"/>
<text x="235" y="676.4" font-size="5.6" text-anchor="end">100</text>
<line x1="237.5" y1="663.4" x2="240.3" y2="663.4" stroke="#1e1e1e" stroke-width="0.8"/>
<text x="235" y="665.3" font-size="5.6" text-anchor="end">150</text>
<line x1="237.5" y1="652.3" x2="240.3" y2="652.3" stroke="#1e1e1e" stroke-width="0.8"/>
<text x="235" y="654.2" font-size="5.6" text-anchor="end">200</text>
<line x1="253" y1="692.4" x2="253" y2="695.6" stroke="#1e1e1e" stroke-width="0.8"/>
<text x="253" y="704.3" font-size="5.9" text-anchor="middle" textLength="8.7" lengthAdjust="spacingAndGlyphs">BM</text>
<circle cx="255.2" cy="680.1" r="2.9" fill="#7fb2e5" stroke="#2b2b2b" stroke-width="0.7"/>
<circle cx="250.9" cy="681.2" r="2.9" fill="#7fb2e5" stroke="#2b2b2b" stroke-width="0.7"/>
<circle cx="252.3" cy="682.9" r="2.9" fill="#7fb2e5" stroke="#2b2b2b" stroke-width="0.7"/>
<circle cx="250.9" cy="684.5" r="2.9" fill="#7fb2e5" stroke="#2b2b2b" stroke-width="0.7"/>
<circle cx="255.5" cy="686.3" r="2.9" fill="#7fb2e5" stroke="#2b2b2b" stroke-width="0.7"/>
<circle cx="255.1" cy="687.4" r="2.9" fill="#7fb2e5" stroke="#2b2b2b" stroke-width="0.7"/>
<circle cx="250.6" cy="688.9" r="2.9" fill="#7fb2e5" stroke="#2b2b2b" stroke-width="0.7"/>
<circle cx="250.5" cy="690" r="2.9" fill="#7fb2e5" stroke="#2b2b2b" stroke-width="0.7"/>
<line x1="273" y1="692.4" x2="273" y2="695.6" stroke="#1e1e1e" stroke-width="0.8"/>
<text x="273" y="704.3" font-size="5.9" text-anchor="middle" textLength="3.6" lengthAdjust="spacingAndGlyphs">R</text>
<circle cx="274.7" cy="677.2" r="2.9" fill="#8f8f8f" stroke="#2b2b2b" stroke-width="0.7"/>
<circle cx="270.6" cy="677.8" r="2.9" fill="#8f8f8f" stroke="#2b2b2b" stroke-width="0.7"/>
<circle cx="273" cy="678.9" r="2.9" fill="#8f8f8f" stroke="#2b2b2b" stroke-width="0.7"/>
<circle cx="273.6" cy="684" r="2.9" fill="#8f8f8f" stroke="#2b2b2b" stroke-width="0.7"/>
<circle cx="270.5" cy="686.7" r="2.9" fill="#8f8f8f" stroke="#2b2b2b" stroke-width="0.7"/>
<circle cx="275.2" cy="688.3" r="2.9" fill="#8f8f8f" stroke="#2b2b2b" stroke-width="0.7"/>
<circle cx="271.8" cy="690" r="2.9" fill="#8f8f8f" stroke="#2b2b2b" stroke-width="0.7"/>
<circle cx="271.6" cy="690.7" r="2.9" fill="#8f8f8f" stroke="#2b2b2b" stroke-width="0.7"/>
<line x1="293.6" y1="692.4" x2="293.6" y2="695.6" stroke="#1e1e1e" stroke-width="0.8"/>
<text x="293.6" y="704.3" font-size="5.9" text-anchor="middle" textLength="3.6" lengthAdjust="spacingAndGlyphs">D</text>
<circle cx="295.9" cy="655.6" r="2.9" fill="#e7a636" stroke="#2b2b2b" stroke-width="0.7"/>
<circle cx="291.6" cy="661.2" r="2.9" fill="#e7a636" stroke="#2b2b2b" stroke-width="0.7"/>
<circle cx="295.6" cy="663.8" r="2.9" fill="#e7a636" stroke="#2b2b2b" stroke-width="0.7"/>
<circle cx="291.4" cy="665.6" r="2.9" fill="#e7a636" stroke="#2b2b2b" stroke-width="0.7"/>
<circle cx="294.3" cy="669.6" r="2.9" fill="#e7a636" stroke="#2b2b2b" stroke-width="0.7"/>
<circle cx="292.4" cy="671.2" r="2.9" fill="#e7a636" stroke="#2b2b2b" stroke-width="0.7"/>
<circle cx="293.6" cy="675.6" r="2.9" fill="#e7a636" stroke="#2b2b2b" stroke-width="0.7"/>
<circle cx="293.8" cy="681.2" r="2.9" fill="#e7a636" stroke="#2b2b2b" stroke-width="0.7"/>
<line x1="273.5" y1="647.6" x2="294.6" y2="647.6" stroke="#6f6f6f" stroke-width="0.9"/>
<text x="284.3" y="648" font-size="5.2" text-anchor="middle" fill="#e0504a">***</text>
<rect x="343.4" y="628.5" width="66" height="12.8" fill="#cec7cb" stroke="#1e1e1e" stroke-width="1.1"/>
<text x="376.4" y="638" font-size="8.8" text-anchor="middle" textLength="21.1" lengthAdjust="spacingAndGlyphs">SIRPA</text>
<rect x="343.4" y="641.3" width="66" height="51.1" fill="none" stroke="#1e1e1e" stroke-width="1.1"/>
<line x1="340.6" y1="688.8" x2="343.4" y2="688.8" stroke="#1e1e1e" stroke-width="0.8"/>
<text x="337" y="690.7" font-size="5.6" text-anchor="end">0</text>
<line x1="340.6" y1="675.1" x2="343.4" y2="675.1" stroke="#1e1e1e" stroke-width="0.8"/>
<text x="337" y="677" font-size="5.6" text-anchor="end">500</text>
<line x1="340.6" y1="661.4" x2="343.4" y2="661.4" stroke="#1e1e1e" stroke-width="0.8"/>
<text x="337" y="663.3" font-size="5.6" text-anchor="end">1000</text>
<line x1="340.6" y1="647.7" x2="343.4" y2="647.7" stroke="#1e1e1e" stroke-width="0.8"/>
<text x="337" y="649.6" font-size="5.6" text-anchor="end">1500</text>
<line x1="356.1" y1="692.4" x2="356.1" y2="695.6" stroke="#1e1e1e" stroke-width="0.8"/>
<text x="356.1" y="704.3" font-size="5.9" text-anchor="middle" textLength="8.7" lengthAdjust="spacingAndGlyphs">BM</text>
<circle cx="358.2" cy="654" r="2.9" fill="#7fb2e5" stroke="#2b2b2b" stroke-width="0.7"/>
<circle cx="356.4" cy="658.7" r="2.9" fill="#7fb2e5" stroke="#2b2b2b" stroke-width="0.7"/>
<circle cx="353.8" cy="660" r="2.9" fill="#7fb2e5" stroke="#2b2b2b" stroke-width="0.7"/>
<circle cx="357.2" cy="662.8" r="2.9" fill="#7fb2e5" stroke="#2b2b2b" stroke-width="0.7"/>
<circle cx="356.4" cy="664.1" r="2.9" fill="#7fb2e5" stroke="#2b2b2b" stroke-width="0.7"/>
<circle cx="354" cy="665.2" r="2.9" fill="#7fb2e5" stroke="#2b2b2b" stroke-width="0.7"/>
<line x1="376.2" y1="692.4" x2="376.2" y2="695.6" stroke="#1e1e1e" stroke-width="0.8"/>
<text x="376.2" y="704.3" font-size="5.9" text-anchor="middle" textLength="3.6" lengthAdjust="spacingAndGlyphs">R</text>
<circle cx="378.8" cy="689.3" r="2.9" fill="#8f8f8f" stroke="#2b2b2b" stroke-width="0.7"/>
<circle cx="374.3" cy="689.6" r="2.9" fill="#8f8f8f" stroke="#2b2b2b" stroke-width="0.7"/>
<circle cx="377" cy="689.9" r="2.9" fill="#8f8f8f" stroke="#2b2b2b" stroke-width="0.7"/>
<line x1="396.7" y1="692.4" x2="396.7" y2="695.6" stroke="#1e1e1e" stroke-width="0.8"/>
<text x="396.7" y="704.3" font-size="5.9" text-anchor="middle" textLength="3.6" lengthAdjust="spacingAndGlyphs">D</text>
<circle cx="398" cy="657.3" r="2.9" fill="#e7a636" stroke="#2b2b2b" stroke-width="0.7"/>
<circle cx="394.1" cy="659.2" r="2.9" fill="#e7a636" stroke="#2b2b2b" stroke-width="0.7"/>
<circle cx="399" cy="666.3" r="2.9" fill="#e7a636" stroke="#2b2b2b" stroke-width="0.7"/>
<circle cx="395.7" cy="669.1" r="2.9" fill="#e7a636" stroke="#2b2b2b" stroke-width="0.7"/>
<circle cx="395.3" cy="671" r="2.9" fill="#e7a636" stroke="#2b2b2b" stroke-width="0.7"/>
<circle cx="398.1" cy="672.4" r="2.9" fill="#e7a636" stroke="#2b2b2b" stroke-width="0.7"/>
<circle cx="394.2" cy="673.7" r="2.9" fill="#e7a636" stroke="#2b2b2b" stroke-width="0.7"/>
<circle cx="394.1" cy="675.1" r="2.9" fill="#e7a636" stroke="#2b2b2b" stroke-width="0.7"/>
<circle cx="394.9" cy="679.2" r="2.9" fill="#e7a636" stroke="#2b2b2b" stroke-width="0.7"/>
<line x1="376.7" y1="647.6" x2="397.7" y2="647.6" stroke="#6f6f6f" stroke-width="0.9"/>
<text x="387.4" y="648" font-size="5.2" text-anchor="middle" fill="#e0504a">***</text>
<rect x="446.4" y="627.4" width="66.2" height="13.3" fill="#cec7cb" stroke="#1e1e1e" stroke-width="1.1"/>
<text x="479.5" y="637.4" font-size="8.8" text-anchor="middle" textLength="21.9" lengthAdjust="spacingAndGlyphs">CD11b</text>
<rect x="446.4" y="640.7" width="66.2" height="50.8" fill="none" stroke="#1e1e1e" stroke-width="1.1"/>
<line x1="443.6" y1="689.8" x2="446.4" y2="689.8" stroke="#1e1e1e" stroke-width="0.8"/>
<text x="440.7" y="691.7" font-size="5.6" text-anchor="end">0</text>
<line x1="443.6" y1="677.3" x2="446.4" y2="677.3" stroke="#1e1e1e" stroke-width="0.8"/>
<text x="440.7" y="679.2" font-size="5.6" text-anchor="end">1000</text>
<line x1="443.6" y1="664.8" x2="446.4" y2="664.8" stroke="#1e1e1e" stroke-width="0.8"/>
<text x="440.7" y="666.7" font-size="5.6" text-anchor="end">2000</text>
<line x1="443.6" y1="652.3" x2="446.4" y2="652.3" stroke="#1e1e1e" stroke-width="0.8"/>
<text x="440.7" y="654.2" font-size="5.6" text-anchor="end">3000</text>
<line x1="459.1" y1="691.5" x2="459.1" y2="694.7" stroke="#1e1e1e" stroke-width="0.8"/>
<text x="459.1" y="703.4" font-size="5.9" text-anchor="middle" textLength="8.7" lengthAdjust="spacingAndGlyphs">BM</text>
<circle cx="458.7" cy="652.9" r="2.9" fill="#7fb2e5" stroke="#2b2b2b" stroke-width="0.7"/>
<circle cx="460" cy="654.2" r="2.9" fill="#7fb2e5" stroke="#2b2b2b" stroke-width="0.7"/>
<circle cx="458" cy="655.4" r="2.9" fill="#7fb2e5" stroke="#2b2b2b" stroke-width="0.7"/>
<circle cx="457.2" cy="656.7" r="2.9" fill="#7fb2e5" stroke="#2b2b2b" stroke-width="0.7"/>
<circle cx="459" cy="657.9" r="2.9" fill="#7fb2e5" stroke="#2b2b2b" stroke-width="0.7"/>
<circle cx="457.8" cy="659.2" r="2.9" fill="#7fb2e5" stroke="#2b2b2b" stroke-width="0.7"/>
<circle cx="461.2" cy="661.7" r="2.9" fill="#7fb2e5" stroke="#2b2b2b" stroke-width="0.7"/>
<line x1="479.4" y1="691.5" x2="479.4" y2="694.7" stroke="#1e1e1e" stroke-width="0.8"/>
<text x="479.4" y="703.4" font-size="5.9" text-anchor="middle" textLength="3.6" lengthAdjust="spacingAndGlyphs">R</text>
<circle cx="480.8" cy="688.5" r="2.9" fill="#8f8f8f" stroke="#2b2b2b" stroke-width="0.7"/>
<circle cx="477.7" cy="688.8" r="2.9" fill="#8f8f8f" stroke="#2b2b2b" stroke-width="0.7"/>
<circle cx="478.8" cy="689" r="2.9" fill="#8f8f8f" stroke="#2b2b2b" stroke-width="0.7"/>
<line x1="499.9" y1="691.5" x2="499.9" y2="694.7" stroke="#1e1e1e" stroke-width="0.8"/>
<text x="499.9" y="703.4" font-size="5.9" text-anchor="middle" textLength="3.6" lengthAdjust="spacingAndGlyphs">D</text>
<circle cx="498.9" cy="687" r="2.9" fill="#e7a636" stroke="#2b2b2b" stroke-width="0.7"/>
<circle cx="500.1" cy="687.5" r="2.9" fill="#e7a636" stroke="#2b2b2b" stroke-width="0.7"/>
<circle cx="497.7" cy="687.9" r="2.9" fill="#e7a636" stroke="#2b2b2b" stroke-width="0.7"/>
<circle cx="501" cy="688.3" r="2.9" fill="#e7a636" stroke="#2b2b2b" stroke-width="0.7"/>
<circle cx="500.9" cy="688.7" r="2.9" fill="#e7a636" stroke="#2b2b2b" stroke-width="0.7"/>
<line x1="479.9" y1="647.6" x2="500.9" y2="647.6" stroke="#6f6f6f" stroke-width="0.9"/>
<text x="490.6" y="648" font-size="5.2" text-anchor="middle" fill="#e0504a">***</text>
<circle cx="181.7" cy="713.6" r="2.4" fill="#7fb2e5"/>
<text x="186.9" y="715.3" font-size="5.2" textLength="72.1" lengthAdjust="spacingAndGlyphs" fill="#231f20">BM: Gr-1<tspan font-size="3.6" dy="-1.6">+</tspan><tspan dy="1.6">CD11b</tspan><tspan font-size="3.6" dy="-1.6">+</tspan><tspan dy="1.6"> bone marrow</tspan></text>
<circle cx="278.8" cy="713.6" r="2.4" fill="#e0a030"/>
<text x="283" y="715.3" font-size="5.2" textLength="28" lengthAdjust="spacingAndGlyphs">D: Dormant</text>
<circle cx="325.4" cy="713.6" r="2.4" fill="#c8c8c8"/>
<text x="331.2" y="715.3" font-size="5.2" textLength="32.8" lengthAdjust="spacingAndGlyphs">R: Reactivated</text>
<rect x="0" y="1" width="520" height="1" fill="#b4b4b4"/>
<rect x="0" y="722" width="520" height="1" fill="#8e8e8e"/>
<rect x="518" y="0" width="1" height="724" fill="#8e8e8e"/>
<rect x="1" y="0" width="1" height="724" fill="#a0a0a0"/>
<rect x="0" y="0" width="520" height="1" fill="#4a4a4a"/>
<rect x="0" y="723" width="520" height="1" fill="#4a4a4a"/>
<rect x="519" y="0" width="1" height="724" fill="#4a4a4a"/>
<rect x="0" y="0" width="1" height="724" fill="#080808"/>
</svg>
</body></html>
